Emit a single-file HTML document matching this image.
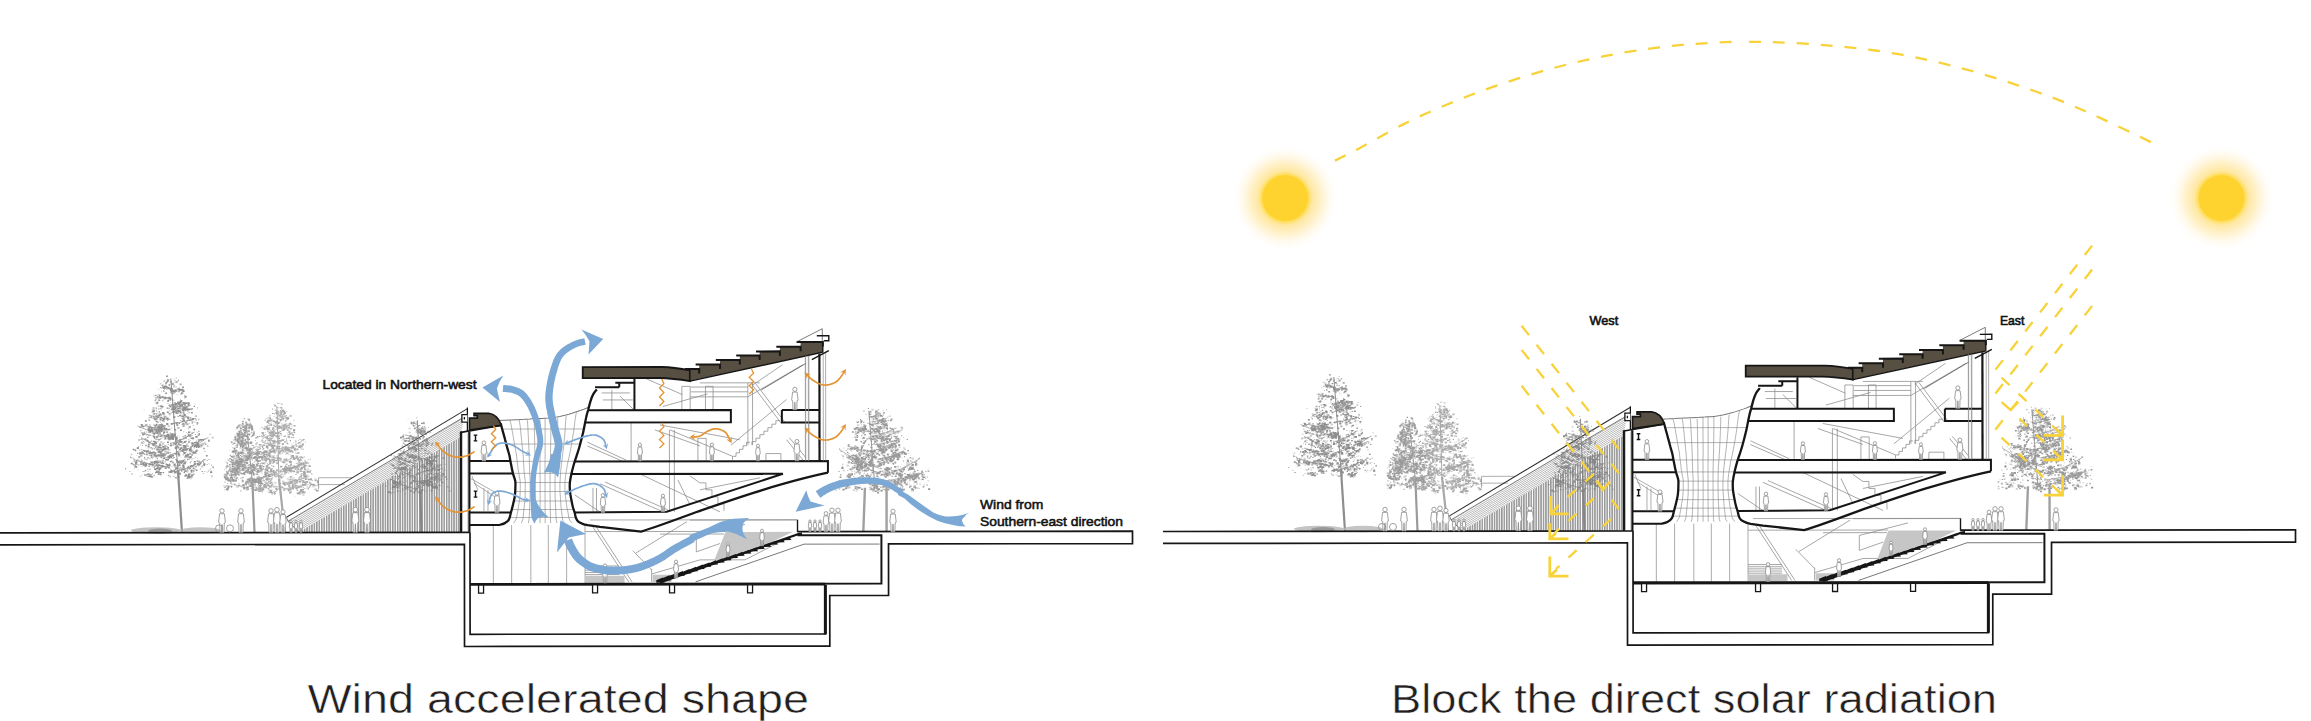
<!DOCTYPE html><html><head><meta charset="utf-8"><style>html,body{margin:0;padding:0;background:#fff;overflow:hidden}svg{display:block}</style></head><body>
<svg width="2311" height="721" viewBox="0 0 2311 721">
<defs><g id="base"><g fill="#a8a8a8" opacity="1.0"><path d="M285.0,532 L279.0,478.0" stroke="#a8a8a8" stroke-width="2.2" fill="none"/><path d="M279.0,478.0 Q278.0,440.0 277.0,406.0" stroke="#a8a8a8" stroke-width="1.0" fill="none"/><path d="M277.8,412.8 Q281.2,412.0 284.7,409.7 M278.2,418.0 Q282.4,417.4 286.7,415.5 M278.5,422.2 Q273.1,421.0 267.8,417.2 M278.9,427.7 Q285.7,426.7 292.6,423.8 M279.3,433.5 Q272.3,431.8 265.3,426.6 M279.5,436.1 Q273.2,434.7 266.9,430.6 M279.9,442.3 Q270.5,440.5 261.1,435.2 M280.2,446.6 Q271.1,445.3 261.9,441.6 M280.5,450.6 Q291.7,448.0 302.9,440.3 M281.1,458.8 Q272.1,457.6 263.1,453.7 M281.2,460.6 Q270.1,459.7 259.1,457.0 M281.9,469.3 Q295.6,467.6 309.4,462.5 M282.0,471.3 Q293.9,468.7 305.8,461.1 M282.4,476.4 Q269.1,473.2 255.9,463.4 M282.8,482.8 Q296.0,481.1 309.2,476.1 M283.2,488.5 Q295.9,487.4 308.6,484.3" stroke="#a8a8a8" stroke-width="0.7" fill="none"/><path d="M283.6,413.0h1.4v1.2h-1.4zM279.7,411.7h1.1v0.9h-1.1zM279.8,413.4h1.3v1.0h-1.3zM279.6,413.5h1.3v1.0h-1.3zM280.9,412.8h1.4v1.2h-1.4zM290.1,415.4h0.9v0.8h-0.9zM276.4,416.8h1.4v1.2h-1.4zM283.3,417.9h1.1v0.9h-1.1zM284.8,415.9h2.2v1.8h-2.2zM272.2,418.2h1.3v1.0h-1.3zM265.9,417.6h1.7v1.4h-1.7zM273.3,422.8h0.8v0.6h-0.8zM269.6,416.8h1.4v1.2h-1.4zM268.7,416.2h1.7v1.4h-1.7zM288.4,427.1h0.9v0.8h-0.9zM284.3,424.2h2.2v1.8h-2.2zM282.8,423.5h0.8v0.6h-0.8zM288.3,425.9h1.3v1.0h-1.3zM287.5,425.2h1.9v1.5h-1.9zM287.8,429.6h1.3v1.0h-1.3zM277.2,427.3h1.4v1.2h-1.4zM281.5,428.5h1.4v1.2h-1.4zM279.2,430.3h0.9v0.8h-0.9zM291.5,427.9h0.9v0.8h-0.9zM279.0,427.6h0.8v0.6h-0.8zM269.1,426.8h1.3v1.0h-1.3zM264.6,426.4h1.4v1.2h-1.4zM267.3,424.9h1.7v1.4h-1.7zM278.4,434.9h1.9v1.5h-1.9zM266.7,424.7h1.7v1.4h-1.7zM264.1,425.7h1.1v0.9h-1.1zM275.7,431.5h1.1v0.9h-1.1zM273.5,433.2h1.7v1.4h-1.7zM264.7,432.0h1.3v1.0h-1.3zM271.1,431.4h1.3v1.0h-1.3zM272.6,432.1h1.3v1.0h-1.3zM270.0,432.0h1.4v1.2h-1.4zM279.3,443.0h1.1v0.9h-1.1zM268.7,443.3h1.4v1.2h-1.4zM260.8,435.5h1.9v1.5h-1.9zM263.1,440.9h2.2v1.8h-2.2zM273.7,439.3h1.1v0.9h-1.1zM266.0,444.3h1.3v1.0h-1.3zM266.9,441.6h2.2v1.8h-2.2zM261.7,444.4h1.7v1.4h-1.7zM271.6,442.1h2.2v1.8h-2.2zM267.1,444.5h1.9v1.5h-1.9zM271.6,449.0h2.2v1.8h-2.2zM277.4,445.7h0.8v0.6h-0.8zM267.9,445.4h0.9v0.8h-0.9zM261.3,444.3h1.4v1.2h-1.4zM273.0,443.7h1.7v1.4h-1.7zM273.3,446.1h1.1v0.9h-1.1zM277.6,446.0h2.2v1.8h-2.2zM301.2,441.5h0.8v0.6h-0.8zM282.7,447.9h1.1v0.9h-1.1zM287.0,446.6h2.2v1.8h-2.2zM286.1,447.9h2.2v1.8h-2.2zM301.3,438.9h2.2v1.8h-2.2zM279.8,450.6h1.7v1.4h-1.7zM286.5,450.1h1.4v1.2h-1.4zM298.4,444.4h1.9v1.5h-1.9zM300.5,445.0h1.3v1.0h-1.3zM285.8,448.3h1.1v0.9h-1.1zM290.0,446.6h2.2v1.8h-2.2zM267.7,458.1h1.4v1.2h-1.4zM272.5,458.8h2.2v1.8h-2.2zM268.0,457.0h2.2v1.8h-2.2zM270.9,456.8h1.7v1.4h-1.7zM274.6,457.1h1.4v1.2h-1.4zM272.8,455.1h1.4v1.2h-1.4zM267.7,455.5h0.8v0.6h-0.8zM276.7,459.3h1.1v0.9h-1.1zM268.1,452.3h1.1v0.9h-1.1zM277.4,455.4h1.7v1.4h-1.7zM276.1,454.6h1.9v1.5h-1.9zM268.7,454.5h2.2v1.8h-2.2zM265.1,450.8h1.1v0.9h-1.1zM278.4,457.4h2.2v1.8h-2.2zM264.8,457.4h1.4v1.2h-1.4zM279.8,458.6h2.2v1.8h-2.2zM265.9,458.6h1.7v1.4h-1.7zM272.4,457.6h1.4v1.2h-1.4zM263.4,458.5h1.7v1.4h-1.7zM258.1,459.8h1.1v0.9h-1.1zM255.9,456.4h0.8v0.6h-0.8zM271.9,460.3h1.7v1.4h-1.7zM277.7,462.3h1.1v0.9h-1.1zM279.5,458.6h1.7v1.4h-1.7zM263.7,461.9h1.3v1.0h-1.3zM257.0,462.5h1.4v1.2h-1.4zM273.0,458.0h2.2v1.8h-2.2zM293.2,466.3h0.9v0.8h-0.9zM283.2,468.5h0.9v0.8h-0.9zM292.0,466.5h1.7v1.4h-1.7zM290.5,467.4h1.4v1.2h-1.4zM305.7,463.1h1.1v0.9h-1.1zM299.7,465.8h0.9v0.8h-0.9zM306.6,466.8h0.9v0.8h-0.9zM295.0,467.0h0.9v0.8h-0.9zM284.1,471.2h1.4v1.2h-1.4zM303.2,466.0h1.3v1.0h-1.3zM283.5,473.3h2.2v1.8h-2.2zM307.7,458.8h1.4v1.2h-1.4zM302.1,460.8h0.8v0.6h-0.8zM286.7,469.0h0.8v0.6h-0.8zM298.3,466.6h1.3v1.0h-1.3zM290.3,469.3h1.7v1.4h-1.7zM277.0,475.5h1.3v1.0h-1.3zM262.9,468.2h0.9v0.8h-0.9zM256.3,468.5h1.1v0.9h-1.1zM274.7,474.3h1.1v0.9h-1.1zM259.0,467.0h0.9v0.8h-0.9zM269.9,473.4h0.9v0.8h-0.9zM264.3,463.6h0.8v0.6h-0.8zM266.7,465.8h2.2v1.8h-2.2zM276.4,473.7h0.9v0.8h-0.9zM263.3,467.4h0.9v0.8h-0.9zM252.1,466.1h1.3v1.0h-1.3zM266.5,468.9h1.3v1.0h-1.3zM279.2,476.3h1.7v1.4h-1.7zM272.4,474.0h0.8v0.6h-0.8zM257.7,465.9h1.1v0.9h-1.1zM269.2,474.8h0.9v0.8h-0.9zM314.4,478.0h1.7v1.4h-1.7zM303.0,475.7h1.3v1.0h-1.3zM284.1,481.6h0.9v0.8h-0.9zM288.3,481.5h0.8v0.6h-0.8zM311.6,479.4h1.7v1.4h-1.7zM304.7,480.6h1.3v1.0h-1.3zM286.3,482.8h1.7v1.4h-1.7zM297.9,480.8h1.3v1.0h-1.3zM302.1,481.0h1.9v1.5h-1.9zM292.7,480.6h0.8v0.6h-0.8zM289.0,482.3h0.9v0.8h-0.9zM290.0,480.5h2.2v1.8h-2.2zM287.4,488.1h1.4v1.2h-1.4zM292.9,487.5h1.3v1.0h-1.3zM304.5,489.4h0.8v0.6h-0.8zM299.0,487.5h0.9v0.8h-0.9zM295.9,484.4h1.9v1.5h-1.9zM294.2,484.7h1.9v1.5h-1.9zM298.5,484.9h1.9v1.5h-1.9zM283.4,487.5h2.2v1.8h-2.2zM311.6,484.3h0.9v0.8h-0.9zM312.1,485.5h1.7v1.4h-1.7zM286.3,489.2h0.8v0.6h-0.8zM283.5,489.4h1.7v1.4h-1.7zM265.8,485.4h1.3v1.0h-1.3zM266.2,483.1h0.9v0.8h-0.9zM266.5,484.7h0.8v0.6h-0.8zM259.2,485.5h1.3v1.0h-1.3zM281.1,488.8h0.8v0.6h-0.8zM279.7,488.6h1.7v1.4h-1.7zM279.4,487.9h1.7v1.4h-1.7zM277.6,487.7h2.2v1.8h-2.2zM282.6,459.4h0.8v0.6h-0.8zM285.2,459.0h0.8v0.6h-0.8zM286.6,459.9h2.2v1.8h-2.2zM281.4,460.5h2.2v1.8h-2.2zM283.7,459.9h1.3v1.0h-1.3zM284.8,458.9h0.8v0.6h-0.8zM283.3,458.3h1.7v1.4h-1.7zM288.0,458.6h1.7v1.4h-1.7zM285.2,457.8h2.2v1.8h-2.2zM293.8,465.1h0.9v0.8h-0.9zM287.1,460.6h0.8v0.6h-0.8zM282.3,461.1h1.1v0.9h-1.1zM297.3,467.8h1.1v0.9h-1.1zM296.2,469.3h2.2v1.8h-2.2zM296.5,471.4h1.9v1.5h-1.9zM296.7,472.1h1.3v1.0h-1.3zM298.1,471.0h1.7v1.4h-1.7zM297.7,467.2h0.8v0.6h-0.8zM260.8,452.6h1.4v1.2h-1.4zM267.3,451.1h1.9v1.5h-1.9zM264.6,451.3h1.7v1.4h-1.7zM265.0,451.3h1.9v1.5h-1.9zM265.0,451.0h1.9v1.5h-1.9zM264.9,450.1h1.9v1.5h-1.9zM264.2,450.9h2.2v1.8h-2.2zM284.4,467.5h2.2v1.8h-2.2zM285.3,467.5h1.7v1.4h-1.7zM287.1,466.2h1.4v1.2h-1.4zM282.1,467.9h1.9v1.5h-1.9zM287.5,467.6h1.4v1.2h-1.4zM281.2,427.9h1.7v1.4h-1.7zM279.2,426.8h1.9v1.5h-1.9zM279.1,426.8h1.1v0.9h-1.1zM275.9,425.9h1.9v1.5h-1.9zM276.6,429.0h0.9v0.8h-0.9zM271.7,440.5h1.9v1.5h-1.9zM272.9,441.0h1.3v1.0h-1.3zM275.7,444.5h0.8v0.6h-0.8zM290.6,457.6h0.9v0.8h-0.9zM297.1,458.6h2.2v1.8h-2.2zM294.0,458.2h1.4v1.2h-1.4zM293.5,457.4h0.9v0.8h-0.9zM280.4,469.6h2.2v1.8h-2.2zM266.4,464.7h2.2v1.8h-2.2zM265.4,467.5h2.2v1.8h-2.2zM269.2,463.5h1.3v1.0h-1.3zM273.2,490.9h1.1v0.9h-1.1zM267.7,491.4h1.3v1.0h-1.3zM271.5,493.5h1.9v1.5h-1.9zM271.5,482.3h1.9v1.5h-1.9zM270.9,478.4h1.7v1.4h-1.7zM272.1,481.6h0.9v0.8h-0.9zM257.3,484.8h1.1v0.9h-1.1zM255.1,487.3h1.4v1.2h-1.4zM255.2,489.3h1.4v1.2h-1.4zM254.5,486.7h1.4v1.2h-1.4zM254.7,485.7h1.9v1.5h-1.9zM298.5,456.0h2.2v1.8h-2.2zM297.2,457.1h1.4v1.2h-1.4zM290.5,456.6h2.2v1.8h-2.2zM296.0,456.1h1.3v1.0h-1.3zM301.9,457.0h1.9v1.5h-1.9zM289.5,479.8h1.1v0.9h-1.1zM291.5,477.8h2.2v1.8h-2.2zM292.1,480.5h1.9v1.5h-1.9zM293.4,476.9h0.8v0.6h-0.8zM295.1,479.5h1.3v1.0h-1.3zM294.2,479.2h1.1v0.9h-1.1zM296.4,479.9h1.3v1.0h-1.3zM294.7,448.4h2.2v1.8h-2.2zM294.2,447.1h2.2v1.8h-2.2zM291.1,449.5h1.1v0.9h-1.1zM290.8,449.7h1.7v1.4h-1.7zM292.0,447.8h0.9v0.8h-0.9zM268.6,474.6h1.9v1.5h-1.9zM261.0,478.6h0.9v0.8h-0.9zM270.4,477.6h2.2v1.8h-2.2zM267.1,478.4h1.9v1.5h-1.9zM303.3,465.8h0.9v0.8h-0.9zM303.0,471.0h2.2v1.8h-2.2zM306.7,468.6h1.9v1.5h-1.9zM301.1,469.4h1.1v0.9h-1.1zM268.5,484.9h0.9v0.8h-0.9zM263.7,484.8h0.8v0.6h-0.8zM271.3,489.2h1.3v1.0h-1.3zM268.3,487.1h1.7v1.4h-1.7zM266.6,484.6h1.3v1.0h-1.3zM267.5,487.3h1.7v1.4h-1.7zM289.3,448.0h1.4v1.2h-1.4zM290.4,449.5h0.8v0.6h-0.8zM286.9,450.0h1.3v1.0h-1.3zM274.9,471.5h2.2v1.8h-2.2zM276.1,468.5h1.9v1.5h-1.9zM275.1,471.2h0.9v0.8h-0.9zM288.3,481.1h1.9v1.5h-1.9zM289.6,485.8h1.1v0.9h-1.1zM295.1,484.4h2.2v1.8h-2.2zM291.5,483.7h0.8v0.6h-0.8zM291.5,482.4h1.7v1.4h-1.7zM289.7,481.3h2.2v1.8h-2.2zM288.4,482.5h1.1v0.9h-1.1zM285.3,483.3h1.1v0.9h-1.1zM285.1,448.9h1.3v1.0h-1.3zM284.9,448.4h0.8v0.6h-0.8zM285.9,448.7h1.1v0.9h-1.1zM285.3,449.7h2.2v1.8h-2.2zM286.0,449.8h1.7v1.4h-1.7zM288.4,448.3h1.9v1.5h-1.9zM269.4,452.1h1.3v1.0h-1.3zM269.4,450.4h1.9v1.5h-1.9zM274.2,452.1h1.9v1.5h-1.9zM303.0,473.5h1.1v0.9h-1.1zM303.4,474.5h1.7v1.4h-1.7zM301.2,472.9h1.3v1.0h-1.3zM301.9,472.6h0.8v0.6h-0.8zM304.3,472.2h0.9v0.8h-0.9zM303.5,472.9h0.8v0.6h-0.8zM258.5,486.1h1.3v1.0h-1.3zM259.0,487.6h0.9v0.8h-0.9zM263.6,485.1h0.9v0.8h-0.9zM259.4,486.5h2.2v1.8h-2.2zM284.1,447.3h1.1v0.9h-1.1zM280.7,447.8h1.1v0.9h-1.1zM281.7,446.8h1.1v0.9h-1.1zM310.2,482.5h0.8v0.6h-0.8zM308.7,482.4h1.3v1.0h-1.3zM307.4,480.4h1.4v1.2h-1.4zM309.4,481.0h1.1v0.9h-1.1zM309.7,482.3h1.9v1.5h-1.9zM280.7,439.2h1.3v1.0h-1.3zM279.4,437.9h0.8v0.6h-0.8zM302.3,492.6h1.4v1.2h-1.4zM300.3,492.2h1.3v1.0h-1.3zM297.2,492.5h0.8v0.6h-0.8zM302.4,493.8h2.2v1.8h-2.2zM299.6,491.1h1.4v1.2h-1.4zM297.0,492.2h0.8v0.6h-0.8zM290.5,432.2h1.4v1.2h-1.4zM288.1,431.3h1.1v0.9h-1.1zM294.3,433.1h0.9v0.8h-0.9zM289.9,430.3h1.1v0.9h-1.1zM288.9,433.0h2.2v1.8h-2.2zM282.4,480.8h2.2v1.8h-2.2zM273.5,468.2h0.9v0.8h-0.9zM303.5,470.4h1.3v1.0h-1.3zM268.8,487.0h1.4v1.2h-1.4zM288.9,436.5h1.7v1.4h-1.7zM269.9,451.4h1.1v0.9h-1.1zM267.2,443.1h0.8v0.6h-0.8zM276.4,410.6h1.9v1.5h-1.9zM300.6,445.5h2.2v1.8h-2.2zM292.1,476.1h1.4v1.2h-1.4zM295.0,455.3h1.1v0.9h-1.1zM286.4,471.3h1.9v1.5h-1.9zM279.0,452.6h2.2v1.8h-2.2zM268.9,462.3h1.4v1.2h-1.4zM273.5,415.9h1.1v0.9h-1.1zM285.6,459.9h2.2v1.8h-2.2zM274.2,481.4h1.1v0.9h-1.1zM303.7,476.0h1.7v1.4h-1.7zM262.1,488.0h1.4v1.2h-1.4zM270.1,422.5h1.9v1.5h-1.9zM293.1,434.3h0.9v0.8h-0.9zM274.2,454.9h0.8v0.6h-0.8zM281.0,424.4h1.3v1.0h-1.3zM274.3,481.6h2.2v1.8h-2.2zM287.0,434.2h1.3v1.0h-1.3zM256.2,479.3h0.8v0.6h-0.8zM277.5,441.0h0.8v0.6h-0.8zM260.9,439.9h1.9v1.5h-1.9zM256.1,455.9h1.4v1.2h-1.4zM272.8,484.2h1.1v0.9h-1.1zM286.4,478.0h1.1v0.9h-1.1zM282.5,475.7h1.7v1.4h-1.7zM299.4,485.2h0.9v0.8h-0.9zM300.4,447.3h2.2v1.8h-2.2zM285.6,425.2h1.4v1.2h-1.4zM267.1,477.4h1.9v1.5h-1.9zM285.2,487.9h1.9v1.5h-1.9zM277.1,422.9h1.9v1.5h-1.9zM274.4,421.2h1.4v1.2h-1.4zM285.3,452.3h2.2v1.8h-2.2zM286.7,432.1h1.4v1.2h-1.4zM250.0,481.7h2.2v1.8h-2.2zM264.9,437.4h1.1v0.9h-1.1zM268.9,458.1h1.7v1.4h-1.7zM289.9,459.3h1.3v1.0h-1.3zM285.7,442.9h0.8v0.6h-0.8zM270.2,432.3h1.4v1.2h-1.4zM279.9,479.2h1.1v0.9h-1.1zM285.0,470.7h1.3v1.0h-1.3zM269.8,433.9h1.7v1.4h-1.7zM295.3,465.6h2.2v1.8h-2.2zM289.8,466.0h1.4v1.2h-1.4zM258.4,446.3h1.7v1.4h-1.7zM275.4,405.9h0.9v0.8h-0.9zM301.4,445.3h1.3v1.0h-1.3zM281.0,422.9h1.4v1.2h-1.4zM295.0,451.3h1.4v1.2h-1.4zM268.5,459.2h0.8v0.6h-0.8zM300.3,483.4h0.9v0.8h-0.9zM271.3,413.9h0.8v0.6h-0.8zM290.9,424.1h0.8v0.6h-0.8zM281.3,416.0h1.4v1.2h-1.4zM318.6,485.9h1.4v1.2h-1.4zM256.2,488.7h1.4v1.2h-1.4zM279.4,402.8h1.1v0.9h-1.1zM257.4,453.2h2.2v1.8h-2.2zM304.2,459.4h1.9v1.5h-1.9zM294.8,439.6h1.9v1.5h-1.9zM280.8,402.9h0.9v0.8h-0.9zM314.5,475.7h0.8v0.6h-0.8zM268.5,489.2h1.3v1.0h-1.3zM293.2,442.0h1.1v0.9h-1.1zM279.1,409.7h0.9v0.8h-0.9zM265.5,474.0h1.9v1.5h-1.9zM313.8,486.6h0.9v0.8h-0.9zM291.4,437.3h0.8v0.6h-0.8zM248.3,478.5h1.4v1.2h-1.4zM259.1,450.8h0.9v0.8h-0.9zM310.2,482.3h1.4v1.2h-1.4zM285.5,428.0h2.2v1.8h-2.2zM281.9,421.7h0.8v0.6h-0.8zM302.4,456.5h1.9v1.5h-1.9zM262.8,479.4h2.2v1.8h-2.2zM261.1,444.8h1.4v1.2h-1.4zM302.0,490.0h1.7v1.4h-1.7zM284.0,438.1h0.9v0.8h-0.9zM280.6,425.4h1.9v1.5h-1.9zM277.2,415.3h1.9v1.5h-1.9zM276.4,417.4h1.3v1.0h-1.3zM287.3,478.2h2.2v1.8h-2.2zM263.8,450.0h1.3v1.0h-1.3zM268.0,422.4h2.2v1.8h-2.2zM288.8,481.6h2.2v1.8h-2.2zM272.7,412.8h1.3v1.0h-1.3zM261.9,487.6h1.3v1.0h-1.3zM257.8,483.7h1.1v0.9h-1.1zM278.2,406.8h1.4v1.2h-1.4zM301.0,486.4h1.3v1.0h-1.3zM284.6,420.0h1.4v1.2h-1.4zM274.5,438.3h0.8v0.6h-0.8zM307.1,465.2h0.9v0.8h-0.9zM297.5,452.2h1.1v0.9h-1.1z" fill-opacity="0.45"/><path d="M280.3,410.8h1.1v0.9h-1.1zM275.9,410.4h1.1v0.9h-1.1zM280.0,413.1h2.2v1.8h-2.2zM281.0,410.4h1.7v1.4h-1.7zM283.7,415.5h1.1v0.9h-1.1zM280.0,415.5h1.1v0.9h-1.1zM280.9,416.0h0.8v0.6h-0.8zM289.7,414.6h2.2v1.8h-2.2zM275.7,416.6h1.7v1.4h-1.7zM271.2,421.3h0.8v0.6h-0.8zM279.8,421.3h1.3v1.0h-1.3zM277.9,421.4h2.2v1.8h-2.2zM276.1,420.2h2.2v1.8h-2.2zM275.6,422.3h1.3v1.0h-1.3zM269.9,418.0h0.8v0.6h-0.8zM289.9,427.6h2.2v1.8h-2.2zM285.6,424.4h2.2v1.8h-2.2zM281.6,429.4h1.3v1.0h-1.3zM289.1,426.1h1.4v1.2h-1.4zM287.8,424.4h1.7v1.4h-1.7zM293.4,419.4h1.3v1.0h-1.3zM272.2,427.8h0.9v0.8h-0.9zM272.0,432.3h0.9v0.8h-0.9zM278.3,434.9h1.4v1.2h-1.4zM272.6,430.7h1.9v1.5h-1.9zM273.2,433.8h2.2v1.8h-2.2zM276.9,435.5h0.8v0.6h-0.8zM272.5,434.2h1.1v0.9h-1.1zM279.1,431.6h0.9v0.8h-0.9zM281.0,434.9h1.3v1.0h-1.3zM271.1,432.9h1.9v1.5h-1.9zM267.6,427.1h0.8v0.6h-0.8zM268.8,432.8h1.9v1.5h-1.9zM269.4,438.3h0.8v0.6h-0.8zM269.1,437.3h1.7v1.4h-1.7zM266.2,437.5h1.3v1.0h-1.3zM273.1,441.3h1.9v1.5h-1.9zM264.7,436.1h1.4v1.2h-1.4zM267.3,439.2h1.9v1.5h-1.9zM274.7,442.1h1.3v1.0h-1.3zM279.4,442.4h0.9v0.8h-0.9zM267.4,439.3h1.3v1.0h-1.3zM278.7,448.5h1.9v1.5h-1.9zM264.7,443.0h0.9v0.8h-0.9zM269.2,443.1h1.7v1.4h-1.7zM271.0,445.5h2.2v1.8h-2.2zM275.8,445.9h1.7v1.4h-1.7zM271.5,445.7h1.4v1.2h-1.4zM285.4,449.3h1.9v1.5h-1.9zM295.7,444.8h1.9v1.5h-1.9zM284.8,450.4h1.4v1.2h-1.4zM293.2,446.7h1.4v1.2h-1.4zM295.9,445.6h1.3v1.0h-1.3zM279.1,457.1h1.9v1.5h-1.9zM267.2,457.9h1.7v1.4h-1.7zM273.1,458.8h1.9v1.5h-1.9zM263.6,459.8h1.1v0.9h-1.1zM269.3,454.5h2.2v1.8h-2.2zM273.6,459.5h1.1v0.9h-1.1zM278.3,459.0h0.8v0.6h-0.8zM267.9,454.0h2.2v1.8h-2.2zM278.6,458.2h0.8v0.6h-0.8zM260.3,453.5h1.9v1.5h-1.9zM272.4,455.3h2.2v1.8h-2.2zM270.4,460.0h1.3v1.0h-1.3zM264.6,455.9h2.2v1.8h-2.2zM269.3,462.0h2.2v1.8h-2.2zM257.9,457.3h0.8v0.6h-0.8zM266.1,458.3h1.1v0.9h-1.1zM276.9,458.3h1.1v0.9h-1.1zM265.2,460.0h1.9v1.5h-1.9zM291.3,467.2h2.2v1.8h-2.2zM308.0,463.3h0.9v0.8h-0.9zM296.7,464.8h2.2v1.8h-2.2zM305.2,462.6h1.3v1.0h-1.3zM294.5,467.8h2.2v1.8h-2.2zM297.9,461.1h2.2v1.8h-2.2zM290.3,469.7h1.1v0.9h-1.1zM286.1,468.7h2.2v1.8h-2.2zM290.8,471.0h1.4v1.2h-1.4zM303.8,465.9h1.3v1.0h-1.3zM305.0,462.8h0.8v0.6h-0.8zM303.6,464.0h1.4v1.2h-1.4zM290.1,468.5h1.7v1.4h-1.7zM297.2,467.4h1.7v1.4h-1.7zM290.0,467.9h2.2v1.8h-2.2zM285.2,469.9h1.1v0.9h-1.1zM284.3,471.5h1.7v1.4h-1.7zM290.3,468.9h1.4v1.2h-1.4zM295.8,462.5h1.4v1.2h-1.4zM309.2,465.8h1.3v1.0h-1.3zM305.6,461.2h2.2v1.8h-2.2zM286.9,470.9h0.9v0.8h-0.9zM299.0,465.8h0.8v0.6h-0.8zM288.6,468.4h1.9v1.5h-1.9zM294.2,465.4h2.2v1.8h-2.2zM264.5,470.8h1.4v1.2h-1.4zM254.9,465.8h1.4v1.2h-1.4zM265.1,470.0h0.9v0.8h-0.9zM264.8,469.3h2.2v1.8h-2.2zM261.8,471.1h1.1v0.9h-1.1zM274.3,474.0h0.8v0.6h-0.8zM278.9,475.3h1.7v1.4h-1.7zM274.2,473.0h0.9v0.8h-0.9zM266.0,471.8h1.7v1.4h-1.7zM261.5,464.9h1.1v0.9h-1.1zM272.6,473.6h1.9v1.5h-1.9zM292.4,479.6h1.3v1.0h-1.3zM284.0,483.8h2.2v1.8h-2.2zM292.1,484.5h2.2v1.8h-2.2zM306.4,474.3h0.8v0.6h-0.8zM300.0,480.5h0.8v0.6h-0.8zM293.6,482.3h1.1v0.9h-1.1zM288.0,482.4h0.8v0.6h-0.8zM283.7,482.8h0.8v0.6h-0.8zM305.9,478.1h1.9v1.5h-1.9zM299.0,476.1h1.7v1.4h-1.7zM302.8,479.8h1.7v1.4h-1.7zM302.6,478.3h0.8v0.6h-0.8zM295.9,480.8h0.8v0.6h-0.8zM302.6,477.4h1.7v1.4h-1.7zM305.0,477.4h1.1v0.9h-1.1zM304.8,477.4h1.3v1.0h-1.3zM288.5,489.1h2.2v1.8h-2.2zM290.0,487.4h1.3v1.0h-1.3zM289.8,487.1h1.3v1.0h-1.3zM306.4,487.3h1.3v1.0h-1.3zM295.6,482.5h0.9v0.8h-0.9zM300.5,484.6h1.1v0.9h-1.1zM287.6,488.1h0.8v0.6h-0.8zM290.9,487.8h0.9v0.8h-0.9zM288.3,488.2h1.7v1.4h-1.7zM267.2,485.0h1.4v1.2h-1.4zM262.8,485.6h0.9v0.8h-0.9zM277.4,485.8h1.4v1.2h-1.4zM273.0,485.4h2.2v1.8h-2.2zM283.6,458.8h1.9v1.5h-1.9zM289.3,459.1h0.8v0.6h-0.8zM284.3,460.3h1.1v0.9h-1.1zM286.8,457.4h0.8v0.6h-0.8zM284.7,459.0h0.8v0.6h-0.8zM288.7,459.4h0.8v0.6h-0.8zM285.8,463.3h1.9v1.5h-1.9zM286.2,467.0h1.3v1.0h-1.3zM298.1,468.7h1.3v1.0h-1.3zM296.9,468.9h1.1v0.9h-1.1zM297.3,470.5h1.7v1.4h-1.7zM296.6,471.5h2.2v1.8h-2.2zM262.5,454.2h2.2v1.8h-2.2zM269.0,452.3h0.9v0.8h-0.9zM261.1,451.2h0.8v0.6h-0.8zM265.7,453.4h1.3v1.0h-1.3zM263.0,451.9h1.9v1.5h-1.9zM261.1,451.4h2.2v1.8h-2.2zM265.1,450.0h1.7v1.4h-1.7zM259.2,450.8h1.9v1.5h-1.9zM260.8,451.6h1.3v1.0h-1.3zM262.3,448.5h1.4v1.2h-1.4zM284.0,467.8h0.8v0.6h-0.8zM283.4,467.8h1.7v1.4h-1.7zM290.2,466.6h1.7v1.4h-1.7zM274.1,424.4h1.4v1.2h-1.4zM277.4,425.1h1.7v1.4h-1.7zM278.6,426.9h1.7v1.4h-1.7zM279.8,426.2h0.9v0.8h-0.9zM272.9,444.2h0.8v0.6h-0.8zM272.2,444.3h1.3v1.0h-1.3zM270.7,444.3h1.4v1.2h-1.4zM293.6,458.2h0.9v0.8h-0.9zM294.5,457.1h2.2v1.8h-2.2zM290.7,455.3h2.2v1.8h-2.2zM290.7,457.9h0.8v0.6h-0.8zM293.2,458.1h0.8v0.6h-0.8zM283.9,469.7h1.7v1.4h-1.7zM286.4,468.1h1.4v1.2h-1.4zM285.9,472.9h0.9v0.8h-0.9zM283.9,467.3h0.9v0.8h-0.9zM283.9,469.4h1.9v1.5h-1.9zM280.1,469.0h0.8v0.6h-0.8zM266.1,466.5h1.3v1.0h-1.3zM270.5,493.1h0.8v0.6h-0.8zM270.4,490.0h1.9v1.5h-1.9zM270.1,481.2h2.2v1.8h-2.2zM270.7,485.9h1.7v1.4h-1.7zM267.5,484.2h0.9v0.8h-0.9zM260.1,487.7h2.2v1.8h-2.2zM258.4,490.3h1.4v1.2h-1.4zM256.0,488.0h0.9v0.8h-0.9zM256.8,488.0h0.8v0.6h-0.8zM296.1,457.6h1.1v0.9h-1.1zM295.9,455.2h1.7v1.4h-1.7zM304.3,456.1h0.9v0.8h-0.9zM293.9,477.3h0.8v0.6h-0.8zM295.1,478.7h1.9v1.5h-1.9zM293.8,477.4h0.8v0.6h-0.8zM298.5,478.1h1.9v1.5h-1.9zM291.8,479.3h1.7v1.4h-1.7zM295.9,480.1h2.2v1.8h-2.2zM291.9,450.8h1.4v1.2h-1.4zM291.0,449.5h1.3v1.0h-1.3zM298.6,446.9h1.1v0.9h-1.1zM271.9,476.5h1.3v1.0h-1.3zM265.4,477.0h0.8v0.6h-0.8zM267.8,477.7h1.9v1.5h-1.9zM265.0,475.5h1.9v1.5h-1.9zM265.8,474.8h1.9v1.5h-1.9zM303.5,470.2h1.9v1.5h-1.9zM303.1,472.8h1.4v1.2h-1.4zM305.5,470.1h0.9v0.8h-0.9zM308.8,470.9h2.2v1.8h-2.2zM304.9,467.7h1.1v0.9h-1.1zM309.6,469.8h1.9v1.5h-1.9zM262.4,487.1h1.9v1.5h-1.9zM271.3,483.5h1.9v1.5h-1.9zM287.6,449.3h1.4v1.2h-1.4zM287.9,448.7h0.8v0.6h-0.8zM287.9,452.1h1.3v1.0h-1.3zM275.0,471.1h1.3v1.0h-1.3zM277.8,469.6h1.3v1.0h-1.3zM272.4,470.7h1.1v0.9h-1.1zM289.9,482.4h0.9v0.8h-0.9zM287.1,482.4h1.7v1.4h-1.7zM290.6,482.9h1.1v0.9h-1.1zM287.3,483.8h1.3v1.0h-1.3zM288.1,484.0h1.4v1.2h-1.4zM287.1,447.6h0.9v0.8h-0.9zM286.7,449.5h1.4v1.2h-1.4zM286.5,448.5h1.1v0.9h-1.1zM285.6,448.4h1.3v1.0h-1.3zM281.0,449.1h1.1v0.9h-1.1zM287.0,449.3h1.4v1.2h-1.4zM281.4,451.2h1.3v1.0h-1.3zM271.1,451.4h1.7v1.4h-1.7zM275.4,452.1h1.1v0.9h-1.1zM274.6,449.8h2.2v1.8h-2.2zM273.3,448.2h1.9v1.5h-1.9zM273.1,451.4h1.7v1.4h-1.7zM275.3,448.5h2.2v1.8h-2.2zM272.8,447.6h0.8v0.6h-0.8zM272.8,449.8h0.8v0.6h-0.8zM279.0,451.0h1.9v1.5h-1.9zM301.1,473.0h0.9v0.8h-0.9zM302.3,473.1h0.8v0.6h-0.8zM302.6,473.2h1.3v1.0h-1.3zM258.0,487.4h1.3v1.0h-1.3zM261.1,487.7h2.2v1.8h-2.2zM253.9,486.1h0.8v0.6h-0.8zM259.0,487.8h2.2v1.8h-2.2zM255.8,489.4h1.3v1.0h-1.3zM281.2,450.0h1.4v1.2h-1.4zM281.9,446.7h1.9v1.5h-1.9zM285.3,445.7h1.9v1.5h-1.9zM282.1,446.3h2.2v1.8h-2.2zM305.8,481.1h0.9v0.8h-0.9zM309.4,482.3h1.3v1.0h-1.3zM285.8,439.9h1.7v1.4h-1.7zM277.8,439.7h1.9v1.5h-1.9zM279.4,440.9h1.7v1.4h-1.7zM297.8,492.5h1.9v1.5h-1.9zM294.6,495.9h0.8v0.6h-0.8zM300.7,491.0h1.1v0.9h-1.1zM303.8,491.8h1.3v1.0h-1.3zM299.0,490.7h1.9v1.5h-1.9zM293.0,431.0h0.8v0.6h-0.8zM293.1,431.0h1.3v1.0h-1.3zM292.4,432.4h0.8v0.6h-0.8zM289.5,432.6h1.3v1.0h-1.3zM283.7,423.4h1.9v1.5h-1.9zM317.0,484.1h1.7v1.4h-1.7zM286.7,446.5h2.2v1.8h-2.2zM304.3,482.1h0.8v0.6h-0.8zM285.1,420.0h1.7v1.4h-1.7zM252.9,485.1h1.3v1.0h-1.3zM300.1,467.8h2.2v1.8h-2.2zM276.8,406.8h0.9v0.8h-0.9zM271.0,464.8h1.3v1.0h-1.3zM288.3,483.5h2.2v1.8h-2.2zM269.1,419.6h2.2v1.8h-2.2zM264.3,450.3h1.3v1.0h-1.3zM292.5,458.6h0.9v0.8h-0.9zM271.0,477.5h1.4v1.2h-1.4zM276.5,469.8h1.7v1.4h-1.7zM288.1,426.8h2.2v1.8h-2.2zM260.1,490.5h1.4v1.2h-1.4zM300.2,473.5h0.9v0.8h-0.9zM278.5,452.4h1.9v1.5h-1.9zM290.0,453.9h0.9v0.8h-0.9zM270.9,472.9h1.7v1.4h-1.7zM253.8,478.4h1.3v1.0h-1.3zM292.0,431.6h0.9v0.8h-0.9zM276.6,440.1h1.3v1.0h-1.3zM290.1,488.4h1.7v1.4h-1.7zM268.5,444.3h1.4v1.2h-1.4zM283.4,449.4h1.4v1.2h-1.4zM271.6,470.3h0.9v0.8h-0.9zM274.6,456.7h0.8v0.6h-0.8zM262.8,438.0h0.8v0.6h-0.8zM267.0,421.8h0.8v0.6h-0.8zM295.2,441.4h1.3v1.0h-1.3zM314.5,488.2h2.2v1.8h-2.2zM270.6,434.0h1.4v1.2h-1.4zM269.9,491.5h1.3v1.0h-1.3zM317.5,489.9h1.7v1.4h-1.7zM280.4,473.3h2.2v1.8h-2.2zM291.6,425.5h0.9v0.8h-0.9zM250.2,481.5h1.9v1.5h-1.9zM282.2,414.7h0.9v0.8h-0.9zM299.2,485.6h1.7v1.4h-1.7zM295.9,486.4h2.2v1.8h-2.2zM282.1,408.0h0.9v0.8h-0.9zM273.0,465.9h0.9v0.8h-0.9zM261.9,444.2h0.8v0.6h-0.8zM254.2,469.6h1.3v1.0h-1.3zM288.5,469.8h0.8v0.6h-0.8zM316.9,479.8h2.2v1.8h-2.2zM291.0,483.2h0.9v0.8h-0.9zM291.6,481.0h0.8v0.6h-0.8zM275.5,485.4h1.4v1.2h-1.4zM256.4,471.5h1.7v1.4h-1.7zM275.6,441.2h1.3v1.0h-1.3zM262.7,433.8h1.4v1.2h-1.4zM295.5,440.9h1.1v0.9h-1.1zM279.3,440.0h2.2v1.8h-2.2zM288.2,472.2h1.3v1.0h-1.3zM280.7,426.7h1.9v1.5h-1.9zM287.9,466.7h2.2v1.8h-2.2zM269.2,437.0h0.8v0.6h-0.8zM291.2,436.4h1.7v1.4h-1.7zM270.0,416.8h0.9v0.8h-0.9zM283.9,473.3h0.8v0.6h-0.8zM285.0,414.7h0.9v0.8h-0.9zM291.3,443.4h1.1v0.9h-1.1zM276.5,463.4h1.1v0.9h-1.1zM291.8,445.1h2.2v1.8h-2.2zM288.8,465.8h0.9v0.8h-0.9zM265.8,425.5h2.2v1.8h-2.2zM300.2,446.7h1.1v0.9h-1.1zM250.3,483.9h2.2v1.8h-2.2zM291.9,426.5h0.8v0.6h-0.8zM256.5,460.5h2.2v1.8h-2.2zM274.1,415.6h0.8v0.6h-0.8zM282.4,418.6h1.7v1.4h-1.7zM302.5,448.5h1.4v1.2h-1.4zM284.5,417.8h0.8v0.6h-0.8zM273.4,424.4h1.1v0.9h-1.1zM282.7,409.4h1.1v0.9h-1.1zM268.2,491.1h0.9v0.8h-0.9zM298.4,451.9h1.4v1.2h-1.4zM313.7,484.5h1.9v1.5h-1.9zM290.5,480.8h2.2v1.8h-2.2zM262.9,437.0h1.1v0.9h-1.1zM263.5,431.7h0.8v0.6h-0.8zM283.7,438.9h0.8v0.6h-0.8zM299.5,444.8h1.3v1.0h-1.3zM267.3,421.6h1.4v1.2h-1.4zM266.3,465.7h0.8v0.6h-0.8zM285.5,425.0h1.4v1.2h-1.4zM307.0,487.7h0.8v0.6h-0.8zM275.0,442.9h0.8v0.6h-0.8zM303.9,468.0h0.8v0.6h-0.8z" fill-opacity="0.7"/><path d="M275.6,411.8h2.2v1.8h-2.2zM280.2,409.8h0.9v0.8h-0.9zM281.2,409.0h0.8v0.6h-0.8zM283.0,410.4h2.2v1.8h-2.2zM281.5,413.1h1.3v1.0h-1.3zM278.7,414.5h2.2v1.8h-2.2zM285.1,411.8h1.1v0.9h-1.1zM280.4,412.0h1.4v1.2h-1.4zM280.3,410.1h1.3v1.0h-1.3zM283.4,413.9h1.4v1.2h-1.4zM280.5,412.1h1.9v1.5h-1.9zM282.3,411.2h1.1v0.9h-1.1zM286.3,410.9h1.1v0.9h-1.1zM282.3,417.1h1.9v1.5h-1.9zM288.9,415.7h0.8v0.6h-0.8zM283.0,413.6h1.3v1.0h-1.3zM279.8,418.8h2.2v1.8h-2.2zM283.6,417.6h0.8v0.6h-0.8zM286.8,416.7h2.2v1.8h-2.2zM286.6,418.5h1.1v0.9h-1.1zM287.6,417.7h1.7v1.4h-1.7zM281.2,417.2h1.3v1.0h-1.3zM280.3,418.7h0.9v0.8h-0.9zM277.3,417.9h1.7v1.4h-1.7zM285.7,417.2h2.2v1.8h-2.2zM286.1,414.9h0.9v0.8h-0.9zM282.4,417.6h0.8v0.6h-0.8zM280.6,418.7h1.4v1.2h-1.4zM277.3,421.8h2.2v1.8h-2.2zM276.9,422.4h1.4v1.2h-1.4zM275.7,422.2h1.1v0.9h-1.1zM276.3,421.9h1.9v1.5h-1.9zM269.8,417.8h1.4v1.2h-1.4zM274.5,420.6h1.3v1.0h-1.3zM277.8,422.4h1.7v1.4h-1.7zM270.5,423.8h1.9v1.5h-1.9zM267.3,419.5h2.2v1.8h-2.2zM268.8,419.5h1.4v1.2h-1.4zM274.7,421.0h2.2v1.8h-2.2zM272.7,420.2h1.9v1.5h-1.9zM264.7,419.5h1.1v0.9h-1.1zM276.2,424.3h1.1v0.9h-1.1zM276.6,422.2h0.9v0.8h-0.9zM285.1,423.3h0.8v0.6h-0.8zM288.8,423.1h1.7v1.4h-1.7zM284.8,424.2h1.3v1.0h-1.3zM287.0,429.0h1.7v1.4h-1.7zM293.7,424.7h1.9v1.5h-1.9zM282.7,424.5h2.2v1.8h-2.2zM290.2,423.0h1.1v0.9h-1.1zM285.5,426.5h2.2v1.8h-2.2zM283.1,427.1h1.3v1.0h-1.3zM293.1,428.8h2.2v1.8h-2.2zM288.8,426.7h1.1v0.9h-1.1zM261.5,427.0h1.3v1.0h-1.3zM274.4,429.2h1.3v1.0h-1.3zM272.1,428.8h1.1v0.9h-1.1zM275.0,432.4h1.7v1.4h-1.7zM270.2,430.9h2.2v1.8h-2.2zM277.9,434.3h0.8v0.6h-0.8zM279.8,432.6h1.9v1.5h-1.9zM266.6,427.4h0.9v0.8h-0.9zM277.8,431.9h1.7v1.4h-1.7zM272.9,432.1h1.7v1.4h-1.7zM273.4,425.3h1.3v1.0h-1.3zM273.1,431.4h0.8v0.6h-0.8zM267.6,427.1h2.2v1.8h-2.2zM272.4,432.0h1.3v1.0h-1.3zM272.5,427.6h1.9v1.5h-1.9zM276.8,432.0h2.2v1.8h-2.2zM264.4,428.6h1.4v1.2h-1.4zM271.2,431.4h1.9v1.5h-1.9zM269.5,429.5h0.9v0.8h-0.9zM277.8,432.5h1.1v0.9h-1.1zM274.2,432.4h0.8v0.6h-0.8zM270.3,432.7h0.9v0.8h-0.9zM277.0,435.4h1.3v1.0h-1.3zM268.7,431.5h1.4v1.2h-1.4zM261.7,431.8h2.2v1.8h-2.2zM271.7,434.9h2.2v1.8h-2.2zM272.8,433.8h2.2v1.8h-2.2zM277.2,436.5h0.9v0.8h-0.9zM272.7,430.2h1.9v1.5h-1.9zM268.0,428.9h1.1v0.9h-1.1zM263.2,434.4h1.7v1.4h-1.7zM266.2,427.6h1.7v1.4h-1.7zM265.2,434.0h0.9v0.8h-0.9zM277.0,436.8h0.8v0.6h-0.8zM277.9,437.1h2.2v1.8h-2.2zM271.6,437.6h1.4v1.2h-1.4zM268.2,435.2h1.3v1.0h-1.3zM263.5,427.6h1.9v1.5h-1.9zM270.8,431.4h1.4v1.2h-1.4zM269.7,439.8h0.9v0.8h-0.9zM268.2,437.8h0.9v0.8h-0.9zM255.2,439.9h0.9v0.8h-0.9zM259.1,435.6h1.3v1.0h-1.3zM268.4,439.6h1.7v1.4h-1.7zM269.8,441.7h1.1v0.9h-1.1zM266.4,437.4h1.9v1.5h-1.9zM270.4,439.2h1.1v0.9h-1.1zM270.1,441.5h0.9v0.8h-0.9zM273.9,439.9h1.7v1.4h-1.7zM265.5,436.1h1.1v0.9h-1.1zM261.9,439.3h1.4v1.2h-1.4zM277.5,442.2h1.3v1.0h-1.3zM262.1,437.4h0.8v0.6h-0.8zM271.4,437.1h0.9v0.8h-0.9zM275.8,442.1h0.8v0.6h-0.8zM270.2,437.8h1.7v1.4h-1.7zM266.6,435.3h1.4v1.2h-1.4zM256.8,435.6h1.9v1.5h-1.9zM278.7,442.8h1.4v1.2h-1.4zM266.4,436.5h1.7v1.4h-1.7zM271.3,445.1h1.3v1.0h-1.3zM265.0,440.0h1.4v1.2h-1.4zM270.6,442.9h1.1v0.9h-1.1zM278.1,447.9h0.9v0.8h-0.9zM266.9,447.0h1.7v1.4h-1.7zM266.4,445.6h1.1v0.9h-1.1zM265.8,445.1h2.2v1.8h-2.2zM258.9,443.6h1.9v1.5h-1.9zM262.4,446.9h0.8v0.6h-0.8zM273.8,444.6h1.7v1.4h-1.7zM269.6,440.9h1.1v0.9h-1.1zM268.7,444.6h1.4v1.2h-1.4zM273.3,442.0h1.7v1.4h-1.7zM269.2,444.0h1.7v1.4h-1.7zM277.0,446.3h1.1v0.9h-1.1zM270.4,442.8h1.1v0.9h-1.1zM268.4,442.8h1.1v0.9h-1.1zM299.5,438.5h1.1v0.9h-1.1zM298.5,441.6h1.9v1.5h-1.9zM294.1,449.0h1.7v1.4h-1.7zM305.1,441.4h0.9v0.8h-0.9zM288.1,449.5h2.2v1.8h-2.2zM287.9,449.6h1.1v0.9h-1.1zM295.6,443.5h0.8v0.6h-0.8zM291.6,446.2h0.9v0.8h-0.9zM284.6,446.3h2.2v1.8h-2.2zM303.0,438.7h1.7v1.4h-1.7zM291.8,445.5h1.7v1.4h-1.7zM298.2,439.8h0.8v0.6h-0.8zM289.8,447.0h0.9v0.8h-0.9zM296.7,448.2h1.7v1.4h-1.7zM281.7,449.0h1.3v1.0h-1.3zM301.9,443.3h2.2v1.8h-2.2zM298.4,445.8h2.2v1.8h-2.2zM292.5,446.4h1.9v1.5h-1.9zM300.8,445.1h1.9v1.5h-1.9zM296.6,448.6h0.8v0.6h-0.8zM289.0,448.4h1.1v0.9h-1.1zM285.1,448.0h0.8v0.6h-0.8zM267.1,455.5h1.1v0.9h-1.1zM277.2,456.8h1.4v1.2h-1.4zM280.4,457.9h1.4v1.2h-1.4zM263.5,456.1h0.9v0.8h-0.9zM271.9,459.2h1.1v0.9h-1.1zM268.0,458.1h0.8v0.6h-0.8zM269.4,453.1h1.3v1.0h-1.3zM278.7,457.3h0.9v0.8h-0.9zM277.4,458.5h1.3v1.0h-1.3zM261.7,456.2h1.1v0.9h-1.1zM269.2,460.4h2.2v1.8h-2.2zM267.1,457.4h0.9v0.8h-0.9zM268.0,452.5h2.2v1.8h-2.2zM269.2,455.5h1.7v1.4h-1.7zM269.9,460.1h1.1v0.9h-1.1zM273.1,460.4h2.2v1.8h-2.2zM264.9,456.0h1.4v1.2h-1.4zM269.4,462.7h1.4v1.2h-1.4zM275.4,459.8h1.4v1.2h-1.4zM271.1,458.6h0.8v0.6h-0.8zM262.9,456.3h0.8v0.6h-0.8zM262.2,462.2h2.2v1.8h-2.2zM269.6,451.0h2.2v1.8h-2.2zM266.0,456.6h0.9v0.8h-0.9zM264.2,458.9h1.1v0.9h-1.1zM277.7,460.2h1.4v1.2h-1.4zM257.9,456.3h2.2v1.8h-2.2zM272.8,459.3h1.3v1.0h-1.3zM273.9,460.5h1.4v1.2h-1.4zM270.4,461.0h1.3v1.0h-1.3zM273.6,461.3h1.4v1.2h-1.4zM264.2,453.5h1.4v1.2h-1.4zM265.6,457.7h1.9v1.5h-1.9zM261.2,457.3h1.7v1.4h-1.7zM259.2,459.6h1.9v1.5h-1.9zM261.4,458.6h1.9v1.5h-1.9zM272.3,462.3h1.4v1.2h-1.4zM270.4,460.3h0.8v0.6h-0.8zM308.0,468.3h0.8v0.6h-0.8zM297.5,464.5h1.9v1.5h-1.9zM302.3,462.8h1.9v1.5h-1.9zM300.0,463.9h0.8v0.6h-0.8zM287.3,468.8h2.2v1.8h-2.2zM298.0,468.6h1.3v1.0h-1.3zM301.0,466.8h1.1v0.9h-1.1zM297.4,462.9h1.1v0.9h-1.1zM289.1,468.4h0.8v0.6h-0.8zM291.6,467.2h1.9v1.5h-1.9zM303.5,462.0h0.8v0.6h-0.8zM304.8,465.4h1.3v1.0h-1.3zM298.5,465.2h0.8v0.6h-0.8zM304.2,467.5h0.9v0.8h-0.9zM288.6,469.1h1.1v0.9h-1.1zM304.9,461.7h1.3v1.0h-1.3zM283.6,469.5h1.4v1.2h-1.4zM290.5,468.0h0.8v0.6h-0.8zM284.9,469.0h1.1v0.9h-1.1zM286.5,469.1h0.9v0.8h-0.9zM296.3,467.0h1.3v1.0h-1.3zM309.8,458.6h0.9v0.8h-0.9zM301.7,466.5h1.4v1.2h-1.4zM298.8,463.7h1.3v1.0h-1.3zM297.8,463.5h1.3v1.0h-1.3zM294.3,465.9h0.9v0.8h-0.9zM292.8,466.3h0.8v0.6h-0.8zM293.6,465.0h1.1v0.9h-1.1zM292.5,465.5h1.1v0.9h-1.1zM289.5,469.6h0.8v0.6h-0.8zM300.7,463.1h1.9v1.5h-1.9zM301.1,464.0h1.3v1.0h-1.3zM296.2,465.6h2.2v1.8h-2.2zM293.8,466.0h2.2v1.8h-2.2zM290.9,469.6h1.7v1.4h-1.7zM299.1,462.5h0.9v0.8h-0.9zM288.6,468.3h1.9v1.5h-1.9zM299.6,467.0h0.9v0.8h-0.9zM300.1,463.4h0.8v0.6h-0.8zM300.1,462.1h2.2v1.8h-2.2zM301.2,467.6h1.7v1.4h-1.7zM284.4,470.2h0.8v0.6h-0.8zM303.3,465.6h2.2v1.8h-2.2zM299.5,463.6h1.7v1.4h-1.7zM300.3,467.6h0.8v0.6h-0.8zM303.6,464.4h1.9v1.5h-1.9zM301.2,466.4h2.2v1.8h-2.2zM304.4,462.7h0.9v0.8h-0.9zM290.3,470.7h1.4v1.2h-1.4zM283.2,470.2h1.4v1.2h-1.4zM265.4,468.8h0.8v0.6h-0.8zM259.2,467.5h1.4v1.2h-1.4zM259.6,463.0h1.4v1.2h-1.4zM262.1,468.7h1.4v1.2h-1.4zM272.6,471.3h1.4v1.2h-1.4zM274.0,475.0h1.7v1.4h-1.7zM280.1,475.8h0.9v0.8h-0.9zM259.5,464.9h1.4v1.2h-1.4zM269.4,470.7h0.8v0.6h-0.8zM260.8,469.3h1.1v0.9h-1.1zM275.5,476.2h1.3v1.0h-1.3zM271.9,467.6h0.9v0.8h-0.9zM258.7,471.6h0.8v0.6h-0.8zM261.4,464.7h1.1v0.9h-1.1zM266.9,470.0h1.3v1.0h-1.3zM274.5,473.0h0.9v0.8h-0.9zM275.8,474.0h1.3v1.0h-1.3zM274.1,473.6h0.9v0.8h-0.9zM276.5,473.0h1.4v1.2h-1.4zM270.1,470.0h2.2v1.8h-2.2zM277.5,475.2h1.7v1.4h-1.7zM294.7,481.5h1.3v1.0h-1.3zM282.5,482.8h1.9v1.5h-1.9zM296.7,481.9h1.4v1.2h-1.4zM303.5,475.3h2.2v1.8h-2.2zM301.4,477.1h0.9v0.8h-0.9zM298.4,479.0h1.3v1.0h-1.3zM284.2,483.3h0.9v0.8h-0.9zM300.8,478.2h0.8v0.6h-0.8zM296.1,481.9h1.7v1.4h-1.7zM290.5,481.9h1.3v1.0h-1.3zM289.8,481.5h0.8v0.6h-0.8zM308.0,478.5h1.9v1.5h-1.9zM311.8,474.0h0.8v0.6h-0.8zM299.0,480.7h1.9v1.5h-1.9zM300.5,479.0h1.4v1.2h-1.4zM296.6,480.0h1.1v0.9h-1.1zM305.9,481.0h2.2v1.8h-2.2zM291.5,482.2h1.3v1.0h-1.3zM283.8,483.6h0.8v0.6h-0.8zM294.3,481.0h1.7v1.4h-1.7zM292.9,482.3h0.8v0.6h-0.8zM302.8,481.0h1.7v1.4h-1.7zM316.2,478.7h0.8v0.6h-0.8zM296.9,485.0h0.8v0.6h-0.8zM300.3,481.8h0.8v0.6h-0.8zM304.0,483.8h1.9v1.5h-1.9zM289.2,486.5h1.1v0.9h-1.1zM283.5,489.1h1.7v1.4h-1.7zM300.1,488.7h2.2v1.8h-2.2zM302.9,486.8h0.9v0.8h-0.9zM300.7,486.0h1.1v0.9h-1.1zM296.8,492.1h2.2v1.8h-2.2zM301.9,483.8h2.2v1.8h-2.2zM292.2,487.8h1.9v1.5h-1.9zM296.1,487.7h1.7v1.4h-1.7zM304.4,487.7h1.1v0.9h-1.1zM295.2,487.2h1.4v1.2h-1.4zM295.0,484.8h1.7v1.4h-1.7zM287.5,488.8h1.9v1.5h-1.9zM291.7,485.3h2.2v1.8h-2.2zM290.5,488.0h0.9v0.8h-0.9zM298.7,486.0h1.4v1.2h-1.4zM309.2,486.0h1.3v1.0h-1.3zM292.5,487.4h1.1v0.9h-1.1zM302.1,482.3h1.3v1.0h-1.3zM294.5,486.0h1.1v0.9h-1.1zM309.2,486.7h1.1v0.9h-1.1zM287.9,489.6h1.7v1.4h-1.7zM304.0,481.4h1.9v1.5h-1.9zM312.3,483.4h2.2v1.8h-2.2zM302.2,488.6h1.9v1.5h-1.9zM291.9,487.3h0.9v0.8h-0.9zM300.2,486.9h0.8v0.6h-0.8zM296.9,489.6h1.3v1.0h-1.3zM297.6,486.1h1.9v1.5h-1.9zM259.0,483.4h0.8v0.6h-0.8zM263.5,484.5h2.2v1.8h-2.2zM263.2,485.2h1.4v1.2h-1.4zM266.1,486.1h0.9v0.8h-0.9zM268.5,484.9h1.7v1.4h-1.7zM264.5,484.9h0.9v0.8h-0.9zM263.9,486.0h1.7v1.4h-1.7zM269.9,483.0h1.1v0.9h-1.1zM260.5,484.6h1.1v0.9h-1.1zM275.9,489.1h1.1v0.9h-1.1zM275.5,488.0h1.1v0.9h-1.1zM275.3,488.5h1.3v1.0h-1.3zM275.4,487.3h1.9v1.5h-1.9zM277.5,488.5h0.9v0.8h-0.9zM276.1,488.8h1.7v1.4h-1.7zM275.9,487.9h1.4v1.2h-1.4zM284.7,461.5h0.8v0.6h-0.8zM285.3,459.0h2.2v1.8h-2.2zM290.2,459.8h0.8v0.6h-0.8zM289.8,460.7h2.2v1.8h-2.2zM289.2,460.8h2.2v1.8h-2.2zM291.3,463.8h0.8v0.6h-0.8zM289.0,462.0h0.9v0.8h-0.9zM290.4,463.3h1.7v1.4h-1.7zM290.0,464.6h0.9v0.8h-0.9zM299.7,469.9h1.9v1.5h-1.9zM296.1,471.5h0.9v0.8h-0.9zM299.7,468.6h0.9v0.8h-0.9zM297.9,468.4h1.1v0.9h-1.1zM295.0,467.9h0.9v0.8h-0.9zM293.1,470.2h2.2v1.8h-2.2zM257.0,450.6h1.7v1.4h-1.7zM262.4,451.9h2.2v1.8h-2.2zM263.7,452.5h0.8v0.6h-0.8zM269.4,451.2h0.8v0.6h-0.8zM263.4,451.4h1.7v1.4h-1.7zM270.0,450.1h0.9v0.8h-0.9zM263.5,450.7h1.9v1.5h-1.9zM269.1,451.2h1.4v1.2h-1.4zM263.0,454.4h1.7v1.4h-1.7zM262.6,452.2h0.8v0.6h-0.8zM258.0,451.1h1.3v1.0h-1.3zM265.7,453.2h2.2v1.8h-2.2zM259.5,450.9h1.3v1.0h-1.3zM266.8,450.3h1.3v1.0h-1.3zM263.0,451.7h0.8v0.6h-0.8zM265.2,450.8h2.2v1.8h-2.2zM263.5,450.4h2.2v1.8h-2.2zM288.7,469.6h2.2v1.8h-2.2zM285.6,467.5h2.2v1.8h-2.2zM283.8,467.6h0.8v0.6h-0.8zM286.6,467.8h2.2v1.8h-2.2zM284.4,467.5h1.1v0.9h-1.1zM287.5,468.1h1.1v0.9h-1.1zM288.0,467.6h2.2v1.8h-2.2zM283.5,467.7h2.2v1.8h-2.2zM282.8,467.6h1.1v0.9h-1.1zM284.2,466.7h0.9v0.8h-0.9zM284.0,467.9h1.3v1.0h-1.3zM286.0,468.6h0.8v0.6h-0.8zM283.1,469.4h2.2v1.8h-2.2zM289.4,467.0h2.2v1.8h-2.2zM287.9,465.7h0.8v0.6h-0.8zM282.5,429.1h1.9v1.5h-1.9zM283.3,427.5h2.2v1.8h-2.2zM274.8,425.6h1.7v1.4h-1.7zM282.7,428.1h2.2v1.8h-2.2zM283.4,426.4h1.4v1.2h-1.4zM276.6,427.7h1.9v1.5h-1.9zM278.3,427.2h1.4v1.2h-1.4zM278.8,425.7h2.2v1.8h-2.2zM276.8,427.3h1.4v1.2h-1.4zM272.4,445.6h1.4v1.2h-1.4zM272.0,445.2h1.1v0.9h-1.1zM272.0,446.6h2.2v1.8h-2.2zM271.5,444.5h1.9v1.5h-1.9zM266.0,445.8h2.2v1.8h-2.2zM278.3,440.2h0.9v0.8h-0.9zM271.2,443.7h1.1v0.9h-1.1zM273.2,440.1h1.9v1.5h-1.9zM292.6,456.2h1.4v1.2h-1.4zM292.9,457.4h0.9v0.8h-0.9zM296.7,455.4h1.4v1.2h-1.4zM293.8,457.3h1.1v0.9h-1.1zM291.5,454.7h1.4v1.2h-1.4zM293.1,458.2h1.1v0.9h-1.1zM291.9,454.6h2.2v1.8h-2.2zM293.5,458.6h1.3v1.0h-1.3zM294.5,457.9h1.3v1.0h-1.3zM284.7,468.8h2.2v1.8h-2.2zM282.2,471.7h0.8v0.6h-0.8zM284.9,470.3h1.7v1.4h-1.7zM281.8,468.4h1.3v1.0h-1.3zM285.5,464.6h0.8v0.6h-0.8zM285.3,467.4h1.1v0.9h-1.1zM284.3,469.0h0.9v0.8h-0.9zM285.2,469.3h0.9v0.8h-0.9zM285.7,471.5h1.4v1.2h-1.4zM284.6,472.1h1.3v1.0h-1.3zM267.2,467.2h0.9v0.8h-0.9zM265.9,464.9h1.4v1.2h-1.4zM265.7,465.1h2.2v1.8h-2.2zM265.6,467.8h1.4v1.2h-1.4zM267.7,468.3h0.9v0.8h-0.9zM268.3,466.7h2.2v1.8h-2.2zM270.9,490.8h1.1v0.9h-1.1zM274.0,492.8h1.7v1.4h-1.7zM270.0,491.2h1.4v1.2h-1.4zM273.9,491.4h1.4v1.2h-1.4zM273.6,492.4h1.4v1.2h-1.4zM269.2,491.6h1.3v1.0h-1.3zM273.2,491.1h1.3v1.0h-1.3zM271.1,491.6h1.9v1.5h-1.9zM271.1,481.8h0.9v0.8h-0.9zM264.8,484.0h1.7v1.4h-1.7zM265.7,483.1h0.8v0.6h-0.8zM267.1,483.9h1.9v1.5h-1.9zM269.4,486.2h1.1v0.9h-1.1zM269.6,480.3h1.3v1.0h-1.3zM270.2,480.0h0.9v0.8h-0.9zM252.8,486.7h1.4v1.2h-1.4zM260.2,489.2h2.2v1.8h-2.2zM262.2,490.8h0.8v0.6h-0.8zM258.3,487.7h1.4v1.2h-1.4zM259.7,486.9h1.4v1.2h-1.4zM258.0,485.9h1.4v1.2h-1.4zM251.6,487.2h2.2v1.8h-2.2zM258.3,488.6h1.1v0.9h-1.1zM257.4,487.6h0.8v0.6h-0.8zM255.9,487.0h1.7v1.4h-1.7zM256.1,489.4h1.3v1.0h-1.3zM258.2,490.2h1.9v1.5h-1.9zM292.1,454.9h1.7v1.4h-1.7zM297.3,458.5h1.4v1.2h-1.4zM300.6,455.9h1.4v1.2h-1.4zM292.9,457.4h0.8v0.6h-0.8zM298.0,457.9h0.9v0.8h-0.9zM296.0,456.6h1.7v1.4h-1.7zM297.5,457.5h1.4v1.2h-1.4zM300.8,457.4h0.8v0.6h-0.8zM290.2,457.6h1.4v1.2h-1.4zM300.4,458.0h0.9v0.8h-0.9zM293.8,456.5h0.9v0.8h-0.9zM298.0,458.6h0.9v0.8h-0.9zM300.0,459.0h1.9v1.5h-1.9zM299.7,457.3h0.9v0.8h-0.9zM295.7,456.8h0.8v0.6h-0.8zM293.7,479.4h0.9v0.8h-0.9zM296.1,479.7h1.3v1.0h-1.3zM296.1,480.4h1.3v1.0h-1.3zM297.7,479.9h0.8v0.6h-0.8zM293.6,479.3h1.9v1.5h-1.9zM292.2,483.6h1.7v1.4h-1.7zM291.5,449.7h1.1v0.9h-1.1zM293.7,447.6h1.1v0.9h-1.1zM288.4,449.6h2.2v1.8h-2.2zM293.8,447.8h1.9v1.5h-1.9zM291.4,447.2h1.4v1.2h-1.4zM292.2,451.2h1.4v1.2h-1.4zM296.6,448.5h1.9v1.5h-1.9zM265.9,477.7h1.3v1.0h-1.3zM271.3,475.9h0.8v0.6h-0.8zM266.8,475.1h0.8v0.6h-0.8zM270.5,478.9h1.7v1.4h-1.7zM270.7,473.2h1.7v1.4h-1.7zM267.2,473.3h0.9v0.8h-0.9zM268.3,473.8h2.2v1.8h-2.2zM268.3,478.1h1.7v1.4h-1.7zM265.0,475.1h1.9v1.5h-1.9zM269.9,475.7h1.3v1.0h-1.3zM268.8,474.5h1.4v1.2h-1.4zM267.3,472.2h1.4v1.2h-1.4zM271.7,474.4h1.4v1.2h-1.4zM266.9,476.2h1.1v0.9h-1.1zM305.0,468.4h0.8v0.6h-0.8zM303.8,472.0h2.2v1.8h-2.2zM307.4,469.5h0.8v0.6h-0.8zM304.2,468.3h1.7v1.4h-1.7zM264.7,486.0h2.2v1.8h-2.2zM262.4,486.8h1.3v1.0h-1.3zM269.1,485.7h1.7v1.4h-1.7zM267.8,488.0h1.4v1.2h-1.4zM265.5,487.2h1.1v0.9h-1.1zM270.7,484.5h1.9v1.5h-1.9zM289.6,450.1h2.2v1.8h-2.2zM288.6,449.3h1.4v1.2h-1.4zM288.5,449.9h0.8v0.6h-0.8zM287.8,448.3h1.7v1.4h-1.7zM274.0,472.4h1.7v1.4h-1.7zM276.4,469.8h1.1v0.9h-1.1zM273.2,470.8h1.4v1.2h-1.4zM272.8,469.7h1.4v1.2h-1.4zM274.1,469.6h0.9v0.8h-0.9zM273.2,471.5h1.9v1.5h-1.9zM272.6,470.9h1.7v1.4h-1.7zM274.9,471.2h1.7v1.4h-1.7zM291.0,481.4h1.4v1.2h-1.4zM287.5,483.1h0.8v0.6h-0.8zM285.5,482.1h1.4v1.2h-1.4zM294.0,482.7h1.9v1.5h-1.9zM288.0,484.9h1.9v1.5h-1.9zM283.4,482.5h1.7v1.4h-1.7zM288.8,482.1h1.9v1.5h-1.9zM287.1,483.3h1.1v0.9h-1.1zM289.2,482.7h1.3v1.0h-1.3zM283.5,451.2h1.3v1.0h-1.3zM289.2,449.4h1.1v0.9h-1.1zM287.0,449.1h1.3v1.0h-1.3zM281.2,449.4h1.7v1.4h-1.7zM284.2,448.0h0.8v0.6h-0.8zM286.4,448.9h1.9v1.5h-1.9zM284.2,448.7h1.4v1.2h-1.4zM286.5,448.4h1.3v1.0h-1.3zM270.9,448.3h1.3v1.0h-1.3zM271.9,450.4h1.4v1.2h-1.4zM270.0,450.4h1.9v1.5h-1.9zM272.0,450.3h1.7v1.4h-1.7zM272.7,449.7h2.2v1.8h-2.2zM273.5,450.0h0.8v0.6h-0.8zM273.7,449.5h1.4v1.2h-1.4zM273.4,450.8h1.7v1.4h-1.7zM272.0,450.8h1.1v0.9h-1.1zM278.5,451.3h1.4v1.2h-1.4zM303.2,473.6h1.9v1.5h-1.9zM303.9,474.1h1.7v1.4h-1.7zM301.2,473.9h0.8v0.6h-0.8zM300.9,474.1h0.9v0.8h-0.9zM301.0,474.2h1.4v1.2h-1.4zM254.8,489.4h1.7v1.4h-1.7zM259.1,487.1h0.8v0.6h-0.8zM260.0,487.0h1.7v1.4h-1.7zM255.7,488.9h1.7v1.4h-1.7zM260.2,489.5h1.1v0.9h-1.1zM260.5,488.6h1.1v0.9h-1.1zM257.5,489.0h1.4v1.2h-1.4zM256.8,487.5h0.8v0.6h-0.8zM254.1,488.7h2.2v1.8h-2.2zM259.4,487.9h0.8v0.6h-0.8zM259.3,490.2h0.8v0.6h-0.8zM281.7,447.1h1.7v1.4h-1.7zM278.8,447.5h1.4v1.2h-1.4zM280.6,447.7h0.9v0.8h-0.9zM309.6,484.5h1.4v1.2h-1.4zM309.0,482.1h1.1v0.9h-1.1zM305.0,482.9h1.3v1.0h-1.3zM310.4,483.6h1.9v1.5h-1.9zM310.4,482.9h0.9v0.8h-0.9zM281.8,443.1h1.9v1.5h-1.9zM280.7,439.9h1.3v1.0h-1.3zM286.3,441.1h0.9v0.8h-0.9zM282.6,442.7h1.4v1.2h-1.4zM284.4,441.2h1.4v1.2h-1.4zM279.4,439.8h1.1v0.9h-1.1zM300.3,490.3h1.7v1.4h-1.7zM301.7,490.8h2.2v1.8h-2.2zM301.6,492.0h1.4v1.2h-1.4zM299.8,490.1h1.1v0.9h-1.1zM299.1,492.9h1.7v1.4h-1.7zM298.6,491.7h1.9v1.5h-1.9zM288.6,431.1h1.7v1.4h-1.7zM290.2,432.4h1.7v1.4h-1.7zM288.5,434.3h1.1v0.9h-1.1zM290.8,433.5h0.8v0.6h-0.8zM292.8,431.6h0.8v0.6h-0.8zM288.6,433.6h1.3v1.0h-1.3zM291.7,433.1h0.9v0.8h-0.9zM294.0,431.4h1.4v1.2h-1.4zM290.0,433.4h0.9v0.8h-0.9zM288.9,430.5h0.9v0.8h-0.9zM289.0,432.2h0.8v0.6h-0.8zM270.9,419.4h1.3v1.0h-1.3zM265.9,446.8h1.3v1.0h-1.3zM291.0,490.4h1.1v0.9h-1.1zM288.2,464.8h1.3v1.0h-1.3zM289.8,476.9h0.9v0.8h-0.9zM287.4,449.9h1.1v0.9h-1.1zM276.3,447.2h1.9v1.5h-1.9zM273.7,445.4h1.3v1.0h-1.3zM286.8,448.2h2.2v1.8h-2.2zM272.8,436.2h1.3v1.0h-1.3zM263.1,447.6h1.3v1.0h-1.3zM282.4,425.0h1.7v1.4h-1.7zM292.2,433.8h1.9v1.5h-1.9zM279.0,445.4h1.4v1.2h-1.4zM272.4,431.3h1.9v1.5h-1.9zM251.4,474.1h1.1v0.9h-1.1zM268.0,422.4h1.1v0.9h-1.1zM289.6,478.5h1.7v1.4h-1.7zM298.7,446.0h0.8v0.6h-0.8zM286.3,423.1h1.1v0.9h-1.1zM279.5,418.7h1.1v0.9h-1.1zM289.1,491.5h2.2v1.8h-2.2zM316.1,485.4h0.8v0.6h-0.8zM260.6,470.0h0.9v0.8h-0.9zM276.5,459.7h1.1v0.9h-1.1zM304.9,478.2h1.9v1.5h-1.9zM270.4,419.0h0.8v0.6h-0.8zM272.1,412.6h1.4v1.2h-1.4zM269.5,489.4h2.2v1.8h-2.2zM304.5,482.0h1.4v1.2h-1.4zM277.4,402.8h1.3v1.0h-1.3zM286.7,419.1h0.9v0.8h-0.9zM288.6,476.9h0.8v0.6h-0.8zM265.1,459.0h2.2v1.8h-2.2zM268.6,454.4h1.4v1.2h-1.4zM257.3,470.4h2.2v1.8h-2.2zM270.6,424.4h1.4v1.2h-1.4zM281.4,403.5h1.3v1.0h-1.3zM281.2,486.2h2.2v1.8h-2.2zM274.8,423.3h0.9v0.8h-0.9zM284.6,435.3h1.4v1.2h-1.4zM261.3,462.5h0.9v0.8h-0.9zM275.9,412.3h0.9v0.8h-0.9zM259.7,446.0h1.1v0.9h-1.1zM276.6,417.3h1.1v0.9h-1.1zM307.7,488.3h1.1v0.9h-1.1zM274.9,409.8h0.9v0.8h-0.9zM271.9,446.8h2.2v1.8h-2.2zM267.1,428.7h1.7v1.4h-1.7zM280.4,406.8h1.9v1.5h-1.9zM273.3,430.0h1.3v1.0h-1.3zM298.5,476.9h1.3v1.0h-1.3zM277.9,441.0h1.4v1.2h-1.4zM278.9,445.6h1.4v1.2h-1.4zM266.1,478.6h0.8v0.6h-0.8zM312.0,479.7h0.8v0.6h-0.8zM308.5,465.0h2.2v1.8h-2.2zM259.4,488.1h1.9v1.5h-1.9zM261.8,491.5h0.8v0.6h-0.8zM295.7,481.6h0.9v0.8h-0.9zM283.6,483.3h1.9v1.5h-1.9zM274.1,413.2h1.1v0.9h-1.1zM252.5,480.3h1.7v1.4h-1.7zM287.7,435.7h2.2v1.8h-2.2zM269.5,415.0h1.1v0.9h-1.1zM282.7,450.4h1.3v1.0h-1.3zM271.8,440.4h1.3v1.0h-1.3zM281.9,453.0h0.9v0.8h-0.9zM272.2,408.6h1.1v0.9h-1.1zM272.8,456.9h1.3v1.0h-1.3zM305.7,478.5h1.1v0.9h-1.1zM279.5,470.3h2.2v1.8h-2.2zM285.5,460.0h1.3v1.0h-1.3zM298.4,459.3h2.2v1.8h-2.2zM250.4,482.9h1.3v1.0h-1.3zM290.1,475.7h1.7v1.4h-1.7zM305.4,464.8h1.4v1.2h-1.4zM277.4,413.0h1.9v1.5h-1.9zM280.7,427.5h1.1v0.9h-1.1zM293.2,456.6h0.8v0.6h-0.8zM274.5,404.8h1.7v1.4h-1.7zM307.2,474.4h1.1v0.9h-1.1zM282.5,417.5h1.7v1.4h-1.7zM253.3,474.3h1.3v1.0h-1.3zM277.3,410.4h1.7v1.4h-1.7zM263.3,444.1h1.9v1.5h-1.9zM314.5,484.6h1.3v1.0h-1.3zM286.1,438.3h0.9v0.8h-0.9zM279.2,450.2h1.9v1.5h-1.9zM306.9,486.1h0.8v0.6h-0.8zM288.0,454.2h0.8v0.6h-0.8zM272.7,465.4h1.7v1.4h-1.7zM272.3,407.7h0.8v0.6h-0.8zM270.4,434.9h1.9v1.5h-1.9zM309.8,478.1h2.2v1.8h-2.2zM300.1,475.4h1.9v1.5h-1.9zM315.9,489.5h2.2v1.8h-2.2zM307.9,487.2h1.3v1.0h-1.3zM305.9,482.2h1.1v0.9h-1.1zM257.3,462.5h1.7v1.4h-1.7zM304.3,474.3h2.2v1.8h-2.2zM301.4,456.5h1.4v1.2h-1.4zM279.6,491.4h0.9v0.8h-0.9zM292.3,470.4h1.3v1.0h-1.3zM273.6,471.7h1.3v1.0h-1.3zM255.5,467.8h0.8v0.6h-0.8zM277.6,431.7h0.9v0.8h-0.9zM266.6,421.0h2.2v1.8h-2.2zM268.6,449.2h1.4v1.2h-1.4zM289.8,450.7h1.9v1.5h-1.9zM307.9,470.8h1.7v1.4h-1.7zM314.7,479.5h1.9v1.5h-1.9zM256.4,454.2h2.2v1.8h-2.2zM290.2,491.1h1.3v1.0h-1.3zM302.4,482.5h0.8v0.6h-0.8zM280.7,491.4h0.9v0.8h-0.9zM270.0,449.0h1.4v1.2h-1.4zM300.3,444.2h0.9v0.8h-0.9zM280.0,430.7h1.4v1.2h-1.4zM257.4,460.1h0.9v0.8h-0.9zM270.8,445.1h1.9v1.5h-1.9zM301.6,480.0h1.9v1.5h-1.9zM305.0,475.4h2.2v1.8h-2.2zM303.4,491.3h2.2v1.8h-2.2zM268.7,458.2h1.3v1.0h-1.3zM275.1,490.8h1.4v1.2h-1.4zM284.1,441.0h1.3v1.0h-1.3zM286.7,442.5h1.7v1.4h-1.7zM313.5,484.9h0.8v0.6h-0.8zM280.0,418.7h1.9v1.5h-1.9zM282.4,480.2h1.1v0.9h-1.1zM252.5,472.1h1.9v1.5h-1.9zM257.8,470.6h1.7v1.4h-1.7zM295.3,473.6h1.3v1.0h-1.3zM269.0,459.4h1.4v1.2h-1.4zM266.5,446.6h1.4v1.2h-1.4zM256.1,464.1h2.2v1.8h-2.2zM265.8,427.3h1.4v1.2h-1.4zM269.7,434.5h1.9v1.5h-1.9zM276.8,456.9h0.8v0.6h-0.8zM259.5,459.9h0.9v0.8h-0.9zM264.9,472.3h2.2v1.8h-2.2zM303.1,471.2h2.2v1.8h-2.2zM298.4,446.8h1.3v1.0h-1.3zM283.8,411.8h2.2v1.8h-2.2zM262.0,445.5h1.4v1.2h-1.4zM267.3,445.7h1.1v0.9h-1.1zM286.3,452.1h1.7v1.4h-1.7zM256.9,469.1h2.2v1.8h-2.2zM256.9,460.0h1.9v1.5h-1.9zM295.8,452.8h0.9v0.8h-0.9zM275.6,435.5h1.9v1.5h-1.9zM283.3,461.5h1.9v1.5h-1.9zM311.2,473.1h1.1v0.9h-1.1zM264.4,471.7h1.9v1.5h-1.9zM278.5,431.1h1.1v0.9h-1.1zM281.7,439.0h2.2v1.8h-2.2zM289.3,422.5h1.7v1.4h-1.7zM262.1,488.3h2.2v1.8h-2.2zM273.7,404.0h1.1v0.9h-1.1zM280.2,465.4h2.2v1.8h-2.2zM268.9,424.4h1.3v1.0h-1.3zM289.9,464.5h1.7v1.4h-1.7zM305.2,479.0h0.8v0.6h-0.8zM278.4,425.2h1.7v1.4h-1.7zM301.4,470.8h1.3v1.0h-1.3zM306.1,481.3h1.7v1.4h-1.7zM280.6,476.6h1.9v1.5h-1.9zM281.3,415.1h1.7v1.4h-1.7zM283.7,489.0h0.9v0.8h-0.9zM299.5,480.2h1.1v0.9h-1.1zM279.7,482.6h1.4v1.2h-1.4zM258.8,452.7h1.1v0.9h-1.1zM258.8,454.1h0.9v0.8h-0.9zM263.1,451.4h1.3v1.0h-1.3zM286.8,483.4h1.3v1.0h-1.3zM272.4,426.9h1.7v1.4h-1.7zM289.9,468.3h1.4v1.2h-1.4zM297.3,452.0h1.7v1.4h-1.7zM289.8,488.4h1.4v1.2h-1.4zM276.2,461.9h1.9v1.5h-1.9zM281.9,409.5h2.2v1.8h-2.2zM283.5,435.8h1.3v1.0h-1.3zM289.8,439.8h1.4v1.2h-1.4zM293.0,436.9h1.3v1.0h-1.3zM306.6,470.6h2.2v1.8h-2.2zM267.5,463.6h1.7v1.4h-1.7zM270.2,468.3h2.2v1.8h-2.2zM316.9,481.3h2.2v1.8h-2.2zM286.6,466.6h1.1v0.9h-1.1zM267.0,462.7h0.9v0.8h-0.9zM264.2,473.5h1.9v1.5h-1.9zM275.7,409.3h0.9v0.8h-0.9zM282.3,461.0h1.7v1.4h-1.7zM284.7,465.4h2.2v1.8h-2.2z" fill-opacity="1.0"/></g>
<g fill="#9b9b9b" opacity="1.0"><path d="M254.5,532 L252.5,482.0" stroke="#9b9b9b" stroke-width="2.2" fill="none"/><path d="M252.5,482.0 Q249.2,449.5 246.0,421.0" stroke="#9b9b9b" stroke-width="1.0" fill="none"/><path d="M245.9,426.0 Q243.2,425.7 240.5,425.0 M245.9,430.0 Q242.9,429.2 239.8,427.1 M245.9,434.7 Q241.2,434.2 236.5,432.7 M245.9,436.3 Q241.6,435.8 237.3,434.5 M245.8,441.9 Q241.4,441.4 236.9,440.1 M245.8,444.4 Q240.7,443.2 235.5,439.8 M245.8,450.1 Q251.3,449.1 256.8,446.0 M245.7,453.6 Q239.2,452.7 232.8,450.2 M245.7,455.6 Q253.5,453.7 261.2,448.0 M245.7,460.7 Q238.6,459.7 231.4,456.6 M245.7,464.5 Q238.3,463.7 230.8,461.5 M245.6,468.0 Q236.7,465.9 227.7,459.6 M245.6,472.2 Q253.7,470.8 261.7,466.7 M245.6,474.3 Q236.1,472.0 226.7,465.0 M245.5,480.9 Q256.0,479.6 266.5,475.7 M245.5,481.8 Q255.2,480.4 265.0,476.2" stroke="#9b9b9b" stroke-width="0.7" fill="none"/><path d="M247.0,424.6h1.4v1.2h-1.4zM248.4,425.5h1.9v1.5h-1.9zM238.6,423.8h1.7v1.4h-1.7zM246.7,426.6h1.9v1.5h-1.9zM237.5,424.9h1.9v1.5h-1.9zM243.2,430.5h1.4v1.2h-1.4zM236.5,427.4h1.9v1.5h-1.9zM238.5,433.4h0.8v0.6h-0.8zM243.0,433.5h1.3v1.0h-1.3zM241.4,428.8h0.8v0.6h-0.8zM243.8,434.3h0.9v0.8h-0.9zM238.8,433.5h1.4v1.2h-1.4zM235.3,438.2h1.9v1.5h-1.9zM241.4,436.9h1.4v1.2h-1.4zM236.6,435.1h1.3v1.0h-1.3zM239.0,436.0h1.3v1.0h-1.3zM240.3,441.0h0.8v0.6h-0.8zM245.4,442.6h1.4v1.2h-1.4zM249.1,441.4h0.9v0.8h-0.9zM232.0,443.2h1.9v1.5h-1.9zM236.5,443.3h1.9v1.5h-1.9zM240.7,440.3h1.7v1.4h-1.7zM234.9,444.8h1.4v1.2h-1.4zM241.1,441.3h1.7v1.4h-1.7zM233.4,438.6h2.2v1.8h-2.2zM236.4,439.3h1.4v1.2h-1.4zM236.3,438.7h0.9v0.8h-0.9zM245.9,441.4h1.4v1.2h-1.4zM239.3,442.3h1.3v1.0h-1.3zM238.8,441.0h0.9v0.8h-0.9zM233.1,439.5h0.9v0.8h-0.9zM250.3,450.0h1.1v0.9h-1.1zM256.9,448.9h0.8v0.6h-0.8zM246.0,446.5h2.2v1.8h-2.2zM259.3,447.1h1.9v1.5h-1.9zM257.3,451.5h1.3v1.0h-1.3zM248.9,448.9h1.3v1.0h-1.3zM235.1,451.9h1.7v1.4h-1.7zM238.2,456.0h1.4v1.2h-1.4zM237.5,451.4h1.3v1.0h-1.3zM241.8,453.1h1.4v1.2h-1.4zM242.3,454.1h0.9v0.8h-0.9zM257.7,447.7h0.8v0.6h-0.8zM251.6,452.6h0.8v0.6h-0.8zM257.7,449.7h0.9v0.8h-0.9zM258.2,448.8h0.9v0.8h-0.9zM259.6,451.0h0.8v0.6h-0.8zM232.7,456.1h1.7v1.4h-1.7zM245.2,460.8h1.9v1.5h-1.9zM237.9,456.5h1.9v1.5h-1.9zM233.0,458.2h1.7v1.4h-1.7zM243.9,461.3h1.1v0.9h-1.1zM229.2,458.3h1.1v0.9h-1.1zM238.1,465.5h1.9v1.5h-1.9zM231.2,462.1h1.7v1.4h-1.7zM236.4,467.1h0.8v0.6h-0.8zM236.9,464.1h1.3v1.0h-1.3zM235.5,461.6h1.3v1.0h-1.3zM239.4,464.5h1.9v1.5h-1.9zM234.6,463.3h1.3v1.0h-1.3zM237.2,465.4h1.4v1.2h-1.4zM239.1,461.6h2.2v1.8h-2.2zM241.7,461.4h0.9v0.8h-0.9zM235.7,460.6h0.8v0.6h-0.8zM235.0,463.0h0.9v0.8h-0.9zM236.1,465.5h1.1v0.9h-1.1zM233.6,461.6h0.9v0.8h-0.9zM243.6,467.6h0.9v0.8h-0.9zM233.5,462.7h1.4v1.2h-1.4zM229.8,463.7h1.9v1.5h-1.9zM235.4,465.3h0.8v0.6h-0.8zM225.6,461.2h1.4v1.2h-1.4zM239.5,464.9h1.7v1.4h-1.7zM238.1,466.6h0.9v0.8h-0.9zM243.2,466.4h0.9v0.8h-0.9zM226.8,461.7h1.3v1.0h-1.3zM253.4,469.7h1.1v0.9h-1.1zM259.8,467.8h1.4v1.2h-1.4zM257.3,470.6h0.9v0.8h-0.9zM260.5,468.9h1.3v1.0h-1.3zM258.8,468.1h1.4v1.2h-1.4zM253.1,466.7h1.4v1.2h-1.4zM260.6,469.5h1.9v1.5h-1.9zM238.8,470.5h0.8v0.6h-0.8zM237.5,463.6h1.7v1.4h-1.7zM232.1,468.8h0.9v0.8h-0.9zM225.2,466.2h2.2v1.8h-2.2zM235.0,470.2h1.7v1.4h-1.7zM229.8,472.1h1.7v1.4h-1.7zM236.9,471.3h2.2v1.8h-2.2zM231.8,466.7h0.9v0.8h-0.9zM243.6,472.0h0.9v0.8h-0.9zM248.3,472.9h1.3v1.0h-1.3zM232.5,467.1h1.1v0.9h-1.1zM233.6,469.9h1.4v1.2h-1.4zM253.5,479.8h0.9v0.8h-0.9zM256.8,476.5h1.1v0.9h-1.1zM241.9,480.8h1.7v1.4h-1.7zM254.2,479.3h2.2v1.8h-2.2zM266.1,476.7h1.1v0.9h-1.1zM246.6,481.2h1.3v1.0h-1.3zM260.2,478.9h1.3v1.0h-1.3zM266.8,474.8h0.9v0.8h-0.9zM259.2,477.3h0.8v0.6h-0.8zM260.3,481.1h1.7v1.4h-1.7zM254.0,481.6h1.9v1.5h-1.9zM258.7,480.5h1.1v0.9h-1.1zM259.7,477.5h2.2v1.8h-2.2zM251.5,477.7h0.9v0.8h-0.9zM251.6,481.5h0.9v0.8h-0.9zM263.8,475.3h1.3v1.0h-1.3zM259.5,478.4h0.9v0.8h-0.9zM265.5,473.9h1.7v1.4h-1.7zM256.9,479.9h0.8v0.6h-0.8zM253.7,479.5h1.4v1.2h-1.4zM255.4,479.8h1.7v1.4h-1.7zM241.9,463.6h2.2v1.8h-2.2zM240.4,459.7h1.4v1.2h-1.4zM239.4,463.7h1.4v1.2h-1.4zM239.4,461.1h2.2v1.8h-2.2zM240.4,460.5h1.3v1.0h-1.3zM239.5,458.4h1.4v1.2h-1.4zM230.2,479.5h1.7v1.4h-1.7zM229.5,478.5h1.7v1.4h-1.7zM233.5,479.6h1.4v1.2h-1.4zM235.3,478.0h1.4v1.2h-1.4zM231.9,480.1h1.1v0.9h-1.1zM245.6,441.2h1.4v1.2h-1.4zM241.6,436.3h1.7v1.4h-1.7zM241.0,439.3h1.7v1.4h-1.7zM255.5,464.9h2.2v1.8h-2.2zM256.7,465.2h0.8v0.6h-0.8zM251.6,468.8h1.9v1.5h-1.9zM254.7,463.3h0.9v0.8h-0.9zM244.0,463.3h0.9v0.8h-0.9zM244.8,464.9h1.9v1.5h-1.9zM247.2,467.0h1.7v1.4h-1.7zM237.0,473.9h1.3v1.0h-1.3zM231.0,474.5h0.9v0.8h-0.9zM235.9,476.3h1.1v0.9h-1.1zM232.4,478.5h1.3v1.0h-1.3zM226.7,478.1h1.1v0.9h-1.1zM232.8,480.2h1.9v1.5h-1.9zM255.7,453.3h1.7v1.4h-1.7zM256.3,453.6h1.1v0.9h-1.1zM257.1,453.9h1.1v0.9h-1.1zM254.1,453.0h1.7v1.4h-1.7zM253.7,452.7h1.3v1.0h-1.3zM253.7,453.4h1.3v1.0h-1.3zM240.9,435.5h1.3v1.0h-1.3zM235.0,440.6h1.1v0.9h-1.1zM236.2,439.8h2.2v1.8h-2.2zM240.7,472.9h1.4v1.2h-1.4zM241.5,469.1h1.4v1.2h-1.4zM236.8,468.4h0.8v0.6h-0.8zM232.2,465.2h1.9v1.5h-1.9zM233.1,465.4h1.7v1.4h-1.7zM239.0,470.2h1.7v1.4h-1.7zM239.5,469.2h0.8v0.6h-0.8zM248.3,485.2h0.8v0.6h-0.8zM245.9,488.5h2.2v1.8h-2.2zM246.6,488.7h1.4v1.2h-1.4zM232.7,469.6h1.1v0.9h-1.1zM235.6,469.5h1.7v1.4h-1.7zM234.5,465.1h0.8v0.6h-0.8zM235.5,471.5h1.9v1.5h-1.9zM232.6,469.3h0.9v0.8h-0.9zM234.5,473.3h2.2v1.8h-2.2zM235.9,468.0h1.3v1.0h-1.3zM260.2,482.7h2.2v1.8h-2.2zM260.3,480.7h0.8v0.6h-0.8zM261.5,480.6h1.1v0.9h-1.1zM262.3,481.9h0.8v0.6h-0.8zM237.1,433.5h0.8v0.6h-0.8zM239.0,437.2h0.8v0.6h-0.8zM225.9,470.2h1.1v0.9h-1.1zM229.8,468.2h1.1v0.9h-1.1zM231.0,469.7h1.9v1.5h-1.9zM231.5,469.5h0.8v0.6h-0.8zM231.5,468.9h1.3v1.0h-1.3zM232.9,469.0h2.2v1.8h-2.2zM241.8,469.5h1.4v1.2h-1.4zM238.9,469.8h1.4v1.2h-1.4zM234.8,467.5h1.9v1.5h-1.9zM237.4,467.4h1.3v1.0h-1.3zM243.7,446.6h1.7v1.4h-1.7zM242.3,447.7h1.9v1.5h-1.9zM241.9,443.9h1.7v1.4h-1.7zM252.0,471.5h1.9v1.5h-1.9zM249.1,471.6h0.8v0.6h-0.8zM252.6,471.7h1.1v0.9h-1.1zM245.3,471.6h1.1v0.9h-1.1zM241.0,485.4h1.7v1.4h-1.7zM239.7,484.9h1.3v1.0h-1.3zM242.6,484.4h2.2v1.8h-2.2zM230.4,485.4h1.3v1.0h-1.3zM224.1,488.9h1.1v0.9h-1.1zM226.3,487.8h1.4v1.2h-1.4zM226.3,484.6h1.3v1.0h-1.3zM228.1,486.1h1.1v0.9h-1.1zM246.5,457.6h0.8v0.6h-0.8zM248.5,455.2h1.7v1.4h-1.7zM243.4,456.5h1.7v1.4h-1.7zM244.6,470.2h0.9v0.8h-0.9zM243.0,466.6h0.8v0.6h-0.8zM243.7,468.5h0.9v0.8h-0.9zM255.7,480.2h0.9v0.8h-0.9zM258.2,481.9h1.4v1.2h-1.4zM252.1,479.3h1.1v0.9h-1.1zM238.1,464.5h1.4v1.2h-1.4zM250.9,457.5h2.2v1.8h-2.2zM244.6,456.6h0.9v0.8h-0.9zM249.7,455.3h0.9v0.8h-0.9zM251.8,453.6h0.8v0.6h-0.8zM245.2,457.8h1.1v0.9h-1.1zM247.7,457.0h1.4v1.2h-1.4zM256.7,457.8h1.9v1.5h-1.9zM263.8,455.5h2.2v1.8h-2.2zM258.4,456.8h1.7v1.4h-1.7zM262.6,456.2h1.4v1.2h-1.4zM255.6,459.8h0.9v0.8h-0.9zM244.7,486.4h1.9v1.5h-1.9zM239.5,447.1h1.9v1.5h-1.9zM224.1,481.1h1.7v1.4h-1.7zM246.7,423.3h1.7v1.4h-1.7zM240.8,468.7h1.1v0.9h-1.1zM235.1,460.7h1.9v1.5h-1.9zM223.1,476.5h0.8v0.6h-0.8zM247.9,424.9h1.3v1.0h-1.3zM249.7,471.6h1.9v1.5h-1.9zM237.6,434.9h2.2v1.8h-2.2zM265.0,480.7h0.8v0.6h-0.8zM265.1,475.3h0.8v0.6h-0.8zM254.3,460.4h1.7v1.4h-1.7zM252.6,449.0h1.3v1.0h-1.3zM226.5,476.4h1.9v1.5h-1.9zM231.6,455.0h1.3v1.0h-1.3zM255.7,484.1h0.8v0.6h-0.8zM234.3,449.0h1.3v1.0h-1.3zM237.4,434.3h1.9v1.5h-1.9zM241.7,453.1h1.9v1.5h-1.9zM234.0,483.8h1.7v1.4h-1.7zM269.4,478.4h0.9v0.8h-0.9zM245.9,422.1h1.7v1.4h-1.7zM240.4,476.9h2.2v1.8h-2.2zM251.3,476.3h1.3v1.0h-1.3zM229.2,464.0h0.9v0.8h-0.9zM248.7,434.1h1.3v1.0h-1.3zM241.6,441.6h0.9v0.8h-0.9zM247.4,437.7h2.2v1.8h-2.2zM231.6,483.9h0.9v0.8h-0.9zM230.1,468.6h1.3v1.0h-1.3zM266.9,471.1h1.4v1.2h-1.4zM232.1,462.2h0.8v0.6h-0.8zM264.8,461.5h1.7v1.4h-1.7zM244.2,472.5h0.8v0.6h-0.8zM251.5,424.5h0.9v0.8h-0.9zM240.4,425.6h1.1v0.9h-1.1zM259.2,468.4h1.7v1.4h-1.7zM244.7,468.8h1.3v1.0h-1.3zM247.4,434.7h0.8v0.6h-0.8zM237.1,441.9h1.7v1.4h-1.7zM241.6,432.5h1.7v1.4h-1.7zM236.6,486.2h1.7v1.4h-1.7zM231.4,463.0h2.2v1.8h-2.2zM243.1,454.6h1.9v1.5h-1.9zM239.8,435.4h0.9v0.8h-0.9zM236.5,451.0h1.1v0.9h-1.1zM242.9,467.3h1.9v1.5h-1.9zM241.7,430.8h0.8v0.6h-0.8zM237.2,434.9h1.3v1.0h-1.3zM250.6,446.5h0.9v0.8h-0.9zM224.6,476.2h1.3v1.0h-1.3zM238.8,482.7h1.3v1.0h-1.3zM253.5,473.5h0.8v0.6h-0.8zM260.3,479.7h1.1v0.9h-1.1zM250.7,471.4h1.4v1.2h-1.4zM256.0,442.1h1.3v1.0h-1.3zM252.1,451.3h1.1v0.9h-1.1zM244.4,424.5h1.1v0.9h-1.1zM239.4,434.8h0.8v0.6h-0.8zM228.0,470.4h1.4v1.2h-1.4zM251.1,463.8h1.9v1.5h-1.9zM243.9,483.5h1.3v1.0h-1.3zM252.2,451.0h1.7v1.4h-1.7zM238.7,456.1h1.3v1.0h-1.3zM244.2,466.4h1.3v1.0h-1.3zM245.6,434.1h0.9v0.8h-0.9zM242.4,465.9h0.8v0.6h-0.8zM237.6,432.1h1.4v1.2h-1.4zM247.0,437.6h1.3v1.0h-1.3zM231.8,473.2h1.7v1.4h-1.7zM243.5,449.7h1.1v0.9h-1.1zM242.6,444.9h2.2v1.8h-2.2zM223.8,486.3h1.3v1.0h-1.3zM248.2,430.4h1.7v1.4h-1.7zM244.7,464.4h1.4v1.2h-1.4zM230.5,478.0h0.9v0.8h-0.9zM243.8,449.8h0.8v0.6h-0.8zM252.6,428.1h1.1v0.9h-1.1z" fill-opacity="0.45"/><path d="M237.6,425.9h1.1v0.9h-1.1zM244.9,426.0h2.2v1.8h-2.2zM242.5,423.0h1.7v1.4h-1.7zM242.7,429.8h0.8v0.6h-0.8zM239.8,429.1h1.3v1.0h-1.3zM244.4,430.9h2.2v1.8h-2.2zM244.8,431.6h0.9v0.8h-0.9zM245.9,428.7h1.1v0.9h-1.1zM238.5,426.1h1.4v1.2h-1.4zM243.9,433.5h0.8v0.6h-0.8zM237.6,437.8h1.1v0.9h-1.1zM242.8,435.9h1.3v1.0h-1.3zM242.3,434.6h1.7v1.4h-1.7zM247.0,435.5h1.4v1.2h-1.4zM242.1,437.1h1.4v1.2h-1.4zM241.2,433.5h1.1v0.9h-1.1zM239.9,436.3h1.7v1.4h-1.7zM244.8,435.7h0.9v0.8h-0.9zM240.9,435.3h1.9v1.5h-1.9zM246.5,442.4h2.2v1.8h-2.2zM237.3,438.7h1.1v0.9h-1.1zM240.2,440.4h1.3v1.0h-1.3zM236.7,443.7h0.9v0.8h-0.9zM240.0,440.5h0.8v0.6h-0.8zM241.8,442.1h1.3v1.0h-1.3zM240.7,439.3h0.8v0.6h-0.8zM244.5,439.6h0.8v0.6h-0.8zM244.8,444.0h1.9v1.5h-1.9zM234.7,435.3h1.9v1.5h-1.9zM240.0,440.1h1.3v1.0h-1.3zM245.1,443.8h1.7v1.4h-1.7zM245.5,446.4h1.7v1.4h-1.7zM240.4,442.8h1.7v1.4h-1.7zM262.1,446.7h1.3v1.0h-1.3zM253.6,446.2h1.1v0.9h-1.1zM250.5,447.7h0.8v0.6h-0.8zM248.8,450.7h2.2v1.8h-2.2zM247.0,450.1h0.8v0.6h-0.8zM255.8,448.1h0.8v0.6h-0.8zM255.4,443.0h1.7v1.4h-1.7zM253.3,446.5h1.1v0.9h-1.1zM249.4,448.0h1.1v0.9h-1.1zM260.6,444.3h1.1v0.9h-1.1zM234.8,452.2h1.7v1.4h-1.7zM235.2,453.7h1.1v0.9h-1.1zM242.6,454.9h1.3v1.0h-1.3zM236.9,453.0h1.3v1.0h-1.3zM233.8,451.0h1.7v1.4h-1.7zM234.1,448.7h0.8v0.6h-0.8zM233.7,447.2h1.1v0.9h-1.1zM256.1,452.0h1.7v1.4h-1.7zM247.8,454.5h2.2v1.8h-2.2zM247.8,454.7h2.2v1.8h-2.2zM250.3,451.9h1.7v1.4h-1.7zM251.6,454.2h1.7v1.4h-1.7zM258.3,452.1h1.3v1.0h-1.3zM256.2,449.4h1.3v1.0h-1.3zM250.8,450.5h1.1v0.9h-1.1zM249.2,451.9h0.8v0.6h-0.8zM261.7,451.8h0.9v0.8h-0.9zM247.2,454.3h1.1v0.9h-1.1zM246.9,453.0h1.3v1.0h-1.3zM265.2,450.7h1.9v1.5h-1.9zM251.9,453.0h0.8v0.6h-0.8zM249.4,453.3h0.9v0.8h-0.9zM243.0,459.2h0.8v0.6h-0.8zM239.5,459.5h0.9v0.8h-0.9zM239.7,461.3h1.1v0.9h-1.1zM238.9,458.6h1.4v1.2h-1.4zM241.2,464.0h1.7v1.4h-1.7zM246.4,463.0h0.8v0.6h-0.8zM238.3,464.2h2.2v1.8h-2.2zM231.4,459.1h1.9v1.5h-1.9zM237.2,466.1h1.9v1.5h-1.9zM236.2,462.0h1.1v0.9h-1.1zM229.1,457.7h1.9v1.5h-1.9zM237.1,463.0h1.7v1.4h-1.7zM241.6,469.3h0.9v0.8h-0.9zM244.0,465.4h1.7v1.4h-1.7zM258.3,470.5h2.2v1.8h-2.2zM258.9,470.1h1.3v1.0h-1.3zM249.3,472.5h1.7v1.4h-1.7zM255.8,470.8h0.8v0.6h-0.8zM261.4,465.7h1.3v1.0h-1.3zM247.4,471.3h1.1v0.9h-1.1zM261.2,462.4h1.1v0.9h-1.1zM250.6,470.1h1.3v1.0h-1.3zM247.4,470.5h1.1v0.9h-1.1zM259.6,469.7h2.2v1.8h-2.2zM248.8,471.2h1.3v1.0h-1.3zM251.0,472.5h0.9v0.8h-0.9zM231.7,468.1h1.7v1.4h-1.7zM237.1,470.3h1.3v1.0h-1.3zM235.3,468.0h1.9v1.5h-1.9zM236.5,467.2h1.9v1.5h-1.9zM229.3,465.1h0.9v0.8h-0.9zM235.6,474.4h1.4v1.2h-1.4zM225.9,468.2h0.9v0.8h-0.9zM228.4,465.1h1.1v0.9h-1.1zM238.4,472.3h1.4v1.2h-1.4zM237.0,470.8h2.2v1.8h-2.2zM235.6,469.7h1.7v1.4h-1.7zM237.3,471.6h1.1v0.9h-1.1zM251.7,480.8h1.9v1.5h-1.9zM248.6,480.3h1.9v1.5h-1.9zM251.7,480.4h1.9v1.5h-1.9zM253.3,477.5h1.7v1.4h-1.7zM265.6,478.6h1.1v0.9h-1.1zM260.0,478.6h1.9v1.5h-1.9zM251.8,480.3h1.1v0.9h-1.1zM257.9,478.6h0.8v0.6h-0.8zM257.6,478.4h2.2v1.8h-2.2zM255.5,479.2h1.7v1.4h-1.7zM263.0,478.1h0.8v0.6h-0.8zM252.8,478.7h1.1v0.9h-1.1zM247.8,482.9h1.9v1.5h-1.9zM259.9,479.4h1.7v1.4h-1.7zM256.7,476.4h1.3v1.0h-1.3zM252.2,480.9h1.4v1.2h-1.4zM258.7,482.0h1.3v1.0h-1.3zM262.6,479.3h1.4v1.2h-1.4zM235.4,461.5h1.3v1.0h-1.3zM240.5,458.4h0.9v0.8h-0.9zM241.8,459.8h2.2v1.8h-2.2zM241.3,460.2h1.9v1.5h-1.9zM227.2,479.6h1.4v1.2h-1.4zM230.3,478.6h2.2v1.8h-2.2zM233.8,478.4h1.3v1.0h-1.3zM231.4,480.5h1.1v0.9h-1.1zM245.3,438.5h0.8v0.6h-0.8zM242.5,438.2h0.9v0.8h-0.9zM242.6,438.5h0.9v0.8h-0.9zM236.9,466.4h1.4v1.2h-1.4zM246.3,462.5h1.9v1.5h-1.9zM244.1,466.5h2.2v1.8h-2.2zM248.8,466.7h1.7v1.4h-1.7zM248.7,464.6h0.9v0.8h-0.9zM223.9,473.5h2.2v1.8h-2.2zM230.7,475.5h1.7v1.4h-1.7zM225.6,475.3h1.9v1.5h-1.9zM232.6,474.6h0.9v0.8h-0.9zM230.9,472.4h1.1v0.9h-1.1zM226.2,473.3h1.4v1.2h-1.4zM230.4,473.5h1.7v1.4h-1.7zM227.6,477.2h1.7v1.4h-1.7zM225.5,474.5h2.2v1.8h-2.2zM233.7,475.8h1.9v1.5h-1.9zM231.8,479.1h1.9v1.5h-1.9zM232.3,477.0h0.8v0.6h-0.8zM225.6,477.2h0.9v0.8h-0.9zM229.7,479.9h0.8v0.6h-0.8zM255.1,452.6h1.1v0.9h-1.1zM257.1,452.2h1.1v0.9h-1.1zM255.2,452.7h1.4v1.2h-1.4zM236.6,438.7h1.1v0.9h-1.1zM237.7,438.7h0.9v0.8h-0.9zM241.7,468.7h1.9v1.5h-1.9zM239.0,466.8h1.7v1.4h-1.7zM237.0,470.3h1.9v1.5h-1.9zM249.9,487.6h0.8v0.6h-0.8zM246.2,485.1h0.8v0.6h-0.8zM245.7,486.3h1.3v1.0h-1.3zM245.5,487.3h1.9v1.5h-1.9zM242.6,486.5h0.8v0.6h-0.8zM247.2,485.6h1.3v1.0h-1.3zM247.2,485.8h1.7v1.4h-1.7zM234.4,466.5h2.2v1.8h-2.2zM234.2,472.1h1.4v1.2h-1.4zM231.6,470.8h1.3v1.0h-1.3zM234.4,466.3h1.4v1.2h-1.4zM233.9,469.4h2.2v1.8h-2.2zM231.6,469.8h0.8v0.6h-0.8zM258.1,480.2h1.4v1.2h-1.4zM235.2,437.3h1.4v1.2h-1.4zM236.9,438.8h1.7v1.4h-1.7zM240.8,436.8h0.8v0.6h-0.8zM249.8,467.0h1.3v1.0h-1.3zM242.6,464.9h0.8v0.6h-0.8zM241.4,463.8h2.2v1.8h-2.2zM239.0,467.7h1.9v1.5h-1.9zM244.9,463.8h1.3v1.0h-1.3zM238.7,467.8h1.9v1.5h-1.9zM234.7,468.9h1.9v1.5h-1.9zM234.9,470.5h1.3v1.0h-1.3zM244.4,447.8h1.1v0.9h-1.1zM250.4,469.7h1.3v1.0h-1.3zM246.2,471.0h0.9v0.8h-0.9zM244.5,470.8h1.3v1.0h-1.3zM250.6,469.1h0.9v0.8h-0.9zM249.8,471.4h1.3v1.0h-1.3zM251.7,469.3h1.3v1.0h-1.3zM238.1,485.7h1.1v0.9h-1.1zM240.2,489.9h1.4v1.2h-1.4zM225.2,486.0h1.3v1.0h-1.3zM223.5,484.9h1.1v0.9h-1.1zM227.2,489.4h1.3v1.0h-1.3zM241.0,455.7h1.9v1.5h-1.9zM248.0,454.6h2.2v1.8h-2.2zM244.4,458.1h1.3v1.0h-1.3zM247.4,467.4h1.9v1.5h-1.9zM247.3,468.4h1.4v1.2h-1.4zM248.4,467.4h1.3v1.0h-1.3zM247.0,468.4h0.9v0.8h-0.9zM246.8,466.9h1.9v1.5h-1.9zM247.9,467.4h1.3v1.0h-1.3zM256.1,479.4h1.1v0.9h-1.1zM257.4,480.5h0.9v0.8h-0.9zM250.9,477.9h1.4v1.2h-1.4zM253.2,481.4h0.8v0.6h-0.8zM250.9,481.8h1.9v1.5h-1.9zM254.1,480.9h1.9v1.5h-1.9zM254.9,481.8h0.9v0.8h-0.9zM256.1,480.6h1.7v1.4h-1.7zM253.3,480.5h1.9v1.5h-1.9zM252.2,479.3h1.1v0.9h-1.1zM250.1,478.3h1.7v1.4h-1.7zM256.9,477.7h1.1v0.9h-1.1zM252.9,484.1h1.3v1.0h-1.3zM246.8,478.3h1.9v1.5h-1.9zM247.3,482.0h1.3v1.0h-1.3zM241.0,465.1h0.9v0.8h-0.9zM233.3,464.0h0.8v0.6h-0.8zM240.6,465.8h0.8v0.6h-0.8zM239.5,464.7h1.7v1.4h-1.7zM250.9,455.2h1.3v1.0h-1.3zM251.0,456.2h1.7v1.4h-1.7zM247.8,457.6h2.2v1.8h-2.2zM251.4,457.2h1.3v1.0h-1.3zM250.9,456.8h1.1v0.9h-1.1zM257.4,457.0h1.3v1.0h-1.3zM251.5,467.5h0.9v0.8h-0.9zM233.1,455.1h2.2v1.8h-2.2zM243.6,463.3h1.3v1.0h-1.3zM240.0,445.0h2.2v1.8h-2.2zM264.7,481.5h2.2v1.8h-2.2zM253.7,461.9h0.9v0.8h-0.9zM255.8,436.6h1.9v1.5h-1.9zM241.6,485.8h0.9v0.8h-0.9zM255.8,458.0h2.2v1.8h-2.2zM243.2,425.4h2.2v1.8h-2.2zM232.6,467.2h2.2v1.8h-2.2zM248.7,439.1h1.1v0.9h-1.1zM265.8,482.7h1.7v1.4h-1.7zM267.8,480.2h1.7v1.4h-1.7zM250.8,435.7h1.4v1.2h-1.4zM235.9,456.2h0.8v0.6h-0.8zM250.1,480.1h0.8v0.6h-0.8zM251.7,425.4h0.8v0.6h-0.8zM236.5,484.7h1.4v1.2h-1.4zM257.9,456.3h0.9v0.8h-0.9zM268.5,473.3h0.9v0.8h-0.9zM251.6,435.0h1.7v1.4h-1.7zM224.0,468.5h0.9v0.8h-0.9zM249.8,422.6h1.3v1.0h-1.3zM251.3,482.2h1.3v1.0h-1.3zM233.8,471.3h1.3v1.0h-1.3zM248.7,423.4h1.3v1.0h-1.3zM249.6,476.9h1.9v1.5h-1.9zM247.6,418.1h1.9v1.5h-1.9zM258.4,479.1h1.3v1.0h-1.3zM240.1,431.2h2.2v1.8h-2.2zM233.0,450.4h1.1v0.9h-1.1zM235.9,445.8h2.2v1.8h-2.2zM233.8,455.9h0.8v0.6h-0.8zM249.1,427.7h1.4v1.2h-1.4zM236.0,446.3h1.4v1.2h-1.4zM232.4,483.4h0.8v0.6h-0.8zM234.0,462.1h1.1v0.9h-1.1zM229.8,477.4h1.7v1.4h-1.7zM267.4,481.8h1.7v1.4h-1.7zM231.1,460.0h1.7v1.4h-1.7zM238.5,442.2h1.4v1.2h-1.4zM253.4,430.4h1.4v1.2h-1.4zM245.3,429.9h1.1v0.9h-1.1zM233.6,483.2h1.9v1.5h-1.9zM238.1,451.2h0.9v0.8h-0.9zM248.6,424.4h1.7v1.4h-1.7zM241.8,443.1h1.1v0.9h-1.1zM244.7,450.5h0.8v0.6h-0.8zM225.7,485.2h0.9v0.8h-0.9zM226.2,485.5h0.8v0.6h-0.8zM242.4,476.4h1.4v1.2h-1.4zM257.2,476.2h1.9v1.5h-1.9zM258.4,449.4h1.1v0.9h-1.1zM241.7,473.3h1.4v1.2h-1.4zM259.0,460.9h0.8v0.6h-0.8zM238.2,439.3h0.9v0.8h-0.9zM261.2,472.5h0.9v0.8h-0.9zM242.7,443.2h2.2v1.8h-2.2zM247.7,429.9h2.2v1.8h-2.2zM242.0,479.2h1.4v1.2h-1.4zM238.5,485.4h0.9v0.8h-0.9zM250.9,431.4h1.7v1.4h-1.7zM230.6,466.4h0.9v0.8h-0.9zM243.9,472.8h1.3v1.0h-1.3zM240.6,426.3h1.1v0.9h-1.1zM245.8,457.4h1.3v1.0h-1.3zM245.8,441.2h2.2v1.8h-2.2zM249.3,463.7h1.4v1.2h-1.4zM257.6,446.3h0.8v0.6h-0.8zM233.1,453.5h0.8v0.6h-0.8zM253.7,483.4h2.2v1.8h-2.2zM226.0,470.7h2.2v1.8h-2.2zM230.3,482.6h1.4v1.2h-1.4zM233.0,470.3h1.4v1.2h-1.4zM230.2,482.0h1.7v1.4h-1.7zM270.2,486.0h1.3v1.0h-1.3zM241.9,484.2h1.9v1.5h-1.9zM249.7,468.0h1.3v1.0h-1.3zM246.9,464.8h0.8v0.6h-0.8zM249.0,461.1h0.9v0.8h-0.9zM252.0,450.5h1.4v1.2h-1.4zM245.1,439.0h1.4v1.2h-1.4zM239.4,443.4h1.7v1.4h-1.7zM250.1,472.5h1.3v1.0h-1.3z" fill-opacity="0.7"/><path d="M242.2,426.2h1.4v1.2h-1.4zM238.6,424.7h1.3v1.0h-1.3zM243.1,426.1h1.4v1.2h-1.4zM241.9,423.3h1.3v1.0h-1.3zM246.1,423.9h1.3v1.0h-1.3zM244.8,426.8h0.8v0.6h-0.8zM240.2,427.5h1.4v1.2h-1.4zM239.8,423.9h0.9v0.8h-0.9zM237.8,425.5h1.3v1.0h-1.3zM245.1,425.2h0.8v0.6h-0.8zM242.3,426.0h0.8v0.6h-0.8zM242.8,426.4h1.4v1.2h-1.4zM248.5,426.1h2.2v1.8h-2.2zM242.9,428.6h1.1v0.9h-1.1zM236.3,426.3h1.9v1.5h-1.9zM244.5,427.0h1.7v1.4h-1.7zM244.7,429.5h2.2v1.8h-2.2zM244.4,428.1h1.4v1.2h-1.4zM244.6,429.0h1.1v0.9h-1.1zM243.2,429.0h1.9v1.5h-1.9zM239.6,429.9h1.4v1.2h-1.4zM242.4,426.4h0.8v0.6h-0.8zM245.9,435.1h1.9v1.5h-1.9zM236.6,434.0h0.8v0.6h-0.8zM236.7,435.5h0.8v0.6h-0.8zM241.9,432.5h1.7v1.4h-1.7zM246.1,434.7h0.9v0.8h-0.9zM244.5,434.7h0.8v0.6h-0.8zM234.2,436.6h1.7v1.4h-1.7zM238.7,434.4h1.1v0.9h-1.1zM236.7,432.9h2.2v1.8h-2.2zM244.2,434.0h1.7v1.4h-1.7zM238.2,433.9h0.8v0.6h-0.8zM239.2,431.9h1.1v0.9h-1.1zM237.4,436.7h0.9v0.8h-0.9zM237.5,434.3h2.2v1.8h-2.2zM243.5,435.5h0.9v0.8h-0.9zM237.9,434.1h2.2v1.8h-2.2zM242.0,434.2h0.8v0.6h-0.8zM241.5,436.2h1.9v1.5h-1.9zM242.1,436.8h0.8v0.6h-0.8zM246.7,436.2h2.2v1.8h-2.2zM238.5,436.7h1.9v1.5h-1.9zM242.0,437.3h1.4v1.2h-1.4zM243.0,434.9h1.7v1.4h-1.7zM238.4,433.2h0.9v0.8h-0.9zM246.0,436.0h0.8v0.6h-0.8zM238.0,442.0h1.7v1.4h-1.7zM233.7,447.3h1.9v1.5h-1.9zM233.6,442.1h1.9v1.5h-1.9zM239.3,438.8h0.9v0.8h-0.9zM237.0,439.9h1.1v0.9h-1.1zM244.2,442.3h1.9v1.5h-1.9zM242.2,445.1h2.2v1.8h-2.2zM240.2,442.3h1.7v1.4h-1.7zM243.9,442.0h0.8v0.6h-0.8zM243.1,443.0h0.8v0.6h-0.8zM234.7,438.6h1.4v1.2h-1.4zM244.5,444.4h1.1v0.9h-1.1zM241.4,441.2h2.2v1.8h-2.2zM242.3,444.3h1.3v1.0h-1.3zM231.0,441.2h1.7v1.4h-1.7zM242.5,444.0h0.8v0.6h-0.8zM235.3,437.8h1.3v1.0h-1.3zM240.3,443.5h1.9v1.5h-1.9zM237.4,441.1h1.9v1.5h-1.9zM239.9,444.8h1.7v1.4h-1.7zM236.6,444.3h1.7v1.4h-1.7zM239.5,443.2h1.7v1.4h-1.7zM247.3,451.5h2.2v1.8h-2.2zM247.3,449.6h1.1v0.9h-1.1zM246.2,450.2h0.8v0.6h-0.8zM249.0,449.1h2.2v1.8h-2.2zM249.4,449.3h1.4v1.2h-1.4zM249.1,447.9h1.9v1.5h-1.9zM248.3,449.6h1.1v0.9h-1.1zM250.5,448.0h1.9v1.5h-1.9zM255.4,448.7h0.9v0.8h-0.9zM252.6,444.7h1.3v1.0h-1.3zM245.7,448.3h1.1v0.9h-1.1zM247.8,449.0h1.9v1.5h-1.9zM232.7,451.0h1.7v1.4h-1.7zM238.0,453.6h1.4v1.2h-1.4zM241.9,451.2h1.7v1.4h-1.7zM241.8,448.9h1.9v1.5h-1.9zM239.6,451.2h2.2v1.8h-2.2zM234.0,447.7h1.4v1.2h-1.4zM245.5,453.3h1.1v0.9h-1.1zM244.2,455.0h1.7v1.4h-1.7zM233.6,449.8h2.2v1.8h-2.2zM238.0,452.6h1.9v1.5h-1.9zM242.1,450.9h0.9v0.8h-0.9zM234.2,448.6h1.1v0.9h-1.1zM240.0,454.6h1.3v1.0h-1.3zM237.5,452.8h1.7v1.4h-1.7zM240.0,451.9h2.2v1.8h-2.2zM231.8,450.5h2.2v1.8h-2.2zM229.6,449.3h0.8v0.6h-0.8zM241.3,454.1h0.8v0.6h-0.8zM255.1,452.9h1.9v1.5h-1.9zM249.8,453.4h0.8v0.6h-0.8zM258.1,451.6h1.4v1.2h-1.4zM256.2,449.2h0.9v0.8h-0.9zM251.5,451.3h0.9v0.8h-0.9zM249.8,456.2h1.1v0.9h-1.1zM250.5,455.2h0.8v0.6h-0.8zM246.5,455.1h0.9v0.8h-0.9zM250.6,452.5h1.7v1.4h-1.7zM257.2,448.4h1.3v1.0h-1.3zM255.7,454.2h0.9v0.8h-0.9zM236.7,459.6h1.7v1.4h-1.7zM238.2,458.4h1.4v1.2h-1.4zM231.8,455.8h1.3v1.0h-1.3zM230.7,455.6h1.7v1.4h-1.7zM229.7,454.3h1.4v1.2h-1.4zM241.2,460.4h1.9v1.5h-1.9zM241.7,458.2h1.7v1.4h-1.7zM235.3,459.9h1.4v1.2h-1.4zM241.6,459.5h1.7v1.4h-1.7zM241.9,460.9h0.8v0.6h-0.8zM244.3,459.5h1.9v1.5h-1.9zM242.0,460.7h0.9v0.8h-0.9zM238.7,457.8h0.9v0.8h-0.9zM246.8,459.3h1.3v1.0h-1.3zM236.3,456.6h0.8v0.6h-0.8zM239.4,461.4h1.7v1.4h-1.7zM239.0,460.2h1.7v1.4h-1.7zM227.8,459.1h0.8v0.6h-0.8zM237.8,454.9h1.3v1.0h-1.3zM243.5,461.7h1.9v1.5h-1.9zM240.8,459.0h1.9v1.5h-1.9zM245.8,461.7h2.2v1.8h-2.2zM246.3,459.5h1.9v1.5h-1.9zM236.8,461.5h1.4v1.2h-1.4zM242.7,465.2h1.4v1.2h-1.4zM229.0,463.6h1.3v1.0h-1.3zM231.9,464.1h1.4v1.2h-1.4zM235.0,462.5h1.7v1.4h-1.7zM238.9,461.1h1.3v1.0h-1.3zM235.6,460.8h2.2v1.8h-2.2zM230.0,460.9h1.1v0.9h-1.1zM237.6,464.8h1.4v1.2h-1.4zM243.7,464.0h0.9v0.8h-0.9zM241.8,463.2h0.8v0.6h-0.8zM237.7,462.5h1.9v1.5h-1.9zM237.8,463.7h1.4v1.2h-1.4zM236.9,464.0h0.9v0.8h-0.9zM244.4,465.8h0.8v0.6h-0.8zM240.0,460.5h1.4v1.2h-1.4zM231.8,459.3h1.4v1.2h-1.4zM239.2,464.0h0.8v0.6h-0.8zM242.2,464.9h1.3v1.0h-1.3zM237.0,466.8h1.1v0.9h-1.1zM236.9,464.6h1.9v1.5h-1.9zM237.9,465.6h1.7v1.4h-1.7zM230.9,458.4h1.4v1.2h-1.4zM241.7,467.5h1.3v1.0h-1.3zM233.4,459.9h1.3v1.0h-1.3zM232.5,461.2h1.9v1.5h-1.9zM235.9,465.7h0.8v0.6h-0.8zM242.0,465.7h1.3v1.0h-1.3zM237.6,466.0h2.2v1.8h-2.2zM226.9,463.0h1.3v1.0h-1.3zM236.2,462.6h0.8v0.6h-0.8zM241.8,468.9h1.7v1.4h-1.7zM242.1,467.7h1.4v1.2h-1.4zM244.8,467.0h1.4v1.2h-1.4zM240.9,466.2h0.9v0.8h-0.9zM237.3,465.8h0.8v0.6h-0.8zM237.7,460.4h1.4v1.2h-1.4zM250.8,470.1h2.2v1.8h-2.2zM257.0,468.2h0.8v0.6h-0.8zM252.3,469.9h1.4v1.2h-1.4zM257.5,470.6h1.3v1.0h-1.3zM255.2,466.9h1.4v1.2h-1.4zM255.5,473.3h0.9v0.8h-0.9zM259.3,466.0h0.8v0.6h-0.8zM252.7,467.9h2.2v1.8h-2.2zM258.4,470.5h0.8v0.6h-0.8zM250.6,471.7h1.3v1.0h-1.3zM261.4,468.3h1.3v1.0h-1.3zM260.3,468.0h1.4v1.2h-1.4zM260.5,467.2h1.3v1.0h-1.3zM247.2,472.0h1.4v1.2h-1.4zM253.1,472.0h0.9v0.8h-0.9zM256.8,470.5h2.2v1.8h-2.2zM252.9,473.2h1.9v1.5h-1.9zM251.6,470.4h0.8v0.6h-0.8zM252.2,468.9h2.2v1.8h-2.2zM240.4,472.4h1.3v1.0h-1.3zM236.4,467.9h1.9v1.5h-1.9zM238.2,473.8h1.7v1.4h-1.7zM226.3,465.2h1.4v1.2h-1.4zM229.4,467.8h1.1v0.9h-1.1zM243.1,471.8h2.2v1.8h-2.2zM229.9,469.0h0.8v0.6h-0.8zM242.3,473.0h0.8v0.6h-0.8zM234.3,468.3h0.9v0.8h-0.9zM226.9,466.0h1.3v1.0h-1.3zM243.6,473.1h1.7v1.4h-1.7zM229.1,468.5h0.9v0.8h-0.9zM230.5,465.7h0.8v0.6h-0.8zM239.4,469.7h0.8v0.6h-0.8zM255.0,478.3h1.7v1.4h-1.7zM260.0,480.8h1.7v1.4h-1.7zM249.7,481.4h1.1v0.9h-1.1zM252.3,479.4h1.7v1.4h-1.7zM257.1,478.9h0.8v0.6h-0.8zM256.4,477.9h0.9v0.8h-0.9zM253.8,481.2h1.1v0.9h-1.1zM259.6,479.2h1.4v1.2h-1.4zM252.2,478.5h2.2v1.8h-2.2zM258.3,475.4h1.1v0.9h-1.1zM247.6,478.2h2.2v1.8h-2.2zM268.5,474.3h1.9v1.5h-1.9zM250.6,479.7h0.9v0.8h-0.9zM263.4,476.5h1.3v1.0h-1.3zM258.8,479.1h0.8v0.6h-0.8zM259.2,477.4h1.1v0.9h-1.1zM251.9,480.1h1.9v1.5h-1.9zM247.3,480.6h1.1v0.9h-1.1zM249.3,480.0h1.3v1.0h-1.3zM252.9,479.7h1.7v1.4h-1.7zM268.3,476.7h0.9v0.8h-0.9zM260.9,480.6h0.8v0.6h-0.8zM247.0,481.5h1.7v1.4h-1.7zM250.6,481.8h1.3v1.0h-1.3zM263.2,476.0h1.3v1.0h-1.3zM252.2,481.4h1.4v1.2h-1.4zM254.3,481.3h1.7v1.4h-1.7zM245.6,482.9h1.4v1.2h-1.4zM259.0,476.2h0.9v0.8h-0.9zM258.7,482.3h1.7v1.4h-1.7zM259.2,479.6h1.9v1.5h-1.9zM254.3,478.6h2.2v1.8h-2.2zM249.0,479.5h1.4v1.2h-1.4zM262.3,478.0h0.9v0.8h-0.9zM248.6,478.2h1.9v1.5h-1.9zM249.4,481.3h1.3v1.0h-1.3zM251.6,483.4h1.1v0.9h-1.1zM255.6,480.7h2.2v1.8h-2.2zM249.5,481.0h1.3v1.0h-1.3zM246.6,480.6h1.3v1.0h-1.3zM262.3,483.1h1.1v0.9h-1.1zM258.1,479.0h1.7v1.4h-1.7zM260.4,476.9h1.9v1.5h-1.9zM255.8,480.5h1.7v1.4h-1.7zM239.3,460.3h1.9v1.5h-1.9zM241.0,459.2h1.4v1.2h-1.4zM240.9,461.3h1.9v1.5h-1.9zM238.5,463.6h1.9v1.5h-1.9zM235.2,480.4h1.3v1.0h-1.3zM225.1,479.1h0.9v0.8h-0.9zM229.0,479.9h1.3v1.0h-1.3zM236.7,476.9h1.3v1.0h-1.3zM228.4,479.4h1.9v1.5h-1.9zM228.1,479.6h1.9v1.5h-1.9zM235.3,479.4h1.1v0.9h-1.1zM234.0,479.3h1.3v1.0h-1.3zM238.3,478.9h0.8v0.6h-0.8zM227.2,477.9h1.3v1.0h-1.3zM235.0,479.3h1.9v1.5h-1.9zM232.0,478.0h1.4v1.2h-1.4zM242.1,436.9h1.3v1.0h-1.3zM243.2,438.0h1.3v1.0h-1.3zM244.8,438.6h1.4v1.2h-1.4zM242.5,439.6h1.3v1.0h-1.3zM244.6,439.6h1.3v1.0h-1.3zM240.6,439.1h0.9v0.8h-0.9zM247.6,438.6h1.3v1.0h-1.3zM241.7,439.2h1.4v1.2h-1.4zM242.6,439.2h1.1v0.9h-1.1zM240.5,440.0h1.7v1.4h-1.7zM238.2,439.6h0.8v0.6h-0.8zM241.3,439.4h2.2v1.8h-2.2zM252.8,464.2h1.9v1.5h-1.9zM252.5,465.3h2.2v1.8h-2.2zM254.1,463.8h0.9v0.8h-0.9zM252.8,463.9h2.2v1.8h-2.2zM252.5,465.0h2.2v1.8h-2.2zM252.6,463.3h1.3v1.0h-1.3zM252.6,466.2h1.7v1.4h-1.7zM249.7,467.1h1.1v0.9h-1.1zM251.5,464.1h1.4v1.2h-1.4zM256.7,464.3h1.1v0.9h-1.1zM251.8,465.2h0.9v0.8h-0.9zM256.2,464.0h1.1v0.9h-1.1zM259.2,465.0h2.2v1.8h-2.2zM252.0,462.3h0.9v0.8h-0.9zM254.2,466.9h1.9v1.5h-1.9zM254.6,466.7h0.8v0.6h-0.8zM250.1,465.0h1.7v1.4h-1.7zM239.2,468.2h0.9v0.8h-0.9zM250.7,464.9h1.7v1.4h-1.7zM241.7,469.1h1.9v1.5h-1.9zM232.8,473.3h2.2v1.8h-2.2zM231.1,474.0h1.7v1.4h-1.7zM229.0,474.1h1.7v1.4h-1.7zM230.0,476.3h0.9v0.8h-0.9zM227.0,476.8h1.1v0.9h-1.1zM227.1,478.6h1.9v1.5h-1.9zM224.0,476.0h2.2v1.8h-2.2zM232.1,478.9h1.9v1.5h-1.9zM231.7,476.9h1.3v1.0h-1.3zM230.2,479.7h0.8v0.6h-0.8zM225.5,474.8h0.8v0.6h-0.8zM225.7,478.5h1.9v1.5h-1.9zM230.0,480.5h1.4v1.2h-1.4zM229.4,479.0h0.9v0.8h-0.9zM255.5,451.9h2.2v1.8h-2.2zM256.8,453.3h1.9v1.5h-1.9zM253.1,453.4h1.3v1.0h-1.3zM253.9,455.8h2.2v1.8h-2.2zM239.2,437.9h1.4v1.2h-1.4zM238.4,440.5h1.3v1.0h-1.3zM237.3,438.1h1.7v1.4h-1.7zM239.4,437.6h1.4v1.2h-1.4zM237.5,438.5h1.4v1.2h-1.4zM237.2,439.7h2.2v1.8h-2.2zM236.7,439.4h0.8v0.6h-0.8zM238.3,437.3h1.1v0.9h-1.1zM237.1,469.3h0.8v0.6h-0.8zM235.7,468.4h1.3v1.0h-1.3zM238.4,467.8h1.1v0.9h-1.1zM242.9,469.1h1.7v1.4h-1.7zM235.9,469.4h1.1v0.9h-1.1zM239.3,470.0h1.4v1.2h-1.4zM235.0,468.0h1.9v1.5h-1.9zM235.3,468.9h1.1v0.9h-1.1zM234.9,468.7h2.2v1.8h-2.2zM243.6,484.9h0.8v0.6h-0.8zM246.4,486.3h2.2v1.8h-2.2zM249.3,484.9h2.2v1.8h-2.2zM247.6,488.4h1.4v1.2h-1.4zM249.6,484.4h1.7v1.4h-1.7zM243.3,487.7h1.7v1.4h-1.7zM235.4,470.7h1.9v1.5h-1.9zM235.2,474.4h1.4v1.2h-1.4zM235.7,469.5h0.9v0.8h-0.9zM234.8,472.1h1.4v1.2h-1.4zM234.5,471.3h0.9v0.8h-0.9zM237.8,471.7h0.9v0.8h-0.9zM233.9,471.4h1.7v1.4h-1.7zM235.8,471.0h1.4v1.2h-1.4zM236.0,477.2h0.9v0.8h-0.9zM261.7,482.9h1.7v1.4h-1.7zM259.1,481.3h0.8v0.6h-0.8zM259.8,481.6h0.9v0.8h-0.9zM264.0,480.3h0.8v0.6h-0.8zM258.2,482.7h1.4v1.2h-1.4zM259.9,482.6h1.7v1.4h-1.7zM234.7,436.3h1.1v0.9h-1.1zM248.4,438.3h1.7v1.4h-1.7zM242.2,439.0h0.9v0.8h-0.9zM241.3,436.7h1.9v1.5h-1.9zM240.6,433.9h1.1v0.9h-1.1zM238.8,435.3h1.4v1.2h-1.4zM243.0,468.0h1.1v0.9h-1.1zM244.9,462.4h0.8v0.6h-0.8zM242.0,465.0h0.8v0.6h-0.8zM243.4,463.6h0.9v0.8h-0.9zM243.3,465.3h1.1v0.9h-1.1zM232.4,467.9h2.2v1.8h-2.2zM231.7,469.6h1.9v1.5h-1.9zM230.1,470.5h1.9v1.5h-1.9zM228.2,469.9h1.4v1.2h-1.4zM229.9,470.0h0.8v0.6h-0.8zM234.2,467.5h1.1v0.9h-1.1zM229.2,468.9h1.4v1.2h-1.4zM234.2,471.2h1.1v0.9h-1.1zM232.7,468.8h1.4v1.2h-1.4zM236.6,468.3h1.9v1.5h-1.9zM235.7,468.5h1.4v1.2h-1.4zM235.9,469.1h0.8v0.6h-0.8zM236.6,468.7h1.7v1.4h-1.7zM235.7,468.6h0.8v0.6h-0.8zM235.9,469.7h1.4v1.2h-1.4zM231.7,471.2h1.9v1.5h-1.9zM236.7,467.6h1.9v1.5h-1.9zM238.3,468.2h1.1v0.9h-1.1zM239.2,468.1h0.9v0.8h-0.9zM237.2,468.9h0.9v0.8h-0.9zM236.5,469.5h1.7v1.4h-1.7zM244.5,447.5h1.4v1.2h-1.4zM245.3,447.9h1.1v0.9h-1.1zM242.6,450.8h0.8v0.6h-0.8zM246.4,448.0h1.9v1.5h-1.9zM246.1,446.6h1.3v1.0h-1.3zM242.0,446.8h1.4v1.2h-1.4zM247.1,448.0h0.8v0.6h-0.8zM245.8,447.4h2.2v1.8h-2.2zM249.2,472.2h1.7v1.4h-1.7zM251.2,470.8h1.9v1.5h-1.9zM246.1,470.0h1.1v0.9h-1.1zM244.8,470.9h1.7v1.4h-1.7zM249.5,471.7h2.2v1.8h-2.2zM250.9,470.7h0.8v0.6h-0.8zM247.2,470.6h1.4v1.2h-1.4zM248.8,471.2h0.9v0.8h-0.9zM250.4,471.8h1.3v1.0h-1.3zM249.2,472.3h1.1v0.9h-1.1zM244.9,481.9h1.9v1.5h-1.9zM242.8,483.7h1.7v1.4h-1.7zM238.1,484.3h1.7v1.4h-1.7zM243.3,486.5h1.9v1.5h-1.9zM244.6,487.3h0.8v0.6h-0.8zM240.3,485.3h0.9v0.8h-0.9zM242.7,486.5h0.8v0.6h-0.8zM228.0,487.4h0.8v0.6h-0.8zM225.8,488.1h2.2v1.8h-2.2zM230.7,485.4h1.7v1.4h-1.7zM226.9,487.2h0.9v0.8h-0.9zM227.5,485.2h2.2v1.8h-2.2zM227.1,487.6h1.9v1.5h-1.9zM227.5,486.2h1.7v1.4h-1.7zM224.4,486.4h1.3v1.0h-1.3zM227.3,482.9h0.9v0.8h-0.9zM245.6,458.1h1.7v1.4h-1.7zM246.1,457.2h2.2v1.8h-2.2zM248.0,457.1h1.1v0.9h-1.1zM246.3,456.0h2.2v1.8h-2.2zM245.4,455.7h1.7v1.4h-1.7zM249.2,453.8h2.2v1.8h-2.2zM245.9,454.8h0.8v0.6h-0.8zM247.3,458.5h1.9v1.5h-1.9zM245.0,470.4h1.3v1.0h-1.3zM247.6,469.9h1.4v1.2h-1.4zM248.1,468.6h1.3v1.0h-1.3zM247.4,468.8h0.9v0.8h-0.9zM246.2,465.9h0.8v0.6h-0.8zM248.2,466.3h1.7v1.4h-1.7zM248.0,470.2h0.9v0.8h-0.9zM245.7,469.2h1.1v0.9h-1.1zM256.3,479.3h0.8v0.6h-0.8zM259.7,481.2h2.2v1.8h-2.2zM256.3,480.9h1.9v1.5h-1.9zM258.7,479.4h1.1v0.9h-1.1zM257.8,477.8h2.2v1.8h-2.2zM256.1,479.3h0.9v0.8h-0.9zM258.7,479.7h0.9v0.8h-0.9zM255.0,480.7h1.9v1.5h-1.9zM251.6,481.6h1.7v1.4h-1.7zM257.6,480.2h1.7v1.4h-1.7zM254.8,482.1h1.1v0.9h-1.1zM252.0,481.9h0.8v0.6h-0.8zM251.7,481.2h1.1v0.9h-1.1zM248.2,478.8h1.3v1.0h-1.3zM251.1,477.4h1.3v1.0h-1.3zM237.5,462.7h1.4v1.2h-1.4zM239.2,463.1h1.9v1.5h-1.9zM233.4,463.2h2.2v1.8h-2.2zM237.2,463.6h1.7v1.4h-1.7zM240.1,463.1h1.7v1.4h-1.7zM235.6,461.5h2.2v1.8h-2.2zM235.6,464.6h1.9v1.5h-1.9zM251.9,459.4h0.9v0.8h-0.9zM249.3,456.5h1.3v1.0h-1.3zM247.0,457.9h1.9v1.5h-1.9zM246.9,456.3h2.2v1.8h-2.2zM245.7,457.6h1.3v1.0h-1.3zM248.4,456.0h1.3v1.0h-1.3zM253.1,456.9h2.2v1.8h-2.2zM248.1,455.2h1.9v1.5h-1.9zM243.5,456.6h1.1v0.9h-1.1zM261.3,455.9h1.9v1.5h-1.9zM256.0,456.3h1.1v0.9h-1.1zM256.7,458.2h0.9v0.8h-0.9zM257.4,460.2h1.7v1.4h-1.7zM256.2,456.5h1.1v0.9h-1.1zM263.9,460.4h0.8v0.6h-0.8zM255.3,456.1h1.1v0.9h-1.1zM263.5,456.9h1.1v0.9h-1.1zM254.1,453.2h1.3v1.0h-1.3zM256.8,457.2h1.1v0.9h-1.1zM261.2,457.2h0.9v0.8h-0.9zM264.1,455.8h1.3v1.0h-1.3zM254.4,457.7h0.8v0.6h-0.8zM259.1,455.7h2.2v1.8h-2.2zM251.1,428.4h2.2v1.8h-2.2zM235.7,485.8h0.8v0.6h-0.8zM242.0,479.9h1.7v1.4h-1.7zM245.2,446.3h2.2v1.8h-2.2zM255.1,458.2h1.1v0.9h-1.1zM269.2,482.5h1.3v1.0h-1.3zM262.4,482.4h0.8v0.6h-0.8zM257.6,456.1h1.1v0.9h-1.1zM235.7,477.6h1.7v1.4h-1.7zM246.3,421.6h0.9v0.8h-0.9zM250.6,472.3h1.7v1.4h-1.7zM258.4,452.4h1.7v1.4h-1.7zM238.4,430.6h1.7v1.4h-1.7zM235.4,468.9h1.3v1.0h-1.3zM243.5,464.8h0.9v0.8h-0.9zM243.4,426.5h0.8v0.6h-0.8zM226.4,472.8h1.7v1.4h-1.7zM235.8,455.2h1.1v0.9h-1.1zM252.0,481.2h0.9v0.8h-0.9zM237.7,433.5h1.3v1.0h-1.3zM234.4,475.8h1.1v0.9h-1.1zM232.4,447.2h0.8v0.6h-0.8zM252.8,463.8h1.4v1.2h-1.4zM238.3,432.7h1.4v1.2h-1.4zM250.2,447.9h2.2v1.8h-2.2zM240.7,430.0h1.3v1.0h-1.3zM259.0,484.6h1.7v1.4h-1.7zM268.2,474.8h2.2v1.8h-2.2zM236.2,454.3h1.9v1.5h-1.9zM252.7,451.6h1.1v0.9h-1.1zM242.3,421.0h1.3v1.0h-1.3zM240.0,428.0h1.3v1.0h-1.3zM235.6,484.3h0.8v0.6h-0.8zM237.5,456.0h2.2v1.8h-2.2zM226.7,472.0h2.2v1.8h-2.2zM249.4,441.8h1.4v1.2h-1.4zM256.9,470.2h0.9v0.8h-0.9zM253.9,470.2h0.9v0.8h-0.9zM257.1,481.1h1.9v1.5h-1.9zM252.2,434.4h1.3v1.0h-1.3zM235.2,451.0h1.1v0.9h-1.1zM245.5,440.7h1.3v1.0h-1.3zM267.8,470.1h0.9v0.8h-0.9zM249.6,471.6h1.7v1.4h-1.7zM235.6,459.0h1.1v0.9h-1.1zM255.8,459.0h2.2v1.8h-2.2zM245.6,424.6h1.9v1.5h-1.9zM256.8,463.5h1.1v0.9h-1.1zM242.5,422.5h0.9v0.8h-0.9zM248.6,430.0h0.9v0.8h-0.9zM242.2,422.6h1.3v1.0h-1.3zM229.9,476.3h2.2v1.8h-2.2zM245.4,467.0h1.4v1.2h-1.4zM237.7,461.2h1.7v1.4h-1.7zM243.0,458.1h1.3v1.0h-1.3zM267.6,475.3h0.8v0.6h-0.8zM233.1,466.1h0.8v0.6h-0.8zM239.7,457.4h2.2v1.8h-2.2zM237.4,454.2h1.9v1.5h-1.9zM243.7,417.8h1.4v1.2h-1.4zM224.8,478.0h0.9v0.8h-0.9zM257.5,459.9h1.9v1.5h-1.9zM256.0,456.6h0.9v0.8h-0.9zM252.4,479.6h1.3v1.0h-1.3zM244.3,433.7h1.3v1.0h-1.3zM232.0,462.9h1.4v1.2h-1.4zM265.7,478.3h2.2v1.8h-2.2zM263.0,465.8h1.4v1.2h-1.4zM241.0,431.9h0.8v0.6h-0.8zM257.5,446.4h0.9v0.8h-0.9zM238.7,432.5h1.9v1.5h-1.9zM255.1,437.3h0.9v0.8h-0.9zM241.5,473.1h0.8v0.6h-0.8zM232.4,479.7h2.2v1.8h-2.2zM238.9,461.8h0.8v0.6h-0.8zM235.7,449.3h1.7v1.4h-1.7zM234.9,472.9h1.9v1.5h-1.9zM256.5,473.4h1.7v1.4h-1.7zM237.2,466.7h1.1v0.9h-1.1zM266.6,469.6h1.3v1.0h-1.3zM251.2,427.5h1.9v1.5h-1.9zM247.8,465.4h0.8v0.6h-0.8zM251.0,444.4h0.9v0.8h-0.9zM249.5,421.1h0.9v0.8h-0.9zM257.5,451.6h1.4v1.2h-1.4zM227.6,485.3h0.8v0.6h-0.8zM248.8,455.7h1.1v0.9h-1.1zM269.7,481.3h0.9v0.8h-0.9zM250.5,456.6h1.4v1.2h-1.4zM250.5,477.1h0.9v0.8h-0.9zM246.1,441.3h1.7v1.4h-1.7zM250.2,441.2h2.2v1.8h-2.2zM230.8,486.6h1.1v0.9h-1.1zM264.2,463.3h0.8v0.6h-0.8zM245.4,483.7h1.4v1.2h-1.4zM253.2,431.9h1.9v1.5h-1.9zM243.9,485.1h0.9v0.8h-0.9zM251.4,442.5h0.9v0.8h-0.9zM266.8,468.6h1.3v1.0h-1.3zM240.6,433.6h1.1v0.9h-1.1zM231.1,475.3h1.3v1.0h-1.3zM252.7,433.4h1.9v1.5h-1.9zM237.8,437.6h0.8v0.6h-0.8zM260.2,485.2h1.4v1.2h-1.4zM247.6,470.1h1.3v1.0h-1.3zM249.7,423.9h2.2v1.8h-2.2zM242.4,420.5h1.4v1.2h-1.4zM266.0,486.1h0.8v0.6h-0.8zM250.8,425.5h2.2v1.8h-2.2zM248.7,463.3h0.9v0.8h-0.9zM244.0,431.6h2.2v1.8h-2.2zM250.9,485.7h0.8v0.6h-0.8zM235.5,484.2h0.9v0.8h-0.9zM249.6,442.2h1.7v1.4h-1.7zM251.7,465.8h1.7v1.4h-1.7zM235.4,462.3h1.9v1.5h-1.9zM235.6,457.8h0.9v0.8h-0.9zM242.6,436.0h1.1v0.9h-1.1zM263.8,483.8h1.3v1.0h-1.3zM265.0,473.4h1.4v1.2h-1.4zM255.4,470.2h1.1v0.9h-1.1zM240.1,446.0h1.3v1.0h-1.3zM248.4,428.0h0.9v0.8h-0.9zM236.8,472.8h1.9v1.5h-1.9zM247.3,469.1h1.9v1.5h-1.9zM256.3,456.1h0.9v0.8h-0.9zM232.1,465.6h1.3v1.0h-1.3zM241.6,480.1h0.9v0.8h-0.9zM258.0,484.2h0.8v0.6h-0.8zM244.0,464.6h0.9v0.8h-0.9zM238.2,452.6h0.9v0.8h-0.9zM238.8,435.3h1.9v1.5h-1.9zM253.5,432.1h1.1v0.9h-1.1zM243.4,451.6h0.8v0.6h-0.8zM232.9,465.8h1.4v1.2h-1.4zM248.2,433.2h2.2v1.8h-2.2zM242.4,438.1h0.8v0.6h-0.8zM250.9,467.2h0.9v0.8h-0.9zM246.9,451.1h0.9v0.8h-0.9zM226.1,477.2h1.9v1.5h-1.9zM258.4,477.8h1.7v1.4h-1.7zM248.4,419.0h1.9v1.5h-1.9zM253.4,434.8h1.1v0.9h-1.1zM257.0,442.1h1.1v0.9h-1.1zM259.8,465.1h1.4v1.2h-1.4zM253.5,448.1h0.8v0.6h-0.8zM260.2,484.4h0.8v0.6h-0.8zM246.8,423.4h1.9v1.5h-1.9zM250.6,463.2h0.8v0.6h-0.8zM234.6,468.3h1.7v1.4h-1.7zM248.4,464.3h1.3v1.0h-1.3z" fill-opacity="1.0"/></g>
<g fill="#8e8e8e" opacity="1.0"><path d="M182.0,532 L178.0,470.0" stroke="#8e8e8e" stroke-width="2.2" fill="none"/><path d="M178.0,470.0 Q174.5,422.0 171.0,378.0" stroke="#8e8e8e" stroke-width="1.0" fill="none"/><path d="M170.9,387.6 Q166.2,386.9 161.5,384.8 M170.8,390.6 Q175.4,389.9 180.0,387.6 M170.8,397.7 Q163.3,397.1 155.8,395.3 M170.7,404.3 Q177.5,403.7 184.3,402.0 M170.7,409.2 Q178.2,407.4 185.8,402.1 M170.6,412.9 Q180.7,410.8 190.8,404.6 M170.6,419.1 Q159.7,418.0 148.9,414.8 M170.5,423.5 Q183.4,422.1 196.3,418.0 M170.5,429.4 Q157.6,428.4 144.8,425.3 M170.4,436.5 Q154.0,433.7 137.7,425.5 M170.3,443.2 Q182.5,440.3 194.7,431.7 M170.3,449.6 Q156.1,446.6 142.0,437.6 M170.2,454.3 Q189.4,450.0 208.6,436.9 M170.2,457.9 Q155.7,455.7 141.2,449.0 M170.1,467.1 Q151.9,465.1 133.8,459.3 M170.0,472.3 Q186.7,469.3 203.4,460.4" stroke="#8e8e8e" stroke-width="0.7" fill="none"/><path d="M170.0,388.5h1.7v1.4h-1.7zM163.0,386.4h2.2v1.8h-2.2zM159.9,382.6h1.7v1.4h-1.7zM162.4,383.5h1.3v1.0h-1.3zM170.2,388.2h1.3v1.0h-1.3zM164.6,387.5h1.1v0.9h-1.1zM181.7,390.6h1.7v1.4h-1.7zM172.1,391.7h0.8v0.6h-0.8zM178.4,387.0h0.9v0.8h-0.9zM179.5,389.0h1.1v0.9h-1.1zM173.6,391.2h2.2v1.8h-2.2zM177.1,388.5h1.7v1.4h-1.7zM169.9,391.1h2.2v1.8h-2.2zM155.3,396.5h2.2v1.8h-2.2zM169.3,398.9h1.7v1.4h-1.7zM165.4,397.3h0.9v0.8h-0.9zM158.8,396.1h1.4v1.2h-1.4zM157.8,397.6h0.9v0.8h-0.9zM158.2,388.4h1.1v0.9h-1.1zM180.2,399.7h0.8v0.6h-0.8zM184.2,403.4h1.4v1.2h-1.4zM178.4,402.0h0.8v0.6h-0.8zM180.0,404.5h1.1v0.9h-1.1zM175.0,402.9h0.8v0.6h-0.8zM176.3,406.8h0.8v0.6h-0.8zM177.8,403.7h1.4v1.2h-1.4zM178.1,402.7h1.9v1.5h-1.9zM179.3,404.8h2.2v1.8h-2.2zM177.3,404.9h0.9v0.8h-0.9zM182.3,402.8h1.9v1.5h-1.9zM174.5,409.2h0.8v0.6h-0.8zM183.6,401.6h2.2v1.8h-2.2zM173.9,408.0h1.4v1.2h-1.4zM179.9,407.8h1.9v1.5h-1.9zM175.0,410.1h0.8v0.6h-0.8zM178.0,409.7h2.2v1.8h-2.2zM178.6,410.9h0.8v0.6h-0.8zM187.3,409.5h1.9v1.5h-1.9zM190.1,408.1h2.2v1.8h-2.2zM181.9,408.9h1.3v1.0h-1.3zM182.2,408.1h2.2v1.8h-2.2zM181.0,415.0h0.8v0.6h-0.8zM143.7,409.0h1.1v0.9h-1.1zM159.8,418.9h2.2v1.8h-2.2zM160.1,414.3h1.9v1.5h-1.9zM163.1,415.2h1.9v1.5h-1.9zM152.8,413.2h2.2v1.8h-2.2zM155.3,416.6h2.2v1.8h-2.2zM159.1,419.4h0.8v0.6h-0.8zM153.5,415.9h1.3v1.0h-1.3zM157.0,420.7h2.2v1.8h-2.2zM183.5,422.6h1.9v1.5h-1.9zM182.3,422.5h2.2v1.8h-2.2zM174.5,424.8h0.9v0.8h-0.9zM195.2,417.8h0.9v0.8h-0.9zM191.7,422.3h1.3v1.0h-1.3zM192.3,419.7h0.9v0.8h-0.9zM194.3,421.4h1.4v1.2h-1.4zM187.2,416.0h0.9v0.8h-0.9zM185.6,421.2h0.8v0.6h-0.8zM165.6,428.5h1.7v1.4h-1.7zM143.0,428.0h0.8v0.6h-0.8zM162.4,428.8h1.9v1.5h-1.9zM153.9,428.2h1.7v1.4h-1.7zM148.6,426.5h2.2v1.8h-2.2zM158.1,427.9h0.9v0.8h-0.9zM160.8,428.7h1.1v0.9h-1.1zM153.2,427.6h2.2v1.8h-2.2zM159.6,428.2h2.2v1.8h-2.2zM164.1,429.3h1.1v0.9h-1.1zM160.7,427.7h0.8v0.6h-0.8zM149.5,431.1h1.1v0.9h-1.1zM151.9,430.7h1.7v1.4h-1.7zM166.8,435.4h1.9v1.5h-1.9zM158.9,431.7h1.1v0.9h-1.1zM140.1,429.4h1.7v1.4h-1.7zM154.6,430.4h1.3v1.0h-1.3zM157.8,434.2h0.8v0.6h-0.8zM158.0,434.8h1.7v1.4h-1.7zM167.1,435.2h1.1v0.9h-1.1zM174.3,443.0h1.9v1.5h-1.9zM182.8,441.7h0.9v0.8h-0.9zM184.7,436.0h1.4v1.2h-1.4zM182.9,437.7h1.9v1.5h-1.9zM196.6,435.8h1.4v1.2h-1.4zM178.8,440.5h2.2v1.8h-2.2zM186.8,432.7h0.9v0.8h-0.9zM180.3,440.6h1.4v1.2h-1.4zM189.6,435.2h2.2v1.8h-2.2zM175.7,440.0h1.4v1.2h-1.4zM170.6,442.8h1.3v1.0h-1.3zM191.7,434.6h1.3v1.0h-1.3zM186.4,442.9h1.7v1.4h-1.7zM175.1,443.3h1.3v1.0h-1.3zM190.5,434.0h1.3v1.0h-1.3zM179.0,436.9h0.9v0.8h-0.9zM165.9,448.3h1.3v1.0h-1.3zM142.3,438.9h0.9v0.8h-0.9zM153.4,445.6h1.3v1.0h-1.3zM152.8,442.7h1.3v1.0h-1.3zM166.8,450.0h2.2v1.8h-2.2zM145.0,439.5h0.9v0.8h-0.9zM148.1,441.8h1.1v0.9h-1.1zM161.0,448.7h1.1v0.9h-1.1zM163.5,446.6h1.1v0.9h-1.1zM163.6,448.6h1.7v1.4h-1.7zM166.4,451.6h1.4v1.2h-1.4zM180.7,449.9h0.8v0.6h-0.8zM211.7,436.4h2.2v1.8h-2.2zM174.4,452.0h0.9v0.8h-0.9zM183.2,448.2h1.1v0.9h-1.1zM195.5,440.6h2.2v1.8h-2.2zM182.6,453.7h1.9v1.5h-1.9zM177.4,452.2h1.9v1.5h-1.9zM182.2,450.9h0.9v0.8h-0.9zM201.9,442.9h2.2v1.8h-2.2zM183.4,451.4h1.9v1.5h-1.9zM202.0,444.5h0.9v0.8h-0.9zM190.3,449.5h1.7v1.4h-1.7zM177.6,452.4h0.9v0.8h-0.9zM182.8,450.5h1.3v1.0h-1.3zM146.0,452.5h1.7v1.4h-1.7zM141.1,450.7h0.9v0.8h-0.9zM138.9,449.1h1.7v1.4h-1.7zM155.1,456.7h0.9v0.8h-0.9zM158.3,455.1h0.8v0.6h-0.8zM158.1,454.9h2.2v1.8h-2.2zM168.0,455.4h0.8v0.6h-0.8zM169.2,457.1h1.4v1.2h-1.4zM160.5,456.3h1.7v1.4h-1.7zM164.9,454.2h1.3v1.0h-1.3zM151.1,453.4h0.8v0.6h-0.8zM158.9,454.2h2.2v1.8h-2.2zM163.0,457.8h1.1v0.9h-1.1zM148.7,450.9h1.9v1.5h-1.9zM151.8,461.1h1.4v1.2h-1.4zM141.4,460.1h1.9v1.5h-1.9zM142.0,462.5h1.1v0.9h-1.1zM166.0,464.8h0.8v0.6h-0.8zM165.8,465.9h1.7v1.4h-1.7zM163.8,466.1h1.4v1.2h-1.4zM140.7,458.8h1.9v1.5h-1.9zM132.3,456.9h1.3v1.0h-1.3zM137.6,459.3h1.4v1.2h-1.4zM168.0,467.2h1.1v0.9h-1.1zM138.8,459.9h0.8v0.6h-0.8zM139.9,460.4h1.7v1.4h-1.7zM157.1,462.0h1.4v1.2h-1.4zM141.5,461.4h1.4v1.2h-1.4zM185.0,470.4h1.4v1.2h-1.4zM186.2,467.6h1.9v1.5h-1.9zM173.6,473.1h0.9v0.8h-0.9zM201.1,465.2h2.2v1.8h-2.2zM174.5,471.4h1.1v0.9h-1.1zM186.2,469.9h1.3v1.0h-1.3zM175.6,472.1h1.1v0.9h-1.1zM186.6,471.8h0.8v0.6h-0.8zM193.4,465.0h0.9v0.8h-0.9zM186.2,470.3h2.2v1.8h-2.2zM202.8,463.3h2.2v1.8h-2.2zM188.9,468.5h1.4v1.2h-1.4zM193.5,462.8h2.2v1.8h-2.2zM156.4,465.2h1.9v1.5h-1.9zM157.7,466.7h1.4v1.2h-1.4zM158.2,467.9h1.4v1.2h-1.4zM156.7,467.2h1.7v1.4h-1.7zM195.9,443.2h1.1v0.9h-1.1zM193.2,443.1h1.4v1.2h-1.4zM197.8,443.7h0.9v0.8h-0.9zM198.6,444.5h1.3v1.0h-1.3zM194.9,442.8h1.9v1.5h-1.9zM195.9,443.5h1.9v1.5h-1.9zM190.1,475.7h1.7v1.4h-1.7zM191.1,474.2h1.9v1.5h-1.9zM190.9,476.1h0.9v0.8h-0.9zM190.6,476.5h1.9v1.5h-1.9zM186.8,476.1h1.9v1.5h-1.9zM190.2,478.1h1.1v0.9h-1.1zM184.9,446.2h1.9v1.5h-1.9zM182.5,446.8h1.9v1.5h-1.9zM182.5,446.7h0.9v0.8h-0.9zM184.8,445.9h1.1v0.9h-1.1zM177.4,464.0h1.9v1.5h-1.9zM174.7,465.4h0.9v0.8h-0.9zM195.3,449.8h0.8v0.6h-0.8zM192.2,452.5h0.9v0.8h-0.9zM191.9,451.2h2.2v1.8h-2.2zM171.0,434.9h0.9v0.8h-0.9zM173.0,438.2h1.1v0.9h-1.1zM157.4,430.7h1.9v1.5h-1.9zM157.8,428.3h2.2v1.8h-2.2zM163.6,429.8h1.4v1.2h-1.4zM154.5,427.3h1.1v0.9h-1.1zM162.2,452.8h0.9v0.8h-0.9zM163.5,452.8h2.2v1.8h-2.2zM160.9,453.4h1.7v1.4h-1.7zM160.9,452.0h1.3v1.0h-1.3zM165.6,453.9h1.3v1.0h-1.3zM195.5,445.5h1.3v1.0h-1.3zM196.1,439.9h1.3v1.0h-1.3zM151.7,473.2h1.4v1.2h-1.4zM151.4,476.7h1.3v1.0h-1.3zM150.6,474.8h1.1v0.9h-1.1zM150.8,475.3h0.9v0.8h-0.9zM148.8,474.3h1.4v1.2h-1.4zM157.2,470.4h1.1v0.9h-1.1zM155.6,469.2h1.3v1.0h-1.3zM159.1,473.0h1.9v1.5h-1.9zM158.2,472.9h1.7v1.4h-1.7zM158.6,473.0h1.3v1.0h-1.3zM157.9,472.0h1.4v1.2h-1.4zM154.5,454.9h2.2v1.8h-2.2zM144.2,456.2h1.3v1.0h-1.3zM146.7,454.5h1.3v1.0h-1.3zM153.8,430.1h1.1v0.9h-1.1zM154.0,428.9h1.3v1.0h-1.3zM154.6,427.7h0.9v0.8h-0.9zM155.2,429.0h0.9v0.8h-0.9zM154.2,430.0h1.1v0.9h-1.1zM156.9,430.0h2.2v1.8h-2.2zM172.8,406.3h0.8v0.6h-0.8zM174.1,407.3h2.2v1.8h-2.2zM170.7,404.4h1.4v1.2h-1.4zM173.0,404.3h1.3v1.0h-1.3zM172.8,405.4h1.7v1.4h-1.7zM182.9,448.3h1.3v1.0h-1.3zM181.6,443.8h0.8v0.6h-0.8zM178.1,446.2h1.1v0.9h-1.1zM160.4,436.5h0.8v0.6h-0.8zM166.2,438.0h0.8v0.6h-0.8zM190.9,471.9h1.3v1.0h-1.3zM187.0,469.5h1.7v1.4h-1.7zM170.1,435.6h2.2v1.8h-2.2zM168.6,433.2h1.4v1.2h-1.4zM160.7,407.1h1.7v1.4h-1.7zM178.7,460.2h2.2v1.8h-2.2zM183.9,459.9h1.9v1.5h-1.9zM179.4,463.7h0.8v0.6h-0.8zM180.2,459.2h1.1v0.9h-1.1zM180.8,460.7h1.7v1.4h-1.7zM182.1,461.9h1.3v1.0h-1.3zM157.0,438.1h2.2v1.8h-2.2zM156.9,436.7h0.8v0.6h-0.8zM151.0,438.2h0.8v0.6h-0.8zM155.9,435.5h2.2v1.8h-2.2zM156.5,437.2h0.9v0.8h-0.9zM186.7,455.6h1.7v1.4h-1.7zM184.4,456.5h1.7v1.4h-1.7zM174.9,407.1h1.4v1.2h-1.4zM173.1,411.3h2.2v1.8h-2.2zM156.1,438.8h0.9v0.8h-0.9zM182.2,413.3h1.1v0.9h-1.1zM182.8,417.2h1.1v0.9h-1.1zM180.8,415.1h1.9v1.5h-1.9zM170.3,470.5h0.9v0.8h-0.9zM174.4,471.0h0.9v0.8h-0.9zM176.3,470.8h2.2v1.8h-2.2zM171.4,455.9h1.3v1.0h-1.3zM169.1,457.5h1.1v0.9h-1.1zM172.1,454.1h1.7v1.4h-1.7zM171.4,455.5h1.7v1.4h-1.7zM143.5,463.1h0.9v0.8h-0.9zM144.6,465.0h1.7v1.4h-1.7zM145.4,462.3h2.2v1.8h-2.2zM145.2,465.1h1.3v1.0h-1.3zM140.7,465.2h0.9v0.8h-0.9zM150.3,463.6h2.2v1.8h-2.2zM146.4,464.5h1.3v1.0h-1.3zM140.7,462.8h1.9v1.5h-1.9zM144.3,463.6h0.8v0.6h-0.8zM160.4,429.4h0.9v0.8h-0.9zM162.2,429.9h0.9v0.8h-0.9zM163.4,430.8h1.4v1.2h-1.4zM159.8,429.1h1.7v1.4h-1.7zM161.6,429.5h0.8v0.6h-0.8zM176.6,439.5h2.2v1.8h-2.2zM176.6,438.8h2.2v1.8h-2.2zM179.2,438.6h1.7v1.4h-1.7zM180.3,438.4h1.9v1.5h-1.9zM180.6,441.5h1.1v0.9h-1.1zM181.2,460.2h2.2v1.8h-2.2zM180.8,459.7h1.4v1.2h-1.4zM180.9,460.6h0.9v0.8h-0.9zM174.7,466.7h0.8v0.6h-0.8zM178.9,466.7h2.2v1.8h-2.2zM162.2,424.8h1.7v1.4h-1.7zM157.9,423.8h1.4v1.2h-1.4zM162.2,425.3h1.1v0.9h-1.1zM156.6,446.4h1.9v1.5h-1.9zM157.9,450.4h2.2v1.8h-2.2zM157.7,447.0h1.9v1.5h-1.9zM156.5,448.3h1.4v1.2h-1.4zM155.8,460.7h1.7v1.4h-1.7zM161.8,460.6h1.4v1.2h-1.4zM157.8,460.4h1.1v0.9h-1.1zM157.9,461.2h1.9v1.5h-1.9zM154.7,460.3h2.2v1.8h-2.2zM159.3,460.9h1.9v1.5h-1.9zM159.0,460.1h0.8v0.6h-0.8zM160.4,423.7h0.9v0.8h-0.9zM153.5,423.4h0.8v0.6h-0.8zM177.6,475.6h0.9v0.8h-0.9zM173.2,475.5h0.8v0.6h-0.8zM174.8,476.9h1.1v0.9h-1.1zM173.8,475.7h1.3v1.0h-1.3zM172.5,475.4h1.1v0.9h-1.1zM182.4,407.8h1.4v1.2h-1.4zM187.2,409.7h0.8v0.6h-0.8zM182.7,409.4h1.1v0.9h-1.1zM182.4,409.4h1.3v1.0h-1.3zM167.6,458.6h1.4v1.2h-1.4zM168.4,466.9h1.9v1.5h-1.9zM165.6,465.7h0.8v0.6h-0.8zM166.3,463.0h0.9v0.8h-0.9zM165.4,463.3h2.2v1.8h-2.2zM167.3,402.5h1.4v1.2h-1.4zM168.5,428.5h1.4v1.2h-1.4zM188.0,438.7h1.7v1.4h-1.7zM160.5,386.9h0.8v0.6h-0.8zM175.4,385.8h1.7v1.4h-1.7zM173.0,464.8h1.4v1.2h-1.4zM181.9,470.2h1.3v1.0h-1.3zM159.5,459.3h1.3v1.0h-1.3zM144.6,457.7h0.9v0.8h-0.9zM156.8,400.7h1.7v1.4h-1.7zM162.0,399.7h1.7v1.4h-1.7zM138.0,463.9h1.7v1.4h-1.7zM176.4,445.4h1.9v1.5h-1.9zM160.3,440.9h2.2v1.8h-2.2zM136.5,454.7h1.1v0.9h-1.1zM209.8,468.2h1.4v1.2h-1.4zM187.1,458.8h0.8v0.6h-0.8zM157.8,405.2h1.7v1.4h-1.7zM139.0,452.9h1.7v1.4h-1.7zM171.1,391.7h0.9v0.8h-0.9zM180.8,467.5h1.9v1.5h-1.9zM147.9,447.9h1.3v1.0h-1.3zM184.7,414.8h1.1v0.9h-1.1zM190.3,466.2h0.8v0.6h-0.8zM160.9,437.7h1.4v1.2h-1.4zM196.9,431.6h1.1v0.9h-1.1zM169.9,381.4h2.2v1.8h-2.2zM169.3,410.3h1.1v0.9h-1.1zM184.3,474.9h0.9v0.8h-0.9zM190.7,419.5h1.3v1.0h-1.3zM186.8,401.9h2.2v1.8h-2.2zM177.9,394.8h0.8v0.6h-0.8zM204.7,442.1h1.7v1.4h-1.7zM163.5,380.1h1.7v1.4h-1.7zM186.0,443.6h2.2v1.8h-2.2zM178.6,411.9h1.3v1.0h-1.3zM168.8,475.2h2.2v1.8h-2.2zM206.7,471.5h1.1v0.9h-1.1zM137.8,469.4h0.8v0.6h-0.8zM158.0,416.7h0.9v0.8h-0.9zM147.8,470.2h1.4v1.2h-1.4zM150.1,433.7h0.8v0.6h-0.8zM202.1,443.3h2.2v1.8h-2.2zM135.6,466.2h0.9v0.8h-0.9zM173.2,385.7h1.9v1.5h-1.9zM161.8,442.7h2.2v1.8h-2.2zM180.8,399.9h0.9v0.8h-0.9zM156.6,459.0h1.4v1.2h-1.4zM147.8,417.7h1.3v1.0h-1.3zM190.1,447.4h1.9v1.5h-1.9zM147.4,472.9h1.4v1.2h-1.4zM186.5,420.7h1.4v1.2h-1.4zM210.9,475.1h2.2v1.8h-2.2zM158.6,431.5h0.9v0.8h-0.9zM170.3,402.0h0.8v0.6h-0.8zM194.8,456.6h1.3v1.0h-1.3zM183.5,460.1h2.2v1.8h-2.2zM172.9,399.0h1.7v1.4h-1.7zM130.6,453.4h1.7v1.4h-1.7zM159.2,394.1h1.4v1.2h-1.4zM197.7,438.7h0.8v0.6h-0.8zM179.8,399.6h1.3v1.0h-1.3zM160.8,386.5h1.9v1.5h-1.9zM186.9,412.9h1.1v0.9h-1.1zM141.9,452.0h2.2v1.8h-2.2zM157.7,405.8h0.8v0.6h-0.8zM179.3,473.7h1.4v1.2h-1.4zM172.2,444.0h1.9v1.5h-1.9zM208.4,463.0h1.1v0.9h-1.1zM145.9,433.5h2.2v1.8h-2.2zM163.6,429.0h2.2v1.8h-2.2zM166.4,438.2h1.4v1.2h-1.4zM185.3,440.2h1.9v1.5h-1.9zM167.7,429.3h0.9v0.8h-0.9zM211.2,470.0h0.9v0.8h-0.9zM190.6,460.3h1.4v1.2h-1.4zM188.5,402.8h0.8v0.6h-0.8zM194.4,470.8h0.8v0.6h-0.8zM167.2,464.2h1.7v1.4h-1.7zM138.6,458.1h0.9v0.8h-0.9zM183.1,430.9h1.3v1.0h-1.3zM169.4,405.3h0.8v0.6h-0.8zM170.5,428.2h1.1v0.9h-1.1zM162.7,453.7h1.1v0.9h-1.1zM167.2,435.9h1.1v0.9h-1.1zM173.8,379.0h1.3v1.0h-1.3zM189.8,457.7h1.3v1.0h-1.3zM191.8,449.4h0.9v0.8h-0.9zM157.4,440.5h1.4v1.2h-1.4zM188.9,409.1h1.3v1.0h-1.3zM144.5,473.3h1.1v0.9h-1.1zM207.7,470.4h1.4v1.2h-1.4zM204.4,458.9h0.9v0.8h-0.9zM177.4,440.4h1.1v0.9h-1.1zM151.7,457.0h1.4v1.2h-1.4zM152.3,447.7h1.1v0.9h-1.1zM194.0,468.1h2.2v1.8h-2.2zM185.3,409.1h2.2v1.8h-2.2zM161.1,406.5h0.8v0.6h-0.8zM164.8,392.7h0.8v0.6h-0.8zM165.3,435.1h2.2v1.8h-2.2zM167.8,424.8h2.2v1.8h-2.2zM191.2,442.6h1.4v1.2h-1.4z" fill-opacity="0.45"/><path d="M167.2,386.8h1.7v1.4h-1.7zM165.3,384.1h1.4v1.2h-1.4zM167.7,387.2h0.8v0.6h-0.8zM167.3,386.3h1.7v1.4h-1.7zM164.1,388.5h0.9v0.8h-0.9zM171.0,386.5h1.1v0.9h-1.1zM171.2,389.0h1.1v0.9h-1.1zM163.1,389.9h1.4v1.2h-1.4zM163.3,390.5h1.4v1.2h-1.4zM164.3,386.2h1.7v1.4h-1.7zM177.8,390.0h2.2v1.8h-2.2zM171.9,387.8h1.3v1.0h-1.3zM174.0,390.7h1.7v1.4h-1.7zM177.5,388.5h0.9v0.8h-0.9zM178.4,389.1h0.8v0.6h-0.8zM163.5,397.2h2.2v1.8h-2.2zM162.0,396.3h1.9v1.5h-1.9zM154.9,396.9h0.8v0.6h-0.8zM162.2,395.6h1.9v1.5h-1.9zM164.8,396.3h1.4v1.2h-1.4zM171.0,397.8h0.9v0.8h-0.9zM167.0,397.2h0.9v0.8h-0.9zM183.5,403.1h1.4v1.2h-1.4zM184.1,403.7h2.2v1.8h-2.2zM178.0,402.8h1.9v1.5h-1.9zM187.4,402.8h1.1v0.9h-1.1zM183.5,403.4h1.1v0.9h-1.1zM181.4,400.1h1.4v1.2h-1.4zM181.6,407.2h1.1v0.9h-1.1zM174.4,404.7h1.3v1.0h-1.3zM179.7,404.5h1.9v1.5h-1.9zM174.6,409.5h1.7v1.4h-1.7zM183.3,405.5h1.9v1.5h-1.9zM182.4,406.1h1.3v1.0h-1.3zM187.3,406.4h1.1v0.9h-1.1zM181.4,405.0h1.7v1.4h-1.7zM179.0,407.2h1.7v1.4h-1.7zM183.1,407.6h1.9v1.5h-1.9zM176.3,408.5h1.4v1.2h-1.4zM170.0,413.4h0.8v0.6h-0.8zM187.1,410.5h0.8v0.6h-0.8zM194.7,403.1h0.9v0.8h-0.9zM184.9,406.5h1.7v1.4h-1.7zM178.6,409.6h1.4v1.2h-1.4zM191.3,407.6h1.9v1.5h-1.9zM176.1,412.3h1.4v1.2h-1.4zM176.7,412.7h1.4v1.2h-1.4zM180.5,410.5h0.9v0.8h-0.9zM177.0,409.8h1.9v1.5h-1.9zM182.7,411.0h1.9v1.5h-1.9zM155.5,414.6h0.8v0.6h-0.8zM154.7,418.2h0.8v0.6h-0.8zM167.3,419.7h1.1v0.9h-1.1zM164.5,415.3h2.2v1.8h-2.2zM156.1,413.2h1.3v1.0h-1.3zM161.9,420.4h0.8v0.6h-0.8zM159.9,413.8h0.9v0.8h-0.9zM182.6,424.7h2.2v1.8h-2.2zM181.6,423.6h1.1v0.9h-1.1zM190.9,420.1h0.9v0.8h-0.9zM191.7,422.1h1.3v1.0h-1.3zM176.1,423.9h1.7v1.4h-1.7zM177.0,423.1h1.4v1.2h-1.4zM171.2,423.4h1.4v1.2h-1.4zM186.4,423.1h2.2v1.8h-2.2zM187.4,419.2h0.9v0.8h-0.9zM182.0,420.4h0.8v0.6h-0.8zM188.2,417.8h1.1v0.9h-1.1zM155.6,424.2h1.7v1.4h-1.7zM141.6,424.0h1.7v1.4h-1.7zM149.6,429.7h2.2v1.8h-2.2zM158.2,429.6h1.7v1.4h-1.7zM153.5,429.0h1.4v1.2h-1.4zM160.6,429.0h0.8v0.6h-0.8zM166.0,430.9h2.2v1.8h-2.2zM155.0,430.5h1.1v0.9h-1.1zM159.3,431.3h1.3v1.0h-1.3zM149.1,426.6h1.3v1.0h-1.3zM148.3,429.9h2.2v1.8h-2.2zM147.8,426.5h1.3v1.0h-1.3zM161.2,427.9h2.2v1.8h-2.2zM170.3,436.0h1.4v1.2h-1.4zM146.6,433.3h1.1v0.9h-1.1zM140.9,432.0h1.1v0.9h-1.1zM145.3,423.5h2.2v1.8h-2.2zM161.1,434.7h1.3v1.0h-1.3zM145.8,431.0h1.3v1.0h-1.3zM153.9,433.6h0.8v0.6h-0.8zM149.0,428.5h0.9v0.8h-0.9zM148.2,433.9h1.9v1.5h-1.9zM159.1,432.5h1.4v1.2h-1.4zM169.6,436.9h1.4v1.2h-1.4zM157.9,431.2h1.1v0.9h-1.1zM152.2,430.0h1.3v1.0h-1.3zM159.1,432.4h1.9v1.5h-1.9zM147.9,431.2h1.3v1.0h-1.3zM142.5,432.7h0.8v0.6h-0.8zM141.6,431.7h2.2v1.8h-2.2zM190.2,439.5h0.9v0.8h-0.9zM175.0,443.4h0.9v0.8h-0.9zM185.2,437.1h1.7v1.4h-1.7zM178.0,442.7h1.9v1.5h-1.9zM176.3,441.1h2.2v1.8h-2.2zM179.9,441.3h1.3v1.0h-1.3zM184.9,436.4h1.7v1.4h-1.7zM183.0,437.2h1.3v1.0h-1.3zM176.0,443.0h0.8v0.6h-0.8zM178.2,441.3h0.9v0.8h-0.9zM173.4,442.1h1.4v1.2h-1.4zM170.4,441.6h0.8v0.6h-0.8zM157.3,448.0h0.8v0.6h-0.8zM156.9,445.6h0.8v0.6h-0.8zM167.2,447.1h1.9v1.5h-1.9zM144.4,437.7h2.2v1.8h-2.2zM138.3,438.8h1.9v1.5h-1.9zM164.8,448.0h1.7v1.4h-1.7zM153.9,441.7h1.9v1.5h-1.9zM142.8,438.3h0.8v0.6h-0.8zM139.4,434.8h1.1v0.9h-1.1zM163.7,447.9h1.4v1.2h-1.4zM146.5,438.7h1.3v1.0h-1.3zM147.2,439.9h1.9v1.5h-1.9zM157.8,447.4h1.1v0.9h-1.1zM159.4,442.6h1.3v1.0h-1.3zM200.4,444.5h1.3v1.0h-1.3zM208.1,439.4h1.7v1.4h-1.7zM201.3,442.9h1.3v1.0h-1.3zM189.7,447.9h1.9v1.5h-1.9zM185.9,451.4h1.3v1.0h-1.3zM183.0,448.5h2.2v1.8h-2.2zM182.2,450.2h1.3v1.0h-1.3zM146.9,450.3h1.9v1.5h-1.9zM145.7,450.1h0.9v0.8h-0.9zM143.4,449.6h1.4v1.2h-1.4zM149.7,450.3h1.4v1.2h-1.4zM152.0,452.0h0.9v0.8h-0.9zM160.5,456.7h0.8v0.6h-0.8zM161.2,452.7h2.2v1.8h-2.2zM162.7,457.1h2.2v1.8h-2.2zM151.5,451.5h1.1v0.9h-1.1zM147.7,452.7h1.3v1.0h-1.3zM161.0,454.0h1.7v1.4h-1.7zM148.9,452.2h1.9v1.5h-1.9zM142.2,462.4h1.4v1.2h-1.4zM144.2,458.2h1.1v0.9h-1.1zM161.9,466.8h1.1v0.9h-1.1zM137.3,458.9h0.8v0.6h-0.8zM136.0,460.0h1.1v0.9h-1.1zM143.6,462.7h1.3v1.0h-1.3zM142.9,464.2h1.7v1.4h-1.7zM157.1,465.9h1.9v1.5h-1.9zM148.3,465.1h1.9v1.5h-1.9zM141.9,465.8h0.9v0.8h-0.9zM164.7,466.4h0.9v0.8h-0.9zM133.2,458.0h1.4v1.2h-1.4zM150.5,462.7h0.8v0.6h-0.8zM151.7,463.1h1.9v1.5h-1.9zM136.1,460.8h1.4v1.2h-1.4zM169.9,468.3h0.9v0.8h-0.9zM203.2,458.6h1.3v1.0h-1.3zM208.5,458.7h1.3v1.0h-1.3zM186.8,469.0h1.4v1.2h-1.4zM202.3,460.4h1.4v1.2h-1.4zM178.9,470.6h0.9v0.8h-0.9zM183.7,468.4h2.2v1.8h-2.2zM186.9,466.5h2.2v1.8h-2.2zM175.4,470.7h1.4v1.2h-1.4zM192.6,469.6h0.9v0.8h-0.9zM198.2,460.7h1.7v1.4h-1.7zM194.7,465.2h2.2v1.8h-2.2zM198.3,459.8h1.4v1.2h-1.4zM183.0,469.1h1.3v1.0h-1.3zM185.5,469.8h1.4v1.2h-1.4zM156.8,468.5h0.8v0.6h-0.8zM158.6,469.1h1.4v1.2h-1.4zM158.6,466.6h1.4v1.2h-1.4zM158.5,467.8h2.2v1.8h-2.2zM198.0,443.6h1.9v1.5h-1.9zM194.1,444.9h1.9v1.5h-1.9zM196.2,444.5h1.7v1.4h-1.7zM195.6,445.6h0.9v0.8h-0.9zM189.0,476.3h1.3v1.0h-1.3zM190.7,475.0h2.2v1.8h-2.2zM188.5,475.3h0.8v0.6h-0.8zM190.1,475.3h1.9v1.5h-1.9zM190.1,475.5h1.9v1.5h-1.9zM187.0,475.1h1.9v1.5h-1.9zM180.2,447.3h1.9v1.5h-1.9zM184.3,447.2h1.1v0.9h-1.1zM176.7,445.5h1.7v1.4h-1.7zM184.0,448.7h1.3v1.0h-1.3zM183.7,446.5h1.7v1.4h-1.7zM183.1,445.7h1.1v0.9h-1.1zM184.7,445.2h1.3v1.0h-1.3zM186.0,447.9h1.4v1.2h-1.4zM185.5,447.4h1.4v1.2h-1.4zM174.3,464.3h1.4v1.2h-1.4zM178.9,463.3h1.1v0.9h-1.1zM174.4,464.4h1.3v1.0h-1.3zM176.7,466.0h1.3v1.0h-1.3zM193.0,451.6h1.3v1.0h-1.3zM194.7,451.6h1.4v1.2h-1.4zM194.0,451.8h1.4v1.2h-1.4zM194.8,450.3h0.8v0.6h-0.8zM192.9,452.0h0.8v0.6h-0.8zM194.8,452.0h1.9v1.5h-1.9zM190.1,452.7h0.9v0.8h-0.9zM170.1,436.5h1.9v1.5h-1.9zM168.8,437.3h2.2v1.8h-2.2zM168.9,438.2h1.1v0.9h-1.1zM159.0,428.1h2.2v1.8h-2.2zM160.6,429.4h1.3v1.0h-1.3zM160.8,426.2h2.2v1.8h-2.2zM163.8,426.7h1.7v1.4h-1.7zM162.0,429.6h1.1v0.9h-1.1zM164.5,427.4h0.8v0.6h-0.8zM160.6,430.0h1.9v1.5h-1.9zM160.5,452.6h2.2v1.8h-2.2zM163.0,454.1h1.9v1.5h-1.9zM161.7,452.5h1.4v1.2h-1.4zM160.9,453.0h2.2v1.8h-2.2zM162.5,452.5h2.2v1.8h-2.2zM159.9,453.5h1.7v1.4h-1.7zM200.0,443.9h1.7v1.4h-1.7zM197.8,445.4h2.2v1.8h-2.2zM144.2,473.8h2.2v1.8h-2.2zM149.3,474.7h1.1v0.9h-1.1zM149.3,474.8h1.1v0.9h-1.1zM144.9,474.4h1.1v0.9h-1.1zM152.1,475.8h1.3v1.0h-1.3zM149.2,475.2h0.9v0.8h-0.9zM153.9,474.9h0.9v0.8h-0.9zM146.2,475.1h1.1v0.9h-1.1zM148.6,475.4h1.4v1.2h-1.4zM159.3,473.4h0.9v0.8h-0.9zM157.0,472.2h0.8v0.6h-0.8zM157.8,470.1h2.2v1.8h-2.2zM156.0,471.3h1.4v1.2h-1.4zM158.4,473.2h1.1v0.9h-1.1zM159.8,454.0h1.9v1.5h-1.9zM152.5,454.2h1.3v1.0h-1.3zM149.8,455.0h0.8v0.6h-0.8zM156.4,430.3h0.9v0.8h-0.9zM151.1,428.7h1.7v1.4h-1.7zM155.2,431.5h0.9v0.8h-0.9zM175.2,403.8h1.4v1.2h-1.4zM172.5,405.4h0.8v0.6h-0.8zM169.3,405.2h1.1v0.9h-1.1zM175.8,405.3h1.4v1.2h-1.4zM175.4,405.4h1.1v0.9h-1.1zM172.2,403.4h1.7v1.4h-1.7zM176.7,404.7h1.7v1.4h-1.7zM179.0,444.9h0.8v0.6h-0.8zM183.2,445.8h2.2v1.8h-2.2zM174.9,446.0h1.1v0.9h-1.1zM181.2,447.5h0.8v0.6h-0.8zM177.5,446.8h1.9v1.5h-1.9zM167.2,436.9h0.8v0.6h-0.8zM164.6,435.6h1.7v1.4h-1.7zM169.9,431.9h0.9v0.8h-0.9zM173.6,432.7h1.1v0.9h-1.1zM171.8,437.2h0.9v0.8h-0.9zM165.8,434.7h0.9v0.8h-0.9zM169.1,436.6h1.7v1.4h-1.7zM162.4,436.4h1.1v0.9h-1.1zM171.2,436.0h2.2v1.8h-2.2zM172.3,434.2h1.7v1.4h-1.7zM173.0,435.8h1.3v1.0h-1.3zM173.3,435.9h0.8v0.6h-0.8zM152.9,409.1h2.2v1.8h-2.2zM153.4,411.0h0.8v0.6h-0.8zM159.8,407.9h1.3v1.0h-1.3zM161.0,409.3h0.8v0.6h-0.8zM180.1,461.4h2.2v1.8h-2.2zM182.3,463.7h2.2v1.8h-2.2zM184.0,458.9h1.3v1.0h-1.3zM181.0,460.9h0.9v0.8h-0.9zM181.2,461.2h1.9v1.5h-1.9zM183.3,461.5h0.8v0.6h-0.8zM152.6,434.7h2.2v1.8h-2.2zM149.5,435.0h1.1v0.9h-1.1zM157.3,435.7h1.4v1.2h-1.4zM184.1,455.8h1.3v1.0h-1.3zM189.2,456.8h1.1v0.9h-1.1zM188.4,454.5h0.8v0.6h-0.8zM176.8,409.3h1.7v1.4h-1.7zM176.6,407.6h1.7v1.4h-1.7zM176.2,408.8h1.7v1.4h-1.7zM175.2,406.0h1.1v0.9h-1.1zM151.0,440.1h1.4v1.2h-1.4zM152.9,440.6h1.4v1.2h-1.4zM177.5,415.3h1.7v1.4h-1.7zM181.0,415.0h1.7v1.4h-1.7zM178.6,412.8h0.9v0.8h-0.9zM180.5,412.9h1.3v1.0h-1.3zM173.4,469.1h0.9v0.8h-0.9zM171.1,471.0h0.9v0.8h-0.9zM169.9,470.6h2.2v1.8h-2.2zM171.5,455.5h1.1v0.9h-1.1zM171.8,453.6h1.9v1.5h-1.9zM172.4,457.7h1.1v0.9h-1.1zM171.8,454.9h0.9v0.8h-0.9zM171.6,454.5h2.2v1.8h-2.2zM169.9,454.3h2.2v1.8h-2.2zM172.1,455.3h1.3v1.0h-1.3zM140.2,463.0h1.1v0.9h-1.1zM144.4,464.4h1.9v1.5h-1.9zM164.4,428.1h1.4v1.2h-1.4zM163.1,432.7h1.7v1.4h-1.7zM162.7,425.6h1.4v1.2h-1.4zM158.4,430.3h2.2v1.8h-2.2zM165.5,429.8h1.1v0.9h-1.1zM168.6,428.1h1.4v1.2h-1.4zM178.7,440.9h1.7v1.4h-1.7zM175.7,437.1h0.8v0.6h-0.8zM179.4,439.0h1.7v1.4h-1.7zM170.9,436.7h0.8v0.6h-0.8zM176.9,441.1h0.9v0.8h-0.9zM182.8,459.4h1.1v0.9h-1.1zM179.1,459.9h0.8v0.6h-0.8zM176.1,459.4h1.9v1.5h-1.9zM178.6,461.1h1.7v1.4h-1.7zM174.1,467.0h0.8v0.6h-0.8zM175.1,467.3h0.8v0.6h-0.8zM176.5,465.5h0.9v0.8h-0.9zM174.7,465.6h1.3v1.0h-1.3zM162.7,423.7h0.8v0.6h-0.8zM160.3,421.9h0.8v0.6h-0.8zM159.2,423.6h0.9v0.8h-0.9zM158.3,424.8h1.7v1.4h-1.7zM164.5,444.3h0.8v0.6h-0.8zM158.3,448.7h2.2v1.8h-2.2zM162.0,449.0h1.9v1.5h-1.9zM157.5,446.5h1.1v0.9h-1.1zM156.1,448.0h1.3v1.0h-1.3zM161.7,459.5h1.9v1.5h-1.9zM155.7,462.9h2.2v1.8h-2.2zM157.5,461.3h1.1v0.9h-1.1zM158.8,460.5h0.8v0.6h-0.8zM161.1,424.8h1.3v1.0h-1.3zM159.9,426.7h0.9v0.8h-0.9zM154.7,425.2h1.7v1.4h-1.7zM161.3,424.4h0.9v0.8h-0.9zM159.7,424.4h1.7v1.4h-1.7zM158.4,424.8h0.9v0.8h-0.9zM154.3,426.8h1.3v1.0h-1.3zM177.6,475.5h2.2v1.8h-2.2zM175.3,477.0h0.9v0.8h-0.9zM175.2,476.6h1.9v1.5h-1.9zM183.0,406.5h1.3v1.0h-1.3zM183.1,409.7h1.4v1.2h-1.4zM180.2,406.8h1.1v0.9h-1.1zM185.8,405.8h1.9v1.5h-1.9zM179.1,406.0h2.2v1.8h-2.2zM184.4,406.2h1.9v1.5h-1.9zM171.9,461.0h2.2v1.8h-2.2zM168.2,464.4h2.2v1.8h-2.2zM164.6,460.8h1.3v1.0h-1.3zM166.9,464.9h1.7v1.4h-1.7zM168.4,464.9h0.9v0.8h-0.9zM151.9,464.5h1.9v1.5h-1.9zM175.5,410.5h1.7v1.4h-1.7zM174.1,401.5h1.9v1.5h-1.9zM183.2,416.9h1.9v1.5h-1.9zM163.5,431.7h1.7v1.4h-1.7zM184.9,415.4h2.2v1.8h-2.2zM177.8,461.8h1.4v1.2h-1.4zM141.6,474.2h1.1v0.9h-1.1zM158.8,405.1h0.8v0.6h-0.8zM184.1,448.4h0.8v0.6h-0.8zM212.4,466.4h1.7v1.4h-1.7zM142.1,441.0h0.8v0.6h-0.8zM212.6,465.9h1.1v0.9h-1.1zM182.8,418.7h2.2v1.8h-2.2zM145.1,444.4h1.9v1.5h-1.9zM140.5,452.6h1.9v1.5h-1.9zM177.4,426.5h2.2v1.8h-2.2zM169.5,415.0h0.8v0.6h-0.8zM146.7,444.4h0.9v0.8h-0.9zM149.0,416.2h1.4v1.2h-1.4zM140.0,475.8h0.9v0.8h-0.9zM156.0,402.2h1.9v1.5h-1.9zM168.6,404.3h1.4v1.2h-1.4zM191.1,453.6h2.2v1.8h-2.2zM186.9,458.3h1.7v1.4h-1.7zM179.7,383.0h2.2v1.8h-2.2zM183.8,446.2h2.2v1.8h-2.2zM208.5,469.3h1.1v0.9h-1.1zM170.8,389.3h1.7v1.4h-1.7zM171.4,427.2h0.8v0.6h-0.8zM190.3,445.5h1.9v1.5h-1.9zM149.7,473.2h1.7v1.4h-1.7zM160.8,405.0h0.8v0.6h-0.8zM166.9,445.8h1.4v1.2h-1.4zM179.9,461.3h1.7v1.4h-1.7zM191.8,420.9h1.7v1.4h-1.7zM134.3,448.8h1.7v1.4h-1.7zM186.3,431.5h0.9v0.8h-0.9zM159.3,399.5h1.1v0.9h-1.1zM161.2,391.1h0.9v0.8h-0.9zM180.1,398.9h0.9v0.8h-0.9zM175.8,382.1h0.9v0.8h-0.9zM170.2,380.3h1.7v1.4h-1.7zM162.1,384.8h1.1v0.9h-1.1zM181.4,417.3h1.7v1.4h-1.7zM155.8,407.1h0.8v0.6h-0.8zM175.7,380.6h2.2v1.8h-2.2zM160.7,461.7h2.2v1.8h-2.2zM170.2,434.1h1.9v1.5h-1.9zM171.4,404.9h1.9v1.5h-1.9zM149.3,465.0h1.1v0.9h-1.1zM191.5,458.2h1.3v1.0h-1.3zM144.8,474.1h1.7v1.4h-1.7zM166.7,465.6h1.7v1.4h-1.7zM152.5,461.0h2.2v1.8h-2.2zM170.7,386.9h0.9v0.8h-0.9zM143.3,442.7h1.1v0.9h-1.1zM162.8,417.4h0.9v0.8h-0.9zM140.2,454.5h2.2v1.8h-2.2zM199.4,462.5h1.1v0.9h-1.1zM187.5,415.9h1.7v1.4h-1.7zM187.0,475.7h1.3v1.0h-1.3zM134.0,467.1h1.1v0.9h-1.1zM151.9,408.8h0.9v0.8h-0.9zM179.9,441.7h0.9v0.8h-0.9zM171.0,470.3h1.7v1.4h-1.7zM167.9,443.6h1.1v0.9h-1.1zM133.7,463.9h2.2v1.8h-2.2zM155.7,426.1h1.4v1.2h-1.4zM159.8,417.6h1.1v0.9h-1.1zM184.9,407.4h1.7v1.4h-1.7zM204.5,450.6h1.1v0.9h-1.1zM158.1,398.8h1.9v1.5h-1.9zM196.8,423.7h1.1v0.9h-1.1zM196.1,443.8h0.8v0.6h-0.8zM184.5,423.7h1.1v0.9h-1.1zM200.9,438.9h0.9v0.8h-0.9zM147.2,456.6h1.7v1.4h-1.7zM180.4,392.8h1.9v1.5h-1.9zM178.0,465.8h1.1v0.9h-1.1zM177.6,435.2h0.8v0.6h-0.8zM156.3,410.4h0.9v0.8h-0.9zM178.2,454.3h2.2v1.8h-2.2zM180.4,447.0h2.2v1.8h-2.2zM174.0,472.4h0.9v0.8h-0.9zM179.0,472.0h1.3v1.0h-1.3zM203.2,447.4h1.9v1.5h-1.9zM141.2,442.3h1.3v1.0h-1.3zM178.6,402.3h0.9v0.8h-0.9zM192.9,424.7h0.9v0.8h-0.9zM190.5,442.2h0.8v0.6h-0.8zM156.0,454.5h2.2v1.8h-2.2zM176.6,405.3h1.9v1.5h-1.9zM183.9,434.9h1.3v1.0h-1.3zM204.2,458.6h1.4v1.2h-1.4zM175.8,377.2h1.1v0.9h-1.1zM157.9,393.6h0.9v0.8h-0.9zM140.7,438.1h1.7v1.4h-1.7zM171.1,460.0h1.3v1.0h-1.3zM171.9,383.0h1.1v0.9h-1.1zM165.7,452.1h1.9v1.5h-1.9zM169.4,388.2h1.1v0.9h-1.1zM153.5,427.0h1.1v0.9h-1.1zM184.4,474.9h2.2v1.8h-2.2zM180.6,466.2h1.1v0.9h-1.1zM154.7,399.3h1.7v1.4h-1.7zM156.9,463.7h2.2v1.8h-2.2zM167.2,378.7h2.2v1.8h-2.2zM141.2,441.6h1.9v1.5h-1.9zM153.7,424.1h1.7v1.4h-1.7zM150.4,446.5h1.9v1.5h-1.9zM152.8,406.7h1.9v1.5h-1.9zM164.6,425.0h1.3v1.0h-1.3zM186.1,405.7h1.9v1.5h-1.9zM164.4,385.4h0.9v0.8h-0.9zM184.2,394.6h0.9v0.8h-0.9zM198.1,440.0h0.8v0.6h-0.8zM146.4,424.0h1.3v1.0h-1.3zM189.4,452.0h1.3v1.0h-1.3zM172.9,422.3h1.9v1.5h-1.9zM161.5,425.4h0.9v0.8h-0.9zM200.1,461.6h1.9v1.5h-1.9zM165.5,427.9h0.8v0.6h-0.8z" fill-opacity="0.7"/><path d="M163.0,386.9h1.9v1.5h-1.9zM170.1,389.0h2.2v1.8h-2.2zM166.6,386.9h1.9v1.5h-1.9zM164.6,385.4h1.4v1.2h-1.4zM166.5,388.6h0.9v0.8h-0.9zM170.2,387.7h1.7v1.4h-1.7zM164.1,387.2h1.7v1.4h-1.7zM168.7,383.9h1.7v1.4h-1.7zM168.0,387.3h1.9v1.5h-1.9zM160.2,386.9h0.8v0.6h-0.8zM180.2,388.7h1.7v1.4h-1.7zM173.1,390.4h1.7v1.4h-1.7zM182.3,386.2h1.7v1.4h-1.7zM171.1,390.3h1.7v1.4h-1.7zM182.5,389.7h2.2v1.8h-2.2zM178.6,388.2h1.7v1.4h-1.7zM171.8,390.3h1.9v1.5h-1.9zM174.5,389.3h1.7v1.4h-1.7zM172.3,389.4h1.7v1.4h-1.7zM174.8,391.3h0.8v0.6h-0.8zM175.3,389.8h1.9v1.5h-1.9zM179.8,389.2h1.9v1.5h-1.9zM179.3,390.0h0.9v0.8h-0.9zM178.3,389.0h1.1v0.9h-1.1zM171.7,389.8h1.7v1.4h-1.7zM153.8,395.1h0.9v0.8h-0.9zM159.8,396.4h1.7v1.4h-1.7zM161.4,397.1h0.8v0.6h-0.8zM157.8,397.4h0.8v0.6h-0.8zM165.7,397.2h1.1v0.9h-1.1zM157.4,396.1h1.4v1.2h-1.4zM168.3,397.6h1.4v1.2h-1.4zM167.0,397.5h0.8v0.6h-0.8zM158.8,399.6h1.1v0.9h-1.1zM165.0,396.2h0.8v0.6h-0.8zM155.2,394.4h1.3v1.0h-1.3zM169.2,397.1h1.9v1.5h-1.9zM170.2,398.7h1.1v0.9h-1.1zM159.3,396.6h2.2v1.8h-2.2zM169.9,398.2h1.7v1.4h-1.7zM165.1,397.1h1.7v1.4h-1.7zM155.6,398.7h1.1v0.9h-1.1zM180.7,403.3h1.9v1.5h-1.9zM177.8,402.4h0.8v0.6h-0.8zM184.9,402.8h1.1v0.9h-1.1zM174.5,403.3h2.2v1.8h-2.2zM177.5,402.6h1.4v1.2h-1.4zM187.8,403.5h1.9v1.5h-1.9zM183.8,406.4h1.9v1.5h-1.9zM175.4,402.7h1.9v1.5h-1.9zM179.4,405.6h0.9v0.8h-0.9zM182.4,403.9h0.9v0.8h-0.9zM171.9,404.0h1.7v1.4h-1.7zM185.6,402.2h1.9v1.5h-1.9zM179.5,401.0h1.9v1.5h-1.9zM186.6,401.9h1.1v0.9h-1.1zM182.1,404.4h0.9v0.8h-0.9zM188.1,402.1h1.9v1.5h-1.9zM173.1,407.4h0.9v0.8h-0.9zM186.6,404.6h0.8v0.6h-0.8zM178.8,403.8h1.1v0.9h-1.1zM171.7,408.7h1.9v1.5h-1.9zM168.8,409.3h0.8v0.6h-0.8zM180.6,407.3h0.8v0.6h-0.8zM178.1,407.4h1.7v1.4h-1.7zM181.1,405.8h1.1v0.9h-1.1zM178.6,403.8h1.7v1.4h-1.7zM182.7,405.2h0.9v0.8h-0.9zM179.3,402.8h1.3v1.0h-1.3zM174.4,408.2h1.1v0.9h-1.1zM181.6,404.4h1.4v1.2h-1.4zM174.4,408.5h1.1v0.9h-1.1zM177.7,409.1h0.9v0.8h-0.9zM181.3,403.6h1.3v1.0h-1.3zM180.3,399.8h1.9v1.5h-1.9zM187.6,404.3h0.9v0.8h-0.9zM183.1,402.1h1.9v1.5h-1.9zM172.8,407.1h0.9v0.8h-0.9zM184.2,407.7h2.2v1.8h-2.2zM197.2,407.0h1.1v0.9h-1.1zM175.7,411.7h1.9v1.5h-1.9zM177.6,409.7h1.3v1.0h-1.3zM177.9,411.1h1.4v1.2h-1.4zM168.7,412.8h1.7v1.4h-1.7zM193.8,405.4h1.4v1.2h-1.4zM189.1,408.0h1.7v1.4h-1.7zM186.4,408.6h0.9v0.8h-0.9zM186.5,407.8h2.2v1.8h-2.2zM175.7,412.7h0.9v0.8h-0.9zM180.1,411.1h1.1v0.9h-1.1zM185.1,409.4h1.1v0.9h-1.1zM178.4,410.5h1.3v1.0h-1.3zM183.2,409.1h1.1v0.9h-1.1zM188.1,404.4h1.3v1.0h-1.3zM183.2,409.8h1.3v1.0h-1.3zM182.2,409.6h1.1v0.9h-1.1zM156.1,409.4h0.8v0.6h-0.8zM159.9,418.3h1.4v1.2h-1.4zM166.3,422.7h2.2v1.8h-2.2zM157.0,414.8h0.8v0.6h-0.8zM166.4,417.0h2.2v1.8h-2.2zM156.9,418.0h0.9v0.8h-0.9zM163.2,418.3h1.9v1.5h-1.9zM164.0,416.9h1.4v1.2h-1.4zM162.3,417.6h1.7v1.4h-1.7zM163.3,419.2h0.9v0.8h-0.9zM151.3,416.9h0.9v0.8h-0.9zM158.4,414.6h1.7v1.4h-1.7zM149.9,416.2h1.3v1.0h-1.3zM162.0,419.5h1.7v1.4h-1.7zM154.7,419.2h1.1v0.9h-1.1zM155.6,415.0h1.9v1.5h-1.9zM160.4,419.0h0.9v0.8h-0.9zM152.9,416.9h1.9v1.5h-1.9zM158.5,413.9h0.9v0.8h-0.9zM160.3,416.4h1.3v1.0h-1.3zM157.3,416.0h1.9v1.5h-1.9zM155.9,417.8h1.7v1.4h-1.7zM160.9,416.5h1.7v1.4h-1.7zM195.7,419.1h1.3v1.0h-1.3zM183.8,419.5h1.3v1.0h-1.3zM191.9,417.5h2.2v1.8h-2.2zM181.7,420.3h1.7v1.4h-1.7zM186.9,419.5h1.1v0.9h-1.1zM182.5,422.8h1.7v1.4h-1.7zM196.6,421.9h1.9v1.5h-1.9zM189.9,416.9h1.4v1.2h-1.4zM176.2,421.6h1.7v1.4h-1.7zM195.5,415.2h1.4v1.2h-1.4zM178.8,422.3h1.4v1.2h-1.4zM175.9,422.7h0.9v0.8h-0.9zM188.8,419.3h1.4v1.2h-1.4zM171.0,422.7h1.7v1.4h-1.7zM180.3,419.6h0.9v0.8h-0.9zM174.9,421.7h0.9v0.8h-0.9zM185.0,421.7h1.7v1.4h-1.7zM190.8,417.3h0.8v0.6h-0.8zM198.3,418.4h1.1v0.9h-1.1zM188.4,418.4h0.9v0.8h-0.9zM182.9,423.6h0.9v0.8h-0.9zM154.7,428.4h1.7v1.4h-1.7zM160.4,429.3h2.2v1.8h-2.2zM154.3,428.4h0.8v0.6h-0.8zM150.7,426.9h2.2v1.8h-2.2zM163.2,431.0h1.9v1.5h-1.9zM148.4,427.4h1.4v1.2h-1.4zM157.1,428.6h0.8v0.6h-0.8zM149.4,424.1h1.3v1.0h-1.3zM157.0,426.4h0.9v0.8h-0.9zM142.6,425.3h1.7v1.4h-1.7zM160.6,426.6h1.9v1.5h-1.9zM156.0,430.0h1.9v1.5h-1.9zM157.1,426.0h2.2v1.8h-2.2zM160.3,428.8h0.8v0.6h-0.8zM149.6,425.7h1.7v1.4h-1.7zM160.5,431.9h0.9v0.8h-0.9zM154.4,428.9h0.8v0.6h-0.8zM160.3,430.4h0.9v0.8h-0.9zM155.1,428.6h1.9v1.5h-1.9zM153.8,427.0h1.1v0.9h-1.1zM166.8,435.0h1.4v1.2h-1.4zM156.4,431.6h2.2v1.8h-2.2zM171.6,436.5h1.1v0.9h-1.1zM153.0,432.4h1.1v0.9h-1.1zM166.5,435.5h1.4v1.2h-1.4zM157.8,434.0h1.3v1.0h-1.3zM141.3,425.0h1.7v1.4h-1.7zM139.7,426.2h1.7v1.4h-1.7zM156.9,435.4h0.9v0.8h-0.9zM148.4,429.5h0.8v0.6h-0.8zM163.3,435.6h0.8v0.6h-0.8zM151.9,430.2h0.9v0.8h-0.9zM149.1,430.4h2.2v1.8h-2.2zM142.8,433.1h1.9v1.5h-1.9zM160.6,434.8h1.9v1.5h-1.9zM148.1,429.2h1.7v1.4h-1.7zM149.2,429.9h1.3v1.0h-1.3zM161.4,430.3h0.8v0.6h-0.8zM149.1,427.0h0.8v0.6h-0.8zM140.8,423.6h1.9v1.5h-1.9zM193.5,428.4h1.7v1.4h-1.7zM176.3,437.7h0.9v0.8h-0.9zM186.3,437.1h0.8v0.6h-0.8zM191.7,432.2h1.3v1.0h-1.3zM183.9,437.1h0.9v0.8h-0.9zM192.5,438.2h1.1v0.9h-1.1zM184.3,440.7h1.9v1.5h-1.9zM188.3,431.1h1.9v1.5h-1.9zM179.3,440.7h1.1v0.9h-1.1zM173.5,443.6h0.8v0.6h-0.8zM187.9,433.8h1.4v1.2h-1.4zM198.2,430.3h1.3v1.0h-1.3zM179.7,443.8h1.9v1.5h-1.9zM182.4,438.9h0.8v0.6h-0.8zM179.6,438.8h1.1v0.9h-1.1zM195.1,433.9h0.8v0.6h-0.8zM175.4,437.0h1.9v1.5h-1.9zM195.4,435.5h2.2v1.8h-2.2zM187.4,435.6h1.1v0.9h-1.1zM183.7,441.2h1.9v1.5h-1.9zM197.8,434.0h1.7v1.4h-1.7zM149.4,440.7h1.1v0.9h-1.1zM149.5,443.5h0.8v0.6h-0.8zM164.3,446.8h1.7v1.4h-1.7zM158.9,446.3h1.4v1.2h-1.4zM152.4,443.4h1.9v1.5h-1.9zM164.1,445.1h1.4v1.2h-1.4zM160.6,447.8h1.3v1.0h-1.3zM143.0,440.6h0.8v0.6h-0.8zM165.3,447.6h1.3v1.0h-1.3zM159.8,446.8h0.8v0.6h-0.8zM148.6,441.7h1.3v1.0h-1.3zM144.3,432.7h1.7v1.4h-1.7zM148.1,443.3h1.7v1.4h-1.7zM143.8,441.4h0.8v0.6h-0.8zM151.9,448.0h1.3v1.0h-1.3zM151.7,442.7h1.9v1.5h-1.9zM149.2,441.5h1.7v1.4h-1.7zM155.6,444.1h1.1v0.9h-1.1zM146.7,439.9h1.9v1.5h-1.9zM155.5,445.7h1.3v1.0h-1.3zM153.3,442.7h1.1v0.9h-1.1zM167.7,446.6h1.3v1.0h-1.3zM158.0,446.5h1.4v1.2h-1.4zM164.4,447.3h1.9v1.5h-1.9zM147.7,445.3h2.2v1.8h-2.2zM163.7,448.4h1.9v1.5h-1.9zM161.6,445.1h0.9v0.8h-0.9zM209.8,433.5h0.9v0.8h-0.9zM208.4,440.7h1.1v0.9h-1.1zM204.0,438.2h1.3v1.0h-1.3zM190.0,449.1h1.3v1.0h-1.3zM189.1,448.0h1.9v1.5h-1.9zM199.8,438.5h2.2v1.8h-2.2zM202.0,438.7h1.9v1.5h-1.9zM187.4,449.2h0.9v0.8h-0.9zM182.4,449.5h1.9v1.5h-1.9zM198.9,439.0h1.7v1.4h-1.7zM199.4,439.0h1.7v1.4h-1.7zM188.7,449.3h1.3v1.0h-1.3zM191.1,448.8h0.9v0.8h-0.9zM198.2,440.4h1.4v1.2h-1.4zM182.0,448.7h2.2v1.8h-2.2zM189.4,449.2h2.2v1.8h-2.2zM208.4,439.4h1.1v0.9h-1.1zM191.7,444.4h1.7v1.4h-1.7zM175.3,452.6h2.2v1.8h-2.2zM197.2,442.5h1.7v1.4h-1.7zM207.2,445.1h1.3v1.0h-1.3zM178.2,453.1h0.8v0.6h-0.8zM197.5,444.8h1.3v1.0h-1.3zM195.3,441.9h0.9v0.8h-0.9zM182.1,451.0h0.8v0.6h-0.8zM191.6,442.2h2.2v1.8h-2.2zM183.5,451.7h2.2v1.8h-2.2zM203.8,442.2h1.1v0.9h-1.1zM178.0,453.1h2.2v1.8h-2.2zM205.3,443.6h1.1v0.9h-1.1zM187.7,445.3h1.3v1.0h-1.3zM178.3,452.2h0.9v0.8h-0.9zM194.1,441.5h1.7v1.4h-1.7zM149.0,454.9h0.8v0.6h-0.8zM151.7,453.2h0.8v0.6h-0.8zM144.1,453.1h1.4v1.2h-1.4zM154.5,454.3h2.2v1.8h-2.2zM140.2,444.2h0.8v0.6h-0.8zM146.1,451.3h1.3v1.0h-1.3zM147.0,449.7h1.9v1.5h-1.9zM165.2,458.4h2.2v1.8h-2.2zM157.7,450.8h2.2v1.8h-2.2zM143.7,449.8h1.7v1.4h-1.7zM141.3,451.0h1.3v1.0h-1.3zM153.7,453.7h1.7v1.4h-1.7zM166.8,458.4h2.2v1.8h-2.2zM158.0,454.1h1.3v1.0h-1.3zM158.2,454.6h0.8v0.6h-0.8zM142.0,451.7h1.9v1.5h-1.9zM156.2,455.6h1.1v0.9h-1.1zM150.2,452.0h1.4v1.2h-1.4zM141.8,451.0h1.3v1.0h-1.3zM152.6,451.1h2.2v1.8h-2.2zM150.6,451.5h2.2v1.8h-2.2zM161.6,457.3h0.8v0.6h-0.8zM156.0,456.2h0.8v0.6h-0.8zM145.6,450.0h1.9v1.5h-1.9zM161.1,456.6h0.9v0.8h-0.9zM143.8,450.7h0.8v0.6h-0.8zM169.7,455.5h2.2v1.8h-2.2zM157.4,453.9h1.7v1.4h-1.7zM154.5,451.8h1.9v1.5h-1.9zM144.4,463.8h0.9v0.8h-0.9zM148.7,462.8h2.2v1.8h-2.2zM140.3,461.7h1.4v1.2h-1.4zM140.3,463.3h1.4v1.2h-1.4zM158.4,464.1h1.9v1.5h-1.9zM148.5,463.3h1.1v0.9h-1.1zM159.5,467.4h1.9v1.5h-1.9zM133.7,460.2h1.4v1.2h-1.4zM136.4,459.2h0.9v0.8h-0.9zM142.8,463.2h1.3v1.0h-1.3zM168.0,466.8h1.3v1.0h-1.3zM150.3,463.5h1.3v1.0h-1.3zM143.9,461.4h1.4v1.2h-1.4zM132.7,463.2h1.4v1.2h-1.4zM165.0,467.1h1.7v1.4h-1.7zM130.3,456.7h1.4v1.2h-1.4zM159.2,464.4h1.3v1.0h-1.3zM142.8,462.5h1.4v1.2h-1.4zM152.6,463.3h0.8v0.6h-0.8zM135.1,462.7h1.7v1.4h-1.7zM143.0,463.6h1.3v1.0h-1.3zM158.4,463.7h1.1v0.9h-1.1zM160.9,465.3h1.7v1.4h-1.7zM162.1,465.0h2.2v1.8h-2.2zM160.2,464.5h1.1v0.9h-1.1zM157.7,464.8h1.1v0.9h-1.1zM135.1,461.0h2.2v1.8h-2.2zM150.9,461.4h1.9v1.5h-1.9zM160.2,465.0h0.8v0.6h-0.8zM188.8,467.1h1.1v0.9h-1.1zM178.7,472.4h2.2v1.8h-2.2zM181.0,470.0h1.4v1.2h-1.4zM198.5,463.7h1.9v1.5h-1.9zM202.7,459.9h0.9v0.8h-0.9zM185.2,473.9h2.2v1.8h-2.2zM178.8,469.2h1.3v1.0h-1.3zM193.6,457.5h0.8v0.6h-0.8zM182.6,465.7h2.2v1.8h-2.2zM170.5,471.2h1.4v1.2h-1.4zM181.8,468.2h1.4v1.2h-1.4zM193.0,464.4h1.4v1.2h-1.4zM191.5,465.2h1.9v1.5h-1.9zM197.0,462.6h1.9v1.5h-1.9zM197.0,463.6h1.7v1.4h-1.7zM191.2,465.0h1.7v1.4h-1.7zM197.4,457.5h0.8v0.6h-0.8zM180.7,468.4h0.8v0.6h-0.8zM194.1,462.9h1.7v1.4h-1.7zM198.5,465.4h0.8v0.6h-0.8zM191.2,466.3h1.1v0.9h-1.1zM199.4,463.3h1.1v0.9h-1.1zM190.8,464.7h1.9v1.5h-1.9zM199.5,462.5h1.7v1.4h-1.7zM184.3,470.1h1.7v1.4h-1.7zM189.9,461.9h1.1v0.9h-1.1zM189.6,465.0h0.8v0.6h-0.8zM194.6,462.3h0.8v0.6h-0.8zM193.9,460.5h1.9v1.5h-1.9zM192.8,467.2h1.7v1.4h-1.7zM183.7,471.7h1.4v1.2h-1.4zM176.8,467.2h1.3v1.0h-1.3zM182.9,468.1h1.7v1.4h-1.7zM180.8,469.3h1.3v1.0h-1.3zM158.7,468.3h1.4v1.2h-1.4zM154.4,465.3h1.3v1.0h-1.3zM160.4,466.3h1.3v1.0h-1.3zM154.2,467.7h2.2v1.8h-2.2zM156.5,465.0h0.8v0.6h-0.8zM158.9,467.1h0.8v0.6h-0.8zM153.6,466.3h1.3v1.0h-1.3zM156.2,467.0h2.2v1.8h-2.2zM196.7,443.7h1.7v1.4h-1.7zM194.9,444.8h1.1v0.9h-1.1zM194.3,444.7h0.8v0.6h-0.8zM193.7,443.9h1.7v1.4h-1.7zM196.5,441.7h2.2v1.8h-2.2zM195.5,444.0h2.2v1.8h-2.2zM197.3,444.8h1.9v1.5h-1.9zM194.0,445.3h1.7v1.4h-1.7zM196.5,443.1h0.9v0.8h-0.9zM188.2,476.7h1.9v1.5h-1.9zM188.1,475.3h1.9v1.5h-1.9zM188.7,474.1h0.8v0.6h-0.8zM187.5,476.6h1.4v1.2h-1.4zM187.5,475.5h1.7v1.4h-1.7zM188.6,475.8h1.7v1.4h-1.7zM188.1,473.6h1.7v1.4h-1.7zM186.8,477.6h1.1v0.9h-1.1zM191.2,474.1h1.7v1.4h-1.7zM189.1,474.8h1.1v0.9h-1.1zM188.3,475.1h0.9v0.8h-0.9zM184.2,444.9h1.7v1.4h-1.7zM183.6,447.9h1.3v1.0h-1.3zM180.1,447.1h1.7v1.4h-1.7zM184.7,448.1h1.9v1.5h-1.9zM186.3,448.0h1.7v1.4h-1.7zM185.3,444.7h0.9v0.8h-0.9zM188.3,447.6h0.8v0.6h-0.8zM185.0,446.5h0.9v0.8h-0.9zM185.8,448.1h0.8v0.6h-0.8zM184.9,448.5h2.2v1.8h-2.2zM177.0,465.3h1.1v0.9h-1.1zM176.1,465.0h0.8v0.6h-0.8zM178.4,463.8h2.2v1.8h-2.2zM173.6,463.2h2.2v1.8h-2.2zM193.3,451.7h1.1v0.9h-1.1zM192.6,449.3h0.9v0.8h-0.9zM193.0,452.4h1.3v1.0h-1.3zM194.3,451.1h1.7v1.4h-1.7zM194.6,451.4h1.4v1.2h-1.4zM195.6,450.1h1.9v1.5h-1.9zM192.5,451.1h1.7v1.4h-1.7zM191.0,451.0h1.1v0.9h-1.1zM171.6,436.5h0.9v0.8h-0.9zM170.5,436.4h1.1v0.9h-1.1zM167.6,437.4h1.4v1.2h-1.4zM172.7,437.9h1.4v1.2h-1.4zM169.6,437.4h2.2v1.8h-2.2zM171.9,437.9h2.2v1.8h-2.2zM171.7,437.0h1.7v1.4h-1.7zM176.5,437.5h1.4v1.2h-1.4zM168.4,438.1h2.2v1.8h-2.2zM162.3,429.1h1.1v0.9h-1.1zM159.1,427.8h1.4v1.2h-1.4zM160.7,429.2h1.1v0.9h-1.1zM160.8,428.5h1.1v0.9h-1.1zM158.7,427.4h2.2v1.8h-2.2zM158.7,427.8h0.9v0.8h-0.9zM157.8,428.9h1.7v1.4h-1.7zM157.6,428.9h1.4v1.2h-1.4zM162.7,454.7h1.9v1.5h-1.9zM159.9,452.0h1.4v1.2h-1.4zM160.9,454.6h1.9v1.5h-1.9zM158.3,453.8h1.7v1.4h-1.7zM164.5,453.8h1.7v1.4h-1.7zM159.8,451.6h0.9v0.8h-0.9zM165.3,450.5h1.1v0.9h-1.1zM162.9,454.5h1.3v1.0h-1.3zM167.7,451.9h1.7v1.4h-1.7zM153.6,455.5h0.8v0.6h-0.8zM158.9,453.8h1.3v1.0h-1.3zM195.9,446.4h1.4v1.2h-1.4zM199.0,445.3h1.4v1.2h-1.4zM198.1,446.5h1.4v1.2h-1.4zM195.4,441.9h1.4v1.2h-1.4zM201.3,445.4h1.1v0.9h-1.1zM197.6,443.7h0.8v0.6h-0.8zM196.0,445.8h1.7v1.4h-1.7zM195.0,444.3h0.8v0.6h-0.8zM148.5,473.0h1.4v1.2h-1.4zM149.5,475.3h1.1v0.9h-1.1zM146.6,473.4h1.9v1.5h-1.9zM153.5,474.2h1.1v0.9h-1.1zM150.5,474.1h1.3v1.0h-1.3zM147.7,475.2h1.7v1.4h-1.7zM149.3,475.3h1.9v1.5h-1.9zM150.8,475.6h1.9v1.5h-1.9zM156.2,470.6h2.2v1.8h-2.2zM157.9,472.1h1.3v1.0h-1.3zM157.6,471.6h1.1v0.9h-1.1zM157.0,470.8h0.8v0.6h-0.8zM161.1,471.7h1.1v0.9h-1.1zM155.0,471.5h1.4v1.2h-1.4zM159.2,471.5h1.9v1.5h-1.9zM157.8,473.6h1.1v0.9h-1.1zM160.1,471.8h0.9v0.8h-0.9zM159.9,473.4h1.7v1.4h-1.7zM157.3,470.2h0.8v0.6h-0.8zM155.5,470.1h0.8v0.6h-0.8zM150.5,454.3h1.7v1.4h-1.7zM151.4,456.1h1.1v0.9h-1.1zM156.8,457.2h1.3v1.0h-1.3zM145.7,458.7h1.1v0.9h-1.1zM152.2,456.2h1.1v0.9h-1.1zM149.5,458.0h1.1v0.9h-1.1zM146.3,453.5h1.3v1.0h-1.3zM150.6,456.2h1.4v1.2h-1.4zM155.1,452.2h1.4v1.2h-1.4zM155.5,429.7h0.8v0.6h-0.8zM151.6,430.0h1.9v1.5h-1.9zM157.0,426.7h0.9v0.8h-0.9zM155.1,431.9h0.9v0.8h-0.9zM155.4,427.9h1.1v0.9h-1.1zM154.4,428.4h1.1v0.9h-1.1zM157.7,427.7h1.9v1.5h-1.9zM153.8,432.3h1.7v1.4h-1.7zM171.0,407.0h1.1v0.9h-1.1zM172.5,406.7h1.9v1.5h-1.9zM169.7,405.4h1.7v1.4h-1.7zM173.0,405.1h1.1v0.9h-1.1zM173.8,405.6h1.3v1.0h-1.3zM177.3,450.3h1.4v1.2h-1.4zM182.8,444.7h1.9v1.5h-1.9zM177.1,445.7h1.4v1.2h-1.4zM175.0,446.7h2.2v1.8h-2.2zM181.4,446.4h0.8v0.6h-0.8zM185.9,445.2h0.9v0.8h-0.9zM179.0,448.3h2.2v1.8h-2.2zM176.9,445.0h1.1v0.9h-1.1zM174.7,447.1h1.1v0.9h-1.1zM168.6,434.5h1.3v1.0h-1.3zM168.1,436.1h1.7v1.4h-1.7zM164.8,436.5h1.7v1.4h-1.7zM166.2,434.2h1.3v1.0h-1.3zM172.3,436.1h2.2v1.8h-2.2zM163.9,434.9h1.4v1.2h-1.4zM170.3,435.4h2.2v1.8h-2.2zM167.5,435.7h0.9v0.8h-0.9zM171.2,432.9h2.2v1.8h-2.2zM164.6,434.9h0.9v0.8h-0.9zM191.8,469.5h0.9v0.8h-0.9zM189.3,472.8h1.4v1.2h-1.4zM190.8,471.1h1.3v1.0h-1.3zM190.6,469.4h2.2v1.8h-2.2zM188.2,473.2h1.1v0.9h-1.1zM192.9,473.8h1.3v1.0h-1.3zM193.1,470.3h1.3v1.0h-1.3zM193.8,473.0h0.9v0.8h-0.9zM190.7,469.1h1.7v1.4h-1.7zM192.6,472.1h0.9v0.8h-0.9zM173.2,434.1h2.2v1.8h-2.2zM169.7,433.0h1.4v1.2h-1.4zM168.7,435.6h0.9v0.8h-0.9zM172.0,434.4h2.2v1.8h-2.2zM171.7,435.5h1.1v0.9h-1.1zM167.2,434.9h2.2v1.8h-2.2zM171.7,434.3h0.9v0.8h-0.9zM167.4,433.5h1.7v1.4h-1.7zM170.9,434.2h1.3v1.0h-1.3zM173.2,435.8h0.8v0.6h-0.8zM173.9,435.8h0.9v0.8h-0.9zM170.9,435.6h1.3v1.0h-1.3zM152.6,410.0h2.2v1.8h-2.2zM151.8,411.1h1.3v1.0h-1.3zM155.5,412.6h1.1v0.9h-1.1zM155.9,407.2h1.3v1.0h-1.3zM158.8,410.8h1.4v1.2h-1.4zM182.3,459.5h1.7v1.4h-1.7zM184.7,461.3h1.4v1.2h-1.4zM183.3,460.8h0.9v0.8h-0.9zM183.9,462.2h1.9v1.5h-1.9zM184.0,462.4h1.9v1.5h-1.9zM181.3,461.7h0.8v0.6h-0.8zM181.6,461.1h1.1v0.9h-1.1zM180.8,462.6h1.1v0.9h-1.1zM176.4,459.6h1.9v1.5h-1.9zM183.5,462.5h0.9v0.8h-0.9zM154.4,440.8h2.2v1.8h-2.2zM156.0,436.3h1.4v1.2h-1.4zM150.4,434.7h1.1v0.9h-1.1zM158.4,438.9h1.4v1.2h-1.4zM147.3,436.3h1.4v1.2h-1.4zM154.2,437.4h1.1v0.9h-1.1zM153.6,433.6h1.1v0.9h-1.1zM154.6,437.8h1.1v0.9h-1.1zM154.2,435.7h1.4v1.2h-1.4zM157.2,435.4h0.8v0.6h-0.8zM159.7,438.2h1.3v1.0h-1.3zM164.5,438.9h0.8v0.6h-0.8zM188.7,456.1h1.1v0.9h-1.1zM188.5,456.6h1.1v0.9h-1.1zM187.9,456.2h1.3v1.0h-1.3zM189.6,455.7h2.2v1.8h-2.2zM187.6,454.4h1.1v0.9h-1.1zM187.2,455.1h0.9v0.8h-0.9zM185.5,455.7h1.9v1.5h-1.9zM187.0,453.4h2.2v1.8h-2.2zM178.5,410.4h1.1v0.9h-1.1zM174.0,407.1h2.2v1.8h-2.2zM173.3,407.2h2.2v1.8h-2.2zM174.6,406.2h1.3v1.0h-1.3zM167.0,411.1h1.9v1.5h-1.9zM174.0,408.4h1.7v1.4h-1.7zM173.9,407.8h1.7v1.4h-1.7zM173.1,408.2h1.7v1.4h-1.7zM173.4,408.1h1.9v1.5h-1.9zM176.1,410.0h0.9v0.8h-0.9zM154.5,443.4h0.8v0.6h-0.8zM154.6,442.7h1.1v0.9h-1.1zM155.8,438.8h0.9v0.8h-0.9zM155.5,442.1h1.7v1.4h-1.7zM153.1,440.3h1.3v1.0h-1.3zM153.4,443.0h0.8v0.6h-0.8zM154.6,440.2h0.8v0.6h-0.8zM183.8,413.9h2.2v1.8h-2.2zM182.7,418.1h1.4v1.2h-1.4zM179.3,414.3h1.9v1.5h-1.9zM180.0,411.2h1.7v1.4h-1.7zM182.9,412.2h0.9v0.8h-0.9zM183.5,412.8h1.4v1.2h-1.4zM188.7,411.9h1.3v1.0h-1.3zM170.6,470.6h1.9v1.5h-1.9zM168.4,470.9h1.7v1.4h-1.7zM175.1,468.3h1.4v1.2h-1.4zM174.3,469.4h0.9v0.8h-0.9zM171.7,469.5h0.8v0.6h-0.8zM171.9,469.9h0.8v0.6h-0.8zM174.3,471.0h2.2v1.8h-2.2zM170.5,469.4h1.4v1.2h-1.4zM172.9,470.0h1.1v0.9h-1.1zM172.8,470.0h1.7v1.4h-1.7zM169.4,470.8h1.3v1.0h-1.3zM169.9,470.9h1.3v1.0h-1.3zM173.8,469.7h1.3v1.0h-1.3zM170.8,456.6h1.4v1.2h-1.4zM169.4,456.8h0.9v0.8h-0.9zM173.3,456.5h1.4v1.2h-1.4zM167.2,455.5h1.1v0.9h-1.1zM170.9,455.0h0.9v0.8h-0.9zM169.3,456.5h0.9v0.8h-0.9zM167.8,455.3h1.1v0.9h-1.1zM169.3,454.3h1.4v1.2h-1.4zM168.9,455.2h1.3v1.0h-1.3zM168.0,455.8h1.9v1.5h-1.9zM168.7,457.3h0.9v0.8h-0.9zM145.6,463.0h0.8v0.6h-0.8zM144.7,464.8h1.7v1.4h-1.7zM144.8,464.1h1.9v1.5h-1.9zM135.5,465.8h1.9v1.5h-1.9zM146.1,464.3h1.1v0.9h-1.1zM141.9,463.2h1.4v1.2h-1.4zM145.0,462.8h2.2v1.8h-2.2zM143.3,464.3h0.8v0.6h-0.8zM145.6,463.2h1.4v1.2h-1.4zM160.6,428.0h1.3v1.0h-1.3zM163.2,427.0h1.7v1.4h-1.7zM158.7,426.4h2.2v1.8h-2.2zM160.5,428.8h1.4v1.2h-1.4zM159.7,428.3h1.3v1.0h-1.3zM158.4,429.9h1.7v1.4h-1.7zM163.4,425.7h1.1v0.9h-1.1zM165.6,427.7h1.9v1.5h-1.9zM164.1,425.2h1.3v1.0h-1.3zM164.4,427.9h1.7v1.4h-1.7zM175.4,438.6h1.9v1.5h-1.9zM176.5,441.5h1.4v1.2h-1.4zM179.4,439.2h0.9v0.8h-0.9zM175.7,436.2h1.9v1.5h-1.9zM183.7,441.2h1.1v0.9h-1.1zM175.5,437.4h1.3v1.0h-1.3zM175.6,442.8h1.7v1.4h-1.7zM180.4,440.5h2.2v1.8h-2.2zM184.3,440.6h1.9v1.5h-1.9zM179.7,440.2h1.4v1.2h-1.4zM178.2,461.2h2.2v1.8h-2.2zM178.3,460.8h1.1v0.9h-1.1zM175.5,458.7h1.4v1.2h-1.4zM181.5,460.1h1.1v0.9h-1.1zM176.2,461.1h1.4v1.2h-1.4zM175.7,468.2h1.1v0.9h-1.1zM176.8,467.2h1.7v1.4h-1.7zM171.5,466.1h0.8v0.6h-0.8zM175.5,467.1h1.4v1.2h-1.4zM175.4,466.8h1.7v1.4h-1.7zM161.4,423.2h0.9v0.8h-0.9zM161.7,423.4h1.3v1.0h-1.3zM164.7,424.5h1.1v0.9h-1.1zM159.6,424.7h0.8v0.6h-0.8zM159.5,423.7h1.3v1.0h-1.3zM156.1,423.2h1.4v1.2h-1.4zM160.6,423.8h1.1v0.9h-1.1zM162.5,424.9h1.7v1.4h-1.7zM161.7,423.8h1.1v0.9h-1.1zM161.2,424.7h1.4v1.2h-1.4zM158.7,426.1h1.1v0.9h-1.1zM160.8,425.6h1.3v1.0h-1.3zM160.0,450.8h1.9v1.5h-1.9zM159.6,450.6h1.3v1.0h-1.3zM159.1,448.8h0.8v0.6h-0.8zM161.5,450.1h1.4v1.2h-1.4zM154.2,447.8h1.3v1.0h-1.3zM154.9,446.7h1.1v0.9h-1.1zM161.5,448.5h2.2v1.8h-2.2zM162.3,445.7h1.9v1.5h-1.9zM159.8,446.6h1.4v1.2h-1.4zM159.5,448.8h1.1v0.9h-1.1zM159.6,449.0h1.1v0.9h-1.1zM156.5,448.6h1.9v1.5h-1.9zM158.0,461.5h1.3v1.0h-1.3zM159.9,462.3h0.8v0.6h-0.8zM158.1,459.5h0.8v0.6h-0.8zM154.1,460.6h1.9v1.5h-1.9zM156.5,461.0h2.2v1.8h-2.2zM155.1,460.3h2.2v1.8h-2.2zM151.5,463.2h0.9v0.8h-0.9zM153.9,462.1h1.7v1.4h-1.7zM150.3,461.1h1.3v1.0h-1.3zM161.8,461.9h1.1v0.9h-1.1zM154.4,460.5h2.2v1.8h-2.2zM158.0,426.2h1.4v1.2h-1.4zM155.8,423.9h1.7v1.4h-1.7zM157.6,424.7h0.8v0.6h-0.8zM156.7,423.7h0.9v0.8h-0.9zM154.5,424.8h1.3v1.0h-1.3zM178.1,475.4h1.1v0.9h-1.1zM178.2,475.7h0.9v0.8h-0.9zM179.5,474.0h0.8v0.6h-0.8zM183.0,407.2h0.9v0.8h-0.9zM184.0,408.9h1.3v1.0h-1.3zM186.1,406.4h1.1v0.9h-1.1zM185.0,408.1h1.1v0.9h-1.1zM182.5,407.7h1.7v1.4h-1.7zM182.7,406.8h2.2v1.8h-2.2zM183.7,406.8h1.9v1.5h-1.9zM169.6,463.7h0.9v0.8h-0.9zM165.6,463.2h1.1v0.9h-1.1zM167.2,464.9h1.1v0.9h-1.1zM166.6,463.5h1.9v1.5h-1.9zM169.0,463.2h0.9v0.8h-0.9zM164.6,437.4h1.7v1.4h-1.7zM167.5,400.3h1.4v1.2h-1.4zM156.1,464.4h0.9v0.8h-0.9zM176.5,393.8h0.8v0.6h-0.8zM198.1,438.9h1.3v1.0h-1.3zM185.8,454.4h1.1v0.9h-1.1zM176.7,424.0h1.7v1.4h-1.7zM142.2,444.8h0.9v0.8h-0.9zM139.3,451.9h2.2v1.8h-2.2zM192.3,436.9h1.9v1.5h-1.9zM173.7,381.5h0.9v0.8h-0.9zM182.7,392.3h1.1v0.9h-1.1zM159.9,425.5h0.8v0.6h-0.8zM182.5,464.5h1.7v1.4h-1.7zM166.4,381.6h1.3v1.0h-1.3zM151.2,415.3h1.1v0.9h-1.1zM159.5,413.0h2.2v1.8h-2.2zM164.6,380.1h0.8v0.6h-0.8zM135.0,449.6h1.4v1.2h-1.4zM182.7,435.5h1.1v0.9h-1.1zM160.4,413.5h1.3v1.0h-1.3zM153.8,453.4h1.7v1.4h-1.7zM161.4,405.4h2.2v1.8h-2.2zM152.0,463.7h0.9v0.8h-0.9zM159.0,394.2h1.4v1.2h-1.4zM186.4,421.3h0.8v0.6h-0.8zM136.8,446.7h2.2v1.8h-2.2zM193.8,446.9h1.1v0.9h-1.1zM187.1,416.5h2.2v1.8h-2.2zM158.1,425.6h2.2v1.8h-2.2zM188.9,422.9h0.8v0.6h-0.8zM189.6,468.0h0.8v0.6h-0.8zM172.5,410.7h1.9v1.5h-1.9zM183.3,420.0h0.8v0.6h-0.8zM190.0,465.1h1.9v1.5h-1.9zM178.7,462.1h0.9v0.8h-0.9zM174.5,452.5h1.7v1.4h-1.7zM183.2,462.5h1.4v1.2h-1.4zM174.2,433.3h1.9v1.5h-1.9zM162.1,396.1h1.1v0.9h-1.1zM172.8,470.5h0.8v0.6h-0.8zM161.4,453.1h0.9v0.8h-0.9zM177.3,407.8h0.8v0.6h-0.8zM199.1,433.7h0.9v0.8h-0.9zM162.6,412.5h2.2v1.8h-2.2zM144.0,431.3h1.1v0.9h-1.1zM184.3,445.6h2.2v1.8h-2.2zM166.8,380.1h1.9v1.5h-1.9zM164.5,451.2h0.9v0.8h-0.9zM203.6,464.1h1.7v1.4h-1.7zM158.4,408.1h1.1v0.9h-1.1zM190.7,437.3h1.7v1.4h-1.7zM157.6,412.3h0.9v0.8h-0.9zM159.6,435.4h1.4v1.2h-1.4zM171.9,392.3h1.9v1.5h-1.9zM138.1,446.1h0.9v0.8h-0.9zM149.6,428.7h1.7v1.4h-1.7zM159.9,397.1h1.1v0.9h-1.1zM151.9,432.5h0.9v0.8h-0.9zM198.2,444.4h0.8v0.6h-0.8zM196.3,449.2h1.4v1.2h-1.4zM171.9,388.2h0.9v0.8h-0.9zM142.3,453.0h0.9v0.8h-0.9zM178.3,442.6h0.8v0.6h-0.8zM172.0,382.9h1.9v1.5h-1.9zM201.7,470.7h1.3v1.0h-1.3zM183.4,419.7h1.7v1.4h-1.7zM173.3,415.9h2.2v1.8h-2.2zM187.4,409.3h1.1v0.9h-1.1zM195.9,469.1h1.7v1.4h-1.7zM181.5,449.6h1.4v1.2h-1.4zM181.5,388.4h2.2v1.8h-2.2zM173.5,410.6h1.9v1.5h-1.9zM206.7,463.5h1.1v0.9h-1.1zM187.8,465.6h1.3v1.0h-1.3zM149.2,452.4h1.7v1.4h-1.7zM134.9,465.3h1.9v1.5h-1.9zM185.2,454.0h2.2v1.8h-2.2zM186.7,422.5h0.8v0.6h-0.8zM178.3,410.1h1.7v1.4h-1.7zM170.0,460.4h1.7v1.4h-1.7zM143.9,456.8h1.3v1.0h-1.3zM155.0,402.3h0.8v0.6h-0.8zM166.3,375.2h1.7v1.4h-1.7zM142.6,470.5h0.9v0.8h-0.9zM188.7,434.3h2.2v1.8h-2.2zM150.4,430.1h1.3v1.0h-1.3zM131.4,473.0h1.3v1.0h-1.3zM147.5,468.4h0.9v0.8h-0.9zM192.6,441.7h0.9v0.8h-0.9zM163.8,441.6h0.9v0.8h-0.9zM153.1,443.3h1.7v1.4h-1.7zM184.6,395.4h2.2v1.8h-2.2zM206.0,454.7h1.7v1.4h-1.7zM149.4,428.6h1.9v1.5h-1.9zM191.4,441.8h0.8v0.6h-0.8zM144.9,469.5h1.4v1.2h-1.4zM167.5,399.4h1.7v1.4h-1.7zM201.7,444.8h0.9v0.8h-0.9zM180.0,460.7h0.9v0.8h-0.9zM198.7,432.7h1.3v1.0h-1.3zM145.0,419.9h1.9v1.5h-1.9zM153.6,412.6h1.4v1.2h-1.4zM167.1,441.0h1.9v1.5h-1.9zM156.9,435.6h1.1v0.9h-1.1zM203.1,461.4h1.1v0.9h-1.1zM165.3,381.9h1.9v1.5h-1.9zM204.4,470.9h0.9v0.8h-0.9zM142.3,433.6h1.7v1.4h-1.7zM148.8,419.1h1.4v1.2h-1.4zM159.9,460.8h1.1v0.9h-1.1zM175.4,379.6h0.8v0.6h-0.8zM200.5,446.4h0.9v0.8h-0.9zM163.9,465.5h1.3v1.0h-1.3zM169.6,464.5h0.9v0.8h-0.9zM162.6,462.2h1.7v1.4h-1.7zM188.0,427.5h0.9v0.8h-0.9zM184.6,397.3h1.1v0.9h-1.1zM180.1,461.3h1.1v0.9h-1.1zM191.2,411.6h1.7v1.4h-1.7zM151.4,428.6h1.9v1.5h-1.9zM166.5,434.3h1.7v1.4h-1.7zM157.4,414.6h0.9v0.8h-0.9zM150.0,425.7h1.1v0.9h-1.1zM189.4,453.1h1.4v1.2h-1.4zM162.9,459.6h0.8v0.6h-0.8zM210.1,470.9h2.2v1.8h-2.2zM188.6,458.1h1.3v1.0h-1.3zM130.4,455.8h0.8v0.6h-0.8zM173.6,442.6h1.7v1.4h-1.7zM193.2,469.4h0.9v0.8h-0.9zM163.4,457.3h1.7v1.4h-1.7zM170.0,444.1h2.2v1.8h-2.2zM183.5,465.6h0.9v0.8h-0.9zM173.7,384.4h1.1v0.9h-1.1zM179.4,410.1h1.3v1.0h-1.3zM147.0,458.3h0.9v0.8h-0.9zM193.0,451.6h1.7v1.4h-1.7zM188.1,431.0h1.9v1.5h-1.9zM166.6,417.6h2.2v1.8h-2.2zM173.4,454.7h0.9v0.8h-0.9zM162.8,471.6h1.4v1.2h-1.4zM188.2,433.4h1.1v0.9h-1.1zM147.5,428.1h1.7v1.4h-1.7zM165.1,448.4h1.1v0.9h-1.1zM177.9,443.7h1.4v1.2h-1.4zM165.5,392.1h1.7v1.4h-1.7zM172.1,437.2h1.4v1.2h-1.4zM180.1,429.2h1.9v1.5h-1.9zM172.3,435.8h0.9v0.8h-0.9zM187.1,459.0h0.9v0.8h-0.9zM178.5,446.6h0.9v0.8h-0.9zM170.1,443.1h0.8v0.6h-0.8zM189.9,418.9h1.4v1.2h-1.4zM185.3,461.1h1.3v1.0h-1.3zM159.0,443.9h2.2v1.8h-2.2zM160.3,405.0h1.9v1.5h-1.9zM182.6,442.7h0.9v0.8h-0.9zM171.5,408.1h1.4v1.2h-1.4zM169.2,404.1h1.1v0.9h-1.1zM163.8,420.9h1.1v0.9h-1.1zM138.4,455.9h1.9v1.5h-1.9zM165.4,445.0h1.4v1.2h-1.4zM196.7,460.2h1.4v1.2h-1.4zM182.3,415.0h2.2v1.8h-2.2zM132.8,448.4h1.7v1.4h-1.7zM188.7,466.8h2.2v1.8h-2.2zM161.5,464.4h1.7v1.4h-1.7zM168.1,464.3h1.9v1.5h-1.9zM188.2,440.9h1.7v1.4h-1.7zM202.9,472.5h0.9v0.8h-0.9zM153.1,463.9h0.9v0.8h-0.9zM149.4,468.2h1.3v1.0h-1.3zM174.4,428.5h1.9v1.5h-1.9zM190.2,408.8h0.8v0.6h-0.8zM167.5,429.2h1.1v0.9h-1.1zM168.5,407.4h1.3v1.0h-1.3zM203.5,462.8h1.9v1.5h-1.9zM143.7,470.8h0.9v0.8h-0.9zM155.8,420.2h1.9v1.5h-1.9zM167.9,474.4h1.1v0.9h-1.1zM162.4,385.9h1.7v1.4h-1.7zM156.6,401.6h1.9v1.5h-1.9zM175.6,403.4h1.4v1.2h-1.4zM181.2,391.9h1.7v1.4h-1.7zM197.9,434.9h0.9v0.8h-0.9zM177.3,401.1h2.2v1.8h-2.2zM177.1,444.9h0.9v0.8h-0.9zM166.8,407.2h1.4v1.2h-1.4zM153.4,435.9h1.9v1.5h-1.9zM152.7,444.1h1.9v1.5h-1.9zM152.3,473.0h0.8v0.6h-0.8zM130.8,462.3h1.9v1.5h-1.9zM211.2,464.3h0.9v0.8h-0.9zM166.7,396.5h0.8v0.6h-0.8zM162.2,411.5h2.2v1.8h-2.2zM194.5,460.7h1.4v1.2h-1.4zM137.1,452.2h1.4v1.2h-1.4zM206.7,459.8h1.1v0.9h-1.1zM165.8,385.5h1.7v1.4h-1.7zM190.2,431.3h0.8v0.6h-0.8zM185.2,434.8h1.1v0.9h-1.1zM188.6,408.2h1.7v1.4h-1.7zM144.4,425.2h0.9v0.8h-0.9zM167.2,433.3h1.4v1.2h-1.4zM188.8,426.0h1.7v1.4h-1.7zM193.7,464.5h0.8v0.6h-0.8zM189.1,426.0h1.1v0.9h-1.1zM169.9,398.8h1.4v1.2h-1.4zM160.1,397.2h1.4v1.2h-1.4zM192.6,418.9h0.9v0.8h-0.9zM199.9,468.2h0.9v0.8h-0.9zM154.2,418.1h1.9v1.5h-1.9zM141.2,436.9h0.8v0.6h-0.8zM153.0,456.3h0.8v0.6h-0.8zM125.1,467.9h1.1v0.9h-1.1zM168.5,396.3h1.9v1.5h-1.9zM168.5,400.1h0.8v0.6h-0.8zM136.4,463.4h1.3v1.0h-1.3zM197.3,442.3h1.4v1.2h-1.4zM129.5,470.7h0.9v0.8h-0.9zM177.9,379.3h1.3v1.0h-1.3zM169.9,451.7h0.9v0.8h-0.9zM189.6,425.8h1.4v1.2h-1.4z" fill-opacity="1.0"/></g>
<g fill="#989898" opacity="1.0"><path d="M875.0,488.0 Q872.0,447.5 869.0,411.0" stroke="#989898" stroke-width="1.0" fill="none"/><path d="M870.7,417.3 Q875.9,416.3 881.1,413.3 M871.4,422.1 Q877.8,421.6 884.1,420.1 M871.9,424.8 Q879.5,423.9 887.1,421.0 M873.1,432.3 Q864.9,431.6 856.7,429.4 M873.8,436.7 Q885.1,434.5 896.3,428.1 M874.4,440.0 Q886.4,437.9 898.4,431.7 M875.2,445.0 Q887.9,443.6 900.6,439.3 M876.0,450.2 Q886.7,448.4 897.4,443.2 M876.4,452.6 Q862.3,451.1 848.1,446.6 M877.5,459.6 Q890.6,457.6 903.7,451.6 M878.0,462.4 Q890.6,459.7 903.2,451.7 M879.0,468.3 Q859.1,463.6 839.1,449.5 M879.8,473.3 Q864.2,469.6 848.6,458.6 M880.2,476.1 Q900.0,471.9 919.7,459.0 M881.2,481.9 Q902.5,479.7 923.9,473.2 M882.1,487.3 Q900.7,483.8 919.3,473.1" stroke="#989898" stroke-width="0.7" fill="none"/><path d="M868.5,416.3h1.4v1.2h-1.4zM872.5,418.2h2.2v1.8h-2.2zM882.7,410.5h1.3v1.0h-1.3zM874.7,414.9h2.2v1.8h-2.2zM877.7,409.4h1.9v1.5h-1.9zM876.4,415.3h2.2v1.8h-2.2zM872.8,416.6h1.4v1.2h-1.4zM872.6,420.2h1.4v1.2h-1.4zM883.9,418.7h2.2v1.8h-2.2zM874.6,421.9h1.4v1.2h-1.4zM887.1,416.8h1.4v1.2h-1.4zM874.8,423.8h1.4v1.2h-1.4zM878.2,417.0h1.4v1.2h-1.4zM879.6,420.2h1.4v1.2h-1.4zM882.2,420.2h1.3v1.0h-1.3zM873.0,422.6h0.9v0.8h-0.9zM876.8,421.7h1.7v1.4h-1.7zM876.4,424.8h1.4v1.2h-1.4zM889.0,415.9h1.9v1.5h-1.9zM875.2,423.6h1.1v0.9h-1.1zM883.0,421.5h1.7v1.4h-1.7zM881.2,421.4h1.1v0.9h-1.1zM874.7,432.8h1.3v1.0h-1.3zM870.1,432.1h1.4v1.2h-1.4zM870.9,432.7h1.7v1.4h-1.7zM862.6,432.0h1.7v1.4h-1.7zM866.9,430.8h0.9v0.8h-0.9zM864.0,434.9h1.1v0.9h-1.1zM853.4,428.0h2.2v1.8h-2.2zM859.5,430.8h1.1v0.9h-1.1zM862.9,432.7h1.7v1.4h-1.7zM861.3,429.4h1.3v1.0h-1.3zM855.0,431.1h1.7v1.4h-1.7zM868.0,430.9h2.2v1.8h-2.2zM890.1,431.0h2.2v1.8h-2.2zM883.8,434.4h1.3v1.0h-1.3zM889.3,427.7h1.4v1.2h-1.4zM895.6,428.6h1.1v0.9h-1.1zM882.2,436.5h2.2v1.8h-2.2zM892.1,430.9h1.7v1.4h-1.7zM886.6,431.6h1.9v1.5h-1.9zM886.4,432.9h1.9v1.5h-1.9zM883.2,432.4h1.3v1.0h-1.3zM889.5,431.7h1.3v1.0h-1.3zM874.5,437.2h1.9v1.5h-1.9zM876.9,435.7h0.9v0.8h-0.9zM891.3,432.1h1.4v1.2h-1.4zM884.6,433.8h1.4v1.2h-1.4zM894.2,433.4h2.2v1.8h-2.2zM897.3,433.5h1.4v1.2h-1.4zM902.1,428.5h1.4v1.2h-1.4zM886.0,437.9h1.1v0.9h-1.1zM887.7,435.4h1.3v1.0h-1.3zM897.7,441.9h0.8v0.6h-0.8zM897.4,442.6h1.4v1.2h-1.4zM894.7,439.9h0.8v0.6h-0.8zM878.1,445.2h1.4v1.2h-1.4zM879.4,445.5h1.4v1.2h-1.4zM880.8,445.8h1.4v1.2h-1.4zM888.1,444.2h1.1v0.9h-1.1zM893.1,445.5h1.7v1.4h-1.7zM889.6,441.2h1.4v1.2h-1.4zM886.9,446.8h1.9v1.5h-1.9zM885.1,447.8h0.8v0.6h-0.8zM893.3,449.2h1.1v0.9h-1.1zM898.6,446.8h1.9v1.5h-1.9zM885.0,447.9h0.8v0.6h-0.8zM877.2,451.6h0.9v0.8h-0.9zM881.1,445.8h1.4v1.2h-1.4zM884.0,445.0h1.4v1.2h-1.4zM890.2,448.7h1.4v1.2h-1.4zM895.5,441.3h0.9v0.8h-0.9zM893.6,443.9h1.7v1.4h-1.7zM889.3,448.2h1.1v0.9h-1.1zM885.1,448.6h2.2v1.8h-2.2zM886.7,449.1h1.3v1.0h-1.3zM850.4,448.2h1.7v1.4h-1.7zM871.4,449.7h0.8v0.6h-0.8zM857.1,449.4h1.4v1.2h-1.4zM868.6,453.3h1.9v1.5h-1.9zM875.2,453.0h1.7v1.4h-1.7zM862.4,451.8h0.8v0.6h-0.8zM870.2,453.7h1.1v0.9h-1.1zM851.9,447.1h0.9v0.8h-0.9zM873.3,450.0h2.2v1.8h-2.2zM850.4,449.7h2.2v1.8h-2.2zM850.8,446.8h1.4v1.2h-1.4zM860.7,451.0h1.9v1.5h-1.9zM891.2,456.8h1.4v1.2h-1.4zM895.8,456.1h1.7v1.4h-1.7zM896.6,453.9h2.2v1.8h-2.2zM896.6,456.2h1.9v1.5h-1.9zM898.6,452.4h1.7v1.4h-1.7zM910.3,455.5h0.8v0.6h-0.8zM897.1,455.8h2.2v1.8h-2.2zM898.2,454.5h1.3v1.0h-1.3zM895.5,455.4h1.4v1.2h-1.4zM893.4,455.9h1.1v0.9h-1.1zM900.8,454.1h1.4v1.2h-1.4zM886.4,454.1h0.9v0.8h-0.9zM888.0,457.8h1.1v0.9h-1.1zM881.6,462.3h1.7v1.4h-1.7zM884.7,459.4h1.1v0.9h-1.1zM889.1,458.3h1.4v1.2h-1.4zM902.0,451.8h0.9v0.8h-0.9zM897.4,450.2h0.9v0.8h-0.9zM879.3,461.0h1.1v0.9h-1.1zM893.1,457.4h0.9v0.8h-0.9zM881.2,459.6h1.9v1.5h-1.9zM893.7,456.5h1.3v1.0h-1.3zM891.2,460.1h1.7v1.4h-1.7zM871.7,467.5h0.8v0.6h-0.8zM848.5,453.2h1.4v1.2h-1.4zM844.5,454.3h1.1v0.9h-1.1zM879.4,468.7h0.9v0.8h-0.9zM871.8,466.4h0.8v0.6h-0.8zM862.3,460.7h1.7v1.4h-1.7zM869.3,465.1h0.9v0.8h-0.9zM841.3,454.9h0.9v0.8h-0.9zM856.7,460.3h1.1v0.9h-1.1zM847.1,449.4h1.1v0.9h-1.1zM843.5,447.9h1.3v1.0h-1.3zM867.5,467.7h1.3v1.0h-1.3zM853.1,459.5h0.8v0.6h-0.8zM858.0,463.9h0.8v0.6h-0.8zM863.7,464.8h0.8v0.6h-0.8zM854.3,461.5h1.1v0.9h-1.1zM872.9,471.3h1.9v1.5h-1.9zM848.0,458.7h1.3v1.0h-1.3zM869.9,469.4h1.9v1.5h-1.9zM858.7,464.5h0.8v0.6h-0.8zM846.5,465.1h1.9v1.5h-1.9zM873.7,472.2h1.4v1.2h-1.4zM865.9,469.6h1.4v1.2h-1.4zM863.0,465.9h1.1v0.9h-1.1zM854.2,461.5h1.4v1.2h-1.4zM878.1,472.5h1.3v1.0h-1.3zM891.8,473.3h1.9v1.5h-1.9zM883.7,474.4h0.9v0.8h-0.9zM887.2,474.6h1.1v0.9h-1.1zM906.1,464.3h0.8v0.6h-0.8zM911.8,467.0h1.7v1.4h-1.7zM915.1,464.9h2.2v1.8h-2.2zM907.7,462.6h2.2v1.8h-2.2zM903.8,467.6h1.1v0.9h-1.1zM902.4,468.1h0.9v0.8h-0.9zM895.9,470.9h1.1v0.9h-1.1zM894.0,469.9h1.1v0.9h-1.1zM906.5,467.7h0.9v0.8h-0.9zM908.1,464.5h1.7v1.4h-1.7zM890.8,473.1h1.3v1.0h-1.3zM911.7,458.2h2.2v1.8h-2.2zM909.5,468.3h2.2v1.8h-2.2zM905.0,467.1h1.3v1.0h-1.3zM916.2,461.7h1.1v0.9h-1.1zM906.9,466.5h1.4v1.2h-1.4zM889.2,474.0h1.9v1.5h-1.9zM909.5,466.7h1.3v1.0h-1.3zM896.9,478.2h0.8v0.6h-0.8zM909.3,479.3h1.4v1.2h-1.4zM923.4,474.3h1.9v1.5h-1.9zM892.3,479.9h1.9v1.5h-1.9zM909.3,477.1h0.8v0.6h-0.8zM898.7,478.8h1.3v1.0h-1.3zM891.4,481.1h1.4v1.2h-1.4zM886.2,484.3h1.4v1.2h-1.4zM906.6,479.6h0.9v0.8h-0.9zM883.1,481.2h1.4v1.2h-1.4zM890.5,480.0h2.2v1.8h-2.2zM892.7,481.1h1.4v1.2h-1.4zM889.4,481.0h1.3v1.0h-1.3zM905.4,474.5h1.3v1.0h-1.3zM910.3,476.4h1.1v0.9h-1.1zM884.0,485.1h1.7v1.4h-1.7zM894.5,483.7h0.9v0.8h-0.9zM910.3,474.0h2.2v1.8h-2.2zM914.2,474.4h1.9v1.5h-1.9zM884.8,485.9h1.3v1.0h-1.3zM884.1,487.6h1.3v1.0h-1.3zM905.7,478.1h2.2v1.8h-2.2zM913.2,473.7h1.4v1.2h-1.4zM916.5,471.1h0.8v0.6h-0.8zM901.3,484.5h1.7v1.4h-1.7zM880.7,487.1h0.8v0.6h-0.8zM907.0,482.0h1.3v1.0h-1.3zM911.3,477.2h1.3v1.0h-1.3zM905.0,479.9h1.7v1.4h-1.7zM897.5,483.4h2.2v1.8h-2.2zM900.7,484.5h1.7v1.4h-1.7zM898.2,478.5h1.9v1.5h-1.9zM856.1,489.6h1.3v1.0h-1.3zM852.8,489.6h2.2v1.8h-2.2zM857.5,487.6h2.2v1.8h-2.2zM881.5,424.9h0.8v0.6h-0.8zM881.9,427.4h1.7v1.4h-1.7zM885.2,425.0h0.8v0.6h-0.8zM876.2,488.3h1.1v0.9h-1.1zM895.3,455.4h1.1v0.9h-1.1zM895.1,454.5h1.9v1.5h-1.9zM848.4,475.5h1.9v1.5h-1.9zM848.4,473.8h2.2v1.8h-2.2zM878.3,468.2h1.1v0.9h-1.1zM885.4,468.2h1.1v0.9h-1.1zM890.8,470.5h1.3v1.0h-1.3zM886.3,468.4h1.4v1.2h-1.4zM887.7,468.5h2.2v1.8h-2.2zM887.5,467.2h0.9v0.8h-0.9zM886.5,469.0h0.8v0.6h-0.8zM891.0,459.0h1.4v1.2h-1.4zM891.7,458.4h0.8v0.6h-0.8zM858.0,465.2h1.4v1.2h-1.4zM857.1,469.3h1.7v1.4h-1.7zM859.0,466.2h0.8v0.6h-0.8zM870.2,487.0h1.9v1.5h-1.9zM871.9,488.2h0.9v0.8h-0.9zM872.3,490.5h2.2v1.8h-2.2zM870.8,489.4h0.9v0.8h-0.9zM874.9,479.6h1.3v1.0h-1.3zM874.4,477.0h0.9v0.8h-0.9zM871.8,480.0h0.8v0.6h-0.8zM876.1,480.5h1.7v1.4h-1.7zM874.7,477.1h0.9v0.8h-0.9zM867.9,479.2h1.7v1.4h-1.7zM895.7,483.0h0.8v0.6h-0.8zM897.0,483.8h1.9v1.5h-1.9zM892.3,484.8h1.4v1.2h-1.4zM896.2,480.5h1.1v0.9h-1.1zM872.8,453.5h2.2v1.8h-2.2zM868.7,456.9h1.7v1.4h-1.7zM871.2,454.6h0.8v0.6h-0.8zM867.0,453.7h2.2v1.8h-2.2zM864.9,455.0h1.7v1.4h-1.7zM867.6,456.6h1.4v1.2h-1.4zM871.0,452.9h1.4v1.2h-1.4zM911.1,475.8h1.1v0.9h-1.1zM918.7,473.0h2.2v1.8h-2.2zM907.8,476.3h0.9v0.8h-0.9zM911.0,476.2h0.9v0.8h-0.9zM916.0,476.6h0.9v0.8h-0.9zM915.4,478.4h1.9v1.5h-1.9zM916.5,475.2h2.2v1.8h-2.2zM896.0,489.4h1.7v1.4h-1.7zM902.4,490.9h0.9v0.8h-0.9zM900.5,491.8h1.4v1.2h-1.4zM899.5,491.1h1.9v1.5h-1.9zM899.7,489.4h1.3v1.0h-1.3zM900.6,490.2h1.7v1.4h-1.7zM898.0,490.4h1.7v1.4h-1.7zM899.9,489.7h0.8v0.6h-0.8zM900.4,490.0h1.4v1.2h-1.4zM899.0,488.0h1.3v1.0h-1.3zM899.8,488.9h1.7v1.4h-1.7zM901.4,487.7h1.7v1.4h-1.7zM878.2,429.4h1.7v1.4h-1.7zM874.0,431.2h0.8v0.6h-0.8zM879.3,428.5h1.3v1.0h-1.3zM878.0,430.4h1.7v1.4h-1.7zM875.3,429.9h0.9v0.8h-0.9zM853.9,456.7h1.1v0.9h-1.1zM850.9,455.7h1.4v1.2h-1.4zM851.2,454.7h1.9v1.5h-1.9zM872.2,429.0h1.3v1.0h-1.3zM873.9,427.9h0.8v0.6h-0.8zM883.7,427.2h1.1v0.9h-1.1zM875.6,426.2h1.1v0.9h-1.1zM878.0,429.8h1.4v1.2h-1.4zM884.0,439.5h1.3v1.0h-1.3zM885.3,440.1h1.4v1.2h-1.4zM884.2,439.6h1.7v1.4h-1.7zM885.3,439.3h1.3v1.0h-1.3zM880.5,464.7h1.9v1.5h-1.9zM878.7,465.4h0.9v0.8h-0.9zM878.5,464.4h1.9v1.5h-1.9zM886.9,473.7h1.7v1.4h-1.7zM887.7,476.7h1.3v1.0h-1.3zM879.5,433.1h1.1v0.9h-1.1zM876.1,430.9h2.2v1.8h-2.2zM873.8,430.3h1.1v0.9h-1.1zM873.1,431.1h1.1v0.9h-1.1zM873.5,432.1h0.9v0.8h-0.9zM882.5,432.6h1.3v1.0h-1.3zM853.2,460.4h1.1v0.9h-1.1zM859.0,458.6h1.3v1.0h-1.3zM857.6,463.9h1.3v1.0h-1.3zM852.6,458.3h1.4v1.2h-1.4zM864.4,453.1h0.8v0.6h-0.8zM864.0,453.9h0.8v0.6h-0.8zM859.1,452.5h2.2v1.8h-2.2zM863.2,452.1h1.4v1.2h-1.4zM859.8,453.3h0.8v0.6h-0.8zM860.2,451.7h2.2v1.8h-2.2zM862.8,454.0h1.4v1.2h-1.4zM860.7,453.6h1.4v1.2h-1.4zM864.4,464.2h1.3v1.0h-1.3zM862.4,465.2h1.9v1.5h-1.9zM856.4,462.1h2.2v1.8h-2.2zM854.6,462.6h1.4v1.2h-1.4zM857.8,463.0h1.3v1.0h-1.3zM860.3,460.9h1.4v1.2h-1.4zM857.9,464.3h0.8v0.6h-0.8zM858.6,465.4h1.1v0.9h-1.1zM869.6,475.2h0.9v0.8h-0.9zM862.9,477.1h1.4v1.2h-1.4zM869.1,463.0h1.1v0.9h-1.1zM868.3,459.1h1.1v0.9h-1.1zM867.4,459.3h0.9v0.8h-0.9zM872.0,459.5h1.1v0.9h-1.1zM876.8,437.0h2.2v1.8h-2.2zM879.6,435.5h1.9v1.5h-1.9zM847.3,485.9h1.9v1.5h-1.9zM846.1,486.8h1.1v0.9h-1.1zM846.7,486.1h1.1v0.9h-1.1zM845.5,487.8h2.2v1.8h-2.2zM847.4,487.5h1.4v1.2h-1.4zM848.6,487.7h1.7v1.4h-1.7zM896.0,471.6h1.9v1.5h-1.9zM899.1,469.5h1.4v1.2h-1.4zM902.0,471.8h1.4v1.2h-1.4zM874.2,439.5h1.9v1.5h-1.9zM872.7,438.5h1.4v1.2h-1.4zM871.9,454.9h1.4v1.2h-1.4zM875.6,458.6h1.3v1.0h-1.3zM874.9,457.9h2.2v1.8h-2.2zM881.7,448.9h1.3v1.0h-1.3zM878.8,451.2h0.9v0.8h-0.9zM882.3,453.4h1.3v1.0h-1.3zM901.7,475.0h0.8v0.6h-0.8zM901.1,472.9h0.8v0.6h-0.8zM898.3,472.7h1.9v1.5h-1.9zM865.2,431.4h1.3v1.0h-1.3zM863.0,425.8h1.3v1.0h-1.3zM861.4,428.4h1.3v1.0h-1.3zM907.8,477.7h1.4v1.2h-1.4zM912.1,477.8h1.9v1.5h-1.9zM907.3,476.4h1.4v1.2h-1.4zM904.6,477.1h2.2v1.8h-2.2zM860.0,458.5h0.8v0.6h-0.8zM860.0,458.1h1.9v1.5h-1.9zM868.0,465.2h1.3v1.0h-1.3zM867.7,465.1h1.4v1.2h-1.4zM871.0,465.1h1.7v1.4h-1.7zM866.8,463.4h1.7v1.4h-1.7zM869.7,462.9h1.7v1.4h-1.7zM880.6,450.4h0.9v0.8h-0.9zM883.1,448.9h0.9v0.8h-0.9zM883.4,449.2h1.4v1.2h-1.4zM878.9,450.3h1.3v1.0h-1.3zM879.9,449.2h1.1v0.9h-1.1zM880.6,449.4h0.8v0.6h-0.8zM852.7,468.0h1.9v1.5h-1.9zM857.4,466.9h1.7v1.4h-1.7zM856.0,466.2h2.2v1.8h-2.2zM856.0,468.8h1.1v0.9h-1.1zM873.5,485.4h0.9v0.8h-0.9zM876.2,486.5h2.2v1.8h-2.2zM882.9,485.9h2.2v1.8h-2.2zM878.1,486.2h1.4v1.2h-1.4zM870.6,485.1h1.7v1.4h-1.7zM877.9,484.4h0.8v0.6h-0.8zM868.5,483.5h2.2v1.8h-2.2zM875.3,484.7h0.8v0.6h-0.8zM851.5,479.9h1.7v1.4h-1.7zM851.3,479.6h2.2v1.8h-2.2zM852.1,480.1h2.2v1.8h-2.2zM850.2,479.4h0.9v0.8h-0.9zM851.2,481.4h0.9v0.8h-0.9zM852.3,481.6h1.3v1.0h-1.3zM889.0,471.4h1.3v1.0h-1.3zM883.2,470.3h0.8v0.6h-0.8zM885.4,470.7h2.2v1.8h-2.2zM884.5,473.3h0.9v0.8h-0.9zM883.3,472.3h0.9v0.8h-0.9zM854.1,477.8h0.8v0.6h-0.8zM859.3,474.0h1.4v1.2h-1.4zM856.3,472.9h0.9v0.8h-0.9zM861.2,430.1h1.9v1.5h-1.9zM862.8,430.7h0.8v0.6h-0.8zM859.2,429.1h1.7v1.4h-1.7zM862.4,427.8h0.8v0.6h-0.8zM910.6,488.3h1.9v1.5h-1.9zM910.6,491.0h0.9v0.8h-0.9zM912.5,490.6h1.7v1.4h-1.7zM910.8,490.9h1.3v1.0h-1.3zM905.1,476.8h1.4v1.2h-1.4zM875.2,416.7h1.4v1.2h-1.4zM877.7,415.4h1.3v1.0h-1.3zM851.4,466.6h1.9v1.5h-1.9zM901.1,464.1h0.9v0.8h-0.9zM896.7,466.0h1.1v0.9h-1.1zM848.2,453.8h0.9v0.8h-0.9zM883.0,432.6h0.9v0.8h-0.9zM854.8,445.5h0.9v0.8h-0.9zM868.3,436.8h1.3v1.0h-1.3zM918.4,478.5h1.9v1.5h-1.9zM857.4,450.3h0.9v0.8h-0.9zM916.8,480.3h0.9v0.8h-0.9zM876.6,418.2h1.3v1.0h-1.3zM877.8,416.6h1.4v1.2h-1.4zM850.5,469.6h1.7v1.4h-1.7zM866.2,454.4h0.9v0.8h-0.9zM861.9,438.4h1.4v1.2h-1.4zM863.4,440.6h1.4v1.2h-1.4zM876.7,433.0h1.1v0.9h-1.1zM881.2,479.8h1.7v1.4h-1.7zM894.6,480.7h1.1v0.9h-1.1zM882.4,421.4h1.9v1.5h-1.9zM916.4,487.6h2.2v1.8h-2.2zM870.8,418.9h1.1v0.9h-1.1zM861.4,487.8h0.8v0.6h-0.8zM834.9,489.8h1.7v1.4h-1.7zM870.7,478.2h0.8v0.6h-0.8zM858.4,464.0h2.2v1.8h-2.2zM856.2,446.6h2.2v1.8h-2.2zM928.3,480.9h1.1v0.9h-1.1zM875.3,423.3h1.3v1.0h-1.3zM888.1,488.4h1.1v0.9h-1.1zM880.1,420.9h1.4v1.2h-1.4zM885.6,438.6h1.1v0.9h-1.1zM857.1,424.6h2.2v1.8h-2.2zM847.5,465.4h1.9v1.5h-1.9zM858.7,461.3h1.9v1.5h-1.9zM853.4,448.9h1.9v1.5h-1.9zM869.5,436.6h1.7v1.4h-1.7zM846.1,456.5h2.2v1.8h-2.2zM885.8,439.4h1.4v1.2h-1.4zM901.1,485.1h0.9v0.8h-0.9zM874.4,436.8h1.7v1.4h-1.7zM895.5,478.6h0.9v0.8h-0.9zM842.6,485.2h1.9v1.5h-1.9zM846.7,482.5h1.3v1.0h-1.3zM849.2,477.1h2.2v1.8h-2.2zM875.7,441.0h1.9v1.5h-1.9zM876.9,414.7h2.2v1.8h-2.2zM906.0,453.1h1.1v0.9h-1.1zM895.7,437.8h1.9v1.5h-1.9zM863.4,434.5h1.1v0.9h-1.1zM870.0,474.5h2.2v1.8h-2.2zM873.7,428.3h1.7v1.4h-1.7zM874.8,432.9h2.2v1.8h-2.2zM906.6,460.1h0.9v0.8h-0.9zM920.9,479.2h1.7v1.4h-1.7zM866.8,449.2h0.9v0.8h-0.9zM871.3,412.8h0.9v0.8h-0.9zM853.0,467.2h1.3v1.0h-1.3zM916.3,483.6h1.7v1.4h-1.7zM884.4,468.8h0.8v0.6h-0.8zM862.8,475.1h1.1v0.9h-1.1zM861.6,445.6h2.2v1.8h-2.2zM905.1,478.0h2.2v1.8h-2.2zM872.8,433.0h1.9v1.5h-1.9zM875.7,435.1h1.4v1.2h-1.4zM877.7,459.3h1.4v1.2h-1.4zM900.0,472.8h0.9v0.8h-0.9zM874.3,439.0h1.9v1.5h-1.9zM839.9,488.7h1.1v0.9h-1.1zM855.8,467.9h1.4v1.2h-1.4zM865.2,462.2h1.7v1.4h-1.7zM887.1,449.5h1.3v1.0h-1.3zM883.7,471.5h1.7v1.4h-1.7zM892.3,459.2h2.2v1.8h-2.2zM871.5,409.1h2.2v1.8h-2.2zM859.9,472.3h1.4v1.2h-1.4zM907.0,459.2h1.9v1.5h-1.9zM882.2,432.8h0.8v0.6h-0.8zM864.3,478.0h1.3v1.0h-1.3zM848.6,485.5h1.1v0.9h-1.1zM863.2,422.0h1.7v1.4h-1.7zM854.7,432.5h1.9v1.5h-1.9zM910.8,476.7h1.1v0.9h-1.1zM909.9,466.1h1.9v1.5h-1.9zM867.7,419.8h0.8v0.6h-0.8zM913.7,471.3h1.9v1.5h-1.9zM897.9,455.8h1.4v1.2h-1.4zM868.3,478.3h1.3v1.0h-1.3zM875.3,410.8h0.8v0.6h-0.8zM863.5,468.1h1.4v1.2h-1.4zM899.6,470.2h1.9v1.5h-1.9zM883.4,479.2h0.9v0.8h-0.9zM876.2,453.1h1.3v1.0h-1.3zM896.9,466.1h2.2v1.8h-2.2zM876.8,427.8h1.3v1.0h-1.3zM843.1,470.1h1.9v1.5h-1.9zM887.4,453.8h1.9v1.5h-1.9zM873.2,483.8h1.4v1.2h-1.4zM908.9,483.9h1.1v0.9h-1.1zM882.0,455.2h1.7v1.4h-1.7zM852.7,455.2h1.3v1.0h-1.3zM862.7,451.8h2.2v1.8h-2.2zM863.7,426.5h0.8v0.6h-0.8zM915.3,488.4h0.8v0.6h-0.8zM871.4,410.3h1.1v0.9h-1.1zM925.0,478.3h1.3v1.0h-1.3zM847.6,446.1h1.7v1.4h-1.7zM897.6,441.2h1.1v0.9h-1.1zM873.1,464.5h1.9v1.5h-1.9zM854.4,458.1h1.9v1.5h-1.9zM915.7,463.4h1.4v1.2h-1.4zM865.4,413.8h1.4v1.2h-1.4zM870.8,472.5h1.9v1.5h-1.9zM851.8,471.3h1.1v0.9h-1.1zM856.0,455.9h0.9v0.8h-0.9zM876.0,447.8h0.8v0.6h-0.8zM864.4,463.2h0.8v0.6h-0.8zM868.5,466.6h1.3v1.0h-1.3zM919.8,484.4h0.8v0.6h-0.8zM901.5,487.5h0.9v0.8h-0.9zM913.3,480.8h1.4v1.2h-1.4z" fill-opacity="0.45"/><path d="M886.1,409.7h1.1v0.9h-1.1zM877.1,412.9h1.1v0.9h-1.1zM869.1,414.4h0.8v0.6h-0.8zM871.6,416.6h1.7v1.4h-1.7zM883.0,412.4h2.2v1.8h-2.2zM875.0,417.2h2.2v1.8h-2.2zM882.6,420.6h1.7v1.4h-1.7zM880.2,419.5h2.2v1.8h-2.2zM874.1,421.5h1.3v1.0h-1.3zM871.8,422.5h1.3v1.0h-1.3zM872.7,426.0h1.3v1.0h-1.3zM885.6,418.4h1.3v1.0h-1.3zM872.3,422.9h0.9v0.8h-0.9zM871.6,424.7h2.2v1.8h-2.2zM885.4,418.3h0.9v0.8h-0.9zM884.1,418.8h1.1v0.9h-1.1zM878.1,423.9h0.8v0.6h-0.8zM884.8,420.6h1.1v0.9h-1.1zM883.4,419.0h0.9v0.8h-0.9zM877.1,426.3h1.9v1.5h-1.9zM887.7,420.2h1.4v1.2h-1.4zM863.4,431.8h1.7v1.4h-1.7zM857.7,430.5h1.3v1.0h-1.3zM857.9,430.1h1.1v0.9h-1.1zM861.0,430.3h0.9v0.8h-0.9zM867.5,430.9h1.3v1.0h-1.3zM861.1,435.3h1.4v1.2h-1.4zM868.0,430.0h0.9v0.8h-0.9zM863.2,430.6h1.4v1.2h-1.4zM868.6,430.0h0.8v0.6h-0.8zM876.6,437.4h1.1v0.9h-1.1zM892.7,429.9h1.4v1.2h-1.4zM883.7,435.5h1.3v1.0h-1.3zM881.9,437.0h1.3v1.0h-1.3zM900.7,427.0h2.2v1.8h-2.2zM881.9,436.1h2.2v1.8h-2.2zM896.1,431.1h1.3v1.0h-1.3zM883.8,435.5h1.3v1.0h-1.3zM890.5,435.8h1.1v0.9h-1.1zM889.3,433.7h1.3v1.0h-1.3zM889.1,433.6h0.8v0.6h-0.8zM895.0,431.3h0.9v0.8h-0.9zM884.9,434.6h0.8v0.6h-0.8zM884.7,438.0h1.1v0.9h-1.1zM897.6,432.2h0.8v0.6h-0.8zM900.6,429.8h1.7v1.4h-1.7zM897.0,431.2h2.2v1.8h-2.2zM887.9,436.7h0.8v0.6h-0.8zM884.8,446.2h1.9v1.5h-1.9zM899.3,441.1h0.9v0.8h-0.9zM894.6,443.1h0.8v0.6h-0.8zM895.8,442.1h1.9v1.5h-1.9zM892.9,443.0h1.7v1.4h-1.7zM897.1,436.2h1.1v0.9h-1.1zM881.7,445.5h1.1v0.9h-1.1zM878.1,451.0h1.4v1.2h-1.4zM882.8,446.0h1.7v1.4h-1.7zM882.2,446.2h1.9v1.5h-1.9zM891.1,449.9h1.7v1.4h-1.7zM894.7,444.0h1.3v1.0h-1.3zM879.3,449.4h0.9v0.8h-0.9zM892.4,445.8h1.9v1.5h-1.9zM855.7,446.1h0.9v0.8h-0.9zM860.5,451.0h1.7v1.4h-1.7zM862.0,445.9h0.8v0.6h-0.8zM873.1,451.4h1.7v1.4h-1.7zM847.5,448.4h1.3v1.0h-1.3zM859.7,453.2h0.9v0.8h-0.9zM873.1,450.7h1.4v1.2h-1.4zM853.6,446.9h1.9v1.5h-1.9zM855.9,446.3h0.9v0.8h-0.9zM855.0,456.8h0.9v0.8h-0.9zM860.5,451.7h0.8v0.6h-0.8zM866.5,452.7h1.3v1.0h-1.3zM871.0,453.2h0.8v0.6h-0.8zM860.1,450.3h1.9v1.5h-1.9zM858.6,450.4h1.3v1.0h-1.3zM866.8,452.5h1.7v1.4h-1.7zM867.7,450.8h1.9v1.5h-1.9zM891.2,454.1h1.7v1.4h-1.7zM899.8,452.1h1.4v1.2h-1.4zM902.0,453.6h1.4v1.2h-1.4zM890.5,456.9h0.9v0.8h-0.9zM889.2,459.7h1.9v1.5h-1.9zM908.5,453.6h0.9v0.8h-0.9zM884.6,456.8h0.9v0.8h-0.9zM895.3,452.9h1.9v1.5h-1.9zM886.2,460.9h2.2v1.8h-2.2zM877.6,460.9h1.1v0.9h-1.1zM887.5,459.3h1.7v1.4h-1.7zM891.9,456.2h1.3v1.0h-1.3zM891.8,457.1h0.8v0.6h-0.8zM896.3,456.1h0.9v0.8h-0.9zM898.4,451.8h0.8v0.6h-0.8zM898.6,455.7h2.2v1.8h-2.2zM893.8,458.7h0.9v0.8h-0.9zM894.9,454.8h1.4v1.2h-1.4zM891.0,459.8h2.2v1.8h-2.2zM886.9,459.2h0.9v0.8h-0.9zM899.8,454.0h1.1v0.9h-1.1zM897.2,454.5h2.2v1.8h-2.2zM843.3,456.6h0.9v0.8h-0.9zM861.6,462.4h1.7v1.4h-1.7zM850.9,455.4h1.1v0.9h-1.1zM842.8,458.4h0.8v0.6h-0.8zM857.1,461.2h2.2v1.8h-2.2zM849.6,456.5h1.7v1.4h-1.7zM851.7,458.6h1.9v1.5h-1.9zM860.7,461.0h1.7v1.4h-1.7zM848.2,456.5h1.4v1.2h-1.4zM858.3,456.5h1.3v1.0h-1.3zM840.6,451.2h1.4v1.2h-1.4zM875.0,466.3h1.1v0.9h-1.1zM848.0,457.8h0.9v0.8h-0.9zM845.6,450.2h1.3v1.0h-1.3zM864.5,466.7h1.3v1.0h-1.3zM875.2,471.6h1.3v1.0h-1.3zM849.4,462.9h0.8v0.6h-0.8zM877.1,473.1h1.7v1.4h-1.7zM852.8,462.8h1.4v1.2h-1.4zM871.4,471.8h0.8v0.6h-0.8zM847.7,462.5h1.7v1.4h-1.7zM849.0,461.8h0.9v0.8h-0.9zM878.7,473.3h1.7v1.4h-1.7zM864.4,469.7h2.2v1.8h-2.2zM862.4,470.4h1.3v1.0h-1.3zM855.7,460.8h2.2v1.8h-2.2zM858.4,460.9h0.8v0.6h-0.8zM856.9,470.6h1.9v1.5h-1.9zM873.1,471.9h0.8v0.6h-0.8zM916.7,460.5h0.8v0.6h-0.8zM896.8,474.0h0.9v0.8h-0.9zM904.2,469.7h0.8v0.6h-0.8zM907.5,460.4h1.1v0.9h-1.1zM893.4,470.5h1.9v1.5h-1.9zM902.2,469.1h1.3v1.0h-1.3zM881.2,475.0h0.8v0.6h-0.8zM918.5,458.0h1.7v1.4h-1.7zM911.3,461.8h1.7v1.4h-1.7zM903.8,466.9h1.4v1.2h-1.4zM912.1,465.3h1.4v1.2h-1.4zM896.7,473.4h1.1v0.9h-1.1zM884.3,476.4h1.3v1.0h-1.3zM889.0,474.4h1.9v1.5h-1.9zM921.6,475.6h1.9v1.5h-1.9zM913.3,473.9h2.2v1.8h-2.2zM926.8,476.9h1.3v1.0h-1.3zM881.6,481.2h1.1v0.9h-1.1zM911.4,475.4h1.9v1.5h-1.9zM912.5,472.8h1.9v1.5h-1.9zM896.1,481.6h0.8v0.6h-0.8zM916.8,475.2h1.4v1.2h-1.4zM884.1,482.2h2.2v1.8h-2.2zM928.5,468.3h0.8v0.6h-0.8zM920.6,473.4h0.8v0.6h-0.8zM898.1,477.1h1.3v1.0h-1.3zM904.3,476.8h1.1v0.9h-1.1zM897.0,480.0h2.2v1.8h-2.2zM921.8,470.6h1.4v1.2h-1.4zM900.6,479.7h1.7v1.4h-1.7zM910.8,477.4h2.2v1.8h-2.2zM913.6,471.6h0.8v0.6h-0.8zM913.9,476.1h0.9v0.8h-0.9zM913.4,475.3h1.1v0.9h-1.1zM897.1,482.3h1.7v1.4h-1.7zM905.1,479.8h0.8v0.6h-0.8zM893.5,485.9h1.3v1.0h-1.3zM910.9,474.4h0.9v0.8h-0.9zM904.7,479.1h1.1v0.9h-1.1zM904.1,479.4h0.9v0.8h-0.9zM903.9,481.7h1.9v1.5h-1.9zM856.7,489.6h0.8v0.6h-0.8zM884.6,424.9h1.7v1.4h-1.7zM883.9,426.3h1.1v0.9h-1.1zM883.5,423.5h0.8v0.6h-0.8zM885.8,425.1h1.1v0.9h-1.1zM884.5,426.2h0.8v0.6h-0.8zM882.5,425.9h1.7v1.4h-1.7zM882.5,488.2h0.8v0.6h-0.8zM878.9,490.2h0.8v0.6h-0.8zM878.1,489.1h2.2v1.8h-2.2zM876.7,490.7h0.9v0.8h-0.9zM879.5,491.3h0.9v0.8h-0.9zM876.5,489.4h1.9v1.5h-1.9zM897.3,455.9h1.4v1.2h-1.4zM895.2,452.8h0.9v0.8h-0.9zM893.1,449.8h1.3v1.0h-1.3zM897.0,454.0h1.1v0.9h-1.1zM846.4,476.8h1.1v0.9h-1.1zM850.5,473.9h1.9v1.5h-1.9zM847.3,475.5h1.7v1.4h-1.7zM848.2,473.7h1.4v1.2h-1.4zM850.1,474.9h1.1v0.9h-1.1zM849.0,475.9h1.9v1.5h-1.9zM880.1,468.2h1.7v1.4h-1.7zM883.4,468.1h0.8v0.6h-0.8zM884.3,469.1h1.4v1.2h-1.4zM879.3,464.9h1.3v1.0h-1.3zM887.2,470.9h2.2v1.8h-2.2zM886.3,460.0h1.1v0.9h-1.1zM890.4,459.9h0.8v0.6h-0.8zM888.8,460.5h1.1v0.9h-1.1zM887.4,462.9h0.8v0.6h-0.8zM894.1,461.8h2.2v1.8h-2.2zM858.8,467.8h1.9v1.5h-1.9zM859.7,468.4h0.9v0.8h-0.9zM861.1,467.5h0.8v0.6h-0.8zM859.3,468.2h0.9v0.8h-0.9zM857.5,466.6h0.8v0.6h-0.8zM869.0,487.1h1.3v1.0h-1.3zM874.0,487.3h0.9v0.8h-0.9zM870.0,489.7h1.4v1.2h-1.4zM870.2,488.6h1.7v1.4h-1.7zM869.4,489.0h1.4v1.2h-1.4zM873.2,487.4h1.4v1.2h-1.4zM872.1,489.6h1.1v0.9h-1.1zM874.7,480.3h1.4v1.2h-1.4zM873.2,480.6h1.7v1.4h-1.7zM876.6,482.8h0.8v0.6h-0.8zM895.6,483.3h0.8v0.6h-0.8zM891.8,483.8h1.7v1.4h-1.7zM894.5,481.6h0.9v0.8h-0.9zM891.2,482.9h1.4v1.2h-1.4zM868.2,457.0h0.8v0.6h-0.8zM867.6,456.6h0.9v0.8h-0.9zM911.2,475.5h1.1v0.9h-1.1zM911.9,475.5h0.8v0.6h-0.8zM912.7,475.8h1.3v1.0h-1.3zM916.0,474.8h2.2v1.8h-2.2zM913.4,476.0h2.2v1.8h-2.2zM913.9,478.2h1.9v1.5h-1.9zM898.0,490.7h0.9v0.8h-0.9zM899.1,488.5h1.3v1.0h-1.3zM902.1,486.4h1.4v1.2h-1.4zM898.3,489.2h1.3v1.0h-1.3zM901.6,490.1h1.9v1.5h-1.9zM876.3,431.9h0.8v0.6h-0.8zM877.7,431.2h1.7v1.4h-1.7zM875.4,428.3h1.9v1.5h-1.9zM870.5,432.1h2.2v1.8h-2.2zM848.3,455.7h1.9v1.5h-1.9zM853.2,455.1h0.8v0.6h-0.8zM856.7,455.6h0.8v0.6h-0.8zM857.8,455.4h0.8v0.6h-0.8zM850.5,459.1h1.4v1.2h-1.4zM849.0,456.3h1.3v1.0h-1.3zM877.3,429.4h2.2v1.8h-2.2zM876.6,427.3h1.1v0.9h-1.1zM877.6,429.6h0.9v0.8h-0.9zM874.3,428.5h1.3v1.0h-1.3zM879.6,427.2h1.7v1.4h-1.7zM884.7,430.4h0.9v0.8h-0.9zM882.0,430.2h0.9v0.8h-0.9zM888.6,439.5h0.9v0.8h-0.9zM883.2,439.9h2.2v1.8h-2.2zM887.6,438.0h1.3v1.0h-1.3zM886.7,441.1h0.8v0.6h-0.8zM879.0,465.6h1.7v1.4h-1.7zM879.9,464.1h2.2v1.8h-2.2zM880.5,463.4h0.8v0.6h-0.8zM880.8,464.6h1.3v1.0h-1.3zM886.9,472.9h1.1v0.9h-1.1zM881.7,474.4h1.3v1.0h-1.3zM885.6,473.1h1.4v1.2h-1.4zM885.9,472.9h2.2v1.8h-2.2zM881.3,474.5h1.3v1.0h-1.3zM878.2,432.5h1.1v0.9h-1.1zM874.3,432.7h1.4v1.2h-1.4zM876.2,431.1h1.7v1.4h-1.7zM857.1,458.6h1.4v1.2h-1.4zM855.8,462.5h1.7v1.4h-1.7zM857.7,453.6h1.4v1.2h-1.4zM859.3,453.9h1.3v1.0h-1.3zM860.8,465.1h1.9v1.5h-1.9zM859.8,467.2h0.9v0.8h-0.9zM859.0,464.7h0.9v0.8h-0.9zM862.8,467.0h0.9v0.8h-0.9zM867.1,475.4h0.9v0.8h-0.9zM868.0,475.8h1.9v1.5h-1.9zM865.9,475.9h1.7v1.4h-1.7zM865.2,474.9h1.9v1.5h-1.9zM871.4,459.3h1.9v1.5h-1.9zM870.3,461.5h1.7v1.4h-1.7zM869.2,461.2h1.7v1.4h-1.7zM876.8,437.3h2.2v1.8h-2.2zM873.4,435.6h1.9v1.5h-1.9zM879.7,439.3h0.9v0.8h-0.9zM845.6,487.0h0.8v0.6h-0.8zM846.3,487.7h0.8v0.6h-0.8zM851.4,484.5h0.9v0.8h-0.9zM897.0,469.0h0.8v0.6h-0.8zM902.4,470.8h1.7v1.4h-1.7zM876.2,436.2h1.3v1.0h-1.3zM872.4,437.1h1.9v1.5h-1.9zM869.7,438.5h0.9v0.8h-0.9zM874.8,438.4h1.3v1.0h-1.3zM872.7,437.8h1.7v1.4h-1.7zM872.7,454.6h0.9v0.8h-0.9zM869.4,455.4h1.9v1.5h-1.9zM867.9,457.2h1.7v1.4h-1.7zM871.1,457.6h1.7v1.4h-1.7zM870.1,455.0h1.9v1.5h-1.9zM868.2,455.6h0.9v0.8h-0.9zM884.9,452.9h0.9v0.8h-0.9zM882.9,447.0h2.2v1.8h-2.2zM882.2,453.8h1.4v1.2h-1.4zM887.6,454.5h1.4v1.2h-1.4zM884.2,453.9h0.8v0.6h-0.8zM880.7,453.0h1.7v1.4h-1.7zM880.7,453.2h0.8v0.6h-0.8zM881.3,451.8h1.3v1.0h-1.3zM895.6,473.6h1.9v1.5h-1.9zM901.7,476.5h1.3v1.0h-1.3zM901.0,474.8h1.9v1.5h-1.9zM863.3,426.3h1.9v1.5h-1.9zM861.4,427.6h1.9v1.5h-1.9zM864.4,425.2h1.9v1.5h-1.9zM912.5,474.0h1.4v1.2h-1.4zM911.5,476.8h1.1v0.9h-1.1zM908.1,475.2h1.1v0.9h-1.1zM863.6,461.1h1.9v1.5h-1.9zM861.1,459.0h0.8v0.6h-0.8zM864.5,460.9h1.3v1.0h-1.3zM863.3,456.6h1.1v0.9h-1.1zM869.2,466.4h0.8v0.6h-0.8zM869.1,462.3h2.2v1.8h-2.2zM872.3,463.1h0.9v0.8h-0.9zM881.3,449.3h0.8v0.6h-0.8zM882.5,449.4h0.9v0.8h-0.9zM878.9,449.7h1.4v1.2h-1.4zM880.5,450.6h1.4v1.2h-1.4zM882.3,451.3h2.2v1.8h-2.2zM881.9,450.1h0.9v0.8h-0.9zM857.7,464.7h1.7v1.4h-1.7zM853.6,465.7h0.8v0.6h-0.8zM857.6,465.1h1.7v1.4h-1.7zM856.0,467.8h0.9v0.8h-0.9zM860.2,466.2h2.2v1.8h-2.2zM875.1,487.3h1.9v1.5h-1.9zM875.7,486.4h2.2v1.8h-2.2zM881.8,486.4h0.8v0.6h-0.8zM875.4,485.6h1.7v1.4h-1.7zM871.8,484.6h1.7v1.4h-1.7zM850.0,481.1h0.8v0.6h-0.8zM849.1,480.1h0.8v0.6h-0.8zM851.8,478.7h0.9v0.8h-0.9zM848.5,480.2h0.8v0.6h-0.8zM847.8,481.7h0.8v0.6h-0.8zM850.3,480.4h2.2v1.8h-2.2zM849.7,480.8h1.7v1.4h-1.7zM852.4,480.3h0.8v0.6h-0.8zM849.5,480.6h0.8v0.6h-0.8zM851.1,481.0h1.9v1.5h-1.9zM883.9,474.0h2.2v1.8h-2.2zM886.7,470.5h0.8v0.6h-0.8zM886.4,474.3h1.3v1.0h-1.3zM859.0,471.7h1.7v1.4h-1.7zM853.1,476.3h1.1v0.9h-1.1zM858.7,473.2h1.7v1.4h-1.7zM855.5,472.0h1.4v1.2h-1.4zM867.1,430.7h1.4v1.2h-1.4zM861.3,429.0h1.3v1.0h-1.3zM862.6,429.6h1.1v0.9h-1.1zM864.0,428.7h2.2v1.8h-2.2zM914.0,487.9h0.9v0.8h-0.9zM913.7,487.2h1.7v1.4h-1.7zM913.6,485.6h2.2v1.8h-2.2zM909.5,485.7h2.2v1.8h-2.2zM882.6,463.8h1.4v1.2h-1.4zM874.2,457.1h1.3v1.0h-1.3zM884.1,427.1h1.7v1.4h-1.7zM859.3,481.2h1.3v1.0h-1.3zM881.7,470.9h1.7v1.4h-1.7zM879.3,444.1h2.2v1.8h-2.2zM910.0,478.7h1.3v1.0h-1.3zM882.1,487.1h1.9v1.5h-1.9zM859.7,476.3h1.3v1.0h-1.3zM880.9,424.4h1.3v1.0h-1.3zM855.2,463.0h1.9v1.5h-1.9zM914.4,486.0h0.8v0.6h-0.8zM867.5,423.1h1.4v1.2h-1.4zM898.4,468.5h0.8v0.6h-0.8zM885.1,469.4h1.9v1.5h-1.9zM903.8,478.8h1.1v0.9h-1.1zM847.9,461.2h2.2v1.8h-2.2zM897.0,455.4h1.7v1.4h-1.7zM912.9,478.8h2.2v1.8h-2.2zM840.8,480.1h1.7v1.4h-1.7zM885.5,484.9h0.8v0.6h-0.8zM871.7,479.6h1.4v1.2h-1.4zM878.5,477.5h0.8v0.6h-0.8zM857.6,422.7h1.1v0.9h-1.1zM852.2,467.1h1.3v1.0h-1.3zM866.2,471.4h1.1v0.9h-1.1zM857.6,427.3h1.7v1.4h-1.7zM894.2,451.2h1.3v1.0h-1.3zM896.4,470.4h0.8v0.6h-0.8zM909.5,457.6h1.3v1.0h-1.3zM906.9,474.7h1.3v1.0h-1.3zM876.7,449.4h1.4v1.2h-1.4zM893.8,441.4h0.8v0.6h-0.8zM872.0,464.5h1.7v1.4h-1.7zM855.6,439.6h1.3v1.0h-1.3zM883.2,439.0h1.3v1.0h-1.3zM837.9,484.4h2.2v1.8h-2.2zM835.2,483.1h1.3v1.0h-1.3zM886.0,481.8h0.9v0.8h-0.9zM904.6,482.9h1.3v1.0h-1.3zM873.4,438.4h1.4v1.2h-1.4zM860.9,424.2h1.1v0.9h-1.1zM880.4,435.1h1.4v1.2h-1.4zM852.2,455.3h1.4v1.2h-1.4zM849.6,468.6h1.9v1.5h-1.9zM852.7,437.5h0.8v0.6h-0.8zM855.8,433.2h1.7v1.4h-1.7zM907.9,475.4h1.7v1.4h-1.7zM888.8,431.7h1.1v0.9h-1.1zM877.5,435.6h0.8v0.6h-0.8zM858.2,457.5h1.4v1.2h-1.4zM836.5,481.2h0.9v0.8h-0.9zM884.5,487.5h0.8v0.6h-0.8zM855.5,486.2h2.2v1.8h-2.2zM915.9,463.8h1.7v1.4h-1.7zM893.6,471.8h1.3v1.0h-1.3zM877.1,420.1h1.9v1.5h-1.9zM879.2,436.2h1.9v1.5h-1.9zM891.4,476.0h1.7v1.4h-1.7zM884.2,421.2h1.3v1.0h-1.3zM863.2,445.4h0.9v0.8h-0.9zM853.3,458.8h0.9v0.8h-0.9zM870.5,414.4h1.1v0.9h-1.1zM875.2,413.3h2.2v1.8h-2.2zM882.8,438.5h0.8v0.6h-0.8zM863.2,422.4h0.9v0.8h-0.9zM858.1,421.5h1.1v0.9h-1.1zM867.1,418.8h0.8v0.6h-0.8zM873.5,443.4h1.7v1.4h-1.7zM899.2,475.7h1.1v0.9h-1.1zM919.6,483.7h0.9v0.8h-0.9zM919.2,488.3h0.9v0.8h-0.9zM886.7,467.5h0.8v0.6h-0.8zM861.3,447.1h0.8v0.6h-0.8zM857.0,483.5h0.8v0.6h-0.8zM894.9,437.6h2.2v1.8h-2.2zM875.3,485.1h2.2v1.8h-2.2zM854.6,482.7h0.8v0.6h-0.8zM881.6,460.4h1.3v1.0h-1.3zM872.2,452.0h0.8v0.6h-0.8zM857.6,464.9h0.9v0.8h-0.9zM878.6,449.5h1.3v1.0h-1.3zM898.3,441.7h1.3v1.0h-1.3zM913.0,468.9h1.3v1.0h-1.3zM851.7,459.8h1.1v0.9h-1.1zM873.5,478.2h1.7v1.4h-1.7zM834.9,487.7h1.4v1.2h-1.4zM842.2,464.1h1.3v1.0h-1.3zM913.7,483.4h0.8v0.6h-0.8zM878.3,428.2h1.4v1.2h-1.4zM871.1,456.7h1.4v1.2h-1.4zM876.7,472.6h1.4v1.2h-1.4zM911.6,468.6h1.4v1.2h-1.4zM884.6,423.1h1.4v1.2h-1.4zM878.9,482.6h1.3v1.0h-1.3zM887.5,432.1h1.4v1.2h-1.4zM876.5,436.2h1.3v1.0h-1.3zM859.5,428.9h0.8v0.6h-0.8zM838.7,488.5h1.4v1.2h-1.4zM902.7,450.7h0.8v0.6h-0.8zM858.4,431.6h1.4v1.2h-1.4zM880.6,436.0h0.9v0.8h-0.9zM855.8,459.3h1.3v1.0h-1.3zM866.2,461.1h1.1v0.9h-1.1zM894.7,462.9h1.4v1.2h-1.4zM861.0,445.7h1.9v1.5h-1.9zM879.8,465.5h1.4v1.2h-1.4zM860.7,454.6h0.8v0.6h-0.8zM855.2,448.3h1.9v1.5h-1.9zM859.5,485.3h0.8v0.6h-0.8zM876.7,427.4h0.8v0.6h-0.8zM858.2,477.3h1.9v1.5h-1.9zM878.9,462.7h1.9v1.5h-1.9zM861.7,470.4h1.7v1.4h-1.7zM881.8,449.9h1.1v0.9h-1.1zM891.3,436.2h1.1v0.9h-1.1zM876.8,461.6h1.4v1.2h-1.4zM848.6,473.9h1.4v1.2h-1.4zM866.3,438.6h1.7v1.4h-1.7zM888.4,434.4h0.9v0.8h-0.9zM853.9,463.2h1.7v1.4h-1.7zM854.6,436.7h2.2v1.8h-2.2zM923.6,484.9h1.3v1.0h-1.3zM863.4,424.5h1.9v1.5h-1.9zM888.8,488.6h1.4v1.2h-1.4zM910.0,472.9h0.9v0.8h-0.9zM861.6,426.8h0.9v0.8h-0.9zM902.6,451.9h1.4v1.2h-1.4zM862.8,433.4h0.9v0.8h-0.9z" fill-opacity="0.7"/><path d="M872.6,416.5h1.1v0.9h-1.1zM880.0,415.6h1.9v1.5h-1.9zM877.5,416.8h1.1v0.9h-1.1zM877.7,412.5h1.9v1.5h-1.9zM875.6,418.3h2.2v1.8h-2.2zM880.7,415.0h0.8v0.6h-0.8zM875.1,415.7h1.7v1.4h-1.7zM872.8,416.5h0.9v0.8h-0.9zM880.9,415.3h1.3v1.0h-1.3zM882.0,416.1h1.1v0.9h-1.1zM879.3,414.9h1.3v1.0h-1.3zM873.5,416.1h1.4v1.2h-1.4zM880.4,414.2h0.8v0.6h-0.8zM882.9,414.9h1.1v0.9h-1.1zM883.7,421.6h1.7v1.4h-1.7zM881.5,419.1h1.7v1.4h-1.7zM882.3,418.0h1.9v1.5h-1.9zM879.2,420.6h1.3v1.0h-1.3zM878.4,420.6h1.7v1.4h-1.7zM880.7,421.9h1.7v1.4h-1.7zM881.5,419.7h1.7v1.4h-1.7zM883.3,420.8h1.3v1.0h-1.3zM879.3,419.7h1.1v0.9h-1.1zM877.7,419.0h0.9v0.8h-0.9zM882.0,424.0h1.3v1.0h-1.3zM890.2,420.2h1.7v1.4h-1.7zM877.9,422.6h1.3v1.0h-1.3zM883.2,421.3h2.2v1.8h-2.2zM882.6,420.8h1.9v1.5h-1.9zM879.1,420.2h0.8v0.6h-0.8zM876.4,418.4h0.8v0.6h-0.8zM890.9,418.8h1.7v1.4h-1.7zM885.7,421.1h1.1v0.9h-1.1zM876.0,423.3h1.1v0.9h-1.1zM881.7,423.4h1.7v1.4h-1.7zM886.3,424.9h1.9v1.5h-1.9zM876.6,423.3h1.7v1.4h-1.7zM883.5,423.6h0.8v0.6h-0.8zM879.2,426.6h1.3v1.0h-1.3zM885.4,423.6h1.4v1.2h-1.4zM881.0,420.7h1.4v1.2h-1.4zM884.4,420.7h1.3v1.0h-1.3zM872.4,424.5h1.4v1.2h-1.4zM883.2,422.4h0.8v0.6h-0.8zM873.8,423.7h0.8v0.6h-0.8zM886.7,422.9h1.1v0.9h-1.1zM877.4,422.7h1.3v1.0h-1.3zM864.2,428.8h0.9v0.8h-0.9zM859.0,429.9h0.8v0.6h-0.8zM860.6,429.6h0.8v0.6h-0.8zM869.0,433.4h1.9v1.5h-1.9zM861.5,431.8h1.1v0.9h-1.1zM859.6,428.5h0.8v0.6h-0.8zM852.0,431.6h1.9v1.5h-1.9zM863.0,430.0h0.9v0.8h-0.9zM860.3,431.4h0.9v0.8h-0.9zM854.7,428.1h2.2v1.8h-2.2zM860.2,427.6h0.8v0.6h-0.8zM854.1,429.2h1.4v1.2h-1.4zM860.6,426.8h0.8v0.6h-0.8zM858.1,430.1h0.8v0.6h-0.8zM856.6,421.9h1.4v1.2h-1.4zM875.5,435.3h1.4v1.2h-1.4zM882.5,436.6h1.3v1.0h-1.3zM887.4,436.8h1.1v0.9h-1.1zM883.8,432.6h0.8v0.6h-0.8zM883.4,428.6h1.3v1.0h-1.3zM887.1,429.9h0.9v0.8h-0.9zM882.0,432.6h0.8v0.6h-0.8zM879.7,434.2h1.3v1.0h-1.3zM881.4,433.6h0.8v0.6h-0.8zM879.1,435.8h1.4v1.2h-1.4zM875.6,436.7h1.1v0.9h-1.1zM882.4,433.9h1.4v1.2h-1.4zM891.4,428.7h1.9v1.5h-1.9zM893.4,429.5h0.9v0.8h-0.9zM889.9,428.2h1.4v1.2h-1.4zM893.3,430.4h0.8v0.6h-0.8zM876.5,436.0h1.4v1.2h-1.4zM881.2,435.9h1.1v0.9h-1.1zM889.7,434.4h1.1v0.9h-1.1zM896.0,436.6h1.1v0.9h-1.1zM878.2,437.3h0.8v0.6h-0.8zM877.3,440.9h1.1v0.9h-1.1zM895.6,436.4h1.3v1.0h-1.3zM880.8,438.0h2.2v1.8h-2.2zM881.6,436.1h0.8v0.6h-0.8zM887.7,435.3h2.2v1.8h-2.2zM890.9,437.6h1.4v1.2h-1.4zM881.9,437.3h1.9v1.5h-1.9zM880.9,439.8h1.1v0.9h-1.1zM886.5,437.3h1.3v1.0h-1.3zM892.9,433.8h0.8v0.6h-0.8zM880.9,439.9h1.7v1.4h-1.7zM880.7,440.9h2.2v1.8h-2.2zM882.6,438.9h1.4v1.2h-1.4zM875.9,440.2h1.1v0.9h-1.1zM883.1,440.3h1.3v1.0h-1.3zM899.6,431.7h0.9v0.8h-0.9zM898.4,430.8h1.3v1.0h-1.3zM893.3,431.6h1.7v1.4h-1.7zM886.2,439.0h1.4v1.2h-1.4zM887.7,436.4h1.1v0.9h-1.1zM895.2,440.6h1.9v1.5h-1.9zM879.5,445.1h2.2v1.8h-2.2zM898.8,442.0h0.9v0.8h-0.9zM894.5,436.4h1.1v0.9h-1.1zM894.9,436.5h0.9v0.8h-0.9zM886.7,442.7h1.7v1.4h-1.7zM888.1,441.9h0.9v0.8h-0.9zM877.3,444.4h1.4v1.2h-1.4zM891.0,443.1h1.9v1.5h-1.9zM892.3,441.3h0.9v0.8h-0.9zM882.7,443.3h2.2v1.8h-2.2zM882.9,443.1h2.2v1.8h-2.2zM898.1,440.6h1.7v1.4h-1.7zM890.4,443.2h0.8v0.6h-0.8zM901.4,435.6h1.1v0.9h-1.1zM891.4,441.2h1.4v1.2h-1.4zM903.3,437.5h0.8v0.6h-0.8zM891.5,441.5h0.8v0.6h-0.8zM894.0,440.5h1.7v1.4h-1.7zM877.1,445.6h2.2v1.8h-2.2zM896.4,439.8h1.4v1.2h-1.4zM879.5,444.9h1.1v0.9h-1.1zM875.6,444.3h1.3v1.0h-1.3zM889.0,444.5h1.9v1.5h-1.9zM906.7,439.3h1.3v1.0h-1.3zM886.7,446.0h1.1v0.9h-1.1zM897.3,438.1h1.7v1.4h-1.7zM879.3,445.6h1.7v1.4h-1.7zM883.1,446.2h1.3v1.0h-1.3zM878.6,449.8h1.1v0.9h-1.1zM887.9,447.7h1.9v1.5h-1.9zM876.3,449.6h0.9v0.8h-0.9zM892.0,446.8h1.7v1.4h-1.7zM886.2,450.7h0.9v0.8h-0.9zM879.8,447.8h1.7v1.4h-1.7zM882.7,448.5h1.9v1.5h-1.9zM891.8,448.1h1.1v0.9h-1.1zM889.6,445.9h1.9v1.5h-1.9zM880.9,449.5h1.4v1.2h-1.4zM893.7,447.0h1.1v0.9h-1.1zM879.9,448.5h1.7v1.4h-1.7zM894.8,446.5h1.9v1.5h-1.9zM895.0,445.1h1.9v1.5h-1.9zM895.0,450.1h2.2v1.8h-2.2zM880.5,449.9h1.4v1.2h-1.4zM881.8,449.0h2.2v1.8h-2.2zM891.0,446.8h1.3v1.0h-1.3zM888.7,447.1h1.3v1.0h-1.3zM891.9,445.3h1.3v1.0h-1.3zM886.9,449.5h0.9v0.8h-0.9zM883.9,447.1h0.9v0.8h-0.9zM873.4,450.6h2.2v1.8h-2.2zM851.3,447.0h0.8v0.6h-0.8zM858.6,452.5h1.4v1.2h-1.4zM851.5,448.1h2.2v1.8h-2.2zM872.7,453.0h1.4v1.2h-1.4zM849.0,449.6h0.9v0.8h-0.9zM870.0,450.4h2.2v1.8h-2.2zM871.2,452.5h1.1v0.9h-1.1zM858.3,450.7h0.9v0.8h-0.9zM860.9,448.9h1.4v1.2h-1.4zM866.3,451.4h1.7v1.4h-1.7zM876.6,453.1h2.2v1.8h-2.2zM854.2,448.0h2.2v1.8h-2.2zM856.3,450.2h1.9v1.5h-1.9zM847.8,444.6h1.9v1.5h-1.9zM861.2,449.4h0.9v0.8h-0.9zM848.8,444.4h0.8v0.6h-0.8zM868.9,451.7h0.8v0.6h-0.8zM898.8,454.3h1.4v1.2h-1.4zM885.8,459.8h1.4v1.2h-1.4zM883.1,461.5h2.2v1.8h-2.2zM907.4,450.3h1.7v1.4h-1.7zM885.7,458.1h1.7v1.4h-1.7zM888.6,457.5h1.3v1.0h-1.3zM890.6,450.5h2.2v1.8h-2.2zM882.2,458.2h1.4v1.2h-1.4zM893.6,455.1h1.1v0.9h-1.1zM890.0,458.4h1.7v1.4h-1.7zM898.7,454.7h0.8v0.6h-0.8zM902.9,451.9h1.9v1.5h-1.9zM892.6,456.9h2.2v1.8h-2.2zM893.0,455.5h1.9v1.5h-1.9zM898.6,456.6h1.7v1.4h-1.7zM895.3,453.5h0.8v0.6h-0.8zM897.4,451.0h0.8v0.6h-0.8zM890.6,457.4h1.1v0.9h-1.1zM901.6,457.5h0.8v0.6h-0.8zM904.0,452.4h1.7v1.4h-1.7zM896.8,449.2h1.9v1.5h-1.9zM888.2,457.1h1.3v1.0h-1.3zM893.3,454.7h1.4v1.2h-1.4zM897.1,458.7h2.2v1.8h-2.2zM894.5,454.7h1.1v0.9h-1.1zM884.3,457.1h1.9v1.5h-1.9zM892.4,452.4h2.2v1.8h-2.2zM890.7,456.3h1.7v1.4h-1.7zM903.9,453.3h2.2v1.8h-2.2zM878.9,459.1h1.3v1.0h-1.3zM901.3,452.7h1.9v1.5h-1.9zM895.3,456.1h2.2v1.8h-2.2zM881.9,459.6h1.7v1.4h-1.7zM883.0,462.4h1.1v0.9h-1.1zM896.3,457.3h0.9v0.8h-0.9zM897.0,457.7h1.7v1.4h-1.7zM879.1,463.3h1.9v1.5h-1.9zM889.2,456.7h1.3v1.0h-1.3zM887.5,462.7h1.9v1.5h-1.9zM884.2,463.2h1.1v0.9h-1.1zM897.4,455.1h1.7v1.4h-1.7zM883.0,458.3h0.8v0.6h-0.8zM894.4,452.3h1.1v0.9h-1.1zM893.4,458.4h1.4v1.2h-1.4zM882.9,464.1h1.9v1.5h-1.9zM905.8,453.9h1.4v1.2h-1.4zM895.3,448.7h1.1v0.9h-1.1zM897.8,454.0h1.4v1.2h-1.4zM904.0,456.7h1.3v1.0h-1.3zM893.0,457.1h1.4v1.2h-1.4zM894.6,456.3h0.9v0.8h-0.9zM888.5,457.2h1.1v0.9h-1.1zM886.1,457.7h1.9v1.5h-1.9zM904.5,449.2h1.3v1.0h-1.3zM886.3,461.9h1.1v0.9h-1.1zM892.5,463.0h1.7v1.4h-1.7zM884.5,462.0h1.4v1.2h-1.4zM854.5,460.1h1.1v0.9h-1.1zM839.3,448.3h0.8v0.6h-0.8zM869.3,465.0h1.9v1.5h-1.9zM873.0,467.8h1.1v0.9h-1.1zM849.3,456.4h1.3v1.0h-1.3zM860.3,463.4h1.7v1.4h-1.7zM859.6,459.9h0.9v0.8h-0.9zM847.0,452.1h1.4v1.2h-1.4zM874.0,464.9h1.4v1.2h-1.4zM847.2,457.9h1.1v0.9h-1.1zM860.8,462.9h1.4v1.2h-1.4zM855.6,459.5h2.2v1.8h-2.2zM860.4,460.3h1.1v0.9h-1.1zM869.3,464.4h1.3v1.0h-1.3zM871.3,466.3h0.8v0.6h-0.8zM864.1,459.5h0.9v0.8h-0.9zM860.8,459.9h1.4v1.2h-1.4zM842.4,455.7h1.4v1.2h-1.4zM864.0,466.5h1.3v1.0h-1.3zM871.0,463.1h0.8v0.6h-0.8zM868.9,463.7h1.9v1.5h-1.9zM846.4,455.6h0.8v0.6h-0.8zM861.0,463.0h2.2v1.8h-2.2zM860.7,462.7h0.9v0.8h-0.9zM859.0,462.0h1.7v1.4h-1.7zM861.4,462.9h1.3v1.0h-1.3zM850.8,458.0h0.8v0.6h-0.8zM849.8,457.6h1.4v1.2h-1.4zM869.2,463.8h2.2v1.8h-2.2zM855.2,458.0h2.2v1.8h-2.2zM855.0,460.9h1.7v1.4h-1.7zM877.7,472.9h1.7v1.4h-1.7zM851.7,457.3h1.3v1.0h-1.3zM877.8,473.1h0.9v0.8h-0.9zM850.6,462.3h1.4v1.2h-1.4zM859.1,465.0h1.7v1.4h-1.7zM858.2,463.7h0.9v0.8h-0.9zM853.7,462.9h0.8v0.6h-0.8zM863.9,470.4h1.7v1.4h-1.7zM867.4,470.0h1.4v1.2h-1.4zM877.0,472.7h1.7v1.4h-1.7zM872.0,469.2h0.9v0.8h-0.9zM857.1,466.1h1.9v1.5h-1.9zM852.3,461.8h0.8v0.6h-0.8zM866.8,467.4h1.7v1.4h-1.7zM871.2,470.7h0.8v0.6h-0.8zM862.1,467.4h1.1v0.9h-1.1zM856.6,464.4h1.9v1.5h-1.9zM859.9,465.3h1.7v1.4h-1.7zM865.7,470.4h1.1v0.9h-1.1zM848.9,457.5h1.7v1.4h-1.7zM865.2,465.5h2.2v1.8h-2.2zM868.0,468.1h1.7v1.4h-1.7zM862.9,467.4h1.1v0.9h-1.1zM852.0,461.4h1.1v0.9h-1.1zM872.2,472.0h1.9v1.5h-1.9zM860.6,467.7h2.2v1.8h-2.2zM875.5,473.0h1.4v1.2h-1.4zM895.9,472.9h2.2v1.8h-2.2zM911.7,467.5h2.2v1.8h-2.2zM905.3,467.1h0.9v0.8h-0.9zM883.6,474.6h1.4v1.2h-1.4zM915.0,464.4h1.7v1.4h-1.7zM892.4,473.0h2.2v1.8h-2.2zM915.8,461.0h0.8v0.6h-0.8zM906.1,465.9h0.8v0.6h-0.8zM883.3,474.8h0.8v0.6h-0.8zM907.8,464.8h0.9v0.8h-0.9zM884.8,476.5h1.9v1.5h-1.9zM907.6,468.5h0.8v0.6h-0.8zM884.8,472.7h1.9v1.5h-1.9zM914.4,462.3h1.3v1.0h-1.3zM902.9,468.7h2.2v1.8h-2.2zM912.1,468.8h1.7v1.4h-1.7zM894.1,470.9h1.9v1.5h-1.9zM909.5,467.2h1.9v1.5h-1.9zM915.9,461.2h0.9v0.8h-0.9zM908.7,469.3h1.3v1.0h-1.3zM896.0,470.1h1.3v1.0h-1.3zM892.4,470.5h1.4v1.2h-1.4zM892.1,472.4h1.3v1.0h-1.3zM895.0,470.0h1.4v1.2h-1.4zM894.9,480.3h0.8v0.6h-0.8zM898.1,479.3h1.4v1.2h-1.4zM910.3,475.4h0.9v0.8h-0.9zM905.5,476.3h1.7v1.4h-1.7zM909.4,480.6h1.1v0.9h-1.1zM905.9,476.4h1.1v0.9h-1.1zM915.5,475.5h2.2v1.8h-2.2zM924.1,477.0h1.4v1.2h-1.4zM925.4,471.5h1.1v0.9h-1.1zM915.3,481.4h1.9v1.5h-1.9zM887.2,482.7h1.3v1.0h-1.3zM927.7,471.2h0.9v0.8h-0.9zM917.5,476.0h1.3v1.0h-1.3zM890.5,481.3h1.1v0.9h-1.1zM914.3,471.6h1.3v1.0h-1.3zM916.5,475.4h1.4v1.2h-1.4zM918.2,474.3h1.4v1.2h-1.4zM897.7,479.3h0.8v0.6h-0.8zM905.0,477.5h1.1v0.9h-1.1zM901.8,479.3h1.1v0.9h-1.1zM914.3,470.9h1.1v0.9h-1.1zM886.1,481.2h1.3v1.0h-1.3zM894.1,481.6h0.9v0.8h-0.9zM917.2,470.4h0.8v0.6h-0.8zM900.5,480.3h1.4v1.2h-1.4zM908.4,477.5h0.8v0.6h-0.8zM898.8,478.7h1.4v1.2h-1.4zM927.7,470.8h1.7v1.4h-1.7zM884.8,481.4h0.8v0.6h-0.8zM891.1,480.3h0.9v0.8h-0.9zM908.7,478.3h1.7v1.4h-1.7zM914.4,477.7h1.7v1.4h-1.7zM921.4,476.3h0.8v0.6h-0.8zM900.7,481.7h1.1v0.9h-1.1zM900.5,482.4h0.8v0.6h-0.8zM900.5,485.3h1.7v1.4h-1.7zM894.5,488.4h1.7v1.4h-1.7zM886.6,486.2h1.3v1.0h-1.3zM917.0,473.7h0.8v0.6h-0.8zM904.2,479.6h1.9v1.5h-1.9zM896.7,483.5h0.8v0.6h-0.8zM915.1,473.8h1.3v1.0h-1.3zM897.4,482.1h1.7v1.4h-1.7zM903.3,480.1h2.2v1.8h-2.2zM882.8,485.5h1.4v1.2h-1.4zM896.4,484.5h1.9v1.5h-1.9zM900.9,480.7h1.7v1.4h-1.7zM911.6,477.2h1.4v1.2h-1.4zM903.3,480.6h1.7v1.4h-1.7zM900.5,484.2h1.3v1.0h-1.3zM890.7,484.1h0.8v0.6h-0.8zM907.0,474.3h2.2v1.8h-2.2zM891.5,485.0h1.4v1.2h-1.4zM894.5,483.8h2.2v1.8h-2.2zM895.0,481.8h1.3v1.0h-1.3zM896.9,482.7h1.4v1.2h-1.4zM914.7,474.5h1.9v1.5h-1.9zM897.0,482.3h2.2v1.8h-2.2zM886.6,484.5h2.2v1.8h-2.2zM908.7,474.1h1.4v1.2h-1.4zM898.4,480.5h1.4v1.2h-1.4zM888.3,487.4h1.4v1.2h-1.4zM913.5,476.4h1.7v1.4h-1.7zM914.3,481.6h1.9v1.5h-1.9zM898.1,481.8h1.1v0.9h-1.1zM911.8,478.9h2.2v1.8h-2.2zM903.9,482.3h1.9v1.5h-1.9zM899.2,483.6h1.7v1.4h-1.7zM913.3,479.0h1.7v1.4h-1.7zM898.1,482.0h0.8v0.6h-0.8zM855.8,491.1h0.8v0.6h-0.8zM854.8,488.0h1.9v1.5h-1.9zM856.9,489.7h1.1v0.9h-1.1zM857.4,487.2h1.9v1.5h-1.9zM856.9,487.5h0.8v0.6h-0.8zM858.5,487.1h2.2v1.8h-2.2zM854.5,486.1h0.9v0.8h-0.9zM883.2,424.4h1.3v1.0h-1.3zM884.0,425.2h1.1v0.9h-1.1zM880.2,426.4h1.3v1.0h-1.3zM884.1,424.0h1.4v1.2h-1.4zM886.7,426.6h1.1v0.9h-1.1zM885.4,425.6h0.8v0.6h-0.8zM885.4,424.2h1.7v1.4h-1.7zM880.6,490.1h2.2v1.8h-2.2zM877.8,488.5h2.2v1.8h-2.2zM877.1,492.4h1.9v1.5h-1.9zM892.9,455.9h2.2v1.8h-2.2zM893.3,453.7h1.1v0.9h-1.1zM895.4,454.0h1.1v0.9h-1.1zM896.4,454.4h1.9v1.5h-1.9zM894.7,452.3h1.3v1.0h-1.3zM896.6,459.3h1.3v1.0h-1.3zM847.8,476.8h1.7v1.4h-1.7zM846.5,476.5h0.8v0.6h-0.8zM850.7,474.0h2.2v1.8h-2.2zM848.4,474.3h0.8v0.6h-0.8zM848.7,475.9h2.2v1.8h-2.2zM846.9,475.6h1.1v0.9h-1.1zM848.6,474.8h0.8v0.6h-0.8zM847.5,474.9h0.8v0.6h-0.8zM848.0,474.6h0.8v0.6h-0.8zM848.8,475.8h1.4v1.2h-1.4zM889.9,468.4h0.8v0.6h-0.8zM884.4,468.9h2.2v1.8h-2.2zM887.5,467.8h1.7v1.4h-1.7zM885.8,467.3h1.1v0.9h-1.1zM886.4,468.0h1.7v1.4h-1.7zM885.9,468.5h1.7v1.4h-1.7zM887.2,467.6h2.2v1.8h-2.2zM891.1,470.0h1.3v1.0h-1.3zM887.3,469.3h0.9v0.8h-0.9zM886.6,468.7h1.3v1.0h-1.3zM890.7,467.7h1.4v1.2h-1.4zM895.3,462.4h0.9v0.8h-0.9zM889.4,460.5h1.1v0.9h-1.1zM891.0,461.6h0.8v0.6h-0.8zM890.7,461.1h0.8v0.6h-0.8zM884.8,457.8h1.9v1.5h-1.9zM891.4,461.0h1.3v1.0h-1.3zM890.2,460.7h2.2v1.8h-2.2zM889.3,461.2h1.1v0.9h-1.1zM858.4,469.4h2.2v1.8h-2.2zM856.9,466.8h0.9v0.8h-0.9zM860.6,466.2h2.2v1.8h-2.2zM858.7,464.4h2.2v1.8h-2.2zM859.5,467.5h1.3v1.0h-1.3zM877.4,490.9h1.3v1.0h-1.3zM871.2,488.6h0.8v0.6h-0.8zM872.7,489.1h2.2v1.8h-2.2zM875.3,485.5h1.1v0.9h-1.1zM874.8,490.9h1.9v1.5h-1.9zM871.6,488.2h0.8v0.6h-0.8zM871.0,488.6h1.4v1.2h-1.4zM877.2,488.8h1.7v1.4h-1.7zM872.5,489.4h1.1v0.9h-1.1zM877.0,479.4h0.9v0.8h-0.9zM873.5,485.0h1.9v1.5h-1.9zM869.9,483.2h0.9v0.8h-0.9zM877.6,480.3h1.3v1.0h-1.3zM872.7,480.9h0.8v0.6h-0.8zM868.9,480.1h0.8v0.6h-0.8zM874.1,479.5h1.3v1.0h-1.3zM876.7,484.1h1.4v1.2h-1.4zM877.2,478.5h1.3v1.0h-1.3zM864.0,481.5h1.9v1.5h-1.9zM896.2,481.6h1.7v1.4h-1.7zM894.4,483.0h1.4v1.2h-1.4zM894.6,482.7h0.9v0.8h-0.9zM893.9,480.4h1.9v1.5h-1.9zM893.5,481.9h1.7v1.4h-1.7zM892.7,481.8h0.9v0.8h-0.9zM894.5,483.9h1.9v1.5h-1.9zM866.6,454.8h1.9v1.5h-1.9zM867.7,454.2h1.4v1.2h-1.4zM867.7,455.5h1.7v1.4h-1.7zM867.1,454.7h1.9v1.5h-1.9zM913.5,476.7h0.8v0.6h-0.8zM913.2,477.2h0.8v0.6h-0.8zM915.4,476.5h2.2v1.8h-2.2zM918.2,475.9h0.8v0.6h-0.8zM918.0,477.7h1.7v1.4h-1.7zM917.2,476.1h0.9v0.8h-0.9zM916.3,475.5h0.8v0.6h-0.8zM917.4,474.0h1.4v1.2h-1.4zM901.0,489.0h0.8v0.6h-0.8zM895.7,490.2h1.3v1.0h-1.3zM900.7,489.0h2.2v1.8h-2.2zM894.5,491.6h0.8v0.6h-0.8zM903.1,489.2h1.9v1.5h-1.9zM897.7,489.7h1.1v0.9h-1.1zM878.8,431.0h1.7v1.4h-1.7zM872.2,428.0h0.9v0.8h-0.9zM877.1,428.7h0.9v0.8h-0.9zM871.5,429.7h0.8v0.6h-0.8zM872.0,428.9h1.7v1.4h-1.7zM872.5,430.9h1.1v0.9h-1.1zM874.3,431.4h1.9v1.5h-1.9zM873.2,430.4h1.4v1.2h-1.4zM852.9,457.7h1.7v1.4h-1.7zM855.7,454.6h1.3v1.0h-1.3zM852.2,456.0h1.1v0.9h-1.1zM854.3,456.0h0.8v0.6h-0.8zM853.0,454.8h1.4v1.2h-1.4zM852.4,458.1h1.7v1.4h-1.7zM855.9,456.0h1.9v1.5h-1.9zM874.9,428.9h1.9v1.5h-1.9zM882.1,431.3h0.9v0.8h-0.9zM876.6,430.3h1.9v1.5h-1.9zM871.2,428.0h2.2v1.8h-2.2zM878.5,426.9h2.2v1.8h-2.2zM879.3,427.8h2.2v1.8h-2.2zM874.2,429.8h0.9v0.8h-0.9zM876.7,429.3h1.3v1.0h-1.3zM880.0,426.9h1.7v1.4h-1.7zM880.4,429.5h0.9v0.8h-0.9zM886.2,438.5h2.2v1.8h-2.2zM886.1,441.1h2.2v1.8h-2.2zM884.7,439.5h1.3v1.0h-1.3zM885.7,439.2h1.9v1.5h-1.9zM880.1,464.5h0.8v0.6h-0.8zM876.2,465.7h1.4v1.2h-1.4zM880.6,462.9h1.4v1.2h-1.4zM878.7,464.1h1.3v1.0h-1.3zM877.5,465.6h1.7v1.4h-1.7zM880.9,465.1h1.3v1.0h-1.3zM881.9,462.9h1.3v1.0h-1.3zM878.7,466.2h0.8v0.6h-0.8zM878.8,466.0h1.3v1.0h-1.3zM879.2,464.6h0.8v0.6h-0.8zM884.7,474.6h1.3v1.0h-1.3zM889.0,472.4h1.4v1.2h-1.4zM886.8,475.6h1.3v1.0h-1.3zM888.3,472.5h1.7v1.4h-1.7zM881.5,433.3h1.1v0.9h-1.1zM878.6,433.2h1.9v1.5h-1.9zM874.3,431.2h0.8v0.6h-0.8zM879.1,432.9h0.8v0.6h-0.8zM879.3,431.0h1.4v1.2h-1.4zM878.5,431.5h1.3v1.0h-1.3zM878.2,432.5h1.1v0.9h-1.1zM878.0,430.7h2.2v1.8h-2.2zM874.1,430.8h1.1v0.9h-1.1zM855.8,457.3h2.2v1.8h-2.2zM853.7,459.3h1.4v1.2h-1.4zM856.0,462.1h1.9v1.5h-1.9zM857.4,458.8h2.2v1.8h-2.2zM857.5,458.1h2.2v1.8h-2.2zM856.1,460.3h1.3v1.0h-1.3zM853.3,463.0h0.8v0.6h-0.8zM857.7,460.2h1.7v1.4h-1.7zM855.5,459.7h0.9v0.8h-0.9zM859.8,455.8h1.3v1.0h-1.3zM862.8,453.2h1.7v1.4h-1.7zM859.3,454.8h1.9v1.5h-1.9zM864.8,453.7h1.3v1.0h-1.3zM862.9,453.6h0.8v0.6h-0.8zM865.9,454.1h1.1v0.9h-1.1zM869.0,453.1h0.9v0.8h-0.9zM861.0,453.7h0.8v0.6h-0.8zM859.9,464.6h0.9v0.8h-0.9zM859.4,462.7h1.1v0.9h-1.1zM858.6,462.8h1.1v0.9h-1.1zM863.9,465.3h1.9v1.5h-1.9zM858.4,461.9h1.9v1.5h-1.9zM851.3,463.4h0.8v0.6h-0.8zM856.6,465.1h2.2v1.8h-2.2zM863.4,462.2h0.8v0.6h-0.8zM860.1,466.8h1.9v1.5h-1.9zM858.9,462.4h0.8v0.6h-0.8zM860.9,463.8h1.9v1.5h-1.9zM867.4,475.9h0.8v0.6h-0.8zM865.7,475.4h1.4v1.2h-1.4zM866.1,475.1h0.8v0.6h-0.8zM867.1,473.6h1.1v0.9h-1.1zM868.4,477.5h1.7v1.4h-1.7zM867.3,475.0h1.9v1.5h-1.9zM869.4,476.3h1.4v1.2h-1.4zM869.5,461.0h1.9v1.5h-1.9zM867.5,456.6h0.9v0.8h-0.9zM871.8,459.6h1.3v1.0h-1.3zM870.1,460.3h1.1v0.9h-1.1zM870.8,458.9h2.2v1.8h-2.2zM871.0,463.0h1.4v1.2h-1.4zM863.6,460.1h0.9v0.8h-0.9zM867.9,459.4h1.3v1.0h-1.3zM869.7,460.1h1.1v0.9h-1.1zM870.6,458.8h1.4v1.2h-1.4zM870.2,461.7h2.2v1.8h-2.2zM872.4,456.7h1.4v1.2h-1.4zM870.5,461.6h1.9v1.5h-1.9zM868.0,461.7h1.9v1.5h-1.9zM877.3,436.7h1.1v0.9h-1.1zM876.8,436.9h1.1v0.9h-1.1zM880.8,434.5h0.9v0.8h-0.9zM879.6,436.5h0.9v0.8h-0.9zM876.3,431.4h1.4v1.2h-1.4zM876.1,436.3h1.9v1.5h-1.9zM873.6,440.0h1.1v0.9h-1.1zM874.8,441.6h1.3v1.0h-1.3zM847.6,485.5h1.3v1.0h-1.3zM845.7,487.8h1.4v1.2h-1.4zM843.7,485.2h1.9v1.5h-1.9zM846.6,486.0h1.9v1.5h-1.9zM842.4,489.1h2.2v1.8h-2.2zM844.9,488.1h1.7v1.4h-1.7zM849.3,487.1h1.1v0.9h-1.1zM846.6,485.9h1.3v1.0h-1.3zM846.3,486.3h0.8v0.6h-0.8zM845.4,487.8h1.4v1.2h-1.4zM898.6,469.4h1.4v1.2h-1.4zM899.6,470.7h1.7v1.4h-1.7zM900.4,471.0h2.2v1.8h-2.2zM900.4,470.7h1.1v0.9h-1.1zM896.4,470.6h0.8v0.6h-0.8zM901.3,470.0h0.8v0.6h-0.8zM899.8,470.3h1.3v1.0h-1.3zM901.4,469.3h1.1v0.9h-1.1zM872.3,439.2h1.4v1.2h-1.4zM871.9,435.8h2.2v1.8h-2.2zM870.6,439.5h1.7v1.4h-1.7zM872.0,435.7h0.8v0.6h-0.8zM873.2,439.6h0.8v0.6h-0.8zM870.4,438.2h1.9v1.5h-1.9zM871.5,456.4h2.2v1.8h-2.2zM870.7,454.6h1.1v0.9h-1.1zM873.9,455.5h1.9v1.5h-1.9zM872.7,456.8h1.7v1.4h-1.7zM873.6,457.0h1.7v1.4h-1.7zM870.2,452.6h0.9v0.8h-0.9zM871.7,456.6h2.2v1.8h-2.2zM874.0,457.1h2.2v1.8h-2.2zM870.3,454.5h0.9v0.8h-0.9zM871.9,457.4h0.9v0.8h-0.9zM868.9,458.3h0.9v0.8h-0.9zM875.5,456.7h1.7v1.4h-1.7zM884.2,451.5h0.8v0.6h-0.8zM881.7,451.2h1.7v1.4h-1.7zM883.3,452.2h1.4v1.2h-1.4zM881.5,453.5h0.9v0.8h-0.9zM883.4,455.4h1.9v1.5h-1.9zM885.2,449.6h1.7v1.4h-1.7zM881.7,452.2h1.4v1.2h-1.4zM887.0,454.1h1.7v1.4h-1.7zM884.6,452.6h0.9v0.8h-0.9zM882.8,452.7h0.9v0.8h-0.9zM880.4,450.5h0.9v0.8h-0.9zM900.0,473.7h1.4v1.2h-1.4zM901.9,474.7h0.9v0.8h-0.9zM900.9,475.1h1.4v1.2h-1.4zM900.1,476.8h1.9v1.5h-1.9zM899.9,476.3h1.4v1.2h-1.4zM897.4,478.8h1.4v1.2h-1.4zM902.0,474.0h1.3v1.0h-1.3zM900.6,475.0h1.9v1.5h-1.9zM898.3,475.1h1.9v1.5h-1.9zM900.0,474.8h1.9v1.5h-1.9zM904.3,473.4h1.3v1.0h-1.3zM898.5,473.7h1.7v1.4h-1.7zM894.8,475.9h1.9v1.5h-1.9zM898.2,473.5h2.2v1.8h-2.2zM865.1,428.6h2.2v1.8h-2.2zM863.4,429.3h1.3v1.0h-1.3zM864.5,428.4h1.7v1.4h-1.7zM860.4,431.2h1.3v1.0h-1.3zM864.0,428.1h0.8v0.6h-0.8zM863.9,426.5h2.2v1.8h-2.2zM909.4,476.4h2.2v1.8h-2.2zM908.6,475.2h1.7v1.4h-1.7zM907.8,476.4h1.1v0.9h-1.1zM905.0,478.2h1.1v0.9h-1.1zM907.3,477.6h1.1v0.9h-1.1zM911.4,476.3h1.7v1.4h-1.7zM906.2,477.2h1.9v1.5h-1.9zM860.9,457.4h2.2v1.8h-2.2zM863.9,458.5h2.2v1.8h-2.2zM862.6,462.0h0.8v0.6h-0.8zM865.2,456.7h2.2v1.8h-2.2zM861.9,461.5h2.2v1.8h-2.2zM861.5,457.0h1.1v0.9h-1.1zM862.0,460.2h1.1v0.9h-1.1zM863.9,459.7h1.4v1.2h-1.4zM868.1,464.8h0.8v0.6h-0.8zM871.2,462.8h1.3v1.0h-1.3zM864.8,464.1h2.2v1.8h-2.2zM867.7,464.3h1.3v1.0h-1.3zM870.5,460.0h1.7v1.4h-1.7zM870.3,466.3h1.1v0.9h-1.1zM872.2,467.6h1.4v1.2h-1.4zM868.1,464.2h1.9v1.5h-1.9zM866.1,463.5h1.4v1.2h-1.4zM869.3,462.4h1.4v1.2h-1.4zM871.8,464.9h1.9v1.5h-1.9zM884.2,450.5h1.7v1.4h-1.7zM881.9,449.7h2.2v1.8h-2.2zM885.1,448.7h1.9v1.5h-1.9zM881.6,451.0h1.1v0.9h-1.1zM880.8,449.1h1.4v1.2h-1.4zM880.0,450.6h1.4v1.2h-1.4zM881.2,449.2h1.9v1.5h-1.9zM879.5,449.0h0.9v0.8h-0.9zM883.4,450.6h1.9v1.5h-1.9zM879.1,450.0h1.7v1.4h-1.7zM856.1,468.5h2.2v1.8h-2.2zM854.5,465.0h1.1v0.9h-1.1zM859.9,463.3h1.9v1.5h-1.9zM856.0,467.8h0.8v0.6h-0.8zM856.4,467.2h0.8v0.6h-0.8zM853.8,466.9h1.9v1.5h-1.9zM853.8,468.0h0.9v0.8h-0.9zM855.9,467.5h2.2v1.8h-2.2zM857.3,465.9h2.2v1.8h-2.2zM857.7,468.0h0.9v0.8h-0.9zM876.2,484.5h1.7v1.4h-1.7zM875.7,486.1h1.4v1.2h-1.4zM874.9,484.9h2.2v1.8h-2.2zM873.8,483.9h1.4v1.2h-1.4zM873.4,487.3h2.2v1.8h-2.2zM876.4,485.7h0.9v0.8h-0.9zM872.2,485.3h1.9v1.5h-1.9zM871.9,484.0h1.1v0.9h-1.1zM875.5,485.5h1.3v1.0h-1.3zM849.2,480.6h0.8v0.6h-0.8zM851.0,480.7h1.9v1.5h-1.9zM847.9,480.3h0.9v0.8h-0.9zM849.4,481.0h0.8v0.6h-0.8zM849.0,481.6h0.9v0.8h-0.9zM850.5,479.4h1.1v0.9h-1.1zM848.2,480.9h2.2v1.8h-2.2zM887.6,475.0h1.4v1.2h-1.4zM879.5,471.2h1.9v1.5h-1.9zM886.6,474.3h1.9v1.5h-1.9zM882.7,473.0h0.9v0.8h-0.9zM886.8,473.4h1.1v0.9h-1.1zM885.3,471.1h0.8v0.6h-0.8zM885.5,472.9h0.8v0.6h-0.8zM857.5,471.8h1.1v0.9h-1.1zM853.9,471.1h0.8v0.6h-0.8zM851.3,473.6h1.7v1.4h-1.7zM859.3,428.5h1.7v1.4h-1.7zM855.0,431.0h0.8v0.6h-0.8zM861.6,428.6h0.9v0.8h-0.9zM863.2,429.2h1.9v1.5h-1.9zM863.8,427.9h2.2v1.8h-2.2zM859.6,430.9h1.9v1.5h-1.9zM861.7,430.0h1.1v0.9h-1.1zM863.4,430.1h1.3v1.0h-1.3zM911.4,489.1h2.2v1.8h-2.2zM912.9,487.1h0.9v0.8h-0.9zM914.5,487.0h1.9v1.5h-1.9zM911.7,488.7h1.4v1.2h-1.4zM890.1,459.1h1.9v1.5h-1.9zM914.2,469.4h0.9v0.8h-0.9zM871.1,416.6h1.4v1.2h-1.4zM888.4,479.9h1.3v1.0h-1.3zM842.4,483.6h1.3v1.0h-1.3zM914.8,481.7h1.7v1.4h-1.7zM916.5,473.3h0.9v0.8h-0.9zM889.2,445.2h1.3v1.0h-1.3zM893.3,443.0h1.7v1.4h-1.7zM869.3,416.0h1.4v1.2h-1.4zM868.5,438.4h1.4v1.2h-1.4zM873.0,418.5h0.8v0.6h-0.8zM860.9,447.0h2.2v1.8h-2.2zM883.6,440.5h1.4v1.2h-1.4zM854.6,486.2h1.1v0.9h-1.1zM878.3,481.1h0.8v0.6h-0.8zM886.1,475.4h1.4v1.2h-1.4zM855.2,459.9h1.9v1.5h-1.9zM848.3,457.4h0.8v0.6h-0.8zM863.6,473.5h0.8v0.6h-0.8zM911.4,465.1h1.4v1.2h-1.4zM849.9,448.3h1.9v1.5h-1.9zM878.4,415.5h0.9v0.8h-0.9zM875.7,413.7h0.8v0.6h-0.8zM858.7,454.5h1.1v0.9h-1.1zM889.0,439.9h1.9v1.5h-1.9zM854.1,473.7h1.3v1.0h-1.3zM863.7,443.4h0.9v0.8h-0.9zM893.3,443.3h2.2v1.8h-2.2zM902.2,452.4h1.3v1.0h-1.3zM861.1,475.6h1.7v1.4h-1.7zM875.2,411.6h1.7v1.4h-1.7zM875.5,410.9h2.2v1.8h-2.2zM862.8,476.8h1.3v1.0h-1.3zM881.3,428.0h1.4v1.2h-1.4zM883.4,489.4h1.1v0.9h-1.1zM858.0,463.1h1.1v0.9h-1.1zM860.5,466.5h1.9v1.5h-1.9zM847.4,470.5h0.9v0.8h-0.9zM910.1,460.8h1.3v1.0h-1.3zM858.6,429.3h1.9v1.5h-1.9zM878.7,471.9h1.9v1.5h-1.9zM868.9,412.1h0.9v0.8h-0.9zM871.6,470.2h1.4v1.2h-1.4zM856.0,427.2h1.9v1.5h-1.9zM870.9,441.3h1.3v1.0h-1.3zM838.5,471.4h1.1v0.9h-1.1zM889.2,447.2h1.9v1.5h-1.9zM877.0,453.9h0.8v0.6h-0.8zM897.8,478.7h1.9v1.5h-1.9zM862.8,442.6h2.2v1.8h-2.2zM901.2,482.5h1.4v1.2h-1.4zM841.4,467.4h2.2v1.8h-2.2zM906.9,460.6h2.2v1.8h-2.2zM877.1,486.7h0.9v0.8h-0.9zM899.7,487.9h1.4v1.2h-1.4zM861.9,428.2h2.2v1.8h-2.2zM884.7,425.4h1.7v1.4h-1.7zM869.0,413.2h1.3v1.0h-1.3zM854.8,487.0h1.1v0.9h-1.1zM899.3,473.4h1.3v1.0h-1.3zM877.7,453.5h0.8v0.6h-0.8zM908.8,468.2h2.2v1.8h-2.2zM854.4,465.2h0.8v0.6h-0.8zM885.7,435.8h1.4v1.2h-1.4zM848.2,483.6h0.8v0.6h-0.8zM928.1,488.6h2.2v1.8h-2.2zM856.8,437.4h1.3v1.0h-1.3zM927.6,480.4h0.8v0.6h-0.8zM893.5,436.2h1.3v1.0h-1.3zM860.1,419.3h1.1v0.9h-1.1zM868.7,455.4h1.1v0.9h-1.1zM900.8,489.3h1.7v1.4h-1.7zM857.0,431.9h2.2v1.8h-2.2zM892.9,464.0h1.4v1.2h-1.4zM869.6,479.4h1.4v1.2h-1.4zM881.7,446.8h1.3v1.0h-1.3zM912.2,489.4h1.9v1.5h-1.9zM886.5,445.1h1.1v0.9h-1.1zM877.0,440.2h0.9v0.8h-0.9zM891.6,445.8h0.8v0.6h-0.8zM882.6,483.5h1.9v1.5h-1.9zM888.3,468.7h2.2v1.8h-2.2zM839.6,476.9h1.9v1.5h-1.9zM876.9,476.5h0.9v0.8h-0.9zM869.0,415.8h0.8v0.6h-0.8zM857.6,484.0h0.9v0.8h-0.9zM887.4,489.4h1.7v1.4h-1.7zM870.7,463.1h1.7v1.4h-1.7zM871.5,464.1h1.3v1.0h-1.3zM891.1,444.7h1.9v1.5h-1.9zM864.3,469.7h0.9v0.8h-0.9zM856.5,435.3h1.7v1.4h-1.7zM873.5,456.3h2.2v1.8h-2.2zM863.5,456.7h0.8v0.6h-0.8zM851.6,468.5h1.7v1.4h-1.7zM886.5,467.7h1.9v1.5h-1.9zM906.9,464.2h0.8v0.6h-0.8zM851.7,463.4h1.3v1.0h-1.3zM868.3,444.5h1.3v1.0h-1.3zM834.7,483.1h1.3v1.0h-1.3zM864.6,462.1h0.9v0.8h-0.9zM911.8,464.3h2.2v1.8h-2.2zM899.0,455.6h1.4v1.2h-1.4zM915.1,488.6h0.8v0.6h-0.8zM862.7,437.3h2.2v1.8h-2.2zM876.5,476.0h1.9v1.5h-1.9zM884.7,489.8h1.4v1.2h-1.4zM870.2,416.9h1.3v1.0h-1.3zM842.2,466.6h0.9v0.8h-0.9zM870.5,447.1h1.9v1.5h-1.9zM860.4,420.6h2.2v1.8h-2.2zM876.4,443.9h1.7v1.4h-1.7zM854.7,445.8h1.1v0.9h-1.1zM869.2,413.7h1.7v1.4h-1.7zM864.0,473.1h0.9v0.8h-0.9zM864.4,441.4h1.7v1.4h-1.7zM889.6,438.9h1.4v1.2h-1.4zM866.8,450.3h1.1v0.9h-1.1zM871.6,451.1h1.7v1.4h-1.7zM909.1,486.9h1.4v1.2h-1.4zM899.0,478.5h1.7v1.4h-1.7zM891.6,471.6h0.9v0.8h-0.9zM922.4,476.9h1.9v1.5h-1.9zM887.2,427.9h0.9v0.8h-0.9zM896.3,446.8h0.8v0.6h-0.8zM880.2,464.8h1.7v1.4h-1.7zM895.3,470.3h1.3v1.0h-1.3zM850.5,473.9h0.8v0.6h-0.8zM854.2,480.3h1.9v1.5h-1.9zM861.7,458.3h2.2v1.8h-2.2zM861.2,467.1h2.2v1.8h-2.2zM856.0,469.1h1.4v1.2h-1.4zM854.7,434.8h0.9v0.8h-0.9zM877.8,461.6h1.4v1.2h-1.4zM863.2,445.2h1.1v0.9h-1.1zM906.2,462.8h1.1v0.9h-1.1zM879.1,437.9h1.7v1.4h-1.7zM909.9,457.5h1.4v1.2h-1.4zM887.8,455.9h0.8v0.6h-0.8zM867.9,408.4h1.1v0.9h-1.1zM873.3,419.1h1.1v0.9h-1.1zM893.0,463.7h0.8v0.6h-0.8zM857.4,451.5h0.9v0.8h-0.9zM857.7,427.7h1.4v1.2h-1.4zM883.7,440.4h0.9v0.8h-0.9zM865.3,440.2h1.4v1.2h-1.4zM864.7,425.9h1.7v1.4h-1.7zM894.2,466.3h2.2v1.8h-2.2zM857.6,422.3h1.1v0.9h-1.1zM908.0,469.9h1.4v1.2h-1.4zM858.0,449.2h0.9v0.8h-0.9zM858.0,436.8h0.8v0.6h-0.8zM838.8,480.6h1.4v1.2h-1.4zM879.7,416.3h0.9v0.8h-0.9zM861.8,475.4h1.7v1.4h-1.7zM863.4,410.9h1.3v1.0h-1.3zM921.6,474.2h1.7v1.4h-1.7zM916.1,474.4h1.3v1.0h-1.3zM886.0,427.9h2.2v1.8h-2.2zM905.6,483.8h2.2v1.8h-2.2zM922.1,478.9h1.7v1.4h-1.7zM872.4,444.4h1.1v0.9h-1.1zM855.7,434.7h0.8v0.6h-0.8zM910.7,469.4h1.3v1.0h-1.3zM880.9,474.0h1.7v1.4h-1.7zM875.5,428.5h0.9v0.8h-0.9zM888.4,445.5h1.1v0.9h-1.1zM876.0,454.7h0.8v0.6h-0.8zM856.5,447.2h2.2v1.8h-2.2zM923.9,477.3h1.3v1.0h-1.3zM849.9,484.3h0.9v0.8h-0.9zM898.2,444.5h2.2v1.8h-2.2zM917.4,470.4h1.1v0.9h-1.1zM915.1,462.8h1.7v1.4h-1.7zM849.7,469.3h1.3v1.0h-1.3zM877.9,447.7h1.3v1.0h-1.3zM892.6,460.1h1.4v1.2h-1.4zM861.1,488.9h1.9v1.5h-1.9zM871.1,424.3h1.9v1.5h-1.9zM858.1,459.4h1.3v1.0h-1.3zM863.3,449.8h2.2v1.8h-2.2zM926.4,484.8h1.4v1.2h-1.4zM874.0,416.8h1.3v1.0h-1.3zM902.9,460.8h1.3v1.0h-1.3zM863.3,456.6h1.3v1.0h-1.3zM861.6,458.3h1.4v1.2h-1.4zM876.4,474.5h1.4v1.2h-1.4zM840.1,474.6h1.4v1.2h-1.4zM886.3,470.1h1.9v1.5h-1.9zM922.6,486.5h1.7v1.4h-1.7zM888.8,438.6h2.2v1.8h-2.2zM854.3,465.4h1.3v1.0h-1.3zM876.1,487.6h1.7v1.4h-1.7zM900.0,466.9h0.8v0.6h-0.8zM864.3,463.1h1.3v1.0h-1.3zM854.3,455.3h2.2v1.8h-2.2zM874.1,449.7h1.7v1.4h-1.7zM910.3,467.7h2.2v1.8h-2.2zM902.0,478.4h2.2v1.8h-2.2zM878.6,454.7h1.7v1.4h-1.7zM882.9,437.8h1.7v1.4h-1.7zM921.0,471.7h1.9v1.5h-1.9zM904.7,480.0h1.1v0.9h-1.1zM846.5,483.6h0.8v0.6h-0.8zM879.3,447.1h1.7v1.4h-1.7zM869.7,411.4h1.7v1.4h-1.7zM880.0,487.0h1.3v1.0h-1.3zM893.5,457.9h0.8v0.6h-0.8zM860.5,422.2h1.7v1.4h-1.7zM860.4,441.2h1.7v1.4h-1.7zM854.3,447.7h1.4v1.2h-1.4zM885.1,438.3h1.4v1.2h-1.4zM861.5,469.5h0.9v0.8h-0.9zM879.8,458.7h1.9v1.5h-1.9zM870.5,427.0h0.8v0.6h-0.8zM855.5,439.4h2.2v1.8h-2.2zM903.5,447.9h1.1v0.9h-1.1zM869.6,481.1h0.8v0.6h-0.8zM869.2,483.2h2.2v1.8h-2.2zM869.1,423.5h2.2v1.8h-2.2zM872.7,465.5h1.3v1.0h-1.3zM864.4,434.2h1.7v1.4h-1.7zM857.4,471.6h1.7v1.4h-1.7zM877.8,477.1h0.8v0.6h-0.8zM854.8,477.7h0.8v0.6h-0.8zM874.3,441.3h2.2v1.8h-2.2z" fill-opacity="1.0"/></g>
<path d="M863.3,532 L865,488 M886.6,532 V486" stroke="#a0a0a0" stroke-width="2.4"/>
<ellipse cx="156.0" cy="530" rx="25.0" ry="3.2" fill="#b5b5b5" opacity="0.8"/>
<ellipse cx="200.0" cy="530" rx="20.0" ry="3.2" fill="#b5b5b5" opacity="0.8"/>
<ellipse cx="160" cy="530.5" rx="12" ry="2.5" fill="#999"/>
<path d="M318.5,477.5 H352 M318.5,484.3 H345 M318.5,477.5 V489" stroke="#999" stroke-width="0.8" fill="none"/>
<defs><pattern id="slat" patternUnits="userSpaceOnUse" width="2.45" height="10"><rect width="2.45" height="10" fill="#fff"/><rect x="0" width="1.55" height="10" fill="#989898"/></pattern><pattern id="hatch" patternUnits="userSpaceOnUse" width="10" height="1.6" patternTransform="rotate(-31)"><rect width="10" height="1.6" fill="#fff"/><rect width="10" height="0.6" fill="#a0a0a0"/></pattern></defs>
<path d="M298.2,532.3 L461,436.6 V532.3 Z" fill="url(#slat)"/>
<path d="M288.5,521.5 L464,417 L461,436.6 L298.2,532.3 Z" fill="url(#hatch)"/>
<path d="M286.5,517 L467.6,408.5" stroke="#2a2a2a" stroke-width="1"/>
<path d="M288,521 L464,417" stroke="#555" stroke-width="0.8"/>
<path d="M286.5,517 L288,521 L299,532" stroke="#555" stroke-width="0.8" fill="none"/>
<g fill="#7c7c7c" opacity="0.85"><path d="M421.4,532 L420.4,490.0" stroke="#7c7c7c" stroke-width="2.2" fill="none"/><path d="M420.4,490.0 Q418.9,453.0 417.5,420.0" stroke="#7c7c7c" stroke-width="1.0" fill="none"/><path d="M417.3,424.1 Q414.1,423.5 410.8,421.6 M417.2,430.1 Q421.5,429.4 425.7,427.1 M417.2,433.2 Q421.8,432.9 426.5,431.8 M417.1,437.3 Q411.1,436.6 405.1,434.6 M417.0,443.2 Q409.8,442.3 402.6,439.4 M416.9,445.4 Q422.6,444.8 428.2,443.1 M416.9,449.8 Q409.9,448.0 402.9,442.9 M416.7,456.9 Q409.0,455.7 401.3,452.2 M416.7,459.2 Q427.8,458.3 438.9,455.6 M416.6,463.5 Q405.1,461.6 393.5,455.7 M416.5,467.4 Q404.7,465.3 392.9,458.9 M416.4,473.4 Q429.4,471.1 442.4,464.0 M416.3,476.8 Q403.3,473.5 390.2,463.8 M416.2,481.7 Q428.6,480.6 440.9,477.3 M416.2,484.3 Q428.5,481.2 440.8,472.1 M416.1,488.9 Q402.7,486.3 389.3,478.6" stroke="#7c7c7c" stroke-width="0.7" fill="none"/><path d="M409.4,426.3h0.8v0.6h-0.8zM415.4,423.3h1.3v1.0h-1.3zM414.6,426.3h2.2v1.8h-2.2zM417.5,431.6h1.7v1.4h-1.7zM429.4,431.7h1.9v1.5h-1.9zM410.2,435.5h0.9v0.8h-0.9zM416.2,435.9h1.1v0.9h-1.1zM410.7,436.2h1.1v0.9h-1.1zM415.3,438.1h1.7v1.4h-1.7zM408.9,431.7h1.9v1.5h-1.9zM413.4,437.8h0.9v0.8h-0.9zM401.4,440.0h0.9v0.8h-0.9zM410.1,443.6h0.9v0.8h-0.9zM416.9,441.9h1.7v1.4h-1.7zM413.7,441.9h0.8v0.6h-0.8zM403.2,441.3h1.4v1.2h-1.4zM411.4,443.2h2.2v1.8h-2.2zM428.2,443.6h1.3v1.0h-1.3zM427.0,442.9h0.8v0.6h-0.8zM422.0,444.1h0.9v0.8h-0.9zM421.2,444.3h0.9v0.8h-0.9zM411.2,447.8h1.9v1.5h-1.9zM418.4,449.2h1.4v1.2h-1.4zM414.2,450.5h1.7v1.4h-1.7zM406.4,447.5h0.9v0.8h-0.9zM400.0,453.7h0.8v0.6h-0.8zM408.1,453.7h1.9v1.5h-1.9zM404.4,453.1h0.9v0.8h-0.9zM419.4,459.4h1.9v1.5h-1.9zM433.8,458.0h0.9v0.8h-0.9zM423.9,458.6h2.2v1.8h-2.2zM419.6,458.9h1.3v1.0h-1.3zM390.5,453.5h0.8v0.6h-0.8zM413.1,462.2h2.2v1.8h-2.2zM402.1,458.0h1.7v1.4h-1.7zM406.4,459.6h0.9v0.8h-0.9zM401.1,454.4h2.2v1.8h-2.2zM391.6,461.0h1.3v1.0h-1.3zM397.0,463.9h1.9v1.5h-1.9zM402.5,462.9h1.1v0.9h-1.1zM413.3,464.8h1.3v1.0h-1.3zM396.5,462.9h1.9v1.5h-1.9zM389.3,462.6h1.1v0.9h-1.1zM396.2,458.4h0.9v0.8h-0.9zM433.7,465.9h1.7v1.4h-1.7zM417.3,472.7h2.2v1.8h-2.2zM439.4,465.5h1.4v1.2h-1.4zM422.8,472.4h1.4v1.2h-1.4zM428.5,470.8h0.9v0.8h-0.9zM423.3,470.2h2.2v1.8h-2.2zM437.5,464.9h2.2v1.8h-2.2zM437.5,468.9h0.8v0.6h-0.8zM425.6,469.8h1.7v1.4h-1.7zM412.3,475.3h1.9v1.5h-1.9zM401.9,473.9h1.3v1.0h-1.3zM401.1,472.8h1.9v1.5h-1.9zM395.4,466.3h1.7v1.4h-1.7zM408.0,474.7h0.9v0.8h-0.9zM412.6,475.0h2.2v1.8h-2.2zM399.3,466.9h1.3v1.0h-1.3zM399.6,467.8h1.4v1.2h-1.4zM426.6,480.3h1.4v1.2h-1.4zM437.0,478.0h2.2v1.8h-2.2zM427.3,479.2h0.9v0.8h-0.9zM433.1,479.0h2.2v1.8h-2.2zM436.5,480.1h2.2v1.8h-2.2zM439.0,479.1h1.1v0.9h-1.1zM435.9,477.2h1.9v1.5h-1.9zM439.0,479.8h1.9v1.5h-1.9zM440.5,475.4h1.3v1.0h-1.3zM424.2,483.4h2.2v1.8h-2.2zM395.6,485.5h0.8v0.6h-0.8zM395.8,482.6h2.2v1.8h-2.2zM410.8,489.2h0.9v0.8h-0.9zM391.4,487.8h1.4v1.2h-1.4zM411.0,490.5h1.7v1.4h-1.7zM401.3,482.9h1.1v0.9h-1.1zM405.9,485.3h1.3v1.0h-1.3zM402.3,487.7h0.9v0.8h-0.9zM412.8,488.1h0.8v0.6h-0.8zM394.1,481.2h1.1v0.9h-1.1zM408.5,488.7h0.8v0.6h-0.8zM429.8,461.7h0.9v0.8h-0.9zM426.4,461.5h1.1v0.9h-1.1zM431.0,461.1h1.7v1.4h-1.7zM428.2,460.8h0.9v0.8h-0.9zM416.5,480.5h0.8v0.6h-0.8zM417.1,482.8h1.3v1.0h-1.3zM419.2,478.1h0.8v0.6h-0.8zM420.0,481.5h0.9v0.8h-0.9zM417.7,481.6h1.3v1.0h-1.3zM417.5,481.3h0.9v0.8h-0.9zM417.5,479.7h0.9v0.8h-0.9zM421.1,482.3h1.9v1.5h-1.9zM418.3,456.0h1.4v1.2h-1.4zM417.2,456.7h1.9v1.5h-1.9zM412.7,457.4h1.3v1.0h-1.3zM414.7,457.7h1.4v1.2h-1.4zM437.0,486.6h0.8v0.6h-0.8zM434.1,487.2h1.7v1.4h-1.7zM431.1,486.5h0.8v0.6h-0.8zM393.9,487.8h0.8v0.6h-0.8zM398.1,486.8h0.8v0.6h-0.8zM395.0,485.5h1.1v0.9h-1.1zM424.4,447.2h0.8v0.6h-0.8zM426.0,448.5h0.9v0.8h-0.9zM426.2,444.6h1.4v1.2h-1.4zM425.6,447.8h1.1v0.9h-1.1zM424.9,444.5h1.4v1.2h-1.4zM417.0,440.7h0.9v0.8h-0.9zM417.9,439.4h1.3v1.0h-1.3zM410.5,442.5h1.9v1.5h-1.9zM413.3,440.6h1.4v1.2h-1.4zM416.3,441.2h1.3v1.0h-1.3zM415.1,478.4h1.7v1.4h-1.7zM416.0,478.5h1.4v1.2h-1.4zM409.9,476.4h1.9v1.5h-1.9zM416.8,480.6h1.7v1.4h-1.7zM419.8,490.3h1.3v1.0h-1.3zM416.0,490.6h1.3v1.0h-1.3zM414.8,487.1h2.2v1.8h-2.2zM414.7,488.7h1.9v1.5h-1.9zM421.3,492.4h0.9v0.8h-0.9zM392.8,481.1h1.1v0.9h-1.1zM394.9,482.7h1.1v0.9h-1.1zM399.5,480.0h1.7v1.4h-1.7zM399.9,482.7h1.1v0.9h-1.1zM397.4,482.3h1.7v1.4h-1.7zM395.2,482.0h1.7v1.4h-1.7zM397.2,470.1h1.4v1.2h-1.4zM401.0,468.0h0.8v0.6h-0.8zM403.0,466.7h1.3v1.0h-1.3zM403.9,468.4h1.7v1.4h-1.7zM400.5,470.3h1.7v1.4h-1.7zM402.3,469.4h0.9v0.8h-0.9zM407.4,468.7h1.9v1.5h-1.9zM402.1,469.7h1.1v0.9h-1.1zM412.0,446.3h1.9v1.5h-1.9zM413.0,447.4h0.9v0.8h-0.9zM412.8,451.1h1.9v1.5h-1.9zM414.4,446.8h1.3v1.0h-1.3zM399.5,477.5h1.4v1.2h-1.4zM399.9,478.3h1.1v0.9h-1.1zM399.5,483.2h1.3v1.0h-1.3zM397.1,478.5h1.4v1.2h-1.4zM410.4,439.2h1.1v0.9h-1.1zM411.8,437.3h1.7v1.4h-1.7zM409.9,438.4h0.8v0.6h-0.8zM428.4,480.8h1.3v1.0h-1.3zM425.3,482.2h1.1v0.9h-1.1zM434.2,483.1h1.7v1.4h-1.7zM427.1,484.9h1.3v1.0h-1.3zM429.6,462.1h1.7v1.4h-1.7zM426.1,461.5h1.3v1.0h-1.3zM429.6,461.8h0.9v0.8h-0.9zM422.6,484.2h1.7v1.4h-1.7zM426.6,483.3h1.9v1.5h-1.9zM422.3,482.7h1.9v1.5h-1.9zM429.4,481.3h0.9v0.8h-0.9zM428.5,476.8h1.7v1.4h-1.7zM427.1,479.5h0.9v0.8h-0.9zM424.4,477.5h1.4v1.2h-1.4zM424.4,477.4h1.3v1.0h-1.3zM429.2,478.2h1.3v1.0h-1.3zM424.4,466.9h1.7v1.4h-1.7zM421.3,464.7h1.9v1.5h-1.9zM424.4,465.5h0.8v0.6h-0.8zM424.4,440.7h1.7v1.4h-1.7zM429.3,439.4h0.8v0.6h-0.8zM427.0,438.3h1.4v1.2h-1.4zM407.8,455.2h1.9v1.5h-1.9zM407.3,455.1h1.4v1.2h-1.4zM408.8,456.0h1.7v1.4h-1.7zM410.9,454.7h1.3v1.0h-1.3zM410.3,455.6h1.7v1.4h-1.7zM413.7,455.0h1.4v1.2h-1.4zM400.4,449.9h0.8v0.6h-0.8zM441.8,474.1h2.2v1.8h-2.2zM419.2,433.0h1.7v1.4h-1.7zM408.8,427.7h1.7v1.4h-1.7zM405.5,457.0h1.4v1.2h-1.4zM428.7,467.3h1.9v1.5h-1.9zM438.4,473.6h2.2v1.8h-2.2zM421.5,461.1h1.9v1.5h-1.9zM416.8,480.7h2.2v1.8h-2.2zM413.2,421.2h2.2v1.8h-2.2zM399.6,473.6h0.9v0.8h-0.9zM446.4,485.8h2.2v1.8h-2.2zM408.3,477.0h0.8v0.6h-0.8zM406.4,474.6h0.9v0.8h-0.9zM442.3,477.5h1.1v0.9h-1.1zM401.6,445.9h1.9v1.5h-1.9zM405.6,488.2h1.4v1.2h-1.4zM415.3,431.0h0.8v0.6h-0.8zM419.7,449.8h1.9v1.5h-1.9zM437.2,455.0h1.7v1.4h-1.7zM397.7,452.8h2.2v1.8h-2.2zM428.8,455.9h1.4v1.2h-1.4zM432.0,462.9h1.7v1.4h-1.7zM420.9,432.4h0.9v0.8h-0.9zM410.7,475.8h1.3v1.0h-1.3zM387.9,483.3h1.3v1.0h-1.3zM426.6,474.0h1.4v1.2h-1.4zM398.1,460.4h2.2v1.8h-2.2zM429.2,442.7h1.3v1.0h-1.3zM401.5,455.7h1.3v1.0h-1.3zM399.4,480.1h1.9v1.5h-1.9zM435.5,456.1h1.3v1.0h-1.3zM419.9,465.9h0.9v0.8h-0.9zM408.2,471.8h1.7v1.4h-1.7zM409.0,439.6h0.8v0.6h-0.8zM416.0,487.3h1.3v1.0h-1.3zM411.5,439.2h1.4v1.2h-1.4zM409.8,446.3h0.9v0.8h-0.9zM398.2,464.3h1.4v1.2h-1.4zM428.2,451.4h2.2v1.8h-2.2zM448.9,487.2h1.1v0.9h-1.1zM419.3,456.7h1.4v1.2h-1.4zM419.1,469.3h0.9v0.8h-0.9zM410.6,468.0h1.9v1.5h-1.9zM414.5,426.5h0.9v0.8h-0.9zM400.0,449.9h1.7v1.4h-1.7zM424.4,489.4h0.9v0.8h-0.9zM411.9,463.3h1.4v1.2h-1.4zM403.9,443.2h0.9v0.8h-0.9zM401.1,458.6h1.7v1.4h-1.7zM406.5,474.2h1.9v1.5h-1.9zM413.9,465.1h1.4v1.2h-1.4zM415.9,466.0h0.9v0.8h-0.9zM390.6,493.9h0.8v0.6h-0.8zM412.9,476.9h1.9v1.5h-1.9zM420.0,433.1h1.1v0.9h-1.1z" fill-opacity="0.45"/><path d="M410.8,422.4h2.2v1.8h-2.2zM412.9,425.1h0.9v0.8h-0.9zM407.7,418.5h0.8v0.6h-0.8zM416.4,429.0h2.2v1.8h-2.2zM427.2,430.7h2.2v1.8h-2.2zM422.9,428.7h1.9v1.5h-1.9zM421.5,430.4h1.7v1.4h-1.7zM422.8,431.0h0.8v0.6h-0.8zM422.6,432.0h1.9v1.5h-1.9zM422.1,436.0h1.4v1.2h-1.4zM402.8,434.1h1.4v1.2h-1.4zM409.3,435.3h0.9v0.8h-0.9zM408.1,437.1h2.2v1.8h-2.2zM409.0,439.5h1.3v1.0h-1.3zM406.1,440.5h1.1v0.9h-1.1zM403.4,437.6h1.4v1.2h-1.4zM406.6,440.0h1.1v0.9h-1.1zM420.5,445.2h1.1v0.9h-1.1zM426.4,445.9h1.1v0.9h-1.1zM417.6,445.5h1.3v1.0h-1.3zM425.9,441.8h1.7v1.4h-1.7zM414.6,447.8h0.8v0.6h-0.8zM411.3,445.6h0.9v0.8h-0.9zM408.5,444.6h1.9v1.5h-1.9zM412.5,449.0h1.4v1.2h-1.4zM413.6,447.9h1.4v1.2h-1.4zM404.4,440.5h1.7v1.4h-1.7zM411.1,445.4h0.8v0.6h-0.8zM408.7,455.7h1.3v1.0h-1.3zM403.9,448.9h1.1v0.9h-1.1zM417.3,458.2h2.2v1.8h-2.2zM442.6,457.1h2.2v1.8h-2.2zM434.8,455.1h1.7v1.4h-1.7zM433.0,458.6h1.9v1.5h-1.9zM419.3,460.8h1.1v0.9h-1.1zM435.4,456.1h1.7v1.4h-1.7zM429.4,456.6h2.2v1.8h-2.2zM399.2,454.7h1.9v1.5h-1.9zM393.0,457.3h0.9v0.8h-0.9zM405.7,458.5h0.8v0.6h-0.8zM403.5,460.4h1.3v1.0h-1.3zM399.6,456.3h1.3v1.0h-1.3zM398.0,458.7h1.7v1.4h-1.7zM395.0,456.7h0.9v0.8h-0.9zM406.9,465.9h1.1v0.9h-1.1zM408.5,461.5h1.3v1.0h-1.3zM415.0,467.0h0.8v0.6h-0.8zM397.9,461.7h1.3v1.0h-1.3zM399.3,457.3h0.8v0.6h-0.8zM412.5,464.9h1.7v1.4h-1.7zM406.5,464.6h1.7v1.4h-1.7zM412.9,468.1h0.8v0.6h-0.8zM400.5,462.9h0.9v0.8h-0.9zM392.7,457.3h1.3v1.0h-1.3zM397.4,462.6h0.8v0.6h-0.8zM437.1,464.3h1.7v1.4h-1.7zM445.2,463.7h0.9v0.8h-0.9zM427.6,473.3h1.9v1.5h-1.9zM430.6,470.4h1.7v1.4h-1.7zM425.9,469.2h1.3v1.0h-1.3zM429.8,469.6h2.2v1.8h-2.2zM430.2,465.4h1.7v1.4h-1.7zM399.6,471.6h2.2v1.8h-2.2zM399.1,465.7h0.8v0.6h-0.8zM391.4,463.4h0.8v0.6h-0.8zM409.1,475.7h1.4v1.2h-1.4zM442.4,473.1h1.1v0.9h-1.1zM439.7,479.0h1.1v0.9h-1.1zM423.2,484.1h1.3v1.0h-1.3zM434.5,477.2h1.7v1.4h-1.7zM423.0,480.3h1.1v0.9h-1.1zM424.0,479.5h1.9v1.5h-1.9zM435.1,472.6h2.2v1.8h-2.2zM425.9,480.9h1.9v1.5h-1.9zM432.1,477.5h0.9v0.8h-0.9zM434.1,476.1h1.9v1.5h-1.9zM440.4,479.7h0.8v0.6h-0.8zM422.1,482.7h1.3v1.0h-1.3zM396.7,477.1h1.1v0.9h-1.1zM392.0,481.0h1.7v1.4h-1.7zM407.4,487.5h0.9v0.8h-0.9zM428.8,460.6h1.4v1.2h-1.4zM431.8,463.5h1.4v1.2h-1.4zM430.5,462.8h1.9v1.5h-1.9zM429.0,461.3h1.1v0.9h-1.1zM429.0,460.7h1.1v0.9h-1.1zM426.9,460.4h1.7v1.4h-1.7zM425.9,459.3h2.2v1.8h-2.2zM431.6,461.7h1.1v0.9h-1.1zM423.0,479.8h1.1v0.9h-1.1zM419.0,480.7h1.3v1.0h-1.3zM412.9,479.5h0.9v0.8h-0.9zM416.0,456.6h0.8v0.6h-0.8zM414.9,456.6h1.9v1.5h-1.9zM412.6,457.5h2.2v1.8h-2.2zM432.1,487.0h1.3v1.0h-1.3zM433.3,487.5h1.1v0.9h-1.1zM434.6,487.5h0.9v0.8h-0.9zM434.9,487.3h1.7v1.4h-1.7zM395.6,486.6h1.9v1.5h-1.9zM393.5,485.2h2.2v1.8h-2.2zM423.5,448.0h1.4v1.2h-1.4zM413.0,480.3h1.7v1.4h-1.7zM415.1,480.2h1.7v1.4h-1.7zM419.4,491.0h0.9v0.8h-0.9zM425.1,490.8h1.1v0.9h-1.1zM393.1,482.1h1.9v1.5h-1.9zM398.0,483.0h2.2v1.8h-2.2zM397.7,465.5h1.4v1.2h-1.4zM405.8,465.7h1.3v1.0h-1.3zM398.4,468.0h1.9v1.5h-1.9zM400.6,468.0h1.4v1.2h-1.4zM405.6,467.6h1.7v1.4h-1.7zM413.3,448.1h0.9v0.8h-0.9zM414.2,446.9h2.2v1.8h-2.2zM418.3,445.2h0.9v0.8h-0.9zM409.7,448.3h1.4v1.2h-1.4zM399.4,476.9h1.3v1.0h-1.3zM396.8,477.5h0.9v0.8h-0.9zM394.4,481.7h1.9v1.5h-1.9zM402.8,477.2h1.3v1.0h-1.3zM414.6,438.0h1.9v1.5h-1.9zM410.9,437.8h1.3v1.0h-1.3zM416.1,437.6h1.4v1.2h-1.4zM411.5,436.8h0.9v0.8h-0.9zM412.2,437.4h0.8v0.6h-0.8zM414.3,434.1h0.8v0.6h-0.8zM433.3,476.6h1.4v1.2h-1.4zM427.1,480.4h1.3v1.0h-1.3zM429.0,461.3h0.8v0.6h-0.8zM426.2,461.8h1.4v1.2h-1.4zM425.7,462.2h2.2v1.8h-2.2zM426.6,464.0h1.3v1.0h-1.3zM426.8,463.3h1.4v1.2h-1.4zM430.0,464.0h1.7v1.4h-1.7zM430.1,484.1h2.2v1.8h-2.2zM429.5,476.1h0.9v0.8h-0.9zM425.9,476.5h1.3v1.0h-1.3zM429.9,480.4h0.9v0.8h-0.9zM425.2,477.8h1.4v1.2h-1.4zM427.6,467.4h0.8v0.6h-0.8zM426.1,468.0h1.9v1.5h-1.9zM426.0,439.1h0.8v0.6h-0.8zM426.7,441.5h1.3v1.0h-1.3zM410.6,454.2h0.8v0.6h-0.8zM414.6,454.4h0.8v0.6h-0.8zM413.5,455.2h1.3v1.0h-1.3zM405.5,486.7h1.7v1.4h-1.7zM404.3,487.2h2.2v1.8h-2.2zM392.8,491.5h1.7v1.4h-1.7zM424.4,474.7h1.7v1.4h-1.7zM431.8,483.9h1.3v1.0h-1.3zM404.0,476.1h1.7v1.4h-1.7zM424.3,470.8h0.9v0.8h-0.9zM426.9,442.3h1.7v1.4h-1.7zM431.3,492.6h0.8v0.6h-0.8zM440.1,468.2h1.3v1.0h-1.3zM415.8,431.3h1.4v1.2h-1.4zM416.2,427.2h1.3v1.0h-1.3zM410.5,453.4h0.9v0.8h-0.9zM397.1,486.9h1.9v1.5h-1.9zM420.1,465.5h1.7v1.4h-1.7zM418.2,437.4h1.9v1.5h-1.9zM423.2,429.3h1.3v1.0h-1.3zM387.4,479.3h1.1v0.9h-1.1zM417.8,435.1h1.3v1.0h-1.3zM418.2,427.4h1.4v1.2h-1.4zM421.3,430.3h1.9v1.5h-1.9zM416.5,421.3h1.7v1.4h-1.7zM427.2,472.9h0.8v0.6h-0.8zM402.5,489.4h1.3v1.0h-1.3zM428.2,464.8h0.9v0.8h-0.9zM408.1,456.5h1.1v0.9h-1.1zM410.1,469.5h1.7v1.4h-1.7zM422.6,427.3h0.8v0.6h-0.8zM405.0,441.2h0.8v0.6h-0.8zM421.7,422.4h1.7v1.4h-1.7zM434.7,469.5h1.7v1.4h-1.7zM422.5,466.9h1.3v1.0h-1.3zM448.9,490.1h1.7v1.4h-1.7zM400.2,490.7h1.1v0.9h-1.1zM427.7,482.5h2.2v1.8h-2.2zM421.8,486.3h1.4v1.2h-1.4zM415.9,487.8h2.2v1.8h-2.2zM420.0,429.8h1.1v0.9h-1.1zM427.7,450.7h0.9v0.8h-0.9zM409.3,483.6h1.4v1.2h-1.4zM405.4,480.5h1.4v1.2h-1.4zM397.2,485.0h1.9v1.5h-1.9zM396.2,473.4h1.3v1.0h-1.3zM424.5,452.3h1.9v1.5h-1.9zM410.6,434.5h0.9v0.8h-0.9zM417.5,471.7h0.9v0.8h-0.9zM440.3,478.3h1.9v1.5h-1.9zM408.8,460.0h0.8v0.6h-0.8zM411.5,440.5h0.8v0.6h-0.8zM406.6,444.1h1.9v1.5h-1.9zM417.3,490.0h1.3v1.0h-1.3zM427.4,479.5h1.4v1.2h-1.4zM437.4,493.0h0.8v0.6h-0.8z" fill-opacity="0.7"/><path d="M417.1,425.1h1.9v1.5h-1.9zM413.0,424.9h1.7v1.4h-1.7zM412.7,424.1h0.9v0.8h-0.9zM413.4,422.3h1.4v1.2h-1.4zM411.0,422.2h1.1v0.9h-1.1zM411.0,423.0h0.9v0.8h-0.9zM420.6,429.9h1.9v1.5h-1.9zM424.0,430.2h1.1v0.9h-1.1zM418.8,428.7h1.9v1.5h-1.9zM428.1,427.1h0.8v0.6h-0.8zM419.4,431.1h2.2v1.8h-2.2zM421.1,427.0h1.7v1.4h-1.7zM421.1,422.9h1.1v0.9h-1.1zM421.8,430.0h1.3v1.0h-1.3zM421.4,428.4h1.1v0.9h-1.1zM416.5,430.5h0.8v0.6h-0.8zM417.9,430.7h0.9v0.8h-0.9zM425.2,430.6h0.9v0.8h-0.9zM424.6,432.1h0.9v0.8h-0.9zM420.1,432.6h1.7v1.4h-1.7zM422.9,436.2h1.7v1.4h-1.7zM424.0,436.0h1.1v0.9h-1.1zM424.6,433.0h2.2v1.8h-2.2zM421.2,433.5h1.7v1.4h-1.7zM420.9,433.4h1.9v1.5h-1.9zM425.0,428.4h1.3v1.0h-1.3zM406.3,437.5h1.7v1.4h-1.7zM414.8,437.6h1.3v1.0h-1.3zM413.2,437.7h0.9v0.8h-0.9zM416.0,439.4h0.8v0.6h-0.8zM415.4,438.7h1.4v1.2h-1.4zM409.2,438.9h0.8v0.6h-0.8zM402.1,435.6h2.2v1.8h-2.2zM408.2,440.2h1.7v1.4h-1.7zM405.4,437.8h1.1v0.9h-1.1zM405.1,439.7h1.7v1.4h-1.7zM404.5,439.6h1.9v1.5h-1.9zM414.9,444.3h1.3v1.0h-1.3zM414.4,441.5h1.9v1.5h-1.9zM400.1,436.6h2.2v1.8h-2.2zM419.8,445.5h1.7v1.4h-1.7zM426.2,445.3h1.1v0.9h-1.1zM431.2,444.7h1.3v1.0h-1.3zM422.6,446.0h0.9v0.8h-0.9zM418.4,445.3h1.7v1.4h-1.7zM427.9,442.0h1.4v1.2h-1.4zM415.8,444.6h1.4v1.2h-1.4zM419.1,442.9h1.1v0.9h-1.1zM422.5,442.6h1.4v1.2h-1.4zM427.4,444.0h1.4v1.2h-1.4zM408.1,448.8h1.3v1.0h-1.3zM409.6,447.4h1.4v1.2h-1.4zM414.1,446.5h1.7v1.4h-1.7zM407.7,446.7h1.7v1.4h-1.7zM411.0,447.5h1.1v0.9h-1.1zM408.3,448.2h1.7v1.4h-1.7zM402.2,444.9h0.8v0.6h-0.8zM411.7,447.0h1.7v1.4h-1.7zM402.8,451.5h2.2v1.8h-2.2zM415.0,456.4h1.7v1.4h-1.7zM414.9,455.1h1.9v1.5h-1.9zM404.6,457.8h1.7v1.4h-1.7zM406.5,454.7h1.9v1.5h-1.9zM408.9,456.1h2.2v1.8h-2.2zM406.9,450.2h0.8v0.6h-0.8zM400.3,452.9h1.7v1.4h-1.7zM407.5,452.4h1.4v1.2h-1.4zM411.5,456.7h1.9v1.5h-1.9zM411.8,453.9h1.7v1.4h-1.7zM407.9,458.3h0.9v0.8h-0.9zM407.1,453.2h1.4v1.2h-1.4zM411.5,457.2h1.4v1.2h-1.4zM402.7,450.9h1.4v1.2h-1.4zM428.7,459.9h1.9v1.5h-1.9zM434.9,460.2h1.7v1.4h-1.7zM428.9,457.6h1.3v1.0h-1.3zM424.5,458.7h1.1v0.9h-1.1zM425.0,459.0h0.9v0.8h-0.9zM427.0,458.2h1.1v0.9h-1.1zM427.7,459.0h0.8v0.6h-0.8zM434.3,457.0h1.7v1.4h-1.7zM431.3,457.9h1.1v0.9h-1.1zM428.5,458.6h1.1v0.9h-1.1zM438.7,450.0h0.9v0.8h-0.9zM420.8,459.1h1.9v1.5h-1.9zM398.8,459.7h0.8v0.6h-0.8zM408.5,461.6h1.4v1.2h-1.4zM413.4,459.9h1.9v1.5h-1.9zM404.2,459.3h1.9v1.5h-1.9zM409.8,460.3h1.4v1.2h-1.4zM406.5,460.8h1.4v1.2h-1.4zM403.7,462.7h2.2v1.8h-2.2zM411.2,461.6h1.1v0.9h-1.1zM404.1,463.5h1.1v0.9h-1.1zM401.9,461.9h1.9v1.5h-1.9zM400.4,453.3h1.4v1.2h-1.4zM405.6,465.3h0.8v0.6h-0.8zM401.4,463.3h1.4v1.2h-1.4zM404.8,462.9h1.1v0.9h-1.1zM399.7,460.9h1.4v1.2h-1.4zM390.8,454.9h1.1v0.9h-1.1zM417.0,466.3h1.1v0.9h-1.1zM434.0,468.1h1.9v1.5h-1.9zM418.4,473.2h1.9v1.5h-1.9zM430.8,465.2h1.3v1.0h-1.3zM433.4,465.4h1.4v1.2h-1.4zM425.5,470.3h0.9v0.8h-0.9zM431.7,467.5h2.2v1.8h-2.2zM427.7,469.6h1.9v1.5h-1.9zM418.0,473.0h0.8v0.6h-0.8zM437.7,467.0h1.3v1.0h-1.3zM437.9,469.1h2.2v1.8h-2.2zM392.0,464.4h0.9v0.8h-0.9zM393.9,467.7h0.8v0.6h-0.8zM402.3,471.1h0.8v0.6h-0.8zM400.8,467.3h2.2v1.8h-2.2zM394.8,467.2h1.3v1.0h-1.3zM393.4,467.9h1.1v0.9h-1.1zM407.3,473.0h1.4v1.2h-1.4zM407.0,471.2h0.8v0.6h-0.8zM392.8,464.4h1.7v1.4h-1.7zM411.0,473.4h0.9v0.8h-0.9zM402.9,474.0h1.4v1.2h-1.4zM409.5,475.5h1.4v1.2h-1.4zM401.5,474.1h1.1v0.9h-1.1zM394.8,472.1h2.2v1.8h-2.2zM428.9,481.0h2.2v1.8h-2.2zM438.1,478.6h0.9v0.8h-0.9zM420.1,482.1h0.9v0.8h-0.9zM437.7,480.2h0.8v0.6h-0.8zM416.3,483.3h1.7v1.4h-1.7zM435.4,477.8h1.1v0.9h-1.1zM420.9,481.8h1.9v1.5h-1.9zM426.6,480.7h0.9v0.8h-0.9zM422.4,481.6h0.9v0.8h-0.9zM434.4,477.5h2.2v1.8h-2.2zM425.0,482.0h1.7v1.4h-1.7zM440.3,475.2h0.9v0.8h-0.9zM431.2,483.2h2.2v1.8h-2.2zM436.5,477.3h0.8v0.6h-0.8zM433.9,478.3h0.9v0.8h-0.9zM435.8,472.8h1.7v1.4h-1.7zM423.8,483.6h0.8v0.6h-0.8zM420.0,480.6h1.4v1.2h-1.4zM438.5,472.1h0.8v0.6h-0.8zM433.2,474.0h1.4v1.2h-1.4zM430.2,472.4h2.2v1.8h-2.2zM417.5,484.9h1.9v1.5h-1.9zM423.6,480.4h1.9v1.5h-1.9zM437.3,468.8h2.2v1.8h-2.2zM435.7,470.8h0.8v0.6h-0.8zM436.4,475.3h2.2v1.8h-2.2zM441.4,473.3h1.1v0.9h-1.1zM429.7,480.7h0.8v0.6h-0.8zM438.1,474.3h0.9v0.8h-0.9zM428.1,482.4h1.9v1.5h-1.9zM428.5,482.8h1.3v1.0h-1.3zM435.0,476.0h1.3v1.0h-1.3zM444.1,469.3h1.3v1.0h-1.3zM430.8,476.8h1.1v0.9h-1.1zM442.3,468.4h0.9v0.8h-0.9zM400.0,483.4h1.3v1.0h-1.3zM409.6,485.9h1.3v1.0h-1.3zM401.2,484.7h0.8v0.6h-0.8zM402.8,481.8h1.1v0.9h-1.1zM407.0,488.6h1.3v1.0h-1.3zM399.1,485.7h1.1v0.9h-1.1zM391.7,483.9h0.8v0.6h-0.8zM397.4,483.2h0.9v0.8h-0.9zM397.7,481.7h1.1v0.9h-1.1zM404.1,486.8h0.9v0.8h-0.9zM417.5,488.3h0.9v0.8h-0.9zM404.1,484.6h1.4v1.2h-1.4zM395.7,480.8h0.8v0.6h-0.8zM415.9,488.3h1.1v0.9h-1.1zM409.8,490.1h1.9v1.5h-1.9zM401.8,488.5h1.1v0.9h-1.1zM427.3,460.6h0.8v0.6h-0.8zM426.8,458.9h1.9v1.5h-1.9zM425.6,460.4h0.8v0.6h-0.8zM431.6,463.1h1.4v1.2h-1.4zM429.2,460.5h2.2v1.8h-2.2zM433.0,460.0h1.3v1.0h-1.3zM432.1,459.8h2.2v1.8h-2.2zM430.0,459.9h1.1v0.9h-1.1zM430.5,460.7h1.4v1.2h-1.4zM426.9,481.3h1.4v1.2h-1.4zM421.0,480.4h0.8v0.6h-0.8zM424.1,481.6h1.7v1.4h-1.7zM419.1,479.7h1.1v0.9h-1.1zM417.1,484.1h0.8v0.6h-0.8zM416.7,480.3h0.9v0.8h-0.9zM422.1,482.1h1.9v1.5h-1.9zM423.6,480.2h0.8v0.6h-0.8zM412.7,479.9h1.7v1.4h-1.7zM422.7,482.0h1.9v1.5h-1.9zM418.8,483.0h0.9v0.8h-0.9zM417.8,455.9h1.3v1.0h-1.3zM421.9,455.9h0.8v0.6h-0.8zM418.4,456.6h1.7v1.4h-1.7zM417.9,455.5h0.9v0.8h-0.9zM433.3,486.2h1.3v1.0h-1.3zM435.8,485.0h0.8v0.6h-0.8zM434.6,486.5h1.9v1.5h-1.9zM432.0,485.6h0.9v0.8h-0.9zM435.2,486.2h1.4v1.2h-1.4zM432.1,486.2h1.7v1.4h-1.7zM434.1,485.8h0.8v0.6h-0.8zM435.9,486.6h2.2v1.8h-2.2zM433.9,486.0h1.7v1.4h-1.7zM434.2,485.6h1.3v1.0h-1.3zM435.4,484.8h1.4v1.2h-1.4zM434.7,485.9h1.1v0.9h-1.1zM395.7,485.0h1.1v0.9h-1.1zM391.9,485.9h2.2v1.8h-2.2zM393.8,486.6h0.8v0.6h-0.8zM393.2,485.6h2.2v1.8h-2.2zM395.7,484.7h1.3v1.0h-1.3zM393.6,487.1h0.8v0.6h-0.8zM426.0,445.6h1.1v0.9h-1.1zM422.7,449.5h0.8v0.6h-0.8zM424.2,449.5h1.7v1.4h-1.7zM424.7,449.7h1.9v1.5h-1.9zM410.3,441.9h2.2v1.8h-2.2zM416.1,440.3h1.1v0.9h-1.1zM416.9,439.9h1.4v1.2h-1.4zM415.8,438.6h0.9v0.8h-0.9zM410.7,441.0h0.9v0.8h-0.9zM419.5,438.2h1.7v1.4h-1.7zM416.7,443.9h1.1v0.9h-1.1zM414.0,477.3h1.9v1.5h-1.9zM409.9,478.2h0.9v0.8h-0.9zM415.6,473.9h1.4v1.2h-1.4zM410.6,481.5h1.1v0.9h-1.1zM419.1,478.7h0.8v0.6h-0.8zM410.2,481.9h2.2v1.8h-2.2zM413.9,479.7h1.3v1.0h-1.3zM417.5,477.9h0.8v0.6h-0.8zM412.3,480.3h0.9v0.8h-0.9zM414.4,481.1h1.4v1.2h-1.4zM420.2,491.2h1.7v1.4h-1.7zM419.5,491.9h1.9v1.5h-1.9zM420.9,492.0h0.8v0.6h-0.8zM413.4,491.7h1.7v1.4h-1.7zM422.1,490.0h0.9v0.8h-0.9zM415.0,489.4h0.8v0.6h-0.8zM417.9,491.3h0.8v0.6h-0.8zM421.5,488.9h1.7v1.4h-1.7zM420.8,490.4h1.3v1.0h-1.3zM419.1,491.0h1.1v0.9h-1.1zM420.1,491.1h0.8v0.6h-0.8zM394.2,480.7h2.2v1.8h-2.2zM395.9,483.6h1.4v1.2h-1.4zM393.2,482.4h2.2v1.8h-2.2zM400.0,480.7h0.8v0.6h-0.8zM394.4,481.8h1.4v1.2h-1.4zM393.4,479.7h1.3v1.0h-1.3zM401.8,467.2h1.9v1.5h-1.9zM403.6,467.2h1.1v0.9h-1.1zM397.4,469.6h0.8v0.6h-0.8zM404.3,466.4h0.8v0.6h-0.8zM400.9,466.8h1.1v0.9h-1.1zM395.9,470.4h1.7v1.4h-1.7zM404.8,468.3h1.7v1.4h-1.7zM402.5,468.1h2.2v1.8h-2.2zM401.5,467.0h0.9v0.8h-0.9zM401.5,467.2h2.2v1.8h-2.2zM399.1,467.1h0.9v0.8h-0.9zM401.9,467.3h1.1v0.9h-1.1zM402.2,466.5h1.3v1.0h-1.3zM397.6,467.7h1.7v1.4h-1.7zM403.8,466.8h1.4v1.2h-1.4zM401.7,467.5h2.2v1.8h-2.2zM403.7,468.0h1.4v1.2h-1.4zM400.3,468.8h1.4v1.2h-1.4zM404.7,466.0h1.9v1.5h-1.9zM403.0,466.7h1.1v0.9h-1.1zM404.2,467.7h1.7v1.4h-1.7zM401.7,468.4h1.3v1.0h-1.3zM405.5,469.3h0.9v0.8h-0.9zM401.8,467.2h1.1v0.9h-1.1zM405.8,467.7h0.9v0.8h-0.9zM403.6,466.7h1.3v1.0h-1.3zM402.4,469.7h0.8v0.6h-0.8zM405.2,469.3h1.7v1.4h-1.7zM413.5,448.8h0.9v0.8h-0.9zM417.5,448.7h1.3v1.0h-1.3zM412.2,445.7h1.3v1.0h-1.3zM412.9,443.2h2.2v1.8h-2.2zM413.1,447.5h1.1v0.9h-1.1zM410.2,443.8h1.3v1.0h-1.3zM416.3,444.9h1.1v0.9h-1.1zM415.2,445.2h0.9v0.8h-0.9zM414.0,448.5h1.1v0.9h-1.1zM415.1,449.3h1.3v1.0h-1.3zM414.9,449.7h2.2v1.8h-2.2zM415.6,447.7h0.9v0.8h-0.9zM395.0,475.6h1.3v1.0h-1.3zM399.0,481.5h1.1v0.9h-1.1zM398.2,475.9h1.4v1.2h-1.4zM399.2,480.7h2.2v1.8h-2.2zM398.9,475.1h1.7v1.4h-1.7zM410.1,434.9h1.4v1.2h-1.4zM412.0,436.7h1.9v1.5h-1.9zM414.6,437.6h1.7v1.4h-1.7zM415.1,436.9h2.2v1.8h-2.2zM412.0,438.5h1.9v1.5h-1.9zM409.4,436.2h1.3v1.0h-1.3zM413.8,436.9h0.8v0.6h-0.8zM411.6,436.3h0.8v0.6h-0.8zM430.5,480.8h2.2v1.8h-2.2zM424.9,480.2h0.9v0.8h-0.9zM431.2,484.8h1.9v1.5h-1.9zM428.5,480.1h0.9v0.8h-0.9zM429.1,481.0h1.1v0.9h-1.1zM435.1,479.7h0.8v0.6h-0.8zM434.7,483.0h1.3v1.0h-1.3zM429.4,480.6h1.3v1.0h-1.3zM427.5,462.6h1.4v1.2h-1.4zM427.3,464.6h0.8v0.6h-0.8zM428.4,463.1h1.1v0.9h-1.1zM428.8,462.8h1.9v1.5h-1.9zM429.3,462.7h1.7v1.4h-1.7zM432.1,462.3h0.8v0.6h-0.8zM430.4,463.6h1.4v1.2h-1.4zM430.6,463.3h1.4v1.2h-1.4zM430.3,461.7h1.1v0.9h-1.1zM427.5,462.8h0.9v0.8h-0.9zM430.4,464.6h1.1v0.9h-1.1zM426.2,462.2h1.7v1.4h-1.7zM430.4,461.3h0.8v0.6h-0.8zM430.7,462.0h1.3v1.0h-1.3zM428.2,483.2h2.2v1.8h-2.2zM425.4,482.3h0.9v0.8h-0.9zM425.6,479.7h1.3v1.0h-1.3zM422.5,482.0h0.9v0.8h-0.9zM426.9,483.2h1.9v1.5h-1.9zM421.8,482.0h1.4v1.2h-1.4zM425.9,482.9h2.2v1.8h-2.2zM434.0,480.4h1.3v1.0h-1.3zM430.2,477.0h2.2v1.8h-2.2zM428.8,476.2h0.8v0.6h-0.8zM427.9,480.7h1.3v1.0h-1.3zM427.9,475.4h0.8v0.6h-0.8zM426.6,476.1h1.4v1.2h-1.4zM426.2,476.6h1.4v1.2h-1.4zM423.5,467.0h1.9v1.5h-1.9zM422.0,466.0h1.3v1.0h-1.3zM425.2,466.1h0.9v0.8h-0.9zM424.8,465.8h1.7v1.4h-1.7zM423.6,465.8h1.9v1.5h-1.9zM421.0,466.5h1.1v0.9h-1.1zM423.6,464.6h1.7v1.4h-1.7zM423.7,467.3h1.9v1.5h-1.9zM427.2,439.6h0.9v0.8h-0.9zM425.8,439.9h2.2v1.8h-2.2zM422.5,438.1h1.3v1.0h-1.3zM425.8,438.2h1.7v1.4h-1.7zM425.1,440.7h0.8v0.6h-0.8zM415.9,456.2h1.4v1.2h-1.4zM412.6,455.0h1.3v1.0h-1.3zM412.9,456.9h1.9v1.5h-1.9zM409.3,454.3h0.8v0.6h-0.8zM410.9,454.6h2.2v1.8h-2.2zM410.3,455.5h1.1v0.9h-1.1zM412.0,467.5h0.8v0.6h-0.8zM414.2,458.2h1.1v0.9h-1.1zM416.5,417.4h0.9v0.8h-0.9zM434.1,464.2h1.4v1.2h-1.4zM400.4,478.3h0.9v0.8h-0.9zM408.0,447.6h0.9v0.8h-0.9zM421.5,444.1h1.4v1.2h-1.4zM409.8,459.9h1.1v0.9h-1.1zM431.3,444.0h1.4v1.2h-1.4zM430.4,466.7h0.9v0.8h-0.9zM427.5,489.8h0.8v0.6h-0.8zM420.7,477.5h0.8v0.6h-0.8zM427.0,453.0h1.7v1.4h-1.7zM407.3,486.9h1.3v1.0h-1.3zM392.4,464.9h1.4v1.2h-1.4zM420.6,431.2h1.4v1.2h-1.4zM420.5,457.7h1.7v1.4h-1.7zM431.2,469.4h1.7v1.4h-1.7zM395.7,472.0h1.1v0.9h-1.1zM390.8,478.9h1.3v1.0h-1.3zM442.3,475.8h0.9v0.8h-0.9zM422.6,433.0h0.8v0.6h-0.8zM446.2,478.6h1.3v1.0h-1.3zM412.8,457.4h0.9v0.8h-0.9zM403.4,450.1h0.9v0.8h-0.9zM408.2,437.9h1.1v0.9h-1.1zM422.3,440.4h1.7v1.4h-1.7zM420.8,453.8h0.8v0.6h-0.8zM424.3,433.7h1.4v1.2h-1.4zM409.0,471.6h1.9v1.5h-1.9zM423.3,430.0h2.2v1.8h-2.2zM415.4,448.0h1.9v1.5h-1.9zM432.3,467.2h1.4v1.2h-1.4zM420.3,492.8h1.1v0.9h-1.1zM391.4,477.0h1.4v1.2h-1.4zM431.9,442.5h1.4v1.2h-1.4zM423.7,432.3h0.8v0.6h-0.8zM409.3,473.1h0.8v0.6h-0.8zM397.7,478.1h1.3v1.0h-1.3zM445.3,476.1h1.7v1.4h-1.7zM385.1,485.2h1.4v1.2h-1.4zM392.1,475.8h1.3v1.0h-1.3zM419.4,444.0h1.1v0.9h-1.1zM427.8,479.4h1.4v1.2h-1.4zM421.5,452.8h1.1v0.9h-1.1zM400.5,457.5h2.2v1.8h-2.2zM392.4,488.7h1.1v0.9h-1.1zM397.9,457.5h2.2v1.8h-2.2zM408.0,461.1h2.2v1.8h-2.2zM430.8,453.4h1.7v1.4h-1.7zM415.8,439.0h1.1v0.9h-1.1zM423.1,484.9h1.3v1.0h-1.3zM414.0,427.8h1.7v1.4h-1.7zM418.1,492.0h1.4v1.2h-1.4zM391.4,473.4h1.4v1.2h-1.4zM398.2,456.3h1.1v0.9h-1.1zM390.0,492.0h1.7v1.4h-1.7zM419.2,424.9h1.3v1.0h-1.3zM417.5,430.0h1.9v1.5h-1.9zM404.7,459.8h1.9v1.5h-1.9zM436.9,481.8h1.1v0.9h-1.1zM386.0,479.2h0.8v0.6h-0.8zM434.1,458.3h0.8v0.6h-0.8zM424.5,425.8h0.9v0.8h-0.9zM410.5,470.2h1.1v0.9h-1.1zM418.7,431.7h0.9v0.8h-0.9zM400.6,456.8h1.7v1.4h-1.7zM416.2,429.5h1.1v0.9h-1.1zM416.6,475.6h0.9v0.8h-0.9zM399.5,468.3h2.2v1.8h-2.2zM400.9,468.4h1.4v1.2h-1.4zM415.6,424.5h0.8v0.6h-0.8zM398.8,453.2h1.9v1.5h-1.9zM422.4,489.0h1.1v0.9h-1.1zM396.9,490.1h1.7v1.4h-1.7zM419.3,477.3h1.3v1.0h-1.3zM431.9,487.5h1.3v1.0h-1.3zM415.7,457.2h1.3v1.0h-1.3zM411.1,441.9h0.8v0.6h-0.8zM424.2,439.2h0.9v0.8h-0.9zM414.8,449.4h1.9v1.5h-1.9zM425.7,485.0h1.1v0.9h-1.1zM420.8,447.6h1.9v1.5h-1.9zM416.1,486.0h0.9v0.8h-0.9zM425.9,444.5h1.7v1.4h-1.7zM429.3,455.9h1.1v0.9h-1.1zM418.2,486.7h1.9v1.5h-1.9zM441.2,481.6h1.9v1.5h-1.9zM417.7,468.6h1.7v1.4h-1.7zM404.3,493.3h1.1v0.9h-1.1zM406.6,472.9h0.8v0.6h-0.8zM422.0,463.6h1.7v1.4h-1.7zM444.1,474.6h0.8v0.6h-0.8zM442.7,473.1h1.9v1.5h-1.9zM437.4,489.0h1.1v0.9h-1.1zM423.7,423.2h0.9v0.8h-0.9zM414.5,459.6h2.2v1.8h-2.2zM396.2,481.4h1.9v1.5h-1.9zM417.0,426.0h0.9v0.8h-0.9zM430.8,489.5h1.9v1.5h-1.9zM427.3,484.7h2.2v1.8h-2.2zM438.7,484.6h1.7v1.4h-1.7zM397.4,467.0h1.9v1.5h-1.9zM426.5,464.2h0.8v0.6h-0.8zM424.3,455.1h0.9v0.8h-0.9zM388.2,491.0h2.2v1.8h-2.2zM404.3,451.0h1.3v1.0h-1.3zM414.0,490.0h1.7v1.4h-1.7zM412.9,442.9h0.9v0.8h-0.9zM410.1,451.6h0.9v0.8h-0.9zM410.8,450.0h1.3v1.0h-1.3zM411.2,455.4h1.9v1.5h-1.9zM399.2,463.5h2.2v1.8h-2.2zM423.1,422.1h1.7v1.4h-1.7zM396.8,485.8h1.1v0.9h-1.1zM422.6,426.2h0.8v0.6h-0.8z" fill-opacity="1.0"/></g>
<path d="M510.1,420.1 L510.5,422.1 L511.1,424.1 L511.5,426.1 L511.8,428.1 L512.2,430.2 L512.6,432.2 L512.9,434.2 L513.3,436.2 L513.6,438.2 L514.0,440.2 L514.3,442.3 L514.7,444.3 L515.0,446.3 L515.4,448.3 L515.7,450.3 L516.1,452.4 L516.5,454.4 L516.7,456.4 L516.9,458.4 L517.1,460.4 L517.4,462.4 L517.6,464.5 L517.9,466.5 L518.1,468.5 L518.4,470.5 L518.7,472.5 L519.0,474.6 L519.4,476.6 L519.8,478.6 L520.2,480.6 L520.3,482.6 L520.3,484.6 L520.3,486.7 L520.3,488.7 L520.2,490.7 L520.2,492.7 L520.1,494.7 L519.9,496.8 L519.7,498.8 L519.4,500.8 L519.1,502.8 L518.7,504.8 L518.4,506.8 L518.1,508.9 L517.8,510.9 L517.4,512.9 L517.0,514.9 L516.7,516.9 L516.3,518.9 L515.0,521.0 L513.6,523.0 M519.4,420.1 L519.7,422.1 L520.0,424.1 L520.3,426.1 L520.5,428.1 L520.7,430.2 L520.9,432.2 L521.1,434.2 L521.3,436.2 L521.5,438.2 L521.7,440.2 L521.9,442.3 L522.1,444.3 L522.3,446.3 L522.5,448.3 L522.7,450.3 L522.9,452.4 L523.1,454.4 L523.3,456.4 L523.4,458.4 L523.5,460.4 L523.6,462.4 L523.7,464.5 L523.9,466.5 L524.0,468.5 L524.1,470.5 L524.3,472.5 L524.5,474.6 L524.7,476.6 L525.0,478.6 L525.2,480.6 L525.3,482.6 L525.3,484.6 L525.3,486.7 L525.3,488.7 L525.2,490.7 L525.2,492.7 L525.2,494.7 L525.1,496.8 L524.9,498.8 L524.8,500.8 L524.6,502.8 L524.4,504.8 L524.2,506.8 L524.0,508.9 L523.8,510.9 L523.6,512.9 L523.4,514.9 L523.2,516.9 L523.0,518.9 L522.2,521.0 L521.4,523.0 M527.4,420.1 L527.6,422.1 L527.8,424.1 L527.9,426.1 L528.0,428.1 L528.1,430.2 L528.2,432.2 L528.3,434.2 L528.4,436.2 L528.5,438.2 L528.6,440.2 L528.7,442.3 L528.8,444.3 L528.9,446.3 L529.0,448.3 L529.1,450.3 L529.2,452.4 L529.3,454.4 L529.3,456.4 L529.4,458.4 L529.4,460.4 L529.4,462.4 L529.5,464.5 L529.6,466.5 L529.6,468.5 L529.7,470.5 L529.7,472.5 L529.8,474.6 L530.0,476.6 L530.1,478.6 L530.2,480.6 L530.2,482.6 L530.2,484.6 L530.2,486.7 L530.2,488.7 L530.2,490.7 L530.2,492.7 L530.2,494.7 L530.1,496.8 L530.1,498.8 L530.0,500.8 L529.9,502.8 L529.8,504.8 L529.7,506.8 L529.6,508.9 L529.6,510.9 L529.5,512.9 L529.4,514.9 L529.2,516.9 L529.2,518.9 L528.8,521.0 L528.4,523.0 M534.3,420.1 L534.3,422.1 L534.4,424.1 L534.5,426.1 L534.5,428.1 L534.5,430.2 L534.6,432.2 L534.6,434.2 L534.7,436.2 L534.7,438.2 L534.7,440.2 L534.8,442.3 L534.8,444.3 L534.8,446.3 L534.8,448.3 L534.9,450.3 L534.9,452.4 L534.9,454.4 L534.9,456.4 L534.9,458.4 L534.9,460.4 L534.9,462.4 L535.0,464.5 L535.0,466.5 L535.0,468.5 L535.0,470.5 L535.0,472.5 L535.0,474.6 L535.1,476.6 L535.2,478.6 L535.2,480.6 L535.2,482.6 L535.2,484.6 L535.2,486.7 L535.2,488.7 L535.2,490.7 L535.2,492.7 L535.2,494.7 L535.2,496.8 L535.2,498.8 L535.1,500.8 L535.1,502.8 L535.1,504.8 L535.0,506.8 L535.0,508.9 L535.0,510.9 L535.0,512.9 L534.9,514.9 L534.9,516.9 L534.9,518.9 L534.7,521.0 L534.6,523.0 M540.1,418.1 L540.1,420.1 L540.1,422.1 L540.1,424.1 L540.1,426.1 L540.1,428.1 L540.1,430.2 L540.1,432.2 L540.1,434.2 L540.1,436.2 L540.1,438.2 L540.1,440.2 L540.1,442.3 L540.1,444.3 L540.2,446.3 L540.2,448.3 L540.2,450.3 L540.2,452.4 L540.2,454.4 L540.2,456.4 L540.1,458.4 L540.1,460.4 L540.1,462.4 L540.1,464.5 L540.1,466.5 L540.1,468.5 L540.1,470.5 L540.1,472.5 L540.1,474.6 L540.1,476.6 L540.2,478.6 L540.2,480.6 L540.2,482.6 L540.2,484.6 L540.2,486.7 L540.2,488.7 L540.2,490.7 L540.2,492.7 L540.2,494.7 L540.2,496.8 L540.2,498.8 L540.2,500.8 L540.2,502.8 L540.1,504.8 L540.1,506.8 L540.1,508.9 L540.1,510.9 L540.1,512.9 L540.1,514.9 L540.1,516.9 L540.1,518.9 L540.1,521.0 L540.1,523.0 M545.2,418.1 L545.2,420.1 L545.2,422.1 L545.2,424.1 L545.2,426.1 L545.2,428.1 L545.2,430.2 L545.2,432.2 L545.2,434.2 L545.2,436.2 L545.2,438.2 L545.2,440.2 L545.2,442.3 L545.2,444.3 L545.2,446.3 L545.2,448.3 L545.2,450.3 L545.2,452.4 L545.2,454.4 L545.2,456.4 L545.2,458.4 L545.2,460.4 L545.1,462.4 L545.1,464.5 L545.1,466.5 L545.1,468.5 L545.1,470.5 L545.1,472.5 L545.1,474.6 L545.1,476.6 L545.1,478.6 L545.1,480.6 L545.1,482.6 L545.1,484.6 L545.1,486.7 L545.1,488.7 L545.1,490.7 L545.1,492.7 L545.1,494.7 L545.1,496.8 L545.1,498.8 L545.1,500.8 L545.1,502.8 L545.1,504.8 L545.1,506.8 L545.1,508.9 L545.1,510.9 L545.2,512.9 L545.2,514.9 L545.2,516.9 L545.2,518.9 L545.2,521.0 L545.2,523.0 M551.0,418.1 L551.0,420.1 L551.0,422.1 L551.0,424.1 L551.0,426.1 L551.0,428.1 L551.0,430.2 L550.9,432.2 L550.9,434.2 L550.9,436.2 L550.9,438.2 L550.8,440.2 L550.8,442.3 L550.8,444.3 L550.7,446.3 L550.7,448.3 L550.7,450.3 L550.6,452.4 L550.6,454.4 L550.5,456.4 L550.5,458.4 L550.4,460.4 L550.4,462.4 L550.3,464.5 L550.3,466.5 L550.2,468.5 L550.2,470.5 L550.1,472.5 L550.1,474.6 L550.1,476.6 L550.1,478.6 L550.1,480.6 L550.1,482.6 L550.1,484.6 L550.1,486.7 L550.1,488.7 L550.1,490.7 L550.1,492.7 L550.1,494.7 L550.2,496.8 L550.2,498.8 L550.2,500.8 L550.2,502.8 L550.2,504.8 L550.2,506.8 L550.3,508.9 L550.3,510.9 L550.4,512.9 L550.4,514.9 L550.4,516.9 L550.5,518.9 L550.5,521.0 L550.8,523.0 M558.0,418.1 L557.8,420.1 L557.8,422.1 L557.8,424.1 L557.7,426.1 L557.6,428.1 L557.6,430.2 L557.5,432.2 L557.4,434.2 L557.4,436.2 L557.3,438.2 L557.2,440.2 L557.1,442.3 L557.0,444.3 L556.9,446.3 L556.8,448.3 L556.7,450.3 L556.6,452.4 L556.4,454.4 L556.3,456.4 L556.2,458.4 L556.0,460.4 L555.9,462.4 L555.7,464.5 L555.6,466.5 L555.5,468.5 L555.4,470.5 L555.3,472.5 L555.2,474.6 L555.2,476.6 L555.2,478.6 L555.1,480.6 L555.0,482.6 L555.0,484.6 L555.1,486.7 L555.1,488.7 L555.1,490.7 L555.1,492.7 L555.2,494.7 L555.2,496.8 L555.3,498.8 L555.4,500.8 L555.4,502.8 L555.5,504.8 L555.6,506.8 L555.7,508.9 L555.8,510.9 L555.9,512.9 L556.0,514.9 L556.1,516.9 L556.2,518.9 L556.4,521.0 L557.1,523.0 M566.3,416.0 L566.1,418.1 L565.9,420.1 L565.7,422.1 L565.6,424.1 L565.5,426.1 L565.4,428.1 L565.2,430.2 L565.1,432.2 L564.9,434.2 L564.7,436.2 L564.5,438.2 L564.3,440.2 L564.1,442.3 L563.9,444.3 L563.7,446.3 L563.5,448.3 L563.3,450.3 L563.0,452.4 L562.8,454.4 L562.5,456.4 L562.3,458.4 L562.0,460.4 L561.7,462.4 L561.5,464.5 L561.3,466.5 L561.0,468.5 L560.8,470.5 L560.6,472.5 L560.5,474.6 L560.4,476.6 L560.3,478.6 L560.2,480.6 L560.0,482.6 L560.0,484.6 L560.0,486.7 L560.0,488.7 L560.0,490.7 L560.1,492.7 L560.3,494.7 L560.4,496.8 L560.5,498.8 L560.6,500.8 L560.8,502.8 L560.9,504.8 L561.1,506.8 L561.3,508.9 L561.6,510.9 L561.8,512.9 L562.0,514.9 L562.2,516.9 L562.5,518.9 L562.9,521.0 L564.2,523.0 M576.6,412.0 L576.2,414.0 L575.8,416.0 L575.5,418.1 L575.2,420.1 L574.9,422.1 L574.7,424.1 L574.4,426.1 L574.2,428.1 L573.9,430.2 L573.7,432.2 L573.3,434.2 L573.0,436.2 L572.7,438.2 L572.3,440.2 L572.0,442.3 L571.6,444.3 L571.3,446.3 L570.9,448.3 L570.5,450.3 L570.1,452.4 L569.7,454.4 L569.3,456.4 L568.8,458.4 L568.4,460.4 L567.9,462.4 L567.5,464.5 L567.2,466.5 L566.8,468.5 L566.5,470.5 L566.1,472.5 L565.9,474.6 L565.6,476.6 L565.4,478.6 L565.2,480.6 L565.0,482.6 L565.0,484.6 L565.0,486.7 L565.0,488.7 L565.0,490.7 L565.2,492.7 L565.4,494.7 L565.6,496.8 L565.8,498.8 L566.1,500.8 L566.3,502.8 L566.6,504.8 L566.8,506.8 L567.3,508.9 L567.7,510.9 L568.1,512.9 L568.4,514.9 L568.7,516.9 L569.2,518.9 L570.1,521.0 L572.2,523.0 M502.3,429 H583.9 M506.4,444 H580.2 M510.6,461.3 H574.9 M513.0,473.3 H571.6 M515.3,482.5 H570.0 M515.2,491.5 H570.1 M513.9,501 H571.6 M511.7,509.5 H573.7 M509.5,517.5 H575.9" stroke="#808080" stroke-width="0.6" fill="none"/>
<path d="M500,420.5 L503,420.3 L506,420.2 L509,420.0 L512,419.9 L515,419.7 L518,419.6 L521,419.4 L524,419.3 L527,419.1 L530,419.0 L533,418.8 L536,418.7 L539,418.5 L542,418.4 L545,418.2 L548,418.1 L551,417.8 L554,417.5 L557,417.0 L560,416.4 L563,415.7 L566,415.0 L569,414.2 L572,413.3 L575,412.3 L578,411.3 L581,410.3 L584,409.2 L587,408.0 L590,406.8" stroke="#777" stroke-width="1" fill="none"/>
<path d="M493.3,525 V583 M511.6,525 V583 M530.8,525 V583 M548.3,525 V583 M566.6,525 V583 M585,525 V583" stroke="#888" stroke-width="0.7"/>
<path d="M682,386.5 V410 M690.3,386.5 V410 M682,386.5 H690.3 M705.6,386.5 V410 M713.2,386.5 V410 M705.6,386.5 H713.2 M691,387.2 H748 M691,392 H748 M690,397 H748 M700,383 H760 M646.6,378.9 L682.7,394.8 M663,406.6 L707.7,394 M748,397 L803,365 M752,385.8 L782.6,365 M748,383 V445.4 M752.7,383 V445.4 M752,384.4 L781.2,423.3 M756,384 L785,422.5 M805.5,356 V461 M809,356 V461 M602,393 L630,393 M603,400 H633 M612,390 V410 M620,396 L634,410 M587.5,442.2 L626.3,460.2 M587.5,446 L622,461 M631.2,422.5 V461 M669.5,430 V512 M674.4,430 V512 M670,430 L732.6,456.5 M698,438.5 H706.3 V460.7 M698,438.5 V460.7 M752,445.4 v-3.5 h4 v-3.5 h4 v-3.5 h4 v-3.5 h4 v-3.5 h4 v-3.5 h4 v-3.5 h4 M732.6,460 v-3.5 h3.5 v-3.5 h3.5 v-3.5 h3.5 v-3.5 h3.5 v-3.5 h3.5 M766,453.8 H781 V460.7 M766,453.8 V460.7 M786.7,440 L803.4,460.7 M789.5,438 L806,458 M731,445.4 L786.7,399.7 M655,430 L700,446 M660,425 L740,440 M600,483.8 L663.8,512.3 M605,482 L668,510 M593,488 V511.6 M596.5,488 V511.6 M690,476 L700,483 H706 V490 H712 V497 H718 V504 H724 V511 M678,480 L690,505 M640,474 L720,512 M700,490 L760,478 M575,495 L600,512 M592.8,526.9 L628.7,582 M596.2,526.9 L632,582 M585,531.6 H725 M660,534.2 H724 M690,520.2 H797 M585,566 H619 M585,568.2 H619 M585,570.3 H619 M585,572.5 H619 M585,574.6 H619 M651.6,569 V582 M632.8,550.8 L651.6,570 M636,553 L687,521.7 M696.3,552 V537 L745,524.5 M696.3,552 L720.2,543.6 M652,574 L700,560 H745 M745,560 L790,537" stroke="#8a8a8a" stroke-width="0.75" fill="none"/>
<path d="M585,575.8 H624.5 V583 H585 Z M652.6,574.8 L671.3,574.8 L671.3,582 L652.6,582 Z M714,561.2 L725.4,532.1 H793 L760,548 L735,557 Z" fill="#c6c6c6"/>
<path d="M0,532.3 H470" stroke="#161616" stroke-width="1.6" fill="none"/>
<path d="M0,544.2 H464.4 V646.4 H829.7 V595.8 H888.5 V544.2 H1132.5 V531.8 H797.5" stroke="#161616" stroke-width="1.7" fill="none"/>
<path d="M470,532.3 V634.2 H825.3 V585" stroke="#161616" stroke-width="1.7" fill="none"/>
<path d="M825.3,585 V634.5" stroke="#161616" stroke-width="3"/>
<path d="M470,583.9 H881.4 V535.5 H797.5" stroke="#161616" stroke-width="2" fill="none"/><path d="M470,584.3 H825" stroke="#161616" stroke-width="2.8"/>
<rect x="478.5" y="585" width="5" height="8" stroke="#161616" stroke-width="1.3" fill="#fff"/>
<rect x="592.5" y="585" width="5" height="8" stroke="#161616" stroke-width="1.3" fill="#fff"/>
<rect x="669.5" y="585" width="5" height="8" stroke="#161616" stroke-width="1.3" fill="#fff"/>
<rect x="747.5" y="585" width="5" height="8" stroke="#161616" stroke-width="1.3" fill="#fff"/>
<path d="M660,582.5 L795,535.5 Q798,534 802,533.8" stroke="#161616" stroke-width="2.2" fill="none"/>
<path d="M657.0,582.0 l6.5,-0.2 l-1.2,-3.2 l-5.3,2.2 z M663.6,579.8 l6.5,-0.2 l-1.2,-3.1 l-5.3,2.2 z M670.3,577.5 l6.5,-0.2 l-1.2,-3.0 l-5.3,2.2 z M677.0,575.3 l6.5,-0.2 l-1.2,-2.9 l-5.3,2.2 z M683.6,573.1 l6.5,-0.2 l-1.2,-2.8 l-5.3,2.2 z M690.2,570.9 l6.5,-0.2 l-1.2,-2.8 l-5.3,2.2 z M696.9,568.6 l6.5,-0.2 l-1.2,-2.7 l-5.3,2.2 z M703.5,566.4 l6.5,-0.2 l-1.2,-2.6 l-5.3,2.2 z M710.2,564.2 l6.5,-0.2 l-1.2,-2.5 l-5.3,2.2 z M716.9,562.0 l6.5,-0.2 l-1.2,-2.4 l-5.3,2.2 z M723.5,559.8 l6.5,-0.2 l-1.2,-2.3 l-5.3,2.2 z M730.1,557.5 l6.5,-0.2 l-1.2,-2.2 l-5.3,2.2 z M736.8,555.3 l6.5,-0.2 l-1.2,-2.1 l-5.3,2.2 z M743.5,553.1 l6.5,-0.2 l-1.2,-2.0 l-5.3,2.2 z M750.1,550.9 l6.5,-0.2 l-1.2,-1.9 l-5.3,2.2 z M756.8,548.6 l6.5,-0.2 l-1.2,-1.9 l-5.3,2.2 z M763.4,546.4 l6.5,-0.2 l-1.2,-1.8 l-5.3,2.2 z M770.0,544.2 l6.5,-0.2 l-1.2,-1.7 l-5.3,2.2 z M776.7,542.0 l6.5,-0.2 l-1.2,-1.6 l-5.3,2.2 z M783.4,539.7 l6.5,-0.2 l-1.2,-1.5 l-5.3,2.2 z" fill="#161616" stroke="#161616" stroke-width="1.6"/>
<path d="M695.5,582 L804,544.4 H879.6" stroke="#555" stroke-width="0.8" fill="none"/>
<path d="M797.5,520 V532.3" stroke="#161616" stroke-width="1.4"/>
<path d="M590,520 H797.5" stroke="#888" stroke-width="0.7"/>
<path d="M461,431.5 V532.3 M469.4,431.5 V532.3" stroke="#161616" stroke-width="2.2" fill="none"/>
<path d="M462.5,433 V531 M467.8,433 V531" stroke="#999" stroke-width="0.6"/>
<path d="M469.4,461 H510.5 M469.4,473.5 H513.1 M469.4,512.5 H511.0 M469.4,525 H499" stroke="#161616" stroke-width="2" fill="none"/>
<path d="M500.8,423.3 C501.2,424.7 502.2,428.8 503.0,431.6 C503.8,434.4 504.6,437.2 505.3,440.0 C506.1,442.8 506.8,445.8 507.5,448.3 C508.2,450.8 508.9,452.9 509.4,455.0 C509.9,457.1 509.9,457.9 510.5,461.0 C511.1,464.1 512.2,470.0 513.0,473.3 C513.8,476.6 514.9,478.6 515.3,481.0 C515.7,483.4 515.4,485.7 515.4,488.0 C515.4,490.3 515.2,493.0 515.0,495.0 C514.8,497.0 514.8,497.2 514.1,500.0 C513.5,502.8 512.0,508.8 511.1,512.0 C510.2,515.2 510.0,517.6 508.9,519.5 C507.8,521.4 506.1,522.4 504.4,523.3 C502.7,524.2 499.8,524.7 498.9,525.0" stroke="#161616" stroke-width="2.3" fill="none"/>
<path d="M469.6,430 L469.6,418 L477.5,418 L477.5,415.5 L474.2,415.5 L474.2,413.2 L488.8,413.2 Q497.5,414.5 501,424 L501,425.3 Z" fill="#574f41" stroke="#161616" stroke-width="1.7"/>
<path d="M461,432.3 L501,425.5" stroke="#161616" stroke-width="1.6"/>
<path d="M467.5,407.5 V431" stroke="#161616" stroke-width="1.3"/><path d="M467.5,414.5 H462 V422 H467.5 M464.5,417 V419.5" stroke="#161616" stroke-width="1.3" fill="#fff"/>
<path d="M473.8,435 H477.4 M475.6,435 V440.8 M473.8,440.8 H477.4 M473.8,491 H477.4 M475.6,491 V497 M473.8,497 H477.4" stroke="#111" stroke-width="1.4"/>
<path d="M470,478 L500,495 M474,483 L500,500 M484,488 V512 M488,490 V512 M472,476 L478,490" stroke="#8a8a8a" stroke-width="0.7" fill="none"/>
<path d="M597.0,389.5 C596.4,390.3 594.4,392.4 593.3,394.4 C592.2,396.4 591.3,399.0 590.5,401.6 C589.7,404.2 588.9,407.6 588.3,410.0 C587.6,412.4 587.1,413.8 586.6,416.1 C586.1,418.4 585.5,421.1 585.0,423.8 C584.5,426.5 583.9,429.7 583.3,432.2 C582.7,434.7 582.2,436.4 581.6,438.9 C581.0,441.4 580.2,444.3 579.4,447.2 C578.6,450.1 577.5,453.3 576.6,456.1 C575.7,458.9 574.9,460.9 574.1,463.8 C573.3,466.7 572.3,470.1 571.6,473.3 C570.9,476.5 570.2,479.8 569.9,482.8 C569.6,485.8 569.8,488.5 570.0,491.1 C570.2,493.7 570.6,495.7 571.1,498.3 C571.6,500.9 572.2,504.3 572.8,506.7 C573.4,509.1 574.2,510.9 574.7,512.8 C575.2,514.7 575.5,516.8 576.1,518.3 C576.7,519.8 577.1,520.6 578.3,521.6 C579.5,522.6 581.7,523.5 583.3,524.1 C584.9,524.7 587.0,525.0 587.7,525.2 L600,527 L641.1,531.6 C652,528.5 663,524.5 696.6,512.1 C720,504 740,497 763.1,490 C790,482 810,476.5 828,473" stroke="#161616" stroke-width="2.3" fill="none"/>
<path d="M588.2,410.2 H731 V422.5 H585.3" stroke="#161616" stroke-width="2" fill="none"/>
<path d="M782,410.3 H819 M782,410.3 V422.7 H819" stroke="#161616" stroke-width="2" fill="none"/>
<path d="M574.9,461.4 H828 V473" stroke="#161616" stroke-width="2" fill="none"/>
<path d="M571.5,474 H783 L666.8,511.8 L574.6,512.5" stroke="#161616" stroke-width="2" fill="none"/>
<path d="M582.9,367.1 H662 C672,367.3 680,368.5 690,370.5 V381.2 C680,379.5 670,378.3 659,378.1 H582.9 Z" fill="#574f41" stroke="#161616" stroke-width="1.8"/>
<path d="M690,369.2 V369.2 H699.4 V364.7 H720.2 V360.2 H740 V355.8 H759.8 V351.6 H780.1 V346.9 H800.8 V342.3 H823 V352.5 L690,381 Z" fill="#574f41" stroke="none"/>
<path d="M685,369.2 H699.4 V373.7 M695.8,364.7 H720.2 V369.2 M716,360.2 H740 V364.7 M736.4,355.8 H759.8 V360.3 M756.2,351.6 H780.1 V356.1 M776.5,346.9 H800.8 V351.4 M796.8,342.3 H823 V346.8" stroke="#161616" stroke-width="2" fill="none"/>
<path d="M690,369 V381.2 L823,352.5 V342" stroke="#161616" stroke-width="1.4" fill="none"/>
<path d="M615.5,382.8 H634.6 M619.4,382.8 V387.3 M595.2,387.3 H619.4" stroke="#161616" stroke-width="2" fill="none"/>
<path d="M634.6,378.6 V410" stroke="#161616" stroke-width="2"/>
<path d="M819.6,354 V461.4" stroke="#161616" stroke-width="2.2"/>
<path d="M805.8,356 V461 M808.5,356 V461 M823.4,352 V461 M825.8,352 V461" stroke="#999" stroke-width="0.8"/>
<path d="M822.5,329 V342 M822.5,329 L796.8,342.1 M805.8,363.8 L761.6,390" stroke="#444" stroke-width="0.7" fill="none"/>
<path d="M817,336 H829 V341 H824 M812,360 L829,351" stroke="#161616" stroke-width="1.4" fill="none"/>
<path transform="translate(222,532) scale(1.00,1.00)" d="M0,-21.5 m-2.2,0 a2.2,2.2 0 1,0 4.4,0 a2.2,2.2 0 1,0 -4.4,0 M-2.4,-18.6 L2.4,-18.6 L3.4,-10 L2.3,-9.5 L2,0 L0.4,0 L0,-8 L-0.4,0 L-2,0 L-2.3,-9.5 L-3.4,-10 Z" fill="#fff" stroke="#8a8a8a" stroke-width="0.80"/>
<path transform="translate(241,532) scale(1.00,1.00)" d="M0,-21.5 m-2.2,0 a2.2,2.2 0 1,0 4.4,0 a2.2,2.2 0 1,0 -4.4,0 M-2.4,-18.6 L2.4,-18.6 L3.4,-10 L2.3,-9.5 L2,0 L0.4,0 L0,-8 L-0.4,0 L-2,0 L-2.3,-9.5 L-3.4,-10 Z" fill="#fff" stroke="#8a8a8a" stroke-width="0.80"/>
<path transform="translate(271,532) scale(1.00,1.00)" d="M0,-21.5 m-2.2,0 a2.2,2.2 0 1,0 4.4,0 a2.2,2.2 0 1,0 -4.4,0 M-2.4,-18.6 L2.4,-18.6 L3.4,-10 L2.3,-9.5 L2,0 L0.4,0 L0,-8 L-0.4,0 L-2,0 L-2.3,-9.5 L-3.4,-10 Z" fill="#fff" stroke="#8a8a8a" stroke-width="0.80"/>
<path transform="translate(277,532) scale(1.05,1.05)" d="M0,-21.5 m-2.2,0 a2.2,2.2 0 1,0 4.4,0 a2.2,2.2 0 1,0 -4.4,0 M-2.4,-18.6 L2.4,-18.6 L3.4,-10 L2.3,-9.5 L2,0 L0.4,0 L0,-8 L-0.4,0 L-2,0 L-2.3,-9.5 L-3.4,-10 Z" fill="#fff" stroke="#8a8a8a" stroke-width="0.76"/>
<path transform="translate(283,532) scale(0.95,0.95)" d="M0,-21.5 m-2.2,0 a2.2,2.2 0 1,0 4.4,0 a2.2,2.2 0 1,0 -4.4,0 M-2.4,-18.6 L2.4,-18.6 L3.4,-10 L2.3,-9.5 L2,0 L0.4,0 L0,-8 L-0.4,0 L-2,0 L-2.3,-9.5 L-3.4,-10 Z" fill="#fff" stroke="#8a8a8a" stroke-width="0.84"/>
<path transform="translate(291,532) scale(0.50,0.50)" d="M0,-21.5 m-2.2,0 a2.2,2.2 0 1,0 4.4,0 a2.2,2.2 0 1,0 -4.4,0 M-2.4,-18.6 L2.4,-18.6 L3.4,-10 L2.3,-9.5 L2,0 L0.4,0 L0,-8 L-0.4,0 L-2,0 L-2.3,-9.5 L-3.4,-10 Z" fill="#fff" stroke="#8a8a8a" stroke-width="1.60"/>
<path transform="translate(296,532) scale(0.50,0.50)" d="M0,-21.5 m-2.2,0 a2.2,2.2 0 1,0 4.4,0 a2.2,2.2 0 1,0 -4.4,0 M-2.4,-18.6 L2.4,-18.6 L3.4,-10 L2.3,-9.5 L2,0 L0.4,0 L0,-8 L-0.4,0 L-2,0 L-2.3,-9.5 L-3.4,-10 Z" fill="#fff" stroke="#8a8a8a" stroke-width="1.60"/>
<path transform="translate(301,532) scale(0.50,0.50)" d="M0,-21.5 m-2.2,0 a2.2,2.2 0 1,0 4.4,0 a2.2,2.2 0 1,0 -4.4,0 M-2.4,-18.6 L2.4,-18.6 L3.4,-10 L2.3,-9.5 L2,0 L0.4,0 L0,-8 L-0.4,0 L-2,0 L-2.3,-9.5 L-3.4,-10 Z" fill="#fff" stroke="#8a8a8a" stroke-width="1.60"/>
<path transform="translate(355.4,532) scale(1.05,1.05)" d="M0,-21.5 m-2.2,0 a2.2,2.2 0 1,0 4.4,0 a2.2,2.2 0 1,0 -4.4,0 M-2.4,-18.6 L2.4,-18.6 L3.4,-10 L2.3,-9.5 L2,0 L0.4,0 L0,-8 L-0.4,0 L-2,0 L-2.3,-9.5 L-3.4,-10 Z" fill="#fff" stroke="#8a8a8a" stroke-width="0.76"/>
<path transform="translate(367,532) scale(1.05,1.05)" d="M0,-21.5 m-2.2,0 a2.2,2.2 0 1,0 4.4,0 a2.2,2.2 0 1,0 -4.4,0 M-2.4,-18.6 L2.4,-18.6 L3.4,-10 L2.3,-9.5 L2,0 L0.4,0 L0,-8 L-0.4,0 L-2,0 L-2.3,-9.5 L-3.4,-10 Z" fill="#fff" stroke="#8a8a8a" stroke-width="0.76"/>
<path transform="translate(810,532) scale(0.50,0.50)" d="M0,-21.5 m-2.2,0 a2.2,2.2 0 1,0 4.4,0 a2.2,2.2 0 1,0 -4.4,0 M-2.4,-18.6 L2.4,-18.6 L3.4,-10 L2.3,-9.5 L2,0 L0.4,0 L0,-8 L-0.4,0 L-2,0 L-2.3,-9.5 L-3.4,-10 Z" fill="#fff" stroke="#8a8a8a" stroke-width="1.60"/>
<path transform="translate(815,532) scale(0.50,0.50)" d="M0,-21.5 m-2.2,0 a2.2,2.2 0 1,0 4.4,0 a2.2,2.2 0 1,0 -4.4,0 M-2.4,-18.6 L2.4,-18.6 L3.4,-10 L2.3,-9.5 L2,0 L0.4,0 L0,-8 L-0.4,0 L-2,0 L-2.3,-9.5 L-3.4,-10 Z" fill="#fff" stroke="#8a8a8a" stroke-width="1.60"/>
<path transform="translate(820,532) scale(0.50,0.50)" d="M0,-21.5 m-2.2,0 a2.2,2.2 0 1,0 4.4,0 a2.2,2.2 0 1,0 -4.4,0 M-2.4,-18.6 L2.4,-18.6 L3.4,-10 L2.3,-9.5 L2,0 L0.4,0 L0,-8 L-0.4,0 L-2,0 L-2.3,-9.5 L-3.4,-10 Z" fill="#fff" stroke="#8a8a8a" stroke-width="1.60"/>
<path transform="translate(826,532) scale(0.85,0.85)" d="M0,-21.5 m-2.2,0 a2.2,2.2 0 1,0 4.4,0 a2.2,2.2 0 1,0 -4.4,0 M-2.4,-18.6 L2.4,-18.6 L3.4,-10 L2.3,-9.5 L2,0 L0.4,0 L0,-8 L-0.4,0 L-2,0 L-2.3,-9.5 L-3.4,-10 Z" fill="#fff" stroke="#8a8a8a" stroke-width="0.94"/>
<path transform="translate(832,532) scale(1.00,1.00)" d="M0,-21.5 m-2.2,0 a2.2,2.2 0 1,0 4.4,0 a2.2,2.2 0 1,0 -4.4,0 M-2.4,-18.6 L2.4,-18.6 L3.4,-10 L2.3,-9.5 L2,0 L0.4,0 L0,-8 L-0.4,0 L-2,0 L-2.3,-9.5 L-3.4,-10 Z" fill="#fff" stroke="#8a8a8a" stroke-width="0.80"/>
<path transform="translate(838,532) scale(1.00,1.00)" d="M0,-21.5 m-2.2,0 a2.2,2.2 0 1,0 4.4,0 a2.2,2.2 0 1,0 -4.4,0 M-2.4,-18.6 L2.4,-18.6 L3.4,-10 L2.3,-9.5 L2,0 L0.4,0 L0,-8 L-0.4,0 L-2,0 L-2.3,-9.5 L-3.4,-10 Z" fill="#fff" stroke="#8a8a8a" stroke-width="0.80"/>
<path transform="translate(893,532) scale(0.95,0.95)" d="M0,-21.5 m-2.2,0 a2.2,2.2 0 1,0 4.4,0 a2.2,2.2 0 1,0 -4.4,0 M-2.4,-18.6 L2.4,-18.6 L3.4,-10 L2.3,-9.5 L2,0 L0.4,0 L0,-8 L-0.4,0 L-2,0 L-2.3,-9.5 L-3.4,-10 Z" fill="#fff" stroke="#8a8a8a" stroke-width="0.84"/>
<circle cx="219" cy="528" r="3.5" fill="none" stroke="#8a8a8a" stroke-width="0.8"/><circle cx="230" cy="528" r="3.5" fill="none" stroke="#8a8a8a" stroke-width="0.8"/>
<path transform="translate(484,461) scale(0.85,0.85)" d="M0,-21.5 m-2.2,0 a2.2,2.2 0 1,0 4.4,0 a2.2,2.2 0 1,0 -4.4,0 M-2.4,-18.6 L2.4,-18.6 L3.4,-10 L2.3,-9.5 L2,0 L0.4,0 L0,-8 L-0.4,0 L-2,0 L-2.3,-9.5 L-3.4,-10 Z" fill="#fff" stroke="#8a8a8a" stroke-width="0.94"/>
<path transform="translate(795,410) scale(0.95,0.95)" d="M0,-21.5 m-2.2,0 a2.2,2.2 0 1,0 4.4,0 a2.2,2.2 0 1,0 -4.4,0 M-2.4,-18.6 L2.4,-18.6 L3.4,-10 L2.3,-9.5 L2,0 L0.4,0 L0,-8 L-0.4,0 L-2,0 L-2.3,-9.5 L-3.4,-10 Z" fill="#fff" stroke="#8a8a8a" stroke-width="0.84"/>
<path transform="translate(797,461) scale(0.90,0.90)" d="M0,-21.5 m-2.2,0 a2.2,2.2 0 1,0 4.4,0 a2.2,2.2 0 1,0 -4.4,0 M-2.4,-18.6 L2.4,-18.6 L3.4,-10 L2.3,-9.5 L2,0 L0.4,0 L0,-8 L-0.4,0 L-2,0 L-2.3,-9.5 L-3.4,-10 Z" fill="#fff" stroke="#8a8a8a" stroke-width="0.89"/>
<path transform="translate(640,461) scale(0.75,0.75)" d="M0,-21.5 m-2.2,0 a2.2,2.2 0 1,0 4.4,0 a2.2,2.2 0 1,0 -4.4,0 M-2.4,-18.6 L2.4,-18.6 L3.4,-10 L2.3,-9.5 L2,0 L0.4,0 L0,-8 L-0.4,0 L-2,0 L-2.3,-9.5 L-3.4,-10 Z" fill="#fff" stroke="#8a8a8a" stroke-width="1.07"/>
<path transform="translate(712,461) scale(0.75,0.75)" d="M0,-21.5 m-2.2,0 a2.2,2.2 0 1,0 4.4,0 a2.2,2.2 0 1,0 -4.4,0 M-2.4,-18.6 L2.4,-18.6 L3.4,-10 L2.3,-9.5 L2,0 L0.4,0 L0,-8 L-0.4,0 L-2,0 L-2.3,-9.5 L-3.4,-10 Z" fill="#fff" stroke="#8a8a8a" stroke-width="1.07"/>
<path transform="translate(758,461) scale(0.70,0.70)" d="M0,-21.5 m-2.2,0 a2.2,2.2 0 1,0 4.4,0 a2.2,2.2 0 1,0 -4.4,0 M-2.4,-18.6 L2.4,-18.6 L3.4,-10 L2.3,-9.5 L2,0 L0.4,0 L0,-8 L-0.4,0 L-2,0 L-2.3,-9.5 L-3.4,-10 Z" fill="#fff" stroke="#8a8a8a" stroke-width="1.14"/>
<path transform="translate(605,583) scale(0.80,0.80)" d="M0,-21.5 m-2.2,0 a2.2,2.2 0 1,0 4.4,0 a2.2,2.2 0 1,0 -4.4,0 M-2.4,-18.6 L2.4,-18.6 L3.4,-10 L2.3,-9.5 L2,0 L0.4,0 L0,-8 L-0.4,0 L-2,0 L-2.3,-9.5 L-3.4,-10 Z" fill="#fff" stroke="#8a8a8a" stroke-width="1.00"/>
<path transform="translate(676,578) scale(0.75,0.75)" d="M0,-21.5 m-2.2,0 a2.2,2.2 0 1,0 4.4,0 a2.2,2.2 0 1,0 -4.4,0 M-2.4,-18.6 L2.4,-18.6 L3.4,-10 L2.3,-9.5 L2,0 L0.4,0 L0,-8 L-0.4,0 L-2,0 L-2.3,-9.5 L-3.4,-10 Z" fill="#fff" stroke="#8a8a8a" stroke-width="1.07"/>
<path transform="translate(728,557) scale(0.60,0.60)" d="M0,-21.5 m-2.2,0 a2.2,2.2 0 1,0 4.4,0 a2.2,2.2 0 1,0 -4.4,0 M-2.4,-18.6 L2.4,-18.6 L3.4,-10 L2.3,-9.5 L2,0 L0.4,0 L0,-8 L-0.4,0 L-2,0 L-2.3,-9.5 L-3.4,-10 Z" fill="#fff" stroke="#8a8a8a" stroke-width="1.33"/>
<path transform="translate(762,546) scale(0.70,0.70)" d="M0,-21.5 m-2.2,0 a2.2,2.2 0 1,0 4.4,0 a2.2,2.2 0 1,0 -4.4,0 M-2.4,-18.6 L2.4,-18.6 L3.4,-10 L2.3,-9.5 L2,0 L0.4,0 L0,-8 L-0.4,0 L-2,0 L-2.3,-9.5 L-3.4,-10 Z" fill="#fff" stroke="#8a8a8a" stroke-width="1.14"/>
<path transform="translate(497,512.5) scale(0.90,0.90)" d="M0,-21.5 m-2.2,0 a2.2,2.2 0 1,0 4.4,0 a2.2,2.2 0 1,0 -4.4,0 M-2.4,-18.6 L2.4,-18.6 L3.4,-10 L2.3,-9.5 L2,0 L0.4,0 L0,-8 L-0.4,0 L-2,0 L-2.3,-9.5 L-3.4,-10 Z" fill="#fff" stroke="#8a8a8a" stroke-width="0.89"/>
<path transform="translate(603,512.5) scale(0.80,0.80)" d="M0,-21.5 m-2.2,0 a2.2,2.2 0 1,0 4.4,0 a2.2,2.2 0 1,0 -4.4,0 M-2.4,-18.6 L2.4,-18.6 L3.4,-10 L2.3,-9.5 L2,0 L0.4,0 L0,-8 L-0.4,0 L-2,0 L-2.3,-9.5 L-3.4,-10 Z" fill="#fff" stroke="#8a8a8a" stroke-width="1.00"/>
<path transform="translate(663,512) scale(0.75,0.75)" d="M0,-21.5 m-2.2,0 a2.2,2.2 0 1,0 4.4,0 a2.2,2.2 0 1,0 -4.4,0 M-2.4,-18.6 L2.4,-18.6 L3.4,-10 L2.3,-9.5 L2,0 L0.4,0 L0,-8 L-0.4,0 L-2,0 L-2.3,-9.5 L-3.4,-10 Z" fill="#fff" stroke="#8a8a8a" stroke-width="1.07"/></g></defs>
<rect width="2311" height="721" fill="#fff"/>
<use href="#base" transform="rotate(-0.06 566 532.4)"/>
<use href="#base" transform="translate(1163,-1.4) rotate(-0.06 566 532.4)"/>
<path d="M535.5,500.0 L535.5,498.4 L535.5,496.3 L535.4,493.9 L535.4,491.2 L535.4,488.4 L535.4,485.5 L535.5,482.7 L535.6,480.2 L535.9,477.7 L536.2,475.2 L536.5,472.7 L536.9,470.1 L537.4,467.6 L537.8,465.1 L538.3,462.8 L538.7,460.6 L539.2,458.5 L539.8,456.5 L540.4,454.6 L541.0,452.7 L541.5,450.9 L542.1,449.0 L542.5,447.2 L542.9,445.5 L543.1,443.8 L543.2,442.4 L543.3,441.1 L543.2,439.8 L543.1,438.6 L543.0,437.3 L542.8,436.0 L542.6,434.5 L542.3,432.9 L542.0,431.1 L541.6,429.1 L541.2,427.2 L540.8,425.1 L540.3,423.1 L539.8,421.0 L539.2,419.1 L538.5,417.1 L537.9,415.1 L537.1,413.1 L536.3,411.0 L535.5,409.1 L534.7,407.1 L533.8,405.2 L532.9,403.5 L531.9,401.8 L531.0,400.1 L530.0,398.5 L528.9,396.9 L527.8,395.4 L526.7,394.0 L525.5,392.7 L524.2,391.5 L522.8,390.3 L521.3,389.4 L519.8,388.6 L518.3,388.0 L516.9,387.4 L515.5,387.0 L514.2,386.6 L512.9,386.2 L511.5,385.8 L510.0,385.6 L508.5,385.4 L507.1,385.3 L505.9,385.2 L504.8,385.1 L503.9,385.1 L503.3,385.0 L502.7,392.0 L503.5,392.0 L504.4,392.1 L505.5,392.1 L506.6,392.2 L507.8,392.3 L509.0,392.4 L510.1,392.6 L511.1,392.8 L512.3,393.1 L513.5,393.5 L514.6,393.9 L515.8,394.3 L516.9,394.7 L517.9,395.3 L518.9,395.9 L519.8,396.5 L520.7,397.4 L521.7,398.4 L522.6,399.5 L523.5,400.7 L524.5,402.1 L525.4,403.5 L526.3,405.0 L527.1,406.5 L528.0,408.1 L528.8,409.8 L529.6,411.6 L530.4,413.5 L531.2,415.3 L531.9,417.2 L532.6,419.1 L533.2,420.9 L533.8,422.8 L534.3,424.7 L534.8,426.6 L535.3,428.5 L535.7,430.3 L536.0,432.2 L536.4,433.9 L536.6,435.5 L536.9,436.9 L537.1,438.1 L537.2,439.2 L537.3,440.2 L537.3,441.1 L537.3,442.1 L537.3,443.2 L537.1,444.5 L536.9,446.0 L536.5,447.5 L536.0,449.2 L535.5,451.0 L534.9,453.0 L534.3,455.0 L533.7,457.2 L533.3,459.4 L532.8,461.7 L532.4,464.2 L532.0,466.7 L531.6,469.3 L531.2,471.9 L530.8,474.6 L530.6,477.2 L530.4,479.8 L530.2,482.5 L530.2,485.4 L530.2,488.4 L530.2,491.3 L530.3,494.0 L530.4,496.5 L530.5,498.5 L530.5,500.0 Z" fill="#7ba8d5"/>
<path d="M530.6,499 L535.6,499 Q538,508 548.7,517.3 Q541,516 538,518 Q536,520 534.3,523.6 Q531,518 531.2,515 Z" fill="#7ba8d5"/>
<path d="M482.5,387.4 L503.3,375.6 Q499.1,382.0 496.9,388.4 Q498.4,395.2 500.0,402.0 Z" fill="#7ba8d5"/>
<path d="M560.0,457.1 L560.2,456.4 L560.6,455.4 L561.0,454.1 L561.5,452.6 L561.9,450.8 L562.3,449.0 L562.6,447.0 L562.6,444.9 L562.4,442.8 L562.1,440.8 L561.6,438.8 L561.1,436.7 L560.5,434.7 L560.0,432.8 L559.4,430.9 L558.9,429.1 L558.5,427.2 L558.0,425.3 L557.5,423.4 L557.0,421.6 L556.5,419.7 L556.0,417.9 L555.6,416.0 L555.2,414.2 L554.8,412.3 L554.4,410.5 L554.0,408.6 L553.6,406.8 L553.3,405.0 L553.0,403.3 L552.8,401.5 L552.7,399.8 L552.6,398.1 L552.6,396.4 L552.7,394.6 L552.8,392.8 L553.0,391.0 L553.2,389.2 L553.5,387.4 L553.7,385.6 L554.0,383.7 L554.4,381.9 L554.8,380.0 L555.2,378.2 L555.6,376.3 L556.1,374.5 L556.6,372.7 L557.1,371.0 L557.6,369.3 L558.1,367.5 L558.6,365.9 L559.2,364.2 L559.8,362.7 L560.4,361.3 L561.0,360.0 L561.6,358.8 L562.3,357.7 L563.1,356.7 L563.8,355.8 L564.6,354.9 L565.5,354.1 L566.4,353.3 L567.4,352.5 L568.5,351.7 L569.5,351.0 L570.7,350.2 L571.9,349.5 L573.2,348.8 L574.6,348.2 L575.8,347.6 L577.1,347.0 L578.2,346.6 L579.2,346.2 L580.3,345.9 L581.3,345.6 L582.3,345.4 L583.3,345.2 L584.2,345.0 L585.0,344.8 L585.7,344.7 L584.3,338.3 L583.8,338.4 L583.0,338.6 L582.1,338.7 L581.0,339.0 L579.8,339.2 L578.5,339.5 L577.1,340.0 L575.8,340.4 L574.5,341.0 L573.1,341.5 L571.7,342.2 L570.2,342.9 L568.8,343.7 L567.3,344.5 L565.9,345.4 L564.5,346.3 L563.3,347.2 L562.1,348.1 L561.0,349.1 L559.9,350.1 L558.8,351.2 L557.7,352.5 L556.7,353.8 L555.8,355.2 L554.9,356.8 L554.1,358.4 L553.3,360.1 L552.7,361.9 L552.0,363.7 L551.5,365.4 L550.9,367.2 L550.3,369.0 L549.8,370.8 L549.3,372.7 L548.7,374.6 L548.3,376.6 L547.8,378.5 L547.4,380.5 L547.0,382.5 L546.7,384.4 L546.3,386.4 L546.1,388.3 L545.8,390.2 L545.6,392.2 L545.4,394.1 L545.3,396.1 L545.3,398.1 L545.3,400.2 L545.5,402.2 L545.7,404.2 L546.0,406.2 L546.3,408.2 L546.7,410.1 L547.0,412.0 L547.4,413.9 L547.8,415.8 L548.2,417.7 L548.7,419.6 L549.1,421.5 L549.6,423.4 L550.1,425.3 L550.6,427.2 L551.0,429.1 L551.5,430.9 L552.0,432.9 L552.5,434.9 L553.1,436.9 L553.6,438.8 L554.0,440.6 L554.4,442.3 L554.7,443.8 L554.8,445.1 L554.7,446.3 L554.5,447.6 L554.2,449.0 L553.9,450.3 L553.4,451.6 L553.0,452.8 L552.6,454.0 L552.4,454.9 Z" fill="#7ba8d5"/>
<path d="M551.2,454 Q549,465 543.7,472.4 Q550,471 555,473.7 L558,477.4 Q560,470 561.2,454 Z" fill="#7ba8d5"/>
<path d="M603.2,339.0 L581.5,329.5 Q586.4,335.4 589.5,341.2 Q589.0,347.9 588.5,354.5 Z" fill="#7ba8d5"/>
<path d="M691.3,535.5 L689.9,536.3 L688.0,537.3 L685.7,538.5 L683.2,539.8 L680.5,541.2 L677.9,542.7 L675.4,544.0 L673.1,545.3 L671.1,546.6 L669.2,547.8 L667.3,549.0 L665.6,550.2 L664.0,551.4 L662.3,552.5 L660.7,553.5 L659.1,554.4 L657.4,555.4 L655.7,556.3 L654.0,557.2 L652.3,558.0 L650.6,558.8 L648.9,559.5 L647.3,560.3 L645.6,560.9 L643.9,561.6 L642.2,562.2 L640.6,562.8 L639.0,563.3 L637.3,563.8 L635.7,564.2 L634.0,564.6 L632.4,565.0 L630.7,565.3 L629.0,565.6 L627.3,565.8 L625.6,566.0 L623.9,566.2 L622.2,566.3 L620.5,566.5 L618.8,566.5 L617.1,566.6 L615.5,566.6 L613.8,566.7 L612.2,566.6 L610.6,566.6 L609.0,566.5 L607.5,566.4 L606.0,566.2 L604.4,566.0 L602.9,565.7 L601.3,565.5 L599.8,565.1 L598.3,564.8 L596.9,564.4 L595.5,564.0 L594.3,563.6 L593.2,563.2 L592.2,562.8 L591.3,562.4 L590.5,562.0 L589.7,561.5 L588.8,561.0 L588.0,560.4 L587.0,559.8 L586.1,559.1 L585.2,558.5 L584.3,557.8 L583.4,557.0 L582.5,556.3 L581.7,555.5 L580.9,554.7 L580.2,553.8 L579.5,552.9 L578.7,551.9 L578.0,550.8 L577.3,549.6 L576.6,548.4 L575.9,547.2 L575.3,546.1 L574.7,545.0 L574.2,544.1 L573.8,543.2 L573.4,542.2 L573.1,541.3 L572.7,540.5 L572.4,539.7 L572.2,539.0 L571.9,538.4 L564.1,541.6 L564.3,542.1 L564.5,542.7 L564.8,543.5 L565.2,544.5 L565.6,545.5 L566.1,546.7 L566.7,547.8 L567.3,549.0 L567.9,550.1 L568.6,551.3 L569.3,552.6 L570.1,553.9 L571.0,555.3 L571.9,556.6 L572.8,557.9 L573.8,559.2 L574.8,560.3 L575.9,561.4 L576.9,562.4 L578.0,563.3 L579.1,564.2 L580.2,565.1 L581.3,565.8 L582.4,566.6 L583.4,567.3 L584.4,568.0 L585.5,568.6 L586.6,569.2 L587.8,569.8 L589.0,570.4 L590.3,570.9 L591.7,571.4 L593.2,571.8 L594.7,572.3 L596.4,572.7 L598.1,573.1 L599.8,573.4 L601.5,573.7 L603.3,574.0 L605.0,574.2 L606.8,574.4 L608.5,574.5 L610.3,574.6 L612.1,574.6 L613.8,574.6 L615.6,574.6 L617.4,574.5 L619.2,574.5 L621.0,574.3 L622.8,574.2 L624.7,574.0 L626.5,573.8 L628.4,573.6 L630.3,573.3 L632.2,573.0 L634.0,572.6 L635.9,572.2 L637.7,571.7 L639.5,571.2 L641.3,570.7 L643.1,570.1 L644.8,569.4 L646.6,568.8 L648.4,568.1 L650.2,567.3 L652.0,566.5 L653.8,565.7 L655.6,564.8 L657.5,563.9 L659.3,563.0 L661.1,562.0 L662.9,561.0 L664.7,559.9 L666.5,558.7 L668.2,557.5 L669.9,556.3 L671.6,555.2 L673.3,554.0 L675.0,552.8 L676.9,551.7 L679.0,550.4 L681.4,549.1 L684.0,547.7 L686.6,546.2 L689.1,544.9 L691.4,543.7 L693.3,542.6 L694.7,541.9 Z" fill="#7ba8d5"/>
<path d="M690,535 L708.7,527.5 Q716,524 721.2,521.8 Q728,519 733.7,518.7 L749.3,518.1 Q742,522 742.4,528.7 Q742.5,534 747.4,539.3 Q740,536 736.8,534.3 Q730,531.5 727.4,531.8 Q718,532 711.8,533 L696.2,540 L688,543.5 Z" fill="#7ba8d5"/>
<path d="M560.4,520.6 L586.0,534.0 Q576.8,535.8 568.7,537.6 Q562.9,545.0 557.0,552.5 Z" fill="#7ba8d5"/>
<path d="M903.5,490.7 L902.9,490.2 L901.9,489.6 L900.8,488.8 L899.6,487.9 L898.3,487.0 L896.9,486.1 L895.7,485.3 L894.5,484.5 L893.5,483.9 L892.6,483.3 L891.7,482.7 L890.7,482.2 L889.7,481.6 L888.7,481.1 L887.5,480.6 L886.2,480.1 L884.9,479.7 L883.5,479.3 L882.0,478.9 L880.5,478.6 L878.9,478.3 L877.4,478.1 L875.9,477.8 L874.3,477.6 L872.8,477.5 L871.3,477.4 L869.7,477.3 L868.2,477.2 L866.7,477.2 L865.1,477.2 L863.6,477.2 L862.0,477.3 L860.5,477.3 L858.9,477.4 L857.3,477.6 L855.7,477.7 L854.2,477.9 L852.6,478.1 L851.0,478.3 L849.4,478.5 L847.9,478.8 L846.3,479.0 L844.7,479.3 L843.0,479.6 L841.4,479.9 L839.8,480.3 L838.1,480.7 L836.5,481.2 L834.9,481.7 L833.3,482.2 L831.6,482.8 L830.1,483.5 L828.5,484.1 L827.0,484.8 L825.6,485.4 L824.2,486.1 L822.9,486.7 L821.6,487.5 L820.3,488.3 L819.1,489.0 L818.0,489.7 L817.1,490.3 L816.4,490.8 L815.8,491.2 L820.2,497.8 L820.8,497.4 L821.6,496.9 L822.5,496.3 L823.4,495.6 L824.5,494.9 L825.6,494.2 L826.7,493.5 L827.8,492.9 L828.9,492.3 L830.2,491.7 L831.6,491.1 L833.0,490.4 L834.4,489.8 L835.9,489.3 L837.3,488.7 L838.7,488.2 L840.1,487.8 L841.5,487.4 L843.0,487.0 L844.5,486.7 L846.0,486.3 L847.5,486.0 L849.1,485.7 L850.6,485.5 L852.1,485.2 L853.6,485.0 L855.1,484.7 L856.5,484.5 L858.0,484.3 L859.5,484.2 L860.9,484.0 L862.4,483.9 L863.8,483.9 L865.3,483.8 L866.7,483.8 L868.1,483.7 L869.5,483.7 L870.9,483.8 L872.3,483.9 L873.7,484.0 L875.1,484.1 L876.5,484.3 L877.9,484.5 L879.3,484.7 L880.7,485.0 L882.0,485.2 L883.2,485.6 L884.4,485.9 L885.3,486.2 L886.2,486.6 L887.0,486.9 L887.9,487.3 L888.7,487.8 L889.5,488.3 L890.5,488.9 L891.5,489.5 L892.6,490.1 L893.8,490.9 L895.1,491.7 L896.4,492.6 L897.6,493.4 L898.8,494.2 L899.7,494.8 L900.5,495.3 Z" fill="#7ba8d5"/>
<path d="M899,489.5 Q908,494 916.6,500.8 Q925,507 933.3,512.4 Q941,516.5 950,516.6 Q957,516 962.4,515 L972.4,511.6 Q966,513.5 964.9,516.6 Q961.5,519 962,520.8 Q962.5,524 965.7,526.6 Q959,526.5 954,525.3 Q945,524 937.4,520.8 Q928,516.5 920.8,511.6 Q911,505 904.2,498.3 L898,495 Z" fill="#7ba8d5"/>
<path d="M795.6,511.8 L806.3,490.3 Q807.4,495.8 810.5,501.4 Q817.5,503.4 824.5,505.5 Z" fill="#7ba8d5"/>
<path d="M489.0,455.0 L489.5,454.3 L490.1,453.2 L490.8,452.0 L491.6,450.7 L492.4,449.3 L493.3,448.0 L494.2,446.9 L495.0,446.0 L495.8,445.3 L496.6,444.7 L497.4,444.2 L498.2,443.8 L499.1,443.5 L500.0,443.3 L501.0,443.1 L502.0,443.0 L503.1,443.0 L504.3,443.1 L505.5,443.2 L506.8,443.4 L508.1,443.7 L509.4,444.1 L510.7,444.5 L512.0,445.0 L513.3,445.6 L514.6,446.3 L515.9,447.1 L517.2,447.9 L518.5,448.8 L519.8,449.6 L520.9,450.4 L522.0,451.0 L523.0,451.5 L523.9,452.0 L524.8,452.5 L525.6,452.9 L526.4,453.2 L527.0,453.5 L527.6,453.8 L528.0,454.0" stroke="#7ba8d5" stroke-width="1.7" fill="none" stroke-linecap="round"/><path d="M531.0,455.4 L524.8,455.6 L528.0,454.0 L527.2,450.5 Z" fill="#7ba8d5"/><path d="M487.3,457.8 L487.7,451.7 L489.0,455.0 L492.5,454.6 Z" fill="#7ba8d5"/>
<path d="M567.0,443.0 L568.0,442.6 L569.3,442.1 L570.9,441.4 L572.6,440.7 L574.5,439.9 L576.4,439.2 L578.2,438.6 L580.0,438.0 L581.7,437.5 L583.5,436.9 L585.4,436.4 L587.2,435.9 L589.1,435.5 L590.8,435.2 L592.5,435.0 L594.0,435.0 L595.4,435.1 L596.7,435.4 L598.0,435.9 L599.2,436.4 L600.3,437.0 L601.3,437.6 L602.2,438.3 L603.0,439.0 L603.7,439.8 L604.2,440.7 L604.7,441.7 L605.1,442.8 L605.4,443.8 L605.6,444.7 L605.8,445.4 L606.0,446.0" stroke="#7ba8d5" stroke-width="1.7" fill="none" stroke-linecap="round"/><path d="M606.9,449.2 L602.7,444.7 L606.0,446.0 L608.0,443.1 Z" fill="#7ba8d5"/><path d="M563.9,444.2 L568.0,439.6 L567.0,443.0 L570.1,444.8 Z" fill="#7ba8d5"/>
<path d="M489.0,502.0 L489.2,501.3 L489.4,500.4 L489.7,499.4 L490.0,498.2 L490.4,497.0 L490.8,495.8 L491.4,494.8 L492.0,494.0 L492.7,493.3 L493.6,492.8 L494.5,492.2 L495.4,491.8 L496.5,491.5 L497.6,491.2 L498.8,491.1 L500.0,491.0 L501.3,491.1 L502.8,491.3 L504.3,491.6 L505.9,492.0 L507.5,492.5 L509.0,493.0 L510.6,493.5 L512.0,494.0 L513.4,494.6 L514.8,495.2 L516.1,495.9 L517.4,496.6 L518.7,497.3 L519.9,498.0 L521.0,498.6 L522.0,499.0 L522.9,499.3 L523.7,499.6 L524.5,499.7 L525.1,499.8 L525.7,499.9 L526.2,499.9 L526.6,500.0 L527.0,500.0" stroke="#7ba8d5" stroke-width="1.7" fill="none" stroke-linecap="round"/><path d="M530.3,500.4 L524.5,502.5 L527.0,500.0 L525.1,497.0 Z" fill="#7ba8d5"/><path d="M488.1,505.2 L486.9,499.1 L489.0,502.0 L492.3,500.6 Z" fill="#7ba8d5"/>
<path d="M567.0,493.0 L568.0,492.5 L569.3,491.9 L570.9,491.1 L572.6,490.2 L574.5,489.3 L576.4,488.5 L578.2,487.7 L580.0,487.0 L581.7,486.4 L583.5,485.8 L585.4,485.2 L587.2,484.6 L589.1,484.2 L590.8,483.8 L592.5,483.6 L594.0,483.6 L595.4,483.8 L596.7,484.1 L598.0,484.6 L599.2,485.2 L600.3,485.8 L601.3,486.5 L602.2,487.3 L603.0,488.0 L603.7,488.8 L604.2,489.7 L604.7,490.7 L605.1,491.8 L605.4,492.8 L605.6,493.7 L605.8,494.4 L606.0,495.0" stroke="#7ba8d5" stroke-width="1.7" fill="none" stroke-linecap="round"/><path d="M607.0,498.2 L602.7,493.7 L606.0,495.0 L608.0,492.1 Z" fill="#7ba8d5"/><path d="M564.0,494.5 L567.7,489.5 L567.0,493.0 L570.2,494.5 Z" fill="#7ba8d5"/>
<path d="M493.5,425.5 L495.7,429.6 L491.3,433.7 L495.7,437.8 L491.3,441.8 L495.7,445.9 L491.3,450.0" stroke="#e39434" stroke-width="1.3" fill="none"/>
<path d="M661.7,379 L663.9,383.5 L659.5,388.0 L663.9,392.5 L659.5,397.0 L663.9,401.5 L659.5,406.0" stroke="#e39434" stroke-width="1.3" fill="none"/>
<path d="M661.7,422.7 L663.9,426.9 L659.5,431.1 L663.9,435.4 L659.5,439.6 L663.9,443.8 L659.5,448.0" stroke="#e39434" stroke-width="1.3" fill="none"/>
<path d="M751.4,369 L753.6,373.2 L749.2,377.3 L753.6,381.5 L749.2,385.7 L753.6,389.8 L749.2,394.0" stroke="#e39434" stroke-width="1.3" fill="none"/>
<path d="M474.0,452.0 L473.4,452.3 L472.6,452.8 L471.7,453.3 L470.7,453.9 L469.6,454.5 L468.4,455.1 L467.2,455.6 L466.0,456.0 L464.8,456.3 L463.5,456.6 L462.1,456.9 L460.7,457.1 L459.3,457.2 L457.8,457.2 L456.4,457.2 L455.0,457.0 L453.6,456.7 L452.2,456.2 L450.7,455.7 L449.2,455.1 L447.8,454.4 L446.5,453.6 L445.2,452.8 L444.0,452.0 L442.9,451.1 L441.8,450.0 L440.8,448.9 L439.8,447.7 L438.9,446.5 L438.2,445.5 L437.5,444.6 L437.0,444.0" stroke="#e39434" stroke-width="1.7" fill="none" stroke-linecap="round"/><path d="M435.0,441.4 L440.7,443.9 L437.0,444.0 L436.0,447.6 Z" fill="#e39434"/>
<path d="M474.0,507.0 L473.4,507.3 L472.6,507.8 L471.7,508.3 L470.7,508.9 L469.6,509.5 L468.4,510.1 L467.2,510.6 L466.0,511.0 L464.8,511.3 L463.5,511.6 L462.1,511.9 L460.7,512.1 L459.3,512.2 L457.8,512.2 L456.4,512.2 L455.0,512.0 L453.6,511.7 L452.2,511.2 L450.7,510.7 L449.2,510.1 L447.8,509.4 L446.5,508.6 L445.2,507.8 L444.0,507.0 L442.9,506.1 L441.8,505.0 L440.8,503.9 L439.8,502.7 L438.9,501.5 L438.2,500.5 L437.5,499.6 L437.0,499.0" stroke="#e39434" stroke-width="1.7" fill="none" stroke-linecap="round"/><path d="M435.0,496.4 L440.7,498.9 L437.0,499.0 L436.0,502.6 Z" fill="#e39434"/>
<path d="M693.0,437.0 L693.5,437.0 L694.2,436.9 L695.1,436.9 L696.0,436.8 L697.0,436.7 L698.0,436.6 L699.0,436.3 L700.0,436.0 L701.0,435.5 L701.9,435.0 L702.9,434.3 L703.9,433.6 L705.0,432.8 L706.0,432.1 L707.0,431.5 L708.0,431.0 L709.0,430.6 L710.0,430.1 L711.0,429.7 L711.9,429.4 L712.9,429.1 L713.9,428.9 L715.0,428.8 L716.0,428.8 L717.1,428.9 L718.3,429.1 L719.5,429.4 L720.7,429.8 L721.9,430.2 L723.0,430.7 L724.1,431.3 L725.0,432.0 L725.9,432.8 L726.6,433.8 L727.4,435.0 L728.1,436.2 L728.7,437.4 L729.2,438.4 L729.6,439.3 L730.0,440.0" stroke="#e39434" stroke-width="1.7" fill="none" stroke-linecap="round"/><path d="M731.7,443.2 L726.1,439.3 L730.0,440.0 L731.7,436.4 Z" fill="#e39434"/><path d="M689.4,437.3 L695.2,433.6 L693.0,437.0 L695.6,440.0 Z" fill="#e39434"/>
<path d="M807.0,375.0 L807.5,375.5 L808.2,376.1 L809.0,376.9 L809.9,377.8 L810.8,378.6 L811.9,379.5 L812.9,380.3 L814.0,381.0 L815.1,381.6 L816.3,382.3 L817.5,382.9 L818.8,383.5 L820.1,384.0 L821.4,384.5 L822.7,384.8 L824.0,385.0 L825.3,385.1 L826.6,385.0 L827.9,384.8 L829.2,384.6 L830.5,384.2 L831.8,383.9 L832.9,383.4 L834.0,383.0 L835.0,382.5 L835.8,382.0 L836.6,381.4 L837.4,380.8 L838.1,380.1 L838.7,379.4 L839.4,378.7 L840.0,378.0 L840.6,377.3 L841.2,376.4 L841.8,375.6 L842.4,374.7 L842.9,373.9 L843.3,373.1 L843.7,372.5 L844.0,372.0" stroke="#e39434" stroke-width="1.7" fill="none" stroke-linecap="round"/><path d="M845.9,368.9 L845.5,375.7 L844.0,372.0 L840.0,372.4 Z" fill="#e39434"/><path d="M804.4,372.5 L810.9,374.3 L807.0,375.0 L806.5,379.0 Z" fill="#e39434"/>
<path d="M807.0,430.0 L807.5,430.5 L808.2,431.1 L809.0,431.9 L809.9,432.8 L810.8,433.6 L811.9,434.5 L812.9,435.3 L814.0,436.0 L815.1,436.6 L816.3,437.3 L817.5,437.9 L818.8,438.5 L820.1,439.0 L821.4,439.5 L822.7,439.8 L824.0,440.0 L825.3,440.1 L826.6,440.0 L827.9,439.8 L829.2,439.6 L830.5,439.2 L831.8,438.9 L832.9,438.4 L834.0,438.0 L835.0,437.5 L835.8,437.0 L836.6,436.4 L837.4,435.8 L838.1,435.1 L838.7,434.4 L839.4,433.7 L840.0,433.0 L840.6,432.3 L841.2,431.4 L841.8,430.6 L842.4,429.7 L842.9,428.9 L843.3,428.1 L843.7,427.5 L844.0,427.0" stroke="#e39434" stroke-width="1.7" fill="none" stroke-linecap="round"/><path d="M845.9,423.9 L845.5,430.7 L844.0,427.0 L840.0,427.4 Z" fill="#e39434"/><path d="M804.4,427.5 L810.9,429.3 L807.0,430.0 L806.5,434.0 Z" fill="#e39434"/>
<text x="322.5" y="388.8" font-family="Liberation Sans" font-size="13.6" fill="#111" stroke="#111" stroke-width="0.6" textLength="154" lengthAdjust="spacingAndGlyphs">Located in Northern-west</text>
<text x="980" y="508.5" font-family="Liberation Sans" font-size="13.6" fill="#111" stroke="#111" stroke-width="0.55" textLength="63.3" lengthAdjust="spacingAndGlyphs">Wind from</text>
<text x="980" y="525.8" font-family="Liberation Sans" font-size="13.4" fill="#111" stroke="#111" stroke-width="0.55" textLength="143" lengthAdjust="spacingAndGlyphs">Southern-east direction</text>
<defs><radialGradient id="glow"><stop offset="0" stop-color="#ffd83a" stop-opacity="1"/><stop offset="0.44" stop-color="#ffd83a" stop-opacity="0.9"/><stop offset="0.52" stop-color="#ffd860" stop-opacity="0.6"/><stop offset="0.7" stop-color="#ffe08a" stop-opacity="0.42"/><stop offset="0.85" stop-color="#ffeab5" stop-opacity="0.2"/><stop offset="1" stop-color="#fff6e0" stop-opacity="0"/></radialGradient></defs>
<circle cx="1285.2" cy="198.1" r="52" fill="url(#glow)"/>
<circle cx="1285.2" cy="198.1" r="22.8" fill="#fed22f"/>
<circle cx="2221.5" cy="198" r="52" fill="url(#glow)"/>
<circle cx="2221.5" cy="198" r="22.8" fill="#fed22f"/>
<path d="M1335.0,160.6 C1339.3,158.4 1349.2,153.7 1360.8,147.5 C1372.4,141.3 1389.9,130.9 1404.6,123.6 C1419.3,116.3 1434.2,109.8 1449.0,103.7 C1463.8,97.6 1478.4,92.0 1493.6,86.7 C1508.8,81.4 1524.4,76.3 1539.9,71.8 C1555.4,67.3 1571.0,63.4 1586.7,59.9 C1602.4,56.4 1618.2,53.4 1634.1,50.9 C1650.0,48.4 1665.8,46.4 1681.9,44.9 C1698.0,43.4 1720.7,42.4 1730.5,41.9 C1740.3,41.4 1739.2,41.8 1741.0,41.8" stroke="#f7d239" stroke-width="2.3" fill="none" stroke-dasharray="12,11.9"/>
<path d="M1749.0,41.8 C1754.0,41.9 1765.8,41.7 1778.8,42.3 C1791.8,42.9 1810.9,43.9 1827.0,45.3 C1843.1,46.7 1859.4,48.2 1875.4,50.5 C1891.4,52.8 1907.0,55.6 1922.8,58.9 C1938.6,62.2 1954.4,66.2 1970.0,70.5 C1985.6,74.8 2001.0,79.7 2016.3,84.8 C2031.5,89.9 2046.6,95.1 2061.5,101.1 C2076.4,107.1 2090.2,113.3 2105.9,120.6 C2121.7,127.8 2147.7,140.6 2156.0,144.6" stroke="#f7d239" stroke-width="2.3" fill="none" stroke-dasharray="12,11.9"/>
<path d="M1521.6,325.7 L1620,450.5" stroke="#f7d239" stroke-width="2.3" fill="none" stroke-dasharray="12,12.2"/>
<path d="M1521.6,349.9 L1620,474.8" stroke="#f7d239" stroke-width="2.3" fill="none" stroke-dasharray="12,12.2"/>
<path d="M1521.6,385.8 L1620,510.5" stroke="#f7d239" stroke-width="2.3" fill="none" stroke-dasharray="12,12.2"/>
<path d="M1593.4,474.3 L1556,507" stroke="#f7d239" stroke-width="2.3" fill="none" stroke-dasharray="11,12.2"/>
<path d="M1594,498.2 L1555,532.5" stroke="#f7d239" stroke-width="2.3" fill="none" stroke-dasharray="11,12.2"/>
<path d="M1611,519 L1556,569" stroke="#f7d239" stroke-width="2.3" fill="none" stroke-dasharray="11,12.2"/>
<path d="M2092.1,245.6 L1994,371.5" stroke="#f7d239" stroke-width="2.3" fill="none" stroke-dasharray="12,12.2"/>
<path d="M2092.1,269.5 L1994,395.5" stroke="#f7d239" stroke-width="2.3" fill="none" stroke-dasharray="12,12.2"/>
<path d="M2092.1,305.9 L1994,431.5" stroke="#f7d239" stroke-width="2.3" fill="none" stroke-dasharray="12,12.2"/>
<path d="M2001.6,377.7 L2057,430" stroke="#f7d239" stroke-width="2.3" fill="none" stroke-dasharray="11,12.2"/>
<path d="M2019.4,418.7 L2057,454.5" stroke="#f7d239" stroke-width="2.3" fill="none" stroke-dasharray="11,12.2"/>
<path d="M2001.6,437.6 L2057,490" stroke="#f7d239" stroke-width="2.3" fill="none" stroke-dasharray="11,12.2"/>
<path d="M1596.5,480.5 L1602.8,489.9 L1610,481.6 M2001.6,402.1 L2010.5,409.9 L2018.3,402.1" stroke="#f7d239" stroke-width="2.4" fill="none"/>
<path d="M1550.8,496.1 V513.8 H1568.5 M1549.8,523.2 V538.8 H1568.5 M1549.8,556.4 V576.2 H1568.5 M1550.8,513.8 L1558,506.5 M1549.8,538.8 L1556,533 M1549.8,576.2 L1557,569.5" stroke="#f7d239" stroke-width="2.8" fill="none"/>
<path d="M2062.6,415.4 V435.4 H2043.8 M2062.6,439.8 V459.8 H2043.8 M2062.6,475.3 V495.2 H2043.8 M2062.6,435.4 L2056,429 M2062.6,459.8 L2056,453.5 M2062.6,495.2 L2056,489" stroke="#f7d239" stroke-width="2.8" fill="none"/>
<text x="1589.6" y="324.5" font-family="Liberation Sans" font-size="12.5" fill="#111" stroke="#111" stroke-width="0.6" textLength="28.6" lengthAdjust="spacingAndGlyphs">West</text>
<text x="2000" y="324.6" font-family="Liberation Sans" font-size="12.5" fill="#111" stroke="#111" stroke-width="0.6" textLength="24.3" lengthAdjust="spacingAndGlyphs">East</text>
<text x="307.5" y="712.6" font-family="Liberation Sans" font-size="41" fill="#231f20" stroke="#fff" stroke-width="0.5" textLength="501.5" lengthAdjust="spacingAndGlyphs">Wind accelerated shape</text>
<text x="1391" y="712.6" font-family="Liberation Sans" font-size="41" fill="#231f20" stroke="#fff" stroke-width="0.5" textLength="606" lengthAdjust="spacingAndGlyphs">Block the direct solar radiation</text>
</svg></body></html>
